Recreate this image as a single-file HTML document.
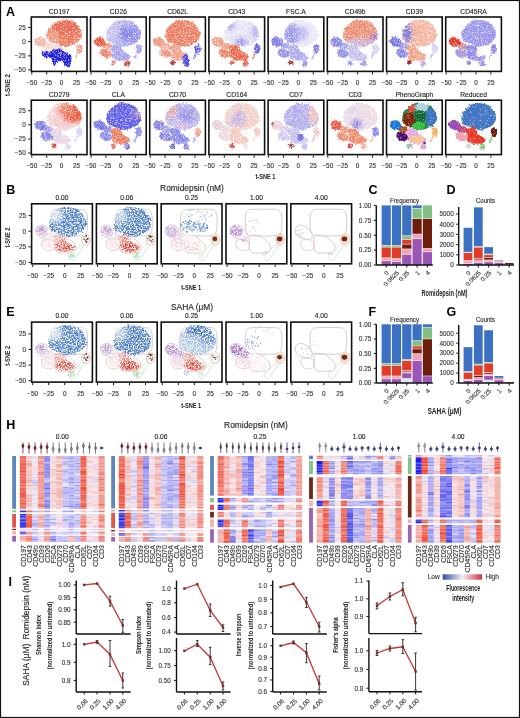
<!DOCTYPE html>
<html><head><meta charset="utf-8"><style>
html,body{margin:0;padding:0;background:#fff;}
svg{display:block;filter:blur(0.3px);}
text{font-family:"Liberation Sans",sans-serif;}
</style></head><body>
<svg width="520" height="718" viewBox="0 0 520 718">
<rect x="0" y="0" width="520" height="718" fill="#fff"/>
<defs>
<filter id="tx" x="-3%" y="-3%" width="106%" height="106%" color-interpolation-filters="sRGB">
<feTurbulence type="fractalNoise" baseFrequency="0.5" numOctaves="2" seed="2" result="t"/>
<feDisplacementMap in="SourceGraphic" in2="t" scale="3.5" xChannelSelector="R" yChannelSelector="G" result="d"/>
<feTurbulence type="fractalNoise" baseFrequency="1.6" numOctaves="1" seed="5" result="n"/>
<feColorMatrix in="n" type="matrix" values="0 0 0 0 1  0 0 0 0 1  0 0 0 0 1  3 0 0 0 -1.45" result="w"/>
<feComposite in="w" in2="d" operator="in" result="w2"/>
<feMerge><feMergeNode in="d"/><feMergeNode in="w2"/></feMerge>
</filter>
<filter id="tx2" x="-3%" y="-3%" width="106%" height="106%" color-interpolation-filters="sRGB">
<feTurbulence type="fractalNoise" baseFrequency="0.5" numOctaves="2" seed="2" result="t"/>
<feDisplacementMap in="SourceGraphic" in2="t" scale="3" xChannelSelector="R" yChannelSelector="G" result="d"/>
<feTurbulence type="fractalNoise" baseFrequency="1.6" numOctaves="1" seed="5" result="n"/>
<feColorMatrix in="n" type="matrix" values="0 0 0 0 1  0 0 0 0 1  0 0 0 0 1  3 0 0 0 -1.75" result="w"/>
<feComposite in="w" in2="d" operator="in" result="w2"/>
<feMerge><feMergeNode in="d"/><feMergeNode in="w2"/></feMerge>
</filter>
<filter id="tx3" x="-3%" y="-3%" width="106%" height="106%" color-interpolation-filters="sRGB">
<feTurbulence type="fractalNoise" baseFrequency="0.5" numOctaves="2" seed="3" result="t"/>
<feDisplacementMap in="SourceGraphic" in2="t" scale="3.5" xChannelSelector="R" yChannelSelector="G" result="d"/>
<feTurbulence type="fractalNoise" baseFrequency="0.75" numOctaves="2" seed="9" result="n"/>
<feColorMatrix in="n" type="matrix" values="0 0 0 0 1  0 0 0 0 1  0 0 0 0 1  4.5 0 0 0 -1.9" result="w"/>
<feComposite in="w" in2="d" operator="in" result="w2"/>
<feMerge><feMergeNode in="d"/><feMergeNode in="w2"/></feMerge>
</filter>
<filter id="sb" x="-50%" y="-50%" width="200%" height="200%"><feGaussianBlur stdDeviation="2.2"/></filter>
</defs>
<text x="6" y="15.8" font-size="12.5" text-anchor="start" fill="#000" font-weight="bold">A</text>
<text x="59.15" y="13.6" font-size="6.7" text-anchor="middle" fill="#222" stroke="#222" stroke-width="0.12">CD197</text>
<rect x="31.3" y="17" width="55.7" height="54.4" fill="none" stroke="#111" stroke-width="1.6"/>
<line x1="31.8" y1="72.2" x2="31.8" y2="74.5" stroke="#111" stroke-width="1"/>
<text x="31.8" y="84.8" font-size="6.4" text-anchor="middle" fill="#333" stroke="#333" stroke-width="0.12">−50</text>
<line x1="46.7" y1="72.2" x2="46.7" y2="74.5" stroke="#111" stroke-width="1"/>
<text x="46.7" y="84.8" font-size="6.4" text-anchor="middle" fill="#333" stroke="#333" stroke-width="0.12">−25</text>
<line x1="61.6" y1="72.2" x2="61.6" y2="74.5" stroke="#111" stroke-width="1"/>
<text x="61.6" y="84.8" font-size="6.4" text-anchor="middle" fill="#333" stroke="#333" stroke-width="0.12">0</text>
<line x1="76.5" y1="72.2" x2="76.5" y2="74.5" stroke="#111" stroke-width="1"/>
<text x="76.5" y="84.8" font-size="6.4" text-anchor="middle" fill="#333" stroke="#333" stroke-width="0.12">25</text>
<line x1="28.2" y1="27.5" x2="30.5" y2="27.5" stroke="#111" stroke-width="1"/>
<text x="25.7" y="29.8" font-size="6.4" text-anchor="end" fill="#333" stroke="#333" stroke-width="0.12">25</text>
<line x1="28.2" y1="41.6" x2="30.5" y2="41.6" stroke="#111" stroke-width="1"/>
<text x="25.7" y="43.9" font-size="6.4" text-anchor="end" fill="#333" stroke="#333" stroke-width="0.12">0</text>
<line x1="28.2" y1="55.8" x2="30.5" y2="55.8" stroke="#111" stroke-width="1"/>
<text x="25.7" y="58.1" font-size="6.4" text-anchor="end" fill="#333" stroke="#333" stroke-width="0.12">−25</text>
<line x1="28.2" y1="69.8" x2="30.5" y2="69.8" stroke="#111" stroke-width="1"/>
<text x="25.7" y="72.1" font-size="6.4" text-anchor="end" fill="#333" stroke="#333" stroke-width="0.12">−50</text>
<text x="118.35" y="13.6" font-size="6.7" text-anchor="middle" fill="#222" stroke="#222" stroke-width="0.12">CD26</text>
<rect x="90.5" y="17" width="55.7" height="54.4" fill="none" stroke="#111" stroke-width="1.6"/>
<line x1="91" y1="72.2" x2="91" y2="74.5" stroke="#111" stroke-width="1"/>
<text x="91" y="84.8" font-size="6.4" text-anchor="middle" fill="#333" stroke="#333" stroke-width="0.12">−50</text>
<line x1="105.9" y1="72.2" x2="105.9" y2="74.5" stroke="#111" stroke-width="1"/>
<text x="105.9" y="84.8" font-size="6.4" text-anchor="middle" fill="#333" stroke="#333" stroke-width="0.12">−25</text>
<line x1="120.8" y1="72.2" x2="120.8" y2="74.5" stroke="#111" stroke-width="1"/>
<text x="120.8" y="84.8" font-size="6.4" text-anchor="middle" fill="#333" stroke="#333" stroke-width="0.12">0</text>
<line x1="135.7" y1="72.2" x2="135.7" y2="74.5" stroke="#111" stroke-width="1"/>
<text x="135.7" y="84.8" font-size="6.4" text-anchor="middle" fill="#333" stroke="#333" stroke-width="0.12">25</text>
<text x="177.55" y="13.6" font-size="6.7" text-anchor="middle" fill="#222" stroke="#222" stroke-width="0.12">CD62L</text>
<rect x="149.7" y="17" width="55.7" height="54.4" fill="none" stroke="#111" stroke-width="1.6"/>
<line x1="150.2" y1="72.2" x2="150.2" y2="74.5" stroke="#111" stroke-width="1"/>
<text x="150.2" y="84.8" font-size="6.4" text-anchor="middle" fill="#333" stroke="#333" stroke-width="0.12">−50</text>
<line x1="165.1" y1="72.2" x2="165.1" y2="74.5" stroke="#111" stroke-width="1"/>
<text x="165.1" y="84.8" font-size="6.4" text-anchor="middle" fill="#333" stroke="#333" stroke-width="0.12">−25</text>
<line x1="180" y1="72.2" x2="180" y2="74.5" stroke="#111" stroke-width="1"/>
<text x="180" y="84.8" font-size="6.4" text-anchor="middle" fill="#333" stroke="#333" stroke-width="0.12">0</text>
<line x1="194.9" y1="72.2" x2="194.9" y2="74.5" stroke="#111" stroke-width="1"/>
<text x="194.9" y="84.8" font-size="6.4" text-anchor="middle" fill="#333" stroke="#333" stroke-width="0.12">25</text>
<text x="236.75" y="13.6" font-size="6.7" text-anchor="middle" fill="#222" stroke="#222" stroke-width="0.12">CD43</text>
<rect x="208.9" y="17" width="55.7" height="54.4" fill="none" stroke="#111" stroke-width="1.6"/>
<line x1="209.4" y1="72.2" x2="209.4" y2="74.5" stroke="#111" stroke-width="1"/>
<text x="209.4" y="84.8" font-size="6.4" text-anchor="middle" fill="#333" stroke="#333" stroke-width="0.12">−50</text>
<line x1="224.3" y1="72.2" x2="224.3" y2="74.5" stroke="#111" stroke-width="1"/>
<text x="224.3" y="84.8" font-size="6.4" text-anchor="middle" fill="#333" stroke="#333" stroke-width="0.12">−25</text>
<line x1="239.2" y1="72.2" x2="239.2" y2="74.5" stroke="#111" stroke-width="1"/>
<text x="239.2" y="84.8" font-size="6.4" text-anchor="middle" fill="#333" stroke="#333" stroke-width="0.12">0</text>
<line x1="254.1" y1="72.2" x2="254.1" y2="74.5" stroke="#111" stroke-width="1"/>
<text x="254.1" y="84.8" font-size="6.4" text-anchor="middle" fill="#333" stroke="#333" stroke-width="0.12">25</text>
<text x="295.95" y="13.6" font-size="6.7" text-anchor="middle" fill="#222" stroke="#222" stroke-width="0.12">FSC.A</text>
<rect x="268.1" y="17" width="55.7" height="54.4" fill="none" stroke="#111" stroke-width="1.6"/>
<line x1="268.6" y1="72.2" x2="268.6" y2="74.5" stroke="#111" stroke-width="1"/>
<text x="268.6" y="84.8" font-size="6.4" text-anchor="middle" fill="#333" stroke="#333" stroke-width="0.12">−50</text>
<line x1="283.5" y1="72.2" x2="283.5" y2="74.5" stroke="#111" stroke-width="1"/>
<text x="283.5" y="84.8" font-size="6.4" text-anchor="middle" fill="#333" stroke="#333" stroke-width="0.12">−25</text>
<line x1="298.4" y1="72.2" x2="298.4" y2="74.5" stroke="#111" stroke-width="1"/>
<text x="298.4" y="84.8" font-size="6.4" text-anchor="middle" fill="#333" stroke="#333" stroke-width="0.12">0</text>
<line x1="313.3" y1="72.2" x2="313.3" y2="74.5" stroke="#111" stroke-width="1"/>
<text x="313.3" y="84.8" font-size="6.4" text-anchor="middle" fill="#333" stroke="#333" stroke-width="0.12">25</text>
<text x="355.15" y="13.6" font-size="6.7" text-anchor="middle" fill="#222" stroke="#222" stroke-width="0.12">CD49b</text>
<rect x="327.3" y="17" width="55.7" height="54.4" fill="none" stroke="#111" stroke-width="1.6"/>
<line x1="327.8" y1="72.2" x2="327.8" y2="74.5" stroke="#111" stroke-width="1"/>
<text x="327.8" y="84.8" font-size="6.4" text-anchor="middle" fill="#333" stroke="#333" stroke-width="0.12">−50</text>
<line x1="342.7" y1="72.2" x2="342.7" y2="74.5" stroke="#111" stroke-width="1"/>
<text x="342.7" y="84.8" font-size="6.4" text-anchor="middle" fill="#333" stroke="#333" stroke-width="0.12">−25</text>
<line x1="357.6" y1="72.2" x2="357.6" y2="74.5" stroke="#111" stroke-width="1"/>
<text x="357.6" y="84.8" font-size="6.4" text-anchor="middle" fill="#333" stroke="#333" stroke-width="0.12">0</text>
<line x1="372.5" y1="72.2" x2="372.5" y2="74.5" stroke="#111" stroke-width="1"/>
<text x="372.5" y="84.8" font-size="6.4" text-anchor="middle" fill="#333" stroke="#333" stroke-width="0.12">25</text>
<text x="414.35" y="13.6" font-size="6.7" text-anchor="middle" fill="#222" stroke="#222" stroke-width="0.12">CD39</text>
<rect x="386.5" y="17" width="55.7" height="54.4" fill="none" stroke="#111" stroke-width="1.6"/>
<line x1="387" y1="72.2" x2="387" y2="74.5" stroke="#111" stroke-width="1"/>
<text x="387" y="84.8" font-size="6.4" text-anchor="middle" fill="#333" stroke="#333" stroke-width="0.12">−50</text>
<line x1="401.9" y1="72.2" x2="401.9" y2="74.5" stroke="#111" stroke-width="1"/>
<text x="401.9" y="84.8" font-size="6.4" text-anchor="middle" fill="#333" stroke="#333" stroke-width="0.12">−25</text>
<line x1="416.8" y1="72.2" x2="416.8" y2="74.5" stroke="#111" stroke-width="1"/>
<text x="416.8" y="84.8" font-size="6.4" text-anchor="middle" fill="#333" stroke="#333" stroke-width="0.12">0</text>
<line x1="431.7" y1="72.2" x2="431.7" y2="74.5" stroke="#111" stroke-width="1"/>
<text x="431.7" y="84.8" font-size="6.4" text-anchor="middle" fill="#333" stroke="#333" stroke-width="0.12">25</text>
<text x="473.55" y="13.6" font-size="6.7" text-anchor="middle" fill="#222" stroke="#222" stroke-width="0.12">CD45RA</text>
<rect x="445.7" y="17" width="55.7" height="54.4" fill="none" stroke="#111" stroke-width="1.6"/>
<line x1="446.2" y1="72.2" x2="446.2" y2="74.5" stroke="#111" stroke-width="1"/>
<text x="446.2" y="84.8" font-size="6.4" text-anchor="middle" fill="#333" stroke="#333" stroke-width="0.12">−50</text>
<line x1="461.1" y1="72.2" x2="461.1" y2="74.5" stroke="#111" stroke-width="1"/>
<text x="461.1" y="84.8" font-size="6.4" text-anchor="middle" fill="#333" stroke="#333" stroke-width="0.12">−25</text>
<line x1="476" y1="72.2" x2="476" y2="74.5" stroke="#111" stroke-width="1"/>
<text x="476" y="84.8" font-size="6.4" text-anchor="middle" fill="#333" stroke="#333" stroke-width="0.12">0</text>
<line x1="490.9" y1="72.2" x2="490.9" y2="74.5" stroke="#111" stroke-width="1"/>
<text x="490.9" y="84.8" font-size="6.4" text-anchor="middle" fill="#333" stroke="#333" stroke-width="0.12">25</text>
<text x="59.15" y="96.8" font-size="6.7" text-anchor="middle" fill="#222" stroke="#222" stroke-width="0.12">CD279</text>
<rect x="31.3" y="100.2" width="55.7" height="54.4" fill="none" stroke="#111" stroke-width="1.6"/>
<line x1="31.8" y1="155.4" x2="31.8" y2="157.7" stroke="#111" stroke-width="1"/>
<text x="31.8" y="168" font-size="6.4" text-anchor="middle" fill="#333" stroke="#333" stroke-width="0.12">−50</text>
<line x1="46.7" y1="155.4" x2="46.7" y2="157.7" stroke="#111" stroke-width="1"/>
<text x="46.7" y="168" font-size="6.4" text-anchor="middle" fill="#333" stroke="#333" stroke-width="0.12">−25</text>
<line x1="61.6" y1="155.4" x2="61.6" y2="157.7" stroke="#111" stroke-width="1"/>
<text x="61.6" y="168" font-size="6.4" text-anchor="middle" fill="#333" stroke="#333" stroke-width="0.12">0</text>
<line x1="76.5" y1="155.4" x2="76.5" y2="157.7" stroke="#111" stroke-width="1"/>
<text x="76.5" y="168" font-size="6.4" text-anchor="middle" fill="#333" stroke="#333" stroke-width="0.12">25</text>
<line x1="28.2" y1="110.7" x2="30.5" y2="110.7" stroke="#111" stroke-width="1"/>
<text x="25.7" y="113" font-size="6.4" text-anchor="end" fill="#333" stroke="#333" stroke-width="0.12">25</text>
<line x1="28.2" y1="124.8" x2="30.5" y2="124.8" stroke="#111" stroke-width="1"/>
<text x="25.7" y="127.1" font-size="6.4" text-anchor="end" fill="#333" stroke="#333" stroke-width="0.12">0</text>
<line x1="28.2" y1="139" x2="30.5" y2="139" stroke="#111" stroke-width="1"/>
<text x="25.7" y="141.3" font-size="6.4" text-anchor="end" fill="#333" stroke="#333" stroke-width="0.12">−25</text>
<line x1="28.2" y1="153" x2="30.5" y2="153" stroke="#111" stroke-width="1"/>
<text x="25.7" y="155.3" font-size="6.4" text-anchor="end" fill="#333" stroke="#333" stroke-width="0.12">−50</text>
<text x="118.35" y="96.8" font-size="6.7" text-anchor="middle" fill="#222" stroke="#222" stroke-width="0.12">CLA</text>
<rect x="90.5" y="100.2" width="55.7" height="54.4" fill="none" stroke="#111" stroke-width="1.6"/>
<line x1="91" y1="155.4" x2="91" y2="157.7" stroke="#111" stroke-width="1"/>
<text x="91" y="168" font-size="6.4" text-anchor="middle" fill="#333" stroke="#333" stroke-width="0.12">−50</text>
<line x1="105.9" y1="155.4" x2="105.9" y2="157.7" stroke="#111" stroke-width="1"/>
<text x="105.9" y="168" font-size="6.4" text-anchor="middle" fill="#333" stroke="#333" stroke-width="0.12">−25</text>
<line x1="120.8" y1="155.4" x2="120.8" y2="157.7" stroke="#111" stroke-width="1"/>
<text x="120.8" y="168" font-size="6.4" text-anchor="middle" fill="#333" stroke="#333" stroke-width="0.12">0</text>
<line x1="135.7" y1="155.4" x2="135.7" y2="157.7" stroke="#111" stroke-width="1"/>
<text x="135.7" y="168" font-size="6.4" text-anchor="middle" fill="#333" stroke="#333" stroke-width="0.12">25</text>
<text x="177.55" y="96.8" font-size="6.7" text-anchor="middle" fill="#222" stroke="#222" stroke-width="0.12">CD70</text>
<rect x="149.7" y="100.2" width="55.7" height="54.4" fill="none" stroke="#111" stroke-width="1.6"/>
<line x1="150.2" y1="155.4" x2="150.2" y2="157.7" stroke="#111" stroke-width="1"/>
<text x="150.2" y="168" font-size="6.4" text-anchor="middle" fill="#333" stroke="#333" stroke-width="0.12">−50</text>
<line x1="165.1" y1="155.4" x2="165.1" y2="157.7" stroke="#111" stroke-width="1"/>
<text x="165.1" y="168" font-size="6.4" text-anchor="middle" fill="#333" stroke="#333" stroke-width="0.12">−25</text>
<line x1="180" y1="155.4" x2="180" y2="157.7" stroke="#111" stroke-width="1"/>
<text x="180" y="168" font-size="6.4" text-anchor="middle" fill="#333" stroke="#333" stroke-width="0.12">0</text>
<line x1="194.9" y1="155.4" x2="194.9" y2="157.7" stroke="#111" stroke-width="1"/>
<text x="194.9" y="168" font-size="6.4" text-anchor="middle" fill="#333" stroke="#333" stroke-width="0.12">25</text>
<text x="236.75" y="96.8" font-size="6.7" text-anchor="middle" fill="#222" stroke="#222" stroke-width="0.12">CD164</text>
<rect x="208.9" y="100.2" width="55.7" height="54.4" fill="none" stroke="#111" stroke-width="1.6"/>
<line x1="209.4" y1="155.4" x2="209.4" y2="157.7" stroke="#111" stroke-width="1"/>
<text x="209.4" y="168" font-size="6.4" text-anchor="middle" fill="#333" stroke="#333" stroke-width="0.12">−50</text>
<line x1="224.3" y1="155.4" x2="224.3" y2="157.7" stroke="#111" stroke-width="1"/>
<text x="224.3" y="168" font-size="6.4" text-anchor="middle" fill="#333" stroke="#333" stroke-width="0.12">−25</text>
<line x1="239.2" y1="155.4" x2="239.2" y2="157.7" stroke="#111" stroke-width="1"/>
<text x="239.2" y="168" font-size="6.4" text-anchor="middle" fill="#333" stroke="#333" stroke-width="0.12">0</text>
<line x1="254.1" y1="155.4" x2="254.1" y2="157.7" stroke="#111" stroke-width="1"/>
<text x="254.1" y="168" font-size="6.4" text-anchor="middle" fill="#333" stroke="#333" stroke-width="0.12">25</text>
<text x="295.95" y="96.8" font-size="6.7" text-anchor="middle" fill="#222" stroke="#222" stroke-width="0.12">CD7</text>
<rect x="268.1" y="100.2" width="55.7" height="54.4" fill="none" stroke="#111" stroke-width="1.6"/>
<line x1="268.6" y1="155.4" x2="268.6" y2="157.7" stroke="#111" stroke-width="1"/>
<text x="268.6" y="168" font-size="6.4" text-anchor="middle" fill="#333" stroke="#333" stroke-width="0.12">−50</text>
<line x1="283.5" y1="155.4" x2="283.5" y2="157.7" stroke="#111" stroke-width="1"/>
<text x="283.5" y="168" font-size="6.4" text-anchor="middle" fill="#333" stroke="#333" stroke-width="0.12">−25</text>
<line x1="298.4" y1="155.4" x2="298.4" y2="157.7" stroke="#111" stroke-width="1"/>
<text x="298.4" y="168" font-size="6.4" text-anchor="middle" fill="#333" stroke="#333" stroke-width="0.12">0</text>
<line x1="313.3" y1="155.4" x2="313.3" y2="157.7" stroke="#111" stroke-width="1"/>
<text x="313.3" y="168" font-size="6.4" text-anchor="middle" fill="#333" stroke="#333" stroke-width="0.12">25</text>
<text x="355.15" y="96.8" font-size="6.7" text-anchor="middle" fill="#222" stroke="#222" stroke-width="0.12">CD3</text>
<rect x="327.3" y="100.2" width="55.7" height="54.4" fill="none" stroke="#111" stroke-width="1.6"/>
<line x1="327.8" y1="155.4" x2="327.8" y2="157.7" stroke="#111" stroke-width="1"/>
<text x="327.8" y="168" font-size="6.4" text-anchor="middle" fill="#333" stroke="#333" stroke-width="0.12">−50</text>
<line x1="342.7" y1="155.4" x2="342.7" y2="157.7" stroke="#111" stroke-width="1"/>
<text x="342.7" y="168" font-size="6.4" text-anchor="middle" fill="#333" stroke="#333" stroke-width="0.12">−25</text>
<line x1="357.6" y1="155.4" x2="357.6" y2="157.7" stroke="#111" stroke-width="1"/>
<text x="357.6" y="168" font-size="6.4" text-anchor="middle" fill="#333" stroke="#333" stroke-width="0.12">0</text>
<line x1="372.5" y1="155.4" x2="372.5" y2="157.7" stroke="#111" stroke-width="1"/>
<text x="372.5" y="168" font-size="6.4" text-anchor="middle" fill="#333" stroke="#333" stroke-width="0.12">25</text>
<text x="414.35" y="96.8" font-size="6.7" text-anchor="middle" fill="#222" stroke="#222" stroke-width="0.12">PhenoGraph</text>
<rect x="386.5" y="100.2" width="55.7" height="54.4" fill="none" stroke="#111" stroke-width="1.6"/>
<line x1="387" y1="155.4" x2="387" y2="157.7" stroke="#111" stroke-width="1"/>
<text x="387" y="168" font-size="6.4" text-anchor="middle" fill="#333" stroke="#333" stroke-width="0.12">−50</text>
<line x1="401.9" y1="155.4" x2="401.9" y2="157.7" stroke="#111" stroke-width="1"/>
<text x="401.9" y="168" font-size="6.4" text-anchor="middle" fill="#333" stroke="#333" stroke-width="0.12">−25</text>
<line x1="416.8" y1="155.4" x2="416.8" y2="157.7" stroke="#111" stroke-width="1"/>
<text x="416.8" y="168" font-size="6.4" text-anchor="middle" fill="#333" stroke="#333" stroke-width="0.12">0</text>
<line x1="431.7" y1="155.4" x2="431.7" y2="157.7" stroke="#111" stroke-width="1"/>
<text x="431.7" y="168" font-size="6.4" text-anchor="middle" fill="#333" stroke="#333" stroke-width="0.12">25</text>
<text x="473.55" y="96.8" font-size="6.7" text-anchor="middle" fill="#222" stroke="#222" stroke-width="0.12">Reduced</text>
<rect x="445.7" y="100.2" width="55.7" height="54.4" fill="none" stroke="#111" stroke-width="1.6"/>
<line x1="446.2" y1="155.4" x2="446.2" y2="157.7" stroke="#111" stroke-width="1"/>
<text x="446.2" y="168" font-size="6.4" text-anchor="middle" fill="#333" stroke="#333" stroke-width="0.12">−50</text>
<line x1="461.1" y1="155.4" x2="461.1" y2="157.7" stroke="#111" stroke-width="1"/>
<text x="461.1" y="168" font-size="6.4" text-anchor="middle" fill="#333" stroke="#333" stroke-width="0.12">−25</text>
<line x1="476" y1="155.4" x2="476" y2="157.7" stroke="#111" stroke-width="1"/>
<text x="476" y="168" font-size="6.4" text-anchor="middle" fill="#333" stroke="#333" stroke-width="0.12">0</text>
<line x1="490.9" y1="155.4" x2="490.9" y2="157.7" stroke="#111" stroke-width="1"/>
<text x="490.9" y="168" font-size="6.4" text-anchor="middle" fill="#333" stroke="#333" stroke-width="0.12">25</text>
<text x="10" y="85" font-size="7.4" text-anchor="middle" fill="#222" font-weight="bold" transform="rotate(-90 10 85)" textLength="22" lengthAdjust="spacingAndGlyphs">t-SNE 2</text>
<text x="265.5" y="178.8" font-size="7.4" text-anchor="middle" fill="#222" font-weight="bold" textLength="20" lengthAdjust="spacingAndGlyphs">t-SNE 1</text>
<clipPath id="cl179_1_30_16"><path d="M63.3,19.8C65.88,19.9 70.22,20.42 72.8,21.6C75.38,22.78 77.3,24.82 78.8,26.9C80.3,28.98 81.6,31.92 81.8,34.1C82,36.28 81.1,38.42 80,40C78.9,41.58 77.18,42.5 75.2,43.6C73.22,44.7 70.48,46.2 68.1,46.6C65.72,47 63.1,46.5 60.9,46C58.7,45.5 56.68,44.3 54.9,43.6C53.12,42.9 51.48,42.78 50.2,41.8C48.92,40.82 47.6,39.58 47.2,37.7C46.8,35.82 47.1,32.5 47.8,30.5C48.5,28.5 49.82,27.28 51.4,25.7C52.98,24.12 55.32,21.98 57.3,21C59.28,20.02 60.72,19.7 63.3,19.8Z"/></clipPath>
<g filter="url(#tx)"><path d="M63.3,19.8C65.88,19.9 70.22,20.42 72.8,21.6C75.38,22.78 77.3,24.82 78.8,26.9C80.3,28.98 81.6,31.92 81.8,34.1C82,36.28 81.1,38.42 80,40C78.9,41.58 77.18,42.5 75.2,43.6C73.22,44.7 70.48,46.2 68.1,46.6C65.72,47 63.1,46.5 60.9,46C58.7,45.5 56.68,44.3 54.9,43.6C53.12,42.9 51.48,42.78 50.2,41.8C48.92,40.82 47.6,39.58 47.2,37.7C46.8,35.82 47.1,32.5 47.8,30.5C48.5,28.5 49.82,27.28 51.4,25.7C52.98,24.12 55.32,21.98 57.3,21C59.28,20.02 60.72,19.7 63.3,19.8Z" fill="#f07e62"/><g clip-path="url(#cl179_1_30_16)"><g filter="url(#sb)"><ellipse cx="66.5" cy="26.2" rx="14" ry="8" fill="#ec5a3e" opacity="0.7"/><ellipse cx="52.5" cy="38.2" rx="6" ry="6" fill="#f4a890" opacity="0.7"/></g></g><path d="M44,43.7C44.67,42.95 46.25,42.7 47.5,42.7C48.75,42.7 50.58,43.03 51.5,43.7C52.42,44.37 53.08,45.78 53,46.7C52.92,47.62 52.08,48.78 51,49.2C49.92,49.62 47.75,49.53 46.5,49.2C45.25,48.87 43.92,48.12 43.5,47.2C43.08,46.28 43.33,44.45 44,43.7Z" fill="#f8d4cc"/><path d="M35.5,38.5C36.33,37.8 38.17,37.05 39.5,37C40.83,36.95 42.42,37.53 43.5,38.2C44.58,38.87 45.67,39.92 46,41C46.33,42.08 46.08,43.75 45.5,44.7C44.92,45.65 43.67,46.45 42.5,46.7C41.33,46.95 39.67,46.62 38.5,46.2C37.33,45.78 36.17,45.03 35.5,44.2C34.83,43.37 34.5,42.15 34.5,41.2C34.5,40.25 34.67,39.2 35.5,38.5Z" fill="#f5b4a4"/><path d="M41.5,49.7C42.17,48.87 44.08,49.12 45.5,49.2C46.92,49.28 48.83,49.62 50,50.2C51.17,50.78 52.17,51.7 52.5,52.7C52.83,53.7 52.67,55.37 52,56.2C51.33,57.03 49.83,57.62 48.5,57.7C47.17,57.78 45.17,57.28 44,56.7C42.83,56.12 41.92,55.37 41.5,54.2C41.08,53.03 40.83,50.53 41.5,49.7Z" fill="#f6dcd8"/><path d="M52,46C52.98,45.35 55.62,44.9 57.3,45.1C58.98,45.3 61.1,46.25 62.1,47.2C63.1,48.15 62.3,49.7 63.3,50.8C64.3,51.9 66.82,52.9 68.1,53.8C69.38,54.7 70.8,55.22 71,56.2C71.2,57.18 70.58,58.97 69.3,59.7C68.02,60.43 65.5,60.6 63.3,60.6C61.1,60.6 57.88,60.35 56.1,59.7C54.32,59.05 53.08,57.98 52.6,56.7C52.12,55.42 53.4,53.28 53.2,52C53,50.72 51.6,50 51.4,49C51.2,48 51.02,46.65 52,46Z" fill="#f6d6d0"/><path d="M79.4,44C80.15,44.15 81.45,44.83 82,45.7C82.55,46.57 82.82,48.02 82.7,49.2C82.58,50.38 81.92,52.1 81.3,52.8C80.68,53.5 79.73,53.67 79,53.4C78.27,53.13 77.32,52.23 76.9,51.2C76.48,50.17 76.4,48.27 76.5,47.2C76.6,46.13 77.02,45.33 77.5,44.8C77.98,44.27 78.65,43.85 79.4,44Z" fill="#f29c84"/><path d="M77,52.7C77.58,51.87 78.17,52.7 78,53.7C77.83,54.7 76.58,57.87 76,58.7C75.42,59.53 74.33,59.7 74.5,58.7C74.67,57.7 76.42,53.53 77,52.7Z" fill="#f4c0b0"/><path d="M67.8,60.4C68.67,60.23 69.82,60.98 70.3,61.7C70.78,62.42 71,63.92 70.7,64.7C70.4,65.48 69.32,66.23 68.5,66.4C67.68,66.57 66.37,66.32 65.8,65.7C65.23,65.08 64.77,63.58 65.1,62.7C65.43,61.82 66.93,60.57 67.8,60.4Z" fill="#1a1ae2"/><path d="M54.3,60.4C55.03,60.4 56.13,61.1 56.5,61.7C56.87,62.3 56.87,63.42 56.5,64C56.13,64.58 55.03,65.2 54.3,65.2C53.57,65.2 52.47,64.58 52.1,64C51.73,63.42 51.73,62.3 52.1,61.7C52.47,61.1 53.57,60.4 54.3,60.4Z" fill="#1a1ae2"/><path d="M52.5,49.7C53.67,49.03 56,48.2 57.5,48.2C59,48.2 60.17,49.03 61.5,49.7C62.83,50.37 64,51.37 65.5,52.2C67,53.03 69.5,53.7 70.5,54.7C71.5,55.7 71.5,56.95 71.5,58.2C71.5,59.45 71.08,60.95 70.5,62.2C69.92,63.45 69,65.2 68,65.7C67,66.2 65.33,65.87 64.5,65.2C63.67,64.53 64.17,62.28 63,61.7C61.83,61.12 58.75,61.2 57.5,61.7C56.25,62.2 56.33,64.37 55.5,64.7C54.67,65.03 53.08,64.7 52.5,63.7C51.92,62.7 52.5,59.7 52,58.7C51.5,57.7 50.75,57.95 49.5,57.7C48.25,57.45 45.75,57.7 44.5,57.2C43.25,56.7 42.33,55.62 42,54.7C41.67,53.78 41.75,52.28 42.5,51.7C43.25,51.12 45.17,51.12 46.5,51.2C47.83,51.28 49.5,52.45 50.5,52.2C51.5,51.95 51.33,50.37 52.5,49.7Z" fill="#1a1ae2"/></g>
<clipPath id="cl181_1_89_16"><path d="M122.5,19.8C125.08,19.9 129.42,20.42 132,21.6C134.58,22.78 136.5,24.82 138,26.9C139.5,28.98 140.8,31.92 141,34.1C141.2,36.28 140.3,38.42 139.2,40C138.1,41.58 136.38,42.5 134.4,43.6C132.42,44.7 129.68,46.2 127.3,46.6C124.92,47 122.3,46.5 120.1,46C117.9,45.5 115.88,44.3 114.1,43.6C112.32,42.9 110.68,42.78 109.4,41.8C108.12,40.82 106.8,39.58 106.4,37.7C106,35.82 106.3,32.5 107,30.5C107.7,28.5 109.02,27.28 110.6,25.7C112.18,24.12 114.52,21.98 116.5,21C118.48,20.02 119.92,19.7 122.5,19.8Z"/></clipPath>
<g filter="url(#tx)"><path d="M122.5,19.8C125.08,19.9 129.42,20.42 132,21.6C134.58,22.78 136.5,24.82 138,26.9C139.5,28.98 140.8,31.92 141,34.1C141.2,36.28 140.3,38.42 139.2,40C138.1,41.58 136.38,42.5 134.4,43.6C132.42,44.7 129.68,46.2 127.3,46.6C124.92,47 122.3,46.5 120.1,46C117.9,45.5 115.88,44.3 114.1,43.6C112.32,42.9 110.68,42.78 109.4,41.8C108.12,40.82 106.8,39.58 106.4,37.7C106,35.82 106.3,32.5 107,30.5C107.7,28.5 109.02,27.28 110.6,25.7C112.18,24.12 114.52,21.98 116.5,21C118.48,20.02 119.92,19.7 122.5,19.8Z" fill="#b2aef2"/><g clip-path="url(#cl181_1_89_16)"><g filter="url(#sb)"><ellipse cx="124.2" cy="33.7" rx="6.5" ry="7.5" fill="#6e6cec" opacity="0.7"/><ellipse cx="135.2" cy="33.7" rx="6.5" ry="9.5" fill="#7c7aec" opacity="0.6"/><ellipse cx="113.2" cy="32.2" rx="7.5" ry="10" fill="#d0caf6" opacity="0.6"/></g></g><path d="M103.2,43.7C103.87,42.95 105.45,42.7 106.7,42.7C107.95,42.7 109.78,43.03 110.7,43.7C111.62,44.37 112.28,45.78 112.2,46.7C112.12,47.62 111.28,48.78 110.2,49.2C109.12,49.62 106.95,49.53 105.7,49.2C104.45,48.87 103.12,48.12 102.7,47.2C102.28,46.28 102.53,44.45 103.2,43.7Z" fill="#f29c84"/><path d="M94.7,38.5C95.53,37.8 97.37,37.05 98.7,37C100.03,36.95 101.62,37.53 102.7,38.2C103.78,38.87 104.87,39.92 105.2,41C105.53,42.08 105.28,43.75 104.7,44.7C104.12,45.65 102.87,46.45 101.7,46.7C100.53,46.95 98.87,46.62 97.7,46.2C96.53,45.78 95.37,45.03 94.7,44.2C94.03,43.37 93.7,42.15 93.7,41.2C93.7,40.25 93.87,39.2 94.7,38.5Z" fill="#f0583a"/><path d="M100.7,49.7C101.37,48.87 103.28,49.12 104.7,49.2C106.12,49.28 108.03,49.62 109.2,50.2C110.37,50.78 111.37,51.7 111.7,52.7C112.03,53.7 111.87,55.37 111.2,56.2C110.53,57.03 109.03,57.62 107.7,57.7C106.37,57.78 104.37,57.28 103.2,56.7C102.03,56.12 101.12,55.37 100.7,54.2C100.28,53.03 100.03,50.53 100.7,49.7Z" fill="#f08068"/><path d="M111.2,46C112.18,45.35 114.82,44.9 116.5,45.1C118.18,45.3 120.3,46.25 121.3,47.2C122.3,48.15 121.5,49.7 122.5,50.8C123.5,51.9 126.02,52.9 127.3,53.8C128.58,54.7 130,55.22 130.2,56.2C130.4,57.18 129.78,58.97 128.5,59.7C127.22,60.43 124.7,60.6 122.5,60.6C120.3,60.6 117.08,60.35 115.3,59.7C113.52,59.05 112.28,57.98 111.8,56.7C111.32,55.42 112.6,53.28 112.4,52C112.2,50.72 110.8,50 110.6,49C110.4,48 110.22,46.65 111.2,46Z" fill="#a4a0f0"/><path d="M138.6,44C139.35,44.15 140.65,44.83 141.2,45.7C141.75,46.57 142.02,48.02 141.9,49.2C141.78,50.38 141.12,52.1 140.5,52.8C139.88,53.5 138.93,53.67 138.2,53.4C137.47,53.13 136.52,52.23 136.1,51.2C135.68,50.17 135.6,48.27 135.7,47.2C135.8,46.13 136.22,45.33 136.7,44.8C137.18,44.27 137.85,43.85 138.6,44Z" fill="#a8a4f0"/><path d="M136.2,52.7C136.78,51.87 137.37,52.7 137.2,53.7C137.03,54.7 135.78,57.87 135.2,58.7C134.62,59.53 133.53,59.7 133.7,58.7C133.87,57.7 135.62,53.53 136.2,52.7Z" fill="#b0acf0"/><path d="M127,60.4C127.87,60.23 129.02,60.98 129.5,61.7C129.98,62.42 130.2,63.92 129.9,64.7C129.6,65.48 128.52,66.23 127.7,66.4C126.88,66.57 125.57,66.32 125,65.7C124.43,65.08 123.97,63.58 124.3,62.7C124.63,61.82 126.13,60.57 127,60.4Z" fill="#c84434"/><path d="M113.5,60.4C114.23,60.4 115.33,61.1 115.7,61.7C116.07,62.3 116.07,63.42 115.7,64C115.33,64.58 114.23,65.2 113.5,65.2C112.77,65.2 111.67,64.58 111.3,64C110.93,63.42 110.93,62.3 111.3,61.7C111.67,61.1 112.77,60.4 113.5,60.4Z" fill="#e2765a"/></g>
<g filter="url(#tx)"><path d="M181.7,19.8C184.28,19.9 188.62,20.42 191.2,21.6C193.78,22.78 195.7,24.82 197.2,26.9C198.7,28.98 200,31.92 200.2,34.1C200.4,36.28 199.5,38.42 198.4,40C197.3,41.58 195.58,42.5 193.6,43.6C191.62,44.7 188.88,46.2 186.5,46.6C184.12,47 181.5,46.5 179.3,46C177.1,45.5 175.08,44.3 173.3,43.6C171.52,42.9 169.88,42.78 168.6,41.8C167.32,40.82 166,39.58 165.6,37.7C165.2,35.82 165.5,32.5 166.2,30.5C166.9,28.5 168.22,27.28 169.8,25.7C171.38,24.12 173.72,21.98 175.7,21C177.68,20.02 179.12,19.7 181.7,19.8Z" fill="#f07e62"/><path d="M162.4,43.7C163.07,42.95 164.65,42.7 165.9,42.7C167.15,42.7 168.98,43.03 169.9,43.7C170.82,44.37 171.48,45.78 171.4,46.7C171.32,47.62 170.48,48.78 169.4,49.2C168.32,49.62 166.15,49.53 164.9,49.2C163.65,48.87 162.32,48.12 161.9,47.2C161.48,46.28 161.73,44.45 162.4,43.7Z" fill="#f4b09c"/><path d="M153.9,38.5C154.73,37.8 156.57,37.05 157.9,37C159.23,36.95 160.82,37.53 161.9,38.2C162.98,38.87 164.07,39.92 164.4,41C164.73,42.08 164.48,43.75 163.9,44.7C163.32,45.65 162.07,46.45 160.9,46.7C159.73,46.95 158.07,46.62 156.9,46.2C155.73,45.78 154.57,45.03 153.9,44.2C153.23,43.37 152.9,42.15 152.9,41.2C152.9,40.25 153.07,39.2 153.9,38.5Z" fill="#f2957c"/><path d="M159.9,49.7C160.57,48.87 162.48,49.12 163.9,49.2C165.32,49.28 167.23,49.62 168.4,50.2C169.57,50.78 170.57,51.7 170.9,52.7C171.23,53.7 171.07,55.37 170.4,56.2C169.73,57.03 168.23,57.62 166.9,57.7C165.57,57.78 163.57,57.28 162.4,56.7C161.23,56.12 160.32,55.37 159.9,54.2C159.48,53.03 159.23,50.53 159.9,49.7Z" fill="#f09078"/><path d="M170.4,46C171.38,45.35 174.02,44.9 175.7,45.1C177.38,45.3 179.5,46.25 180.5,47.2C181.5,48.15 180.7,49.7 181.7,50.8C182.7,51.9 185.22,52.9 186.5,53.8C187.78,54.7 189.2,55.22 189.4,56.2C189.6,57.18 188.98,58.97 187.7,59.7C186.42,60.43 183.9,60.6 181.7,60.6C179.5,60.6 176.28,60.35 174.5,59.7C172.72,59.05 171.48,57.98 171,56.7C170.52,55.42 171.8,53.28 171.6,52C171.4,50.72 170,50 169.8,49C169.6,48 169.42,46.65 170.4,46Z" fill="#f2a088"/><path d="M197.8,44C198.55,44.15 199.85,44.83 200.4,45.7C200.95,46.57 201.22,48.02 201.1,49.2C200.98,50.38 200.32,52.1 199.7,52.8C199.08,53.5 198.13,53.67 197.4,53.4C196.67,53.13 195.72,52.23 195.3,51.2C194.88,50.17 194.8,48.27 194.9,47.2C195,46.13 195.42,45.33 195.9,44.8C196.38,44.27 197.05,43.85 197.8,44Z" fill="#5656e6"/><path d="M195.4,52.7C195.98,51.87 196.57,52.7 196.4,53.7C196.23,54.7 194.98,57.87 194.4,58.7C193.82,59.53 192.73,59.7 192.9,58.7C193.07,57.7 194.82,53.53 195.4,52.7Z" fill="#6868e6"/><path d="M186.2,60.4C187.07,60.23 188.22,60.98 188.7,61.7C189.18,62.42 189.4,63.92 189.1,64.7C188.8,65.48 187.72,66.23 186.9,66.4C186.08,66.57 184.77,66.32 184.2,65.7C183.63,65.08 183.17,63.58 183.5,62.7C183.83,61.82 185.33,60.57 186.2,60.4Z" fill="#4444e2"/><path d="M172.7,60.4C173.43,60.4 174.53,61.1 174.9,61.7C175.27,62.3 175.27,63.42 174.9,64C174.53,64.58 173.43,65.2 172.7,65.2C171.97,65.2 170.87,64.58 170.5,64C170.13,63.42 170.13,62.3 170.5,61.7C170.87,61.1 171.97,60.4 172.7,60.4Z" fill="#c03030"/><ellipse cx="185.9" cy="59.2" rx="3.2" ry="5" fill="#4a4ae4"/></g>
<clipPath id="cl184_1_208_16"><path d="M240.9,19.8C243.48,19.9 247.82,20.42 250.4,21.6C252.98,22.78 254.9,24.82 256.4,26.9C257.9,28.98 259.2,31.92 259.4,34.1C259.6,36.28 258.7,38.42 257.6,40C256.5,41.58 254.78,42.5 252.8,43.6C250.82,44.7 248.08,46.2 245.7,46.6C243.32,47 240.7,46.5 238.5,46C236.3,45.5 234.28,44.3 232.5,43.6C230.72,42.9 229.08,42.78 227.8,41.8C226.52,40.82 225.2,39.58 224.8,37.7C224.4,35.82 224.7,32.5 225.4,30.5C226.1,28.5 227.42,27.28 229,25.7C230.58,24.12 232.92,21.98 234.9,21C236.88,20.02 238.32,19.7 240.9,19.8Z"/></clipPath>
<g filter="url(#tx)"><path d="M240.9,19.8C243.48,19.9 247.82,20.42 250.4,21.6C252.98,22.78 254.9,24.82 256.4,26.9C257.9,28.98 259.2,31.92 259.4,34.1C259.6,36.28 258.7,38.42 257.6,40C256.5,41.58 254.78,42.5 252.8,43.6C250.82,44.7 248.08,46.2 245.7,46.6C243.32,47 240.7,46.5 238.5,46C236.3,45.5 234.28,44.3 232.5,43.6C230.72,42.9 229.08,42.78 227.8,41.8C226.52,40.82 225.2,39.58 224.8,37.7C224.4,35.82 224.7,32.5 225.4,30.5C226.1,28.5 227.42,27.28 229,25.7C230.58,24.12 232.92,21.98 234.9,21C236.88,20.02 238.32,19.7 240.9,19.8Z" fill="#e8e4f6"/><g clip-path="url(#cl184_1_208_16)"><g filter="url(#sb)"><ellipse cx="230.1" cy="26.2" rx="5" ry="4" fill="#9490ee" opacity="0.7"/><ellipse cx="241.1" cy="42.2" rx="6.5" ry="4.5" fill="#7c7aec" opacity="0.7"/><ellipse cx="255.1" cy="32.2" rx="4" ry="8" fill="#9c98ee" opacity="0.6"/></g></g><path d="M221.6,43.7C222.27,42.95 223.85,42.7 225.1,42.7C226.35,42.7 228.18,43.03 229.1,43.7C230.02,44.37 230.68,45.78 230.6,46.7C230.52,47.62 229.68,48.78 228.6,49.2C227.52,49.62 225.35,49.53 224.1,49.2C222.85,48.87 221.52,48.12 221.1,47.2C220.68,46.28 220.93,44.45 221.6,43.7Z" fill="#f2a488"/><path d="M213.1,38.5C213.93,37.8 215.77,37.05 217.1,37C218.43,36.95 220.02,37.53 221.1,38.2C222.18,38.87 223.27,39.92 223.6,41C223.93,42.08 223.68,43.75 223.1,44.7C222.52,45.65 221.27,46.45 220.1,46.7C218.93,46.95 217.27,46.62 216.1,46.2C214.93,45.78 213.77,45.03 213.1,44.2C212.43,43.37 212.1,42.15 212.1,41.2C212.1,40.25 212.27,39.2 213.1,38.5Z" fill="#f29a80"/><path d="M219.1,49.7C219.77,48.87 221.68,49.12 223.1,49.2C224.52,49.28 226.43,49.62 227.6,50.2C228.77,50.78 229.77,51.7 230.1,52.7C230.43,53.7 230.27,55.37 229.6,56.2C228.93,57.03 227.43,57.62 226.1,57.7C224.77,57.78 222.77,57.28 221.6,56.7C220.43,56.12 219.52,55.37 219.1,54.2C218.68,53.03 218.43,50.53 219.1,49.7Z" fill="#f07a5c"/><path d="M229.6,46C230.58,45.35 233.22,44.9 234.9,45.1C236.58,45.3 238.7,46.25 239.7,47.2C240.7,48.15 239.9,49.7 240.9,50.8C241.9,51.9 244.42,52.9 245.7,53.8C246.98,54.7 248.4,55.22 248.6,56.2C248.8,57.18 248.18,58.97 246.9,59.7C245.62,60.43 243.1,60.6 240.9,60.6C238.7,60.6 235.48,60.35 233.7,59.7C231.92,59.05 230.68,57.98 230.2,56.7C229.72,55.42 231,53.28 230.8,52C230.6,50.72 229.2,50 229,49C228.8,48 228.62,46.65 229.6,46Z" fill="#ee6444"/><path d="M257,44C257.75,44.15 259.05,44.83 259.6,45.7C260.15,46.57 260.42,48.02 260.3,49.2C260.18,50.38 259.52,52.1 258.9,52.8C258.28,53.5 257.33,53.67 256.6,53.4C255.87,53.13 254.92,52.23 254.5,51.2C254.08,50.17 254,48.27 254.1,47.2C254.2,46.13 254.62,45.33 255.1,44.8C255.58,44.27 256.25,43.85 257,44Z" fill="#6262e8"/><path d="M254.6,52.7C255.18,51.87 255.77,52.7 255.6,53.7C255.43,54.7 254.18,57.87 253.6,58.7C253.02,59.53 251.93,59.7 252.1,58.7C252.27,57.7 254.02,53.53 254.6,52.7Z" fill="#e88070"/><path d="M245.4,60.4C246.27,60.23 247.42,60.98 247.9,61.7C248.38,62.42 248.6,63.92 248.3,64.7C248,65.48 246.92,66.23 246.1,66.4C245.28,66.57 243.97,66.32 243.4,65.7C242.83,65.08 242.37,63.58 242.7,62.7C243.03,61.82 244.53,60.57 245.4,60.4Z" fill="#e06250"/><path d="M231.9,60.4C232.63,60.4 233.73,61.1 234.1,61.7C234.47,62.3 234.47,63.42 234.1,64C233.73,64.58 232.63,65.2 231.9,65.2C231.17,65.2 230.07,64.58 229.7,64C229.33,63.42 229.33,62.3 229.7,61.7C230.07,61.1 231.17,60.4 231.9,60.4Z" fill="#e06250"/></g>
<clipPath id="cl186_1_267_16"><path d="M300.1,19.8C302.68,19.9 307.02,20.42 309.6,21.6C312.18,22.78 314.1,24.82 315.6,26.9C317.1,28.98 318.4,31.92 318.6,34.1C318.8,36.28 317.9,38.42 316.8,40C315.7,41.58 313.98,42.5 312,43.6C310.02,44.7 307.28,46.2 304.9,46.6C302.52,47 299.9,46.5 297.7,46C295.5,45.5 293.48,44.3 291.7,43.6C289.92,42.9 288.28,42.78 287,41.8C285.72,40.82 284.4,39.58 284,37.7C283.6,35.82 283.9,32.5 284.6,30.5C285.3,28.5 286.62,27.28 288.2,25.7C289.78,24.12 292.12,21.98 294.1,21C296.08,20.02 297.52,19.7 300.1,19.8Z"/></clipPath>
<g filter="url(#tx)"><path d="M300.1,19.8C302.68,19.9 307.02,20.42 309.6,21.6C312.18,22.78 314.1,24.82 315.6,26.9C317.1,28.98 318.4,31.92 318.6,34.1C318.8,36.28 317.9,38.42 316.8,40C315.7,41.58 313.98,42.5 312,43.6C310.02,44.7 307.28,46.2 304.9,46.6C302.52,47 299.9,46.5 297.7,46C295.5,45.5 293.48,44.3 291.7,43.6C289.92,42.9 288.28,42.78 287,41.8C285.72,40.82 284.4,39.58 284,37.7C283.6,35.82 283.9,32.5 284.6,30.5C285.3,28.5 286.62,27.28 288.2,25.7C289.78,24.12 292.12,21.98 294.1,21C296.08,20.02 297.52,19.7 300.1,19.8Z" fill="#ece8f8"/><g clip-path="url(#cl186_1_267_16)"><g filter="url(#sb)"><ellipse cx="291.3" cy="34.2" rx="8" ry="11" fill="#8886ec" opacity="0.8"/><ellipse cx="301.8" cy="33.7" rx="6.5" ry="7.5" fill="#a4a0ee" opacity="0.6"/></g></g><path d="M280.8,43.7C281.47,42.95 283.05,42.7 284.3,42.7C285.55,42.7 287.38,43.03 288.3,43.7C289.22,44.37 289.88,45.78 289.8,46.7C289.72,47.62 288.88,48.78 287.8,49.2C286.72,49.62 284.55,49.53 283.3,49.2C282.05,48.87 280.72,48.12 280.3,47.2C279.88,46.28 280.13,44.45 280.8,43.7Z" fill="#aaa6ee"/><path d="M272.3,38.5C273.13,37.8 274.97,37.05 276.3,37C277.63,36.95 279.22,37.53 280.3,38.2C281.38,38.87 282.47,39.92 282.8,41C283.13,42.08 282.88,43.75 282.3,44.7C281.72,45.65 280.47,46.45 279.3,46.7C278.13,46.95 276.47,46.62 275.3,46.2C274.13,45.78 272.97,45.03 272.3,44.2C271.63,43.37 271.3,42.15 271.3,41.2C271.3,40.25 271.47,39.2 272.3,38.5Z" fill="#7c7ae8"/><path d="M278.3,49.7C278.97,48.87 280.88,49.12 282.3,49.2C283.72,49.28 285.63,49.62 286.8,50.2C287.97,50.78 288.97,51.7 289.3,52.7C289.63,53.7 289.47,55.37 288.8,56.2C288.13,57.03 286.63,57.62 285.3,57.7C283.97,57.78 281.97,57.28 280.8,56.7C279.63,56.12 278.72,55.37 278.3,54.2C277.88,53.03 277.63,50.53 278.3,49.7Z" fill="#9492ec"/><path d="M288.8,46C289.78,45.35 292.42,44.9 294.1,45.1C295.78,45.3 297.9,46.25 298.9,47.2C299.9,48.15 299.1,49.7 300.1,50.8C301.1,51.9 303.62,52.9 304.9,53.8C306.18,54.7 307.6,55.22 307.8,56.2C308,57.18 307.38,58.97 306.1,59.7C304.82,60.43 302.3,60.6 300.1,60.6C297.9,60.6 294.68,60.35 292.9,59.7C291.12,59.05 289.88,57.98 289.4,56.7C288.92,55.42 290.2,53.28 290,52C289.8,50.72 288.4,50 288.2,49C288,48 287.82,46.65 288.8,46Z" fill="#aeaaf0"/><path d="M316.2,44C316.95,44.15 318.25,44.83 318.8,45.7C319.35,46.57 319.62,48.02 319.5,49.2C319.38,50.38 318.72,52.1 318.1,52.8C317.48,53.5 316.53,53.67 315.8,53.4C315.07,53.13 314.12,52.23 313.7,51.2C313.28,50.17 313.2,48.27 313.3,47.2C313.4,46.13 313.82,45.33 314.3,44.8C314.78,44.27 315.45,43.85 316.2,44Z" fill="#8482ea"/><path d="M313.8,52.7C314.38,51.87 314.97,52.7 314.8,53.7C314.63,54.7 313.38,57.87 312.8,58.7C312.22,59.53 311.13,59.7 311.3,58.7C311.47,57.7 313.22,53.53 313.8,52.7Z" fill="#aaa6ee"/><path d="M304.6,60.4C305.47,60.23 306.62,60.98 307.1,61.7C307.58,62.42 307.8,63.92 307.5,64.7C307.2,65.48 306.12,66.23 305.3,66.4C304.48,66.57 303.17,66.32 302.6,65.7C302.03,65.08 301.57,63.58 301.9,62.7C302.23,61.82 303.73,60.57 304.6,60.4Z" fill="#9a98ee"/><path d="M291.1,60.4C291.83,60.4 292.93,61.1 293.3,61.7C293.67,62.3 293.67,63.42 293.3,64C292.93,64.58 291.83,65.2 291.1,65.2C290.37,65.2 289.27,64.58 288.9,64C288.53,63.42 288.53,62.3 288.9,61.7C289.27,61.1 290.37,60.4 291.1,60.4Z" fill="#b03028"/></g>
<clipPath id="cl188_1_326_16"><path d="M359.3,19.8C361.88,19.9 366.22,20.42 368.8,21.6C371.38,22.78 373.3,24.82 374.8,26.9C376.3,28.98 377.6,31.92 377.8,34.1C378,36.28 377.1,38.42 376,40C374.9,41.58 373.18,42.5 371.2,43.6C369.22,44.7 366.48,46.2 364.1,46.6C361.72,47 359.1,46.5 356.9,46C354.7,45.5 352.68,44.3 350.9,43.6C349.12,42.9 347.48,42.78 346.2,41.8C344.92,40.82 343.6,39.58 343.2,37.7C342.8,35.82 343.1,32.5 343.8,30.5C344.5,28.5 345.82,27.28 347.4,25.7C348.98,24.12 351.32,21.98 353.3,21C355.28,20.02 356.72,19.7 359.3,19.8Z"/></clipPath>
<g filter="url(#tx)"><path d="M359.3,19.8C361.88,19.9 366.22,20.42 368.8,21.6C371.38,22.78 373.3,24.82 374.8,26.9C376.3,28.98 377.6,31.92 377.8,34.1C378,36.28 377.1,38.42 376,40C374.9,41.58 373.18,42.5 371.2,43.6C369.22,44.7 366.48,46.2 364.1,46.6C361.72,47 359.1,46.5 356.9,46C354.7,45.5 352.68,44.3 350.9,43.6C349.12,42.9 347.48,42.78 346.2,41.8C344.92,40.82 343.6,39.58 343.2,37.7C342.8,35.82 343.1,32.5 343.8,30.5C344.5,28.5 345.82,27.28 347.4,25.7C348.98,24.12 351.32,21.98 353.3,21C355.28,20.02 356.72,19.7 359.3,19.8Z" fill="#f28c70"/><g clip-path="url(#cl188_1_326_16)"><g filter="url(#sb)"><ellipse cx="359.5" cy="44.2" rx="18" ry="6" fill="#c4bcf0" opacity="0.8"/><ellipse cx="375.5" cy="38.2" rx="4" ry="6" fill="#8080e8" opacity="0.8"/></g></g><path d="M340,43.7C340.67,42.95 342.25,42.7 343.5,42.7C344.75,42.7 346.58,43.03 347.5,43.7C348.42,44.37 349.08,45.78 349,46.7C348.92,47.62 348.08,48.78 347,49.2C345.92,49.62 343.75,49.53 342.5,49.2C341.25,48.87 339.92,48.12 339.5,47.2C339.08,46.28 339.33,44.45 340,43.7Z" fill="#a4a2ee"/><path d="M331.5,38.5C332.33,37.8 334.17,37.05 335.5,37C336.83,36.95 338.42,37.53 339.5,38.2C340.58,38.87 341.67,39.92 342,41C342.33,42.08 342.08,43.75 341.5,44.7C340.92,45.65 339.67,46.45 338.5,46.7C337.33,46.95 335.67,46.62 334.5,46.2C333.33,45.78 332.17,45.03 331.5,44.2C330.83,43.37 330.5,42.15 330.5,41.2C330.5,40.25 330.67,39.2 331.5,38.5Z" fill="#8686ec"/><path d="M337.5,49.7C338.17,48.87 340.08,49.12 341.5,49.2C342.92,49.28 344.83,49.62 346,50.2C347.17,50.78 348.17,51.7 348.5,52.7C348.83,53.7 348.67,55.37 348,56.2C347.33,57.03 345.83,57.62 344.5,57.7C343.17,57.78 341.17,57.28 340,56.7C338.83,56.12 337.92,55.37 337.5,54.2C337.08,53.03 336.83,50.53 337.5,49.7Z" fill="#9090ec"/><path d="M348,46C348.98,45.35 351.62,44.9 353.3,45.1C354.98,45.3 357.1,46.25 358.1,47.2C359.1,48.15 358.3,49.7 359.3,50.8C360.3,51.9 362.82,52.9 364.1,53.8C365.38,54.7 366.8,55.22 367,56.2C367.2,57.18 366.58,58.97 365.3,59.7C364.02,60.43 361.5,60.6 359.3,60.6C357.1,60.6 353.88,60.35 352.1,59.7C350.32,59.05 349.08,57.98 348.6,56.7C348.12,55.42 349.4,53.28 349.2,52C349,50.72 347.6,50 347.4,49C347.2,48 347.02,46.65 348,46Z" fill="#c4bef2"/><path d="M375.4,44C376.15,44.15 377.45,44.83 378,45.7C378.55,46.57 378.82,48.02 378.7,49.2C378.58,50.38 377.92,52.1 377.3,52.8C376.68,53.5 375.73,53.67 375,53.4C374.27,53.13 373.32,52.23 372.9,51.2C372.48,50.17 372.4,48.27 372.5,47.2C372.6,46.13 373.02,45.33 373.5,44.8C373.98,44.27 374.65,43.85 375.4,44Z" fill="#d8d0f4"/><path d="M373,52.7C373.58,51.87 374.17,52.7 374,53.7C373.83,54.7 372.58,57.87 372,58.7C371.42,59.53 370.33,59.7 370.5,58.7C370.67,57.7 372.42,53.53 373,52.7Z" fill="#c8c0f0"/><path d="M363.8,60.4C364.67,60.23 365.82,60.98 366.3,61.7C366.78,62.42 367,63.92 366.7,64.7C366.4,65.48 365.32,66.23 364.5,66.4C363.68,66.57 362.37,66.32 361.8,65.7C361.23,65.08 360.77,63.58 361.1,62.7C361.43,61.82 362.93,60.57 363.8,60.4Z" fill="#9c9aee"/><path d="M350.3,60.4C351.03,60.4 352.13,61.1 352.5,61.7C352.87,62.3 352.87,63.42 352.5,64C352.13,64.58 351.03,65.2 350.3,65.2C349.57,65.2 348.47,64.58 348.1,64C347.73,63.42 347.73,62.3 348.1,61.7C348.47,61.1 349.57,60.4 350.3,60.4Z" fill="#9494ec"/></g>
<clipPath id="cl190_1_385_16"><path d="M418.5,19.8C421.08,19.9 425.42,20.42 428,21.6C430.58,22.78 432.5,24.82 434,26.9C435.5,28.98 436.8,31.92 437,34.1C437.2,36.28 436.3,38.42 435.2,40C434.1,41.58 432.38,42.5 430.4,43.6C428.42,44.7 425.68,46.2 423.3,46.6C420.92,47 418.3,46.5 416.1,46C413.9,45.5 411.88,44.3 410.1,43.6C408.32,42.9 406.68,42.78 405.4,41.8C404.12,40.82 402.8,39.58 402.4,37.7C402,35.82 402.3,32.5 403,30.5C403.7,28.5 405.02,27.28 406.6,25.7C408.18,24.12 410.52,21.98 412.5,21C414.48,20.02 415.92,19.7 418.5,19.8Z"/></clipPath>
<g filter="url(#tx)"><path d="M418.5,19.8C421.08,19.9 425.42,20.42 428,21.6C430.58,22.78 432.5,24.82 434,26.9C435.5,28.98 436.8,31.92 437,34.1C437.2,36.28 436.3,38.42 435.2,40C434.1,41.58 432.38,42.5 430.4,43.6C428.42,44.7 425.68,46.2 423.3,46.6C420.92,47 418.3,46.5 416.1,46C413.9,45.5 411.88,44.3 410.1,43.6C408.32,42.9 406.68,42.78 405.4,41.8C404.12,40.82 402.8,39.58 402.4,37.7C402,35.82 402.3,32.5 403,30.5C403.7,28.5 405.02,27.28 406.6,25.7C408.18,24.12 410.52,21.98 412.5,21C414.48,20.02 415.92,19.7 418.5,19.8Z" fill="#f6b49e"/><g clip-path="url(#cl190_1_385_16)"><g filter="url(#sb)"><ellipse cx="406.7" cy="33.2" rx="5" ry="10" fill="#7070e8" opacity="0.9"/></g></g><path d="M399.2,43.7C399.87,42.95 401.45,42.7 402.7,42.7C403.95,42.7 405.78,43.03 406.7,43.7C407.62,44.37 408.28,45.78 408.2,46.7C408.12,47.62 407.28,48.78 406.2,49.2C405.12,49.62 402.95,49.53 401.7,49.2C400.45,48.87 399.12,48.12 398.7,47.2C398.28,46.28 398.53,44.45 399.2,43.7Z" fill="#9a98ec"/><path d="M390.7,38.5C391.53,37.8 393.37,37.05 394.7,37C396.03,36.95 397.62,37.53 398.7,38.2C399.78,38.87 400.87,39.92 401.2,41C401.53,42.08 401.28,43.75 400.7,44.7C400.12,45.65 398.87,46.45 397.7,46.7C396.53,46.95 394.87,46.62 393.7,46.2C392.53,45.78 391.37,45.03 390.7,44.2C390.03,43.37 389.7,42.15 389.7,41.2C389.7,40.25 389.87,39.2 390.7,38.5Z" fill="#7474ea"/><path d="M396.7,49.7C397.37,48.87 399.28,49.12 400.7,49.2C402.12,49.28 404.03,49.62 405.2,50.2C406.37,50.78 407.37,51.7 407.7,52.7C408.03,53.7 407.87,55.37 407.2,56.2C406.53,57.03 405.03,57.62 403.7,57.7C402.37,57.78 400.37,57.28 399.2,56.7C398.03,56.12 397.12,55.37 396.7,54.2C396.28,53.03 396.03,50.53 396.7,49.7Z" fill="#8484ea"/><path d="M407.2,46C408.18,45.35 410.82,44.9 412.5,45.1C414.18,45.3 416.3,46.25 417.3,47.2C418.3,48.15 417.5,49.7 418.5,50.8C419.5,51.9 422.02,52.9 423.3,53.8C424.58,54.7 426,55.22 426.2,56.2C426.4,57.18 425.78,58.97 424.5,59.7C423.22,60.43 420.7,60.6 418.5,60.6C416.3,60.6 413.08,60.35 411.3,59.7C409.52,59.05 408.28,57.98 407.8,56.7C407.32,55.42 408.6,53.28 408.4,52C408.2,50.72 406.8,50 406.6,49C406.4,48 406.22,46.65 407.2,46Z" fill="#f4a084"/><path d="M434.6,44C435.35,44.15 436.65,44.83 437.2,45.7C437.75,46.57 438.02,48.02 437.9,49.2C437.78,50.38 437.12,52.1 436.5,52.8C435.88,53.5 434.93,53.67 434.2,53.4C433.47,53.13 432.52,52.23 432.1,51.2C431.68,50.17 431.6,48.27 431.7,47.2C431.8,46.13 432.22,45.33 432.7,44.8C433.18,44.27 433.85,43.85 434.6,44Z" fill="#d4ccf2"/><path d="M432.2,52.7C432.78,51.87 433.37,52.7 433.2,53.7C433.03,54.7 431.78,57.87 431.2,58.7C430.62,59.53 429.53,59.7 429.7,58.7C429.87,57.7 431.62,53.53 432.2,52.7Z" fill="#c8c0f0"/><path d="M423,60.4C423.87,60.23 425.02,60.98 425.5,61.7C425.98,62.42 426.2,63.92 425.9,64.7C425.6,65.48 424.52,66.23 423.7,66.4C422.88,66.57 421.57,66.32 421,65.7C420.43,65.08 419.97,63.58 420.3,62.7C420.63,61.82 422.13,60.57 423,60.4Z" fill="#b4aef0"/><path d="M409.5,60.4C410.23,60.4 411.33,61.1 411.7,61.7C412.07,62.3 412.07,63.42 411.7,64C411.33,64.58 410.23,65.2 409.5,65.2C408.77,65.2 407.67,64.58 407.3,64C406.93,63.42 406.93,62.3 407.3,61.7C407.67,61.1 408.77,60.4 409.5,60.4Z" fill="#b02020"/></g>
<g filter="url(#tx)"><path d="M477.7,19.8C480.28,19.9 484.62,20.42 487.2,21.6C489.78,22.78 491.7,24.82 493.2,26.9C494.7,28.98 496,31.92 496.2,34.1C496.4,36.28 495.5,38.42 494.4,40C493.3,41.58 491.58,42.5 489.6,43.6C487.62,44.7 484.88,46.2 482.5,46.6C480.12,47 477.5,46.5 475.3,46C473.1,45.5 471.08,44.3 469.3,43.6C467.52,42.9 465.88,42.78 464.6,41.8C463.32,40.82 462,39.58 461.6,37.7C461.2,35.82 461.5,32.5 462.2,30.5C462.9,28.5 464.22,27.28 465.8,25.7C467.38,24.12 469.72,21.98 471.7,21C473.68,20.02 475.12,19.7 477.7,19.8Z" fill="#9a96ee"/><path d="M458.4,43.7C459.07,42.95 460.65,42.7 461.9,42.7C463.15,42.7 464.98,43.03 465.9,43.7C466.82,44.37 467.48,45.78 467.4,46.7C467.32,47.62 466.48,48.78 465.4,49.2C464.32,49.62 462.15,49.53 460.9,49.2C459.65,48.87 458.32,48.12 457.9,47.2C457.48,46.28 457.73,44.45 458.4,43.7Z" fill="#d890a0"/><path d="M449.9,38.5C450.73,37.8 452.57,37.05 453.9,37C455.23,36.95 456.82,37.53 457.9,38.2C458.98,38.87 460.07,39.92 460.4,41C460.73,42.08 460.48,43.75 459.9,44.7C459.32,45.65 458.07,46.45 456.9,46.7C455.73,46.95 454.07,46.62 452.9,46.2C451.73,45.78 450.57,45.03 449.9,44.2C449.23,43.37 448.9,42.15 448.9,41.2C448.9,40.25 449.07,39.2 449.9,38.5Z" fill="#e83a28"/><path d="M455.9,49.7C456.57,48.87 458.48,49.12 459.9,49.2C461.32,49.28 463.23,49.62 464.4,50.2C465.57,50.78 466.57,51.7 466.9,52.7C467.23,53.7 467.07,55.37 466.4,56.2C465.73,57.03 464.23,57.62 462.9,57.7C461.57,57.78 459.57,57.28 458.4,56.7C457.23,56.12 456.32,55.37 455.9,54.2C455.48,53.03 455.23,50.53 455.9,49.7Z" fill="#a498d8"/><path d="M466.4,46C467.38,45.35 470.02,44.9 471.7,45.1C473.38,45.3 475.5,46.25 476.5,47.2C477.5,48.15 476.7,49.7 477.7,50.8C478.7,51.9 481.22,52.9 482.5,53.8C483.78,54.7 485.2,55.22 485.4,56.2C485.6,57.18 484.98,58.97 483.7,59.7C482.42,60.43 479.9,60.6 477.7,60.6C475.5,60.6 472.28,60.35 470.5,59.7C468.72,59.05 467.48,57.98 467,56.7C466.52,55.42 467.8,53.28 467.6,52C467.4,50.72 466,50 465.8,49C465.6,48 465.42,46.65 466.4,46Z" fill="#8e8aec"/><path d="M493.8,44C494.55,44.15 495.85,44.83 496.4,45.7C496.95,46.57 497.22,48.02 497.1,49.2C496.98,50.38 496.32,52.1 495.7,52.8C495.08,53.5 494.13,53.67 493.4,53.4C492.67,53.13 491.72,52.23 491.3,51.2C490.88,50.17 490.8,48.27 490.9,47.2C491,46.13 491.42,45.33 491.9,44.8C492.38,44.27 493.05,43.85 493.8,44Z" fill="#8e8aec"/><path d="M491.4,52.7C491.98,51.87 492.57,52.7 492.4,53.7C492.23,54.7 490.98,57.87 490.4,58.7C489.82,59.53 488.73,59.7 488.9,58.7C489.07,57.7 490.82,53.53 491.4,52.7Z" fill="#a8a4ee"/><path d="M482.2,60.4C483.07,60.23 484.22,60.98 484.7,61.7C485.18,62.42 485.4,63.92 485.1,64.7C484.8,65.48 483.72,66.23 482.9,66.4C482.08,66.57 480.77,66.32 480.2,65.7C479.63,65.08 479.17,63.58 479.5,62.7C479.83,61.82 481.33,60.57 482.2,60.4Z" fill="#8e8aec"/><path d="M468.7,60.4C469.43,60.4 470.53,61.1 470.9,61.7C471.27,62.3 471.27,63.42 470.9,64C470.53,64.58 469.43,65.2 468.7,65.2C467.97,65.2 466.87,64.58 466.5,64C466.13,63.42 466.13,62.3 466.5,61.7C466.87,61.1 467.97,60.4 468.7,60.4Z" fill="#8e8aec"/><ellipse cx="479.9" cy="53.2" rx="4" ry="3" fill="#fbf8e8"/></g>
<clipPath id="cl193_1_30_99"><path d="M63.3,103C65.88,103.1 70.22,103.62 72.8,104.8C75.38,105.98 77.3,108.02 78.8,110.1C80.3,112.18 81.6,115.12 81.8,117.3C82,119.48 81.1,121.62 80,123.2C78.9,124.78 77.18,125.7 75.2,126.8C73.22,127.9 70.48,129.4 68.1,129.8C65.72,130.2 63.1,129.7 60.9,129.2C58.7,128.7 56.68,127.5 54.9,126.8C53.12,126.1 51.48,125.98 50.2,125C48.92,124.02 47.6,122.78 47.2,120.9C46.8,119.02 47.1,115.7 47.8,113.7C48.5,111.7 49.82,110.48 51.4,108.9C52.98,107.32 55.32,105.18 57.3,104.2C59.28,103.22 60.72,102.9 63.3,103Z"/></clipPath>
<g filter="url(#tx)"><path d="M63.3,103C65.88,103.1 70.22,103.62 72.8,104.8C75.38,105.98 77.3,108.02 78.8,110.1C80.3,112.18 81.6,115.12 81.8,117.3C82,119.48 81.1,121.62 80,123.2C78.9,124.78 77.18,125.7 75.2,126.8C73.22,127.9 70.48,129.4 68.1,129.8C65.72,130.2 63.1,129.7 60.9,129.2C58.7,128.7 56.68,127.5 54.9,126.8C53.12,126.1 51.48,125.98 50.2,125C48.92,124.02 47.6,122.78 47.2,120.9C46.8,119.02 47.1,115.7 47.8,113.7C48.5,111.7 49.82,110.48 51.4,108.9C52.98,107.32 55.32,105.18 57.3,104.2C59.28,103.22 60.72,102.9 63.3,103Z" fill="#f4d4d8"/><g clip-path="url(#cl193_1_30_99)"><g filter="url(#sb)"><ellipse cx="73.5" cy="111.4" rx="13" ry="11" fill="#ee5a3c" opacity="1"/><ellipse cx="64.5" cy="109.4" rx="8" ry="6" fill="#f08a70" opacity="0.8"/><ellipse cx="60.5" cy="121.4" rx="6" ry="5" fill="#f4b8b0" opacity="0.6"/></g></g><path d="M44,126.9C44.67,126.15 46.25,125.9 47.5,125.9C48.75,125.9 50.58,126.23 51.5,126.9C52.42,127.57 53.08,128.98 53,129.9C52.92,130.82 52.08,131.98 51,132.4C49.92,132.82 47.75,132.73 46.5,132.4C45.25,132.07 43.92,131.32 43.5,130.4C43.08,129.48 43.33,127.65 44,126.9Z" fill="#aaa4ee"/><path d="M35.5,121.7C36.33,121 38.17,120.25 39.5,120.2C40.83,120.15 42.42,120.73 43.5,121.4C44.58,122.07 45.67,123.12 46,124.2C46.33,125.28 46.08,126.95 45.5,127.9C44.92,128.85 43.67,129.65 42.5,129.9C41.33,130.15 39.67,129.82 38.5,129.4C37.33,128.98 36.17,128.23 35.5,127.4C34.83,126.57 34.5,125.35 34.5,124.4C34.5,123.45 34.67,122.4 35.5,121.7Z" fill="#7c7ae8"/><path d="M41.5,132.9C42.17,132.07 44.08,132.32 45.5,132.4C46.92,132.48 48.83,132.82 50,133.4C51.17,133.98 52.17,134.9 52.5,135.9C52.83,136.9 52.67,138.57 52,139.4C51.33,140.23 49.83,140.82 48.5,140.9C47.17,140.98 45.17,140.48 44,139.9C42.83,139.32 41.92,138.57 41.5,137.4C41.08,136.23 40.83,133.73 41.5,132.9Z" fill="#8c8aea"/><path d="M52,129.2C52.98,128.55 55.62,128.1 57.3,128.3C58.98,128.5 61.1,129.45 62.1,130.4C63.1,131.35 62.3,132.9 63.3,134C64.3,135.1 66.82,136.1 68.1,137C69.38,137.9 70.8,138.42 71,139.4C71.2,140.38 70.58,142.17 69.3,142.9C68.02,143.63 65.5,143.8 63.3,143.8C61.1,143.8 57.88,143.55 56.1,142.9C54.32,142.25 53.08,141.18 52.6,139.9C52.12,138.62 53.4,136.48 53.2,135.2C53,133.92 51.6,133.2 51.4,132.2C51.2,131.2 51.02,129.85 52,129.2Z" fill="#e8d4e4"/><path d="M79.4,127.2C80.15,127.35 81.45,128.03 82,128.9C82.55,129.77 82.82,131.22 82.7,132.4C82.58,133.58 81.92,135.3 81.3,136C80.68,136.7 79.73,136.87 79,136.6C78.27,136.33 77.32,135.43 76.9,134.4C76.48,133.37 76.4,131.47 76.5,130.4C76.6,129.33 77.02,128.53 77.5,128C77.98,127.47 78.65,127.05 79.4,127.2Z" fill="#ddd4f2"/><path d="M77,135.9C77.58,135.07 78.17,135.9 78,136.9C77.83,137.9 76.58,141.07 76,141.9C75.42,142.73 74.33,142.9 74.5,141.9C74.67,140.9 76.42,136.73 77,135.9Z" fill="#ddd4f2"/><path d="M67.8,143.6C68.67,143.43 69.82,144.18 70.3,144.9C70.78,145.62 71,147.12 70.7,147.9C70.4,148.68 69.32,149.43 68.5,149.6C67.68,149.77 66.37,149.52 65.8,148.9C65.23,148.28 64.77,146.78 65.1,145.9C65.43,145.02 66.93,143.77 67.8,143.6Z" fill="#e0d4f0"/><path d="M54.3,143.6C55.03,143.6 56.13,144.3 56.5,144.9C56.87,145.5 56.87,146.62 56.5,147.2C56.13,147.78 55.03,148.4 54.3,148.4C53.57,148.4 52.47,147.78 52.1,147.2C51.73,146.62 51.73,145.5 52.1,144.9C52.47,144.3 53.57,143.6 54.3,143.6Z" fill="#d04030"/></g>
<clipPath id="cl195_1_89_99"><path d="M122.5,103C125.08,103.1 129.42,103.62 132,104.8C134.58,105.98 136.5,108.02 138,110.1C139.5,112.18 140.8,115.12 141,117.3C141.2,119.48 140.3,121.62 139.2,123.2C138.1,124.78 136.38,125.7 134.4,126.8C132.42,127.9 129.68,129.4 127.3,129.8C124.92,130.2 122.3,129.7 120.1,129.2C117.9,128.7 115.88,127.5 114.1,126.8C112.32,126.1 110.68,125.98 109.4,125C108.12,124.02 106.8,122.78 106.4,120.9C106,119.02 106.3,115.7 107,113.7C107.7,111.7 109.02,110.48 110.6,108.9C112.18,107.32 114.52,105.18 116.5,104.2C118.48,103.22 119.92,102.9 122.5,103Z"/></clipPath>
<g filter="url(#tx)"><path d="M122.5,103C125.08,103.1 129.42,103.62 132,104.8C134.58,105.98 136.5,108.02 138,110.1C139.5,112.18 140.8,115.12 141,117.3C141.2,119.48 140.3,121.62 139.2,123.2C138.1,124.78 136.38,125.7 134.4,126.8C132.42,127.9 129.68,129.4 127.3,129.8C124.92,130.2 122.3,129.7 120.1,129.2C117.9,128.7 115.88,127.5 114.1,126.8C112.32,126.1 110.68,125.98 109.4,125C108.12,124.02 106.8,122.78 106.4,120.9C106,119.02 106.3,115.7 107,113.7C107.7,111.7 109.02,110.48 110.6,108.9C112.18,107.32 114.52,105.18 116.5,104.2C118.48,103.22 119.92,102.9 122.5,103Z" fill="#5e5cf0"/><g clip-path="url(#cl195_1_89_99)"><g filter="url(#sb)"><ellipse cx="137.7" cy="113.4" rx="3" ry="4" fill="#f4c0b0" opacity="0.8"/></g></g><path d="M103.2,126.9C103.87,126.15 105.45,125.9 106.7,125.9C107.95,125.9 109.78,126.23 110.7,126.9C111.62,127.57 112.28,128.98 112.2,129.9C112.12,130.82 111.28,131.98 110.2,132.4C109.12,132.82 106.95,132.73 105.7,132.4C104.45,132.07 103.12,131.32 102.7,130.4C102.28,129.48 102.53,127.65 103.2,126.9Z" fill="#8c8aef"/><path d="M94.7,121.7C95.53,121 97.37,120.25 98.7,120.2C100.03,120.15 101.62,120.73 102.7,121.4C103.78,122.07 104.87,123.12 105.2,124.2C105.53,125.28 105.28,126.95 104.7,127.9C104.12,128.85 102.87,129.65 101.7,129.9C100.53,130.15 98.87,129.82 97.7,129.4C96.53,128.98 95.37,128.23 94.7,127.4C94.03,126.57 93.7,125.35 93.7,124.4C93.7,123.45 93.87,122.4 94.7,121.7Z" fill="#7676f0"/><path d="M100.7,132.9C101.37,132.07 103.28,132.32 104.7,132.4C106.12,132.48 108.03,132.82 109.2,133.4C110.37,133.98 111.37,134.9 111.7,135.9C112.03,136.9 111.87,138.57 111.2,139.4C110.53,140.23 109.03,140.82 107.7,140.9C106.37,140.98 104.37,140.48 103.2,139.9C102.03,139.32 101.12,138.57 100.7,137.4C100.28,136.23 100.03,133.73 100.7,132.9Z" fill="#8a88ee"/><path d="M111.2,129.2C112.18,128.55 114.82,128.1 116.5,128.3C118.18,128.5 120.3,129.45 121.3,130.4C122.3,131.35 121.5,132.9 122.5,134C123.5,135.1 126.02,136.1 127.3,137C128.58,137.9 130,138.42 130.2,139.4C130.4,140.38 129.78,142.17 128.5,142.9C127.22,143.63 124.7,143.8 122.5,143.8C120.3,143.8 117.08,143.55 115.3,142.9C113.52,142.25 112.28,141.18 111.8,139.9C111.32,138.62 112.6,136.48 112.4,135.2C112.2,133.92 110.8,133.2 110.6,132.2C110.4,131.2 110.22,129.85 111.2,129.2Z" fill="#f07a5c"/><path d="M138.6,127.2C139.35,127.35 140.65,128.03 141.2,128.9C141.75,129.77 142.02,131.22 141.9,132.4C141.78,133.58 141.12,135.3 140.5,136C139.88,136.7 138.93,136.87 138.2,136.6C137.47,136.33 136.52,135.43 136.1,134.4C135.68,133.37 135.6,131.47 135.7,130.4C135.8,129.33 136.22,128.53 136.7,128C137.18,127.47 137.85,127.05 138.6,127.2Z" fill="#8a88ee"/><path d="M136.2,135.9C136.78,135.07 137.37,135.9 137.2,136.9C137.03,137.9 135.78,141.07 135.2,141.9C134.62,142.73 133.53,142.9 133.7,141.9C133.87,140.9 135.62,136.73 136.2,135.9Z" fill="#9896ee"/><path d="M127,143.6C127.87,143.43 129.02,144.18 129.5,144.9C129.98,145.62 130.2,147.12 129.9,147.9C129.6,148.68 128.52,149.43 127.7,149.6C126.88,149.77 125.57,149.52 125,148.9C124.43,148.28 123.97,146.78 124.3,145.9C124.63,145.02 126.13,143.77 127,143.6Z" fill="#7070ea"/><path d="M113.5,143.6C114.23,143.6 115.33,144.3 115.7,144.9C116.07,145.5 116.07,146.62 115.7,147.2C115.33,147.78 114.23,148.4 113.5,148.4C112.77,148.4 111.67,147.78 111.3,147.2C110.93,146.62 110.93,145.5 111.3,144.9C111.67,144.3 112.77,143.6 113.5,143.6Z" fill="#e06a50"/></g>
<clipPath id="cl197_1_148_99"><path d="M181.7,103C184.28,103.1 188.62,103.62 191.2,104.8C193.78,105.98 195.7,108.02 197.2,110.1C198.7,112.18 200,115.12 200.2,117.3C200.4,119.48 199.5,121.62 198.4,123.2C197.3,124.78 195.58,125.7 193.6,126.8C191.62,127.9 188.88,129.4 186.5,129.8C184.12,130.2 181.5,129.7 179.3,129.2C177.1,128.7 175.08,127.5 173.3,126.8C171.52,126.1 169.88,125.98 168.6,125C167.32,124.02 166,122.78 165.6,120.9C165.2,119.02 165.5,115.7 166.2,113.7C166.9,111.7 168.22,110.48 169.8,108.9C171.38,107.32 173.72,105.18 175.7,104.2C177.68,103.22 179.12,102.9 181.7,103Z"/></clipPath>
<g filter="url(#tx)"><path d="M181.7,103C184.28,103.1 188.62,103.62 191.2,104.8C193.78,105.98 195.7,108.02 197.2,110.1C198.7,112.18 200,115.12 200.2,117.3C200.4,119.48 199.5,121.62 198.4,123.2C197.3,124.78 195.58,125.7 193.6,126.8C191.62,127.9 188.88,129.4 186.5,129.8C184.12,130.2 181.5,129.7 179.3,129.2C177.1,128.7 175.08,127.5 173.3,126.8C171.52,126.1 169.88,125.98 168.6,125C167.32,124.02 166,122.78 165.6,120.9C165.2,119.02 165.5,115.7 166.2,113.7C166.9,111.7 168.22,110.48 169.8,108.9C171.38,107.32 173.72,105.18 175.7,104.2C177.68,103.22 179.12,102.9 181.7,103Z" fill="#bcb6f0"/><g clip-path="url(#cl197_1_148_99)"><g filter="url(#sb)"><ellipse cx="170.9" cy="111.4" rx="6" ry="6" fill="#f2a890" opacity="0.8"/><ellipse cx="186.9" cy="115.4" rx="9" ry="8" fill="#8a86ec" opacity="0.7"/><ellipse cx="181.9" cy="125.4" rx="7" ry="4" fill="#ecc8d4" opacity="0.6"/></g></g><path d="M162.4,126.9C163.07,126.15 164.65,125.9 165.9,125.9C167.15,125.9 168.98,126.23 169.9,126.9C170.82,127.57 171.48,128.98 171.4,129.9C171.32,130.82 170.48,131.98 169.4,132.4C168.32,132.82 166.15,132.73 164.9,132.4C163.65,132.07 162.32,131.32 161.9,130.4C161.48,129.48 161.73,127.65 162.4,126.9Z" fill="#a6a0ee"/><path d="M153.9,121.7C154.73,121 156.57,120.25 157.9,120.2C159.23,120.15 160.82,120.73 161.9,121.4C162.98,122.07 164.07,123.12 164.4,124.2C164.73,125.28 164.48,126.95 163.9,127.9C163.32,128.85 162.07,129.65 160.9,129.9C159.73,130.15 158.07,129.82 156.9,129.4C155.73,128.98 154.57,128.23 153.9,127.4C153.23,126.57 152.9,125.35 152.9,124.4C152.9,123.45 153.07,122.4 153.9,121.7Z" fill="#8482ea"/><path d="M159.9,132.9C160.57,132.07 162.48,132.32 163.9,132.4C165.32,132.48 167.23,132.82 168.4,133.4C169.57,133.98 170.57,134.9 170.9,135.9C171.23,136.9 171.07,138.57 170.4,139.4C169.73,140.23 168.23,140.82 166.9,140.9C165.57,140.98 163.57,140.48 162.4,139.9C161.23,139.32 160.32,138.57 159.9,137.4C159.48,136.23 159.23,133.73 159.9,132.9Z" fill="#8a88ea"/><path d="M170.4,129.2C171.38,128.55 174.02,128.1 175.7,128.3C177.38,128.5 179.5,129.45 180.5,130.4C181.5,131.35 180.7,132.9 181.7,134C182.7,135.1 185.22,136.1 186.5,137C187.78,137.9 189.2,138.42 189.4,139.4C189.6,140.38 188.98,142.17 187.7,142.9C186.42,143.63 183.9,143.8 181.7,143.8C179.5,143.8 176.28,143.55 174.5,142.9C172.72,142.25 171.48,141.18 171,139.9C170.52,138.62 171.8,136.48 171.6,135.2C171.4,133.92 170,133.2 169.8,132.2C169.6,131.2 169.42,129.85 170.4,129.2Z" fill="#8a88ea"/><path d="M197.8,127.2C198.55,127.35 199.85,128.03 200.4,128.9C200.95,129.77 201.22,131.22 201.1,132.4C200.98,133.58 200.32,135.3 199.7,136C199.08,136.7 198.13,136.87 197.4,136.6C196.67,136.33 195.72,135.43 195.3,134.4C194.88,133.37 194.8,131.47 194.9,130.4C195,129.33 195.42,128.53 195.9,128C196.38,127.47 197.05,127.05 197.8,127.2Z" fill="#f2a08a"/><path d="M195.4,135.9C195.98,135.07 196.57,135.9 196.4,136.9C196.23,137.9 194.98,141.07 194.4,141.9C193.82,142.73 192.73,142.9 192.9,141.9C193.07,140.9 194.82,136.73 195.4,135.9Z" fill="#a6a0ee"/><path d="M186.2,143.6C187.07,143.43 188.22,144.18 188.7,144.9C189.18,145.62 189.4,147.12 189.1,147.9C188.8,148.68 187.72,149.43 186.9,149.6C186.08,149.77 184.77,149.52 184.2,148.9C183.63,148.28 183.17,146.78 183.5,145.9C183.83,145.02 185.33,143.77 186.2,143.6Z" fill="#8a88ea"/><path d="M172.7,143.6C173.43,143.6 174.53,144.3 174.9,144.9C175.27,145.5 175.27,146.62 174.9,147.2C174.53,147.78 173.43,148.4 172.7,148.4C171.97,148.4 170.87,147.78 170.5,147.2C170.13,146.62 170.13,145.5 170.5,144.9C170.87,144.3 171.97,143.6 172.7,143.6Z" fill="#6a68d8"/></g>
<clipPath id="cl199_1_208_99"><path d="M240.9,103C243.48,103.1 247.82,103.62 250.4,104.8C252.98,105.98 254.9,108.02 256.4,110.1C257.9,112.18 259.2,115.12 259.4,117.3C259.6,119.48 258.7,121.62 257.6,123.2C256.5,124.78 254.78,125.7 252.8,126.8C250.82,127.9 248.08,129.4 245.7,129.8C243.32,130.2 240.7,129.7 238.5,129.2C236.3,128.7 234.28,127.5 232.5,126.8C230.72,126.1 229.08,125.98 227.8,125C226.52,124.02 225.2,122.78 224.8,120.9C224.4,119.02 224.7,115.7 225.4,113.7C226.1,111.7 227.42,110.48 229,108.9C230.58,107.32 232.92,105.18 234.9,104.2C236.88,103.22 238.32,102.9 240.9,103Z"/></clipPath>
<g filter="url(#tx)"><path d="M240.9,103C243.48,103.1 247.82,103.62 250.4,104.8C252.98,105.98 254.9,108.02 256.4,110.1C257.9,112.18 259.2,115.12 259.4,117.3C259.6,119.48 258.7,121.62 257.6,123.2C256.5,124.78 254.78,125.7 252.8,126.8C250.82,127.9 248.08,129.4 245.7,129.8C243.32,130.2 240.7,129.7 238.5,129.2C236.3,128.7 234.28,127.5 232.5,126.8C230.72,126.1 229.08,125.98 227.8,125C226.52,124.02 225.2,122.78 224.8,120.9C224.4,119.02 224.7,115.7 225.4,113.7C226.1,111.7 227.42,110.48 229,108.9C230.58,107.32 232.92,105.18 234.9,104.2C236.88,103.22 238.32,102.9 240.9,103Z" fill="#f4d0c6"/><g clip-path="url(#cl199_1_208_99)"><g filter="url(#sb)"><ellipse cx="239.1" cy="118.4" rx="7" ry="8" fill="#a8a4ee" opacity="0.6"/><ellipse cx="232.1" cy="123.4" rx="4" ry="4" fill="#b8b4f0" opacity="0.5"/></g></g><path d="M221.6,126.9C222.27,126.15 223.85,125.9 225.1,125.9C226.35,125.9 228.18,126.23 229.1,126.9C230.02,127.57 230.68,128.98 230.6,129.9C230.52,130.82 229.68,131.98 228.6,132.4C227.52,132.82 225.35,132.73 224.1,132.4C222.85,132.07 221.52,131.32 221.1,130.4C220.68,129.48 220.93,127.65 221.6,126.9Z" fill="#f0d8dc"/><path d="M213.1,121.7C213.93,121 215.77,120.25 217.1,120.2C218.43,120.15 220.02,120.73 221.1,121.4C222.18,122.07 223.27,123.12 223.6,124.2C223.93,125.28 223.68,126.95 223.1,127.9C222.52,128.85 221.27,129.65 220.1,129.9C218.93,130.15 217.27,129.82 216.1,129.4C214.93,128.98 213.77,128.23 213.1,127.4C212.43,126.57 212.1,125.35 212.1,124.4C212.1,123.45 212.27,122.4 213.1,121.7Z" fill="#e8d0dc"/><path d="M219.1,132.9C219.77,132.07 221.68,132.32 223.1,132.4C224.52,132.48 226.43,132.82 227.6,133.4C228.77,133.98 229.77,134.9 230.1,135.9C230.43,136.9 230.27,138.57 229.6,139.4C228.93,140.23 227.43,140.82 226.1,140.9C224.77,140.98 222.77,140.48 221.6,139.9C220.43,139.32 219.52,138.57 219.1,137.4C218.68,136.23 218.43,133.73 219.1,132.9Z" fill="#ecd8e0"/><path d="M229.6,129.2C230.58,128.55 233.22,128.1 234.9,128.3C236.58,128.5 238.7,129.45 239.7,130.4C240.7,131.35 239.9,132.9 240.9,134C241.9,135.1 244.42,136.1 245.7,137C246.98,137.9 248.4,138.42 248.6,139.4C248.8,140.38 248.18,142.17 246.9,142.9C245.62,143.63 243.1,143.8 240.9,143.8C238.7,143.8 235.48,143.55 233.7,142.9C231.92,142.25 230.68,141.18 230.2,139.9C229.72,138.62 231,136.48 230.8,135.2C230.6,133.92 229.2,133.2 229,132.2C228.8,131.2 228.62,129.85 229.6,129.2Z" fill="#f4c8bc"/><path d="M257,127.2C257.75,127.35 259.05,128.03 259.6,128.9C260.15,129.77 260.42,131.22 260.3,132.4C260.18,133.58 259.52,135.3 258.9,136C258.28,136.7 257.33,136.87 256.6,136.6C255.87,136.33 254.92,135.43 254.5,134.4C254.08,133.37 254,131.47 254.1,130.4C254.2,129.33 254.62,128.53 255.1,128C255.58,127.47 256.25,127.05 257,127.2Z" fill="#f4c8c0"/><path d="M254.6,135.9C255.18,135.07 255.77,135.9 255.6,136.9C255.43,137.9 254.18,141.07 253.6,141.9C253.02,142.73 251.93,142.9 252.1,141.9C252.27,140.9 254.02,136.73 254.6,135.9Z" fill="#f0e0e4"/><path d="M245.4,143.6C246.27,143.43 247.42,144.18 247.9,144.9C248.38,145.62 248.6,147.12 248.3,147.9C248,148.68 246.92,149.43 246.1,149.6C245.28,149.77 243.97,149.52 243.4,148.9C242.83,148.28 242.37,146.78 242.7,145.9C243.03,145.02 244.53,143.77 245.4,143.6Z" fill="#f0e0e4"/><path d="M231.9,143.6C232.63,143.6 233.73,144.3 234.1,144.9C234.47,145.5 234.47,146.62 234.1,147.2C233.73,147.78 232.63,148.4 231.9,148.4C231.17,148.4 230.07,147.78 229.7,147.2C229.33,146.62 229.33,145.5 229.7,144.9C230.07,144.3 231.17,143.6 231.9,143.6Z" fill="#d03838"/></g>
<clipPath id="cl201_1_267_99"><path d="M300.1,103C302.68,103.1 307.02,103.62 309.6,104.8C312.18,105.98 314.1,108.02 315.6,110.1C317.1,112.18 318.4,115.12 318.6,117.3C318.8,119.48 317.9,121.62 316.8,123.2C315.7,124.78 313.98,125.7 312,126.8C310.02,127.9 307.28,129.4 304.9,129.8C302.52,130.2 299.9,129.7 297.7,129.2C295.5,128.7 293.48,127.5 291.7,126.8C289.92,126.1 288.28,125.98 287,125C285.72,124.02 284.4,122.78 284,120.9C283.6,119.02 283.9,115.7 284.6,113.7C285.3,111.7 286.62,110.48 288.2,108.9C289.78,107.32 292.12,105.18 294.1,104.2C296.08,103.22 297.52,102.9 300.1,103Z"/></clipPath>
<g filter="url(#tx)"><path d="M300.1,103C302.68,103.1 307.02,103.62 309.6,104.8C312.18,105.98 314.1,108.02 315.6,110.1C317.1,112.18 318.4,115.12 318.6,117.3C318.8,119.48 317.9,121.62 316.8,123.2C315.7,124.78 313.98,125.7 312,126.8C310.02,127.9 307.28,129.4 304.9,129.8C302.52,130.2 299.9,129.7 297.7,129.2C295.5,128.7 293.48,127.5 291.7,126.8C289.92,126.1 288.28,125.98 287,125C285.72,124.02 284.4,122.78 284,120.9C283.6,119.02 283.9,115.7 284.6,113.7C285.3,111.7 286.62,110.48 288.2,108.9C289.78,107.32 292.12,105.18 294.1,104.2C296.08,103.22 297.52,102.9 300.1,103Z" fill="#b0acf0"/><g clip-path="url(#cl201_1_267_99)"><g filter="url(#sb)"><ellipse cx="314.3" cy="114.4" rx="6" ry="10" fill="#f4c4b4" opacity="0.9"/></g></g><path d="M280.8,126.9C281.47,126.15 283.05,125.9 284.3,125.9C285.55,125.9 287.38,126.23 288.3,126.9C289.22,127.57 289.88,128.98 289.8,129.9C289.72,130.82 288.88,131.98 287.8,132.4C286.72,132.82 284.55,132.73 283.3,132.4C282.05,132.07 280.72,131.32 280.3,130.4C279.88,129.48 280.13,127.65 280.8,126.9Z" fill="#d8d0f0"/><path d="M272.3,121.7C273.13,121 274.97,120.25 276.3,120.2C277.63,120.15 279.22,120.73 280.3,121.4C281.38,122.07 282.47,123.12 282.8,124.2C283.13,125.28 282.88,126.95 282.3,127.9C281.72,128.85 280.47,129.65 279.3,129.9C278.13,130.15 276.47,129.82 275.3,129.4C274.13,128.98 272.97,128.23 272.3,127.4C271.63,126.57 271.3,125.35 271.3,124.4C271.3,123.45 271.47,122.4 272.3,121.7Z" fill="#eed0d8"/><path d="M278.3,132.9C278.97,132.07 280.88,132.32 282.3,132.4C283.72,132.48 285.63,132.82 286.8,133.4C287.97,133.98 288.97,134.9 289.3,135.9C289.63,136.9 289.47,138.57 288.8,139.4C288.13,140.23 286.63,140.82 285.3,140.9C283.97,140.98 281.97,140.48 280.8,139.9C279.63,139.32 278.72,138.57 278.3,137.4C277.88,136.23 277.63,133.73 278.3,132.9Z" fill="#d0c8f0"/><path d="M288.8,129.2C289.78,128.55 292.42,128.1 294.1,128.3C295.78,128.5 297.9,129.45 298.9,130.4C299.9,131.35 299.1,132.9 300.1,134C301.1,135.1 303.62,136.1 304.9,137C306.18,137.9 307.6,138.42 307.8,139.4C308,140.38 307.38,142.17 306.1,142.9C304.82,143.63 302.3,143.8 300.1,143.8C297.9,143.8 294.68,143.55 292.9,142.9C291.12,142.25 289.88,141.18 289.4,139.9C288.92,138.62 290.2,136.48 290,135.2C289.8,133.92 288.4,133.2 288.2,132.2C288,131.2 287.82,129.85 288.8,129.2Z" fill="#c8c0f0"/><path d="M316.2,127.2C316.95,127.35 318.25,128.03 318.8,128.9C319.35,129.77 319.62,131.22 319.5,132.4C319.38,133.58 318.72,135.3 318.1,136C317.48,136.7 316.53,136.87 315.8,136.6C315.07,136.33 314.12,135.43 313.7,134.4C313.28,133.37 313.2,131.47 313.3,130.4C313.4,129.33 313.82,128.53 314.3,128C314.78,127.47 315.45,127.05 316.2,127.2Z" fill="#f0c8c4"/><path d="M313.8,135.9C314.38,135.07 314.97,135.9 314.8,136.9C314.63,137.9 313.38,141.07 312.8,141.9C312.22,142.73 311.13,142.9 311.3,141.9C311.47,140.9 313.22,136.73 313.8,135.9Z" fill="#d0c8f0"/><path d="M304.6,143.6C305.47,143.43 306.62,144.18 307.1,144.9C307.58,145.62 307.8,147.12 307.5,147.9C307.2,148.68 306.12,149.43 305.3,149.6C304.48,149.77 303.17,149.52 302.6,148.9C302.03,148.28 301.57,146.78 301.9,145.9C302.23,145.02 303.73,143.77 304.6,143.6Z" fill="#c8c0f0"/><path d="M291.1,143.6C291.83,143.6 292.93,144.3 293.3,144.9C293.67,145.5 293.67,146.62 293.3,147.2C292.93,147.78 291.83,148.4 291.1,148.4C290.37,148.4 289.27,147.78 288.9,147.2C288.53,146.62 288.53,145.5 288.9,144.9C289.27,144.3 290.37,143.6 291.1,143.6Z" fill="#a82a2a"/><circle cx="272.8" cy="123.4" r="1.4" fill="#a03030"/><ellipse cx="300.3" cy="137.4" rx="3" ry="3.5" fill="#6a68e6"/></g>
<clipPath id="cl203_1_326_99"><path d="M359.3,103C361.88,103.1 366.22,103.62 368.8,104.8C371.38,105.98 373.3,108.02 374.8,110.1C376.3,112.18 377.6,115.12 377.8,117.3C378,119.48 377.1,121.62 376,123.2C374.9,124.78 373.18,125.7 371.2,126.8C369.22,127.9 366.48,129.4 364.1,129.8C361.72,130.2 359.1,129.7 356.9,129.2C354.7,128.7 352.68,127.5 350.9,126.8C349.12,126.1 347.48,125.98 346.2,125C344.92,124.02 343.6,122.78 343.2,120.9C342.8,119.02 343.1,115.7 343.8,113.7C344.5,111.7 345.82,110.48 347.4,108.9C348.98,107.32 351.32,105.18 353.3,104.2C355.28,103.22 356.72,102.9 359.3,103Z"/></clipPath>
<g filter="url(#tx)"><path d="M359.3,103C361.88,103.1 366.22,103.62 368.8,104.8C371.38,105.98 373.3,108.02 374.8,110.1C376.3,112.18 377.6,115.12 377.8,117.3C378,119.48 377.1,121.62 376,123.2C374.9,124.78 373.18,125.7 371.2,126.8C369.22,127.9 366.48,129.4 364.1,129.8C361.72,130.2 359.1,129.7 356.9,129.2C354.7,128.7 352.68,127.5 350.9,126.8C349.12,126.1 347.48,125.98 346.2,125C344.92,124.02 343.6,122.78 343.2,120.9C342.8,119.02 343.1,115.7 343.8,113.7C344.5,111.7 345.82,110.48 347.4,108.9C348.98,107.32 351.32,105.18 353.3,104.2C355.28,103.22 356.72,102.9 359.3,103Z" fill="#eedce4"/><g clip-path="url(#cl203_1_326_99)"><g filter="url(#sb)"><ellipse cx="356.5" cy="124.4" rx="5" ry="5" fill="#7474e8" opacity="0.9"/><ellipse cx="351.5" cy="109.4" rx="6" ry="6" fill="#d8d0f2" opacity="0.6"/></g></g><path d="M340,126.9C340.67,126.15 342.25,125.9 343.5,125.9C344.75,125.9 346.58,126.23 347.5,126.9C348.42,127.57 349.08,128.98 349,129.9C348.92,130.82 348.08,131.98 347,132.4C345.92,132.82 343.75,132.73 342.5,132.4C341.25,132.07 339.92,131.32 339.5,130.4C339.08,129.48 339.33,127.65 340,126.9Z" fill="#f09a84"/><path d="M331.5,121.7C332.33,121 334.17,120.25 335.5,120.2C336.83,120.15 338.42,120.73 339.5,121.4C340.58,122.07 341.67,123.12 342,124.2C342.33,125.28 342.08,126.95 341.5,127.9C340.92,128.85 339.67,129.65 338.5,129.9C337.33,130.15 335.67,129.82 334.5,129.4C333.33,128.98 332.17,128.23 331.5,127.4C330.83,126.57 330.5,125.35 330.5,124.4C330.5,123.45 330.67,122.4 331.5,121.7Z" fill="#f05a40"/><path d="M337.5,132.9C338.17,132.07 340.08,132.32 341.5,132.4C342.92,132.48 344.83,132.82 346,133.4C347.17,133.98 348.17,134.9 348.5,135.9C348.83,136.9 348.67,138.57 348,139.4C347.33,140.23 345.83,140.82 344.5,140.9C343.17,140.98 341.17,140.48 340,139.9C338.83,139.32 337.92,138.57 337.5,137.4C337.08,136.23 336.83,133.73 337.5,132.9Z" fill="#f09078"/><path d="M348,129.2C348.98,128.55 351.62,128.1 353.3,128.3C354.98,128.5 357.1,129.45 358.1,130.4C359.1,131.35 358.3,132.9 359.3,134C360.3,135.1 362.82,136.1 364.1,137C365.38,137.9 366.8,138.42 367,139.4C367.2,140.38 366.58,142.17 365.3,142.9C364.02,143.63 361.5,143.8 359.3,143.8C357.1,143.8 353.88,143.55 352.1,142.9C350.32,142.25 349.08,141.18 348.6,139.9C348.12,138.62 349.4,136.48 349.2,135.2C349,133.92 347.6,133.2 347.4,132.2C347.2,131.2 347.02,129.85 348,129.2Z" fill="#f08a6a"/><path d="M375.4,127.2C376.15,127.35 377.45,128.03 378,128.9C378.55,129.77 378.82,131.22 378.7,132.4C378.58,133.58 377.92,135.3 377.3,136C376.68,136.7 375.73,136.87 375,136.6C374.27,136.33 373.32,135.43 372.9,134.4C372.48,133.37 372.4,131.47 372.5,130.4C372.6,129.33 373.02,128.53 373.5,128C373.98,127.47 374.65,127.05 375.4,127.2Z" fill="#8a88ea"/><path d="M373,135.9C373.58,135.07 374.17,135.9 374,136.9C373.83,137.9 372.58,141.07 372,141.9C371.42,142.73 370.33,142.9 370.5,141.9C370.67,140.9 372.42,136.73 373,135.9Z" fill="#f0c0b0"/><path d="M363.8,143.6C364.67,143.43 365.82,144.18 366.3,144.9C366.78,145.62 367,147.12 366.7,147.9C366.4,148.68 365.32,149.43 364.5,149.6C363.68,149.77 362.37,149.52 361.8,148.9C361.23,148.28 360.77,146.78 361.1,145.9C361.43,145.02 362.93,143.77 363.8,143.6Z" fill="#f0b0a0"/><path d="M350.3,143.6C351.03,143.6 352.13,144.3 352.5,144.9C352.87,145.5 352.87,146.62 352.5,147.2C352.13,147.78 351.03,148.4 350.3,148.4C349.57,148.4 348.47,147.78 348.1,147.2C347.73,146.62 347.73,145.5 348.1,144.9C348.47,144.3 349.57,143.6 350.3,143.6Z" fill="#d04040"/></g>
<clipPath id="cl205_1_385_99"><path d="M418.5,103C421.08,103.1 425.42,103.62 428,104.8C430.58,105.98 432.5,108.02 434,110.1C435.5,112.18 436.8,115.12 437,117.3C437.2,119.48 436.3,121.62 435.2,123.2C434.1,124.78 432.38,125.7 430.4,126.8C428.42,127.9 425.68,129.4 423.3,129.8C420.92,130.2 418.3,129.7 416.1,129.2C413.9,128.7 411.88,127.5 410.1,126.8C408.32,126.1 406.68,125.98 405.4,125C404.12,124.02 402.8,122.78 402.4,120.9C402,119.02 402.3,115.7 403,113.7C403.7,111.7 405.02,110.48 406.6,108.9C408.18,107.32 410.52,105.18 412.5,104.2C414.48,103.22 415.92,102.9 418.5,103Z"/></clipPath>
<g filter="url(#tx2)"><path d="M418.5,103C421.08,103.1 425.42,103.62 428,104.8C430.58,105.98 432.5,108.02 434,110.1C435.5,112.18 436.8,115.12 437,117.3C437.2,119.48 436.3,121.62 435.2,123.2C434.1,124.78 432.38,125.7 430.4,126.8C428.42,127.9 425.68,129.4 423.3,129.8C420.92,130.2 418.3,129.7 416.1,129.2C413.9,128.7 411.88,127.5 410.1,126.8C408.32,126.1 406.68,125.98 405.4,125C404.12,124.02 402.8,122.78 402.4,120.9C402,119.02 402.3,115.7 403,113.7C403.7,111.7 405.02,110.48 406.6,108.9C408.18,107.32 410.52,105.18 412.5,104.2C414.48,103.22 415.92,102.9 418.5,103Z" fill="#2a8a48"/><g clip-path="url(#cl205_1_385_99)"><g><ellipse cx="409.2" cy="119.4" rx="6.8" ry="7.5" fill="#7a2810" opacity="1"/><ellipse cx="411.7" cy="108.4" rx="3.6" ry="3.8" fill="#e6433a" opacity="1"/><ellipse cx="421.7" cy="107.4" rx="6.5" ry="4.8" fill="#b0d2e4" opacity="1"/><ellipse cx="431.2" cy="116.9" rx="6.5" ry="9.5" fill="#3a72c2" opacity="1"/><ellipse cx="420.2" cy="116.4" rx="6" ry="6.5" fill="#166a34" opacity="1"/><ellipse cx="418.7" cy="125.9" rx="6.5" ry="4.2" fill="#30c040" opacity="1"/></g></g><path d="M399.2,126.9C399.87,126.15 401.45,125.9 402.7,125.9C403.95,125.9 405.78,126.23 406.7,126.9C407.62,127.57 408.28,128.98 408.2,129.9C408.12,130.82 407.28,131.98 406.2,132.4C405.12,132.82 402.95,132.73 401.7,132.4C400.45,132.07 399.12,131.32 398.7,130.4C398.28,129.48 398.53,127.65 399.2,126.9Z" fill="#b4501a"/><path d="M390.7,121.7C391.53,121 393.37,120.25 394.7,120.2C396.03,120.15 397.62,120.73 398.7,121.4C399.78,122.07 400.87,123.12 401.2,124.2C401.53,125.28 401.28,126.95 400.7,127.9C400.12,128.85 398.87,129.65 397.7,129.9C396.53,130.15 394.87,129.82 393.7,129.4C392.53,128.98 391.37,128.23 390.7,127.4C390.03,126.57 389.7,125.35 389.7,124.4C389.7,123.45 389.87,122.4 390.7,121.7Z" fill="#1c7ad6"/><path d="M396.7,132.9C397.37,132.07 399.28,132.32 400.7,132.4C402.12,132.48 404.03,132.82 405.2,133.4C406.37,133.98 407.37,134.9 407.7,135.9C408.03,136.9 407.87,138.57 407.2,139.4C406.53,140.23 405.03,140.82 403.7,140.9C402.37,140.98 400.37,140.48 399.2,139.9C398.03,139.32 397.12,138.57 396.7,137.4C396.28,136.23 396.03,133.73 396.7,132.9Z" fill="#4c0c6c"/><path d="M407.2,129.2C408.18,128.55 410.82,128.1 412.5,128.3C414.18,128.5 416.3,129.45 417.3,130.4C418.3,131.35 417.5,132.9 418.5,134C419.5,135.1 422.02,136.1 423.3,137C424.58,137.9 426,138.42 426.2,139.4C426.4,140.38 425.78,142.17 424.5,142.9C423.22,143.63 420.7,143.8 418.5,143.8C416.3,143.8 413.08,143.55 411.3,142.9C409.52,142.25 408.28,141.18 407.8,139.9C407.32,138.62 408.6,136.48 408.4,135.2C408.2,133.92 406.8,133.2 406.6,132.2C406.4,131.2 406.22,129.85 407.2,129.2Z" fill="#e6a8e6"/><path d="M434.6,127.2C435.35,127.35 436.65,128.03 437.2,128.9C437.75,129.77 438.02,131.22 437.9,132.4C437.78,133.58 437.12,135.3 436.5,136C435.88,136.7 434.93,136.87 434.2,136.6C433.47,136.33 432.52,135.43 432.1,134.4C431.68,133.37 431.6,131.47 431.7,130.4C431.8,129.33 432.22,128.53 432.7,128C433.18,127.47 433.85,127.05 434.6,127.2Z" fill="#f4b468"/><path d="M432.2,135.9C432.78,135.07 433.37,135.9 433.2,136.9C433.03,137.9 431.78,141.07 431.2,141.9C430.62,142.73 429.53,142.9 429.7,141.9C429.87,140.9 431.62,136.73 432.2,135.9Z" fill="#f4c090"/><path d="M423,143.6C423.87,143.43 425.02,144.18 425.5,144.9C425.98,145.62 426.2,147.12 425.9,147.9C425.6,148.68 424.52,149.43 423.7,149.6C422.88,149.77 421.57,149.52 421,148.9C420.43,148.28 419.97,146.78 420.3,145.9C420.63,145.02 422.13,143.77 423,143.6Z" fill="#e0a4c8"/><path d="M409.5,143.6C410.23,143.6 411.33,144.3 411.7,144.9C412.07,145.5 412.07,146.62 411.7,147.2C411.33,147.78 410.23,148.4 409.5,148.4C408.77,148.4 407.67,147.78 407.3,147.2C406.93,146.62 406.93,145.5 407.3,144.9C407.67,144.3 408.77,143.6 409.5,143.6Z" fill="#90bc90"/><ellipse cx="416.2" cy="139.4" rx="8.2" ry="3.8" fill="#f8c292"/><circle cx="424.5" cy="143" r="1.3" fill="#5a2a6a"/></g>
<clipPath id="cl207_1_444_99"><path d="M477.7,103C480.28,103.1 484.62,103.62 487.2,104.8C489.78,105.98 491.7,108.02 493.2,110.1C494.7,112.18 496,115.12 496.2,117.3C496.4,119.48 495.5,121.62 494.4,123.2C493.3,124.78 491.58,125.7 489.6,126.8C487.62,127.9 484.88,129.4 482.5,129.8C480.12,130.2 477.5,129.7 475.3,129.2C473.1,128.7 471.08,127.5 469.3,126.8C467.52,126.1 465.88,125.98 464.6,125C463.32,124.02 462,122.78 461.6,120.9C461.2,119.02 461.5,115.7 462.2,113.7C462.9,111.7 464.22,110.48 465.8,108.9C467.38,107.32 469.72,105.18 471.7,104.2C473.68,103.22 475.12,102.9 477.7,103Z"/></clipPath>
<g filter="url(#tx2)"><path d="M477.7,103C480.28,103.1 484.62,103.62 487.2,104.8C489.78,105.98 491.7,108.02 493.2,110.1C494.7,112.18 496,115.12 496.2,117.3C496.4,119.48 495.5,121.62 494.4,123.2C493.3,124.78 491.58,125.7 489.6,126.8C487.62,127.9 484.88,129.4 482.5,129.8C480.12,130.2 477.5,129.7 475.3,129.2C473.1,128.7 471.08,127.5 469.3,126.8C467.52,126.1 465.88,125.98 464.6,125C463.32,124.02 462,122.78 461.6,120.9C461.2,119.02 461.5,115.7 462.2,113.7C462.9,111.7 464.22,110.48 465.8,108.9C467.38,107.32 469.72,105.18 471.7,104.2C473.68,103.22 475.12,102.9 477.7,103Z" fill="#4276c4"/><g clip-path="url(#cl207_1_444_99)"><g><ellipse cx="470.9" cy="129.4" rx="5" ry="3" fill="#e8382a" opacity="1"/></g></g><path d="M458.4,126.9C459.07,126.15 460.65,125.9 461.9,125.9C463.15,125.9 464.98,126.23 465.9,126.9C466.82,127.57 467.48,128.98 467.4,129.9C467.32,130.82 466.48,131.98 465.4,132.4C464.32,132.82 462.15,132.73 460.9,132.4C459.65,132.07 458.32,131.32 457.9,130.4C457.48,129.48 457.73,127.65 458.4,126.9Z" fill="#c05080"/><path d="M449.9,121.7C450.73,121 452.57,120.25 453.9,120.2C455.23,120.15 456.82,120.73 457.9,121.4C458.98,122.07 460.07,123.12 460.4,124.2C460.73,125.28 460.48,126.95 459.9,127.9C459.32,128.85 458.07,129.65 456.9,129.9C455.73,130.15 454.07,129.82 452.9,129.4C451.73,128.98 450.57,128.23 449.9,127.4C449.23,126.57 448.9,125.35 448.9,124.4C448.9,123.45 449.07,122.4 449.9,121.7Z" fill="#9a48b8"/><path d="M455.9,132.9C456.57,132.07 458.48,132.32 459.9,132.4C461.32,132.48 463.23,132.82 464.4,133.4C465.57,133.98 466.57,134.9 466.9,135.9C467.23,136.9 467.07,138.57 466.4,139.4C465.73,140.23 464.23,140.82 462.9,140.9C461.57,140.98 459.57,140.48 458.4,139.9C457.23,139.32 456.32,138.57 455.9,137.4C455.48,136.23 455.23,133.73 455.9,132.9Z" fill="#f0a2b4"/><path d="M466.4,129.2C467.38,128.55 470.02,128.1 471.7,128.3C473.38,128.5 475.5,129.45 476.5,130.4C477.5,131.35 476.7,132.9 477.7,134C478.7,135.1 481.22,136.1 482.5,137C483.78,137.9 485.2,138.42 485.4,139.4C485.6,140.38 484.98,142.17 483.7,142.9C482.42,143.63 479.9,143.8 477.7,143.8C475.5,143.8 472.28,143.55 470.5,142.9C468.72,142.25 467.48,141.18 467,139.9C466.52,138.62 467.8,136.48 467.6,135.2C467.4,133.92 466,133.2 465.8,132.2C465.6,131.2 465.42,129.85 466.4,129.2Z" fill="#e8382a"/><path d="M493.8,127.2C494.55,127.35 495.85,128.03 496.4,128.9C496.95,129.77 497.22,131.22 497.1,132.4C496.98,133.58 496.32,135.3 495.7,136C495.08,136.7 494.13,136.87 493.4,136.6C492.67,136.33 491.72,135.43 491.3,134.4C490.88,133.37 490.8,131.47 490.9,130.4C491,129.33 491.42,128.53 491.9,128C492.38,127.47 493.05,127.05 493.8,127.2Z" fill="#6a1a0a"/><path d="M491.4,135.9C491.98,135.07 492.57,135.9 492.4,136.9C492.23,137.9 490.98,141.07 490.4,141.9C489.82,142.73 488.73,142.9 488.9,141.9C489.07,140.9 490.82,136.73 491.4,135.9Z" fill="#8ec88e"/><path d="M482.2,143.6C483.07,143.43 484.22,144.18 484.7,144.9C485.18,145.62 485.4,147.12 485.1,147.9C484.8,148.68 483.72,149.43 482.9,149.6C482.08,149.77 480.77,149.52 480.2,148.9C479.63,148.28 479.17,146.78 479.5,145.9C479.83,145.02 481.33,143.77 482.2,143.6Z" fill="#8ec88e"/><path d="M468.7,143.6C469.43,143.6 470.53,144.3 470.9,144.9C471.27,145.5 471.27,146.62 470.9,147.2C470.53,147.78 469.43,148.4 468.7,148.4C467.97,148.4 466.87,147.78 466.5,147.2C466.13,146.62 466.13,145.5 466.5,144.9C466.87,144.3 467.97,143.6 468.7,143.6Z" fill="#c4d2e4"/></g>
<text x="6.2" y="193.8" font-size="12.5" text-anchor="start" fill="#000" font-weight="bold">B</text>
<text x="6.2" y="316.2" font-size="12.5" text-anchor="start" fill="#000" font-weight="bold">E</text>
<text x="192" y="191" font-size="8.4" text-anchor="middle" fill="#222" stroke="#222" stroke-width="0.12">Romidepsin (nM)</text>
<text x="192" y="309.5" font-size="8.4" text-anchor="middle" fill="#222" stroke="#222" stroke-width="0.12">SAHA (μM)</text>
<text x="62" y="200" font-size="6.7" text-anchor="middle" fill="#222" stroke="#222" stroke-width="0.12">0.00</text>
<rect x="31.6" y="203.8" width="60.8" height="60" fill="none" stroke="#111" stroke-width="1.6"/>
<line x1="32.7" y1="264.6" x2="32.7" y2="266.9" stroke="#111" stroke-width="1"/>
<text x="32.7" y="277.8" font-size="6.4" text-anchor="middle" fill="#333" stroke="#333" stroke-width="0.12">−50</text>
<line x1="48.7" y1="264.6" x2="48.7" y2="266.9" stroke="#111" stroke-width="1"/>
<text x="48.7" y="277.8" font-size="6.4" text-anchor="middle" fill="#333" stroke="#333" stroke-width="0.12">−25</text>
<line x1="64.7" y1="264.6" x2="64.7" y2="266.9" stroke="#111" stroke-width="1"/>
<text x="64.7" y="277.8" font-size="6.4" text-anchor="middle" fill="#333" stroke="#333" stroke-width="0.12">0</text>
<line x1="80.7" y1="264.6" x2="80.7" y2="266.9" stroke="#111" stroke-width="1"/>
<text x="80.7" y="277.8" font-size="6.4" text-anchor="middle" fill="#333" stroke="#333" stroke-width="0.12">25</text>
<line x1="28.5" y1="215.6" x2="30.8" y2="215.6" stroke="#111" stroke-width="1"/>
<text x="26" y="217.9" font-size="6.4" text-anchor="end" fill="#333" stroke="#333" stroke-width="0.12">25</text>
<line x1="28.5" y1="231.2" x2="30.8" y2="231.2" stroke="#111" stroke-width="1"/>
<text x="26" y="233.5" font-size="6.4" text-anchor="end" fill="#333" stroke="#333" stroke-width="0.12">0</text>
<line x1="28.5" y1="246.8" x2="30.8" y2="246.8" stroke="#111" stroke-width="1"/>
<text x="26" y="249.1" font-size="6.4" text-anchor="end" fill="#333" stroke="#333" stroke-width="0.12">−25</text>
<line x1="28.5" y1="262.4" x2="30.8" y2="262.4" stroke="#111" stroke-width="1"/>
<text x="26" y="264.7" font-size="6.4" text-anchor="end" fill="#333" stroke="#333" stroke-width="0.12">−50</text>
<text x="126.8" y="200" font-size="6.7" text-anchor="middle" fill="#222" stroke="#222" stroke-width="0.12">0.06</text>
<rect x="96.4" y="203.8" width="60.8" height="60" fill="none" stroke="#111" stroke-width="1.6"/>
<line x1="97.5" y1="264.6" x2="97.5" y2="266.9" stroke="#111" stroke-width="1"/>
<text x="97.5" y="277.8" font-size="6.4" text-anchor="middle" fill="#333" stroke="#333" stroke-width="0.12">−50</text>
<line x1="113.5" y1="264.6" x2="113.5" y2="266.9" stroke="#111" stroke-width="1"/>
<text x="113.5" y="277.8" font-size="6.4" text-anchor="middle" fill="#333" stroke="#333" stroke-width="0.12">−25</text>
<line x1="129.5" y1="264.6" x2="129.5" y2="266.9" stroke="#111" stroke-width="1"/>
<text x="129.5" y="277.8" font-size="6.4" text-anchor="middle" fill="#333" stroke="#333" stroke-width="0.12">0</text>
<line x1="145.5" y1="264.6" x2="145.5" y2="266.9" stroke="#111" stroke-width="1"/>
<text x="145.5" y="277.8" font-size="6.4" text-anchor="middle" fill="#333" stroke="#333" stroke-width="0.12">25</text>
<text x="191.6" y="200" font-size="6.7" text-anchor="middle" fill="#222" stroke="#222" stroke-width="0.12">0.25</text>
<rect x="161.2" y="203.8" width="60.8" height="60" fill="none" stroke="#111" stroke-width="1.6"/>
<line x1="162.3" y1="264.6" x2="162.3" y2="266.9" stroke="#111" stroke-width="1"/>
<text x="162.3" y="277.8" font-size="6.4" text-anchor="middle" fill="#333" stroke="#333" stroke-width="0.12">−50</text>
<line x1="178.3" y1="264.6" x2="178.3" y2="266.9" stroke="#111" stroke-width="1"/>
<text x="178.3" y="277.8" font-size="6.4" text-anchor="middle" fill="#333" stroke="#333" stroke-width="0.12">−25</text>
<line x1="194.3" y1="264.6" x2="194.3" y2="266.9" stroke="#111" stroke-width="1"/>
<text x="194.3" y="277.8" font-size="6.4" text-anchor="middle" fill="#333" stroke="#333" stroke-width="0.12">0</text>
<line x1="210.3" y1="264.6" x2="210.3" y2="266.9" stroke="#111" stroke-width="1"/>
<text x="210.3" y="277.8" font-size="6.4" text-anchor="middle" fill="#333" stroke="#333" stroke-width="0.12">25</text>
<text x="256.4" y="200" font-size="6.7" text-anchor="middle" fill="#222" stroke="#222" stroke-width="0.12">1.00</text>
<rect x="226" y="203.8" width="60.8" height="60" fill="none" stroke="#111" stroke-width="1.6"/>
<line x1="227.1" y1="264.6" x2="227.1" y2="266.9" stroke="#111" stroke-width="1"/>
<text x="227.1" y="277.8" font-size="6.4" text-anchor="middle" fill="#333" stroke="#333" stroke-width="0.12">−50</text>
<line x1="243.1" y1="264.6" x2="243.1" y2="266.9" stroke="#111" stroke-width="1"/>
<text x="243.1" y="277.8" font-size="6.4" text-anchor="middle" fill="#333" stroke="#333" stroke-width="0.12">−25</text>
<line x1="259.1" y1="264.6" x2="259.1" y2="266.9" stroke="#111" stroke-width="1"/>
<text x="259.1" y="277.8" font-size="6.4" text-anchor="middle" fill="#333" stroke="#333" stroke-width="0.12">0</text>
<line x1="275.1" y1="264.6" x2="275.1" y2="266.9" stroke="#111" stroke-width="1"/>
<text x="275.1" y="277.8" font-size="6.4" text-anchor="middle" fill="#333" stroke="#333" stroke-width="0.12">25</text>
<text x="321.2" y="200" font-size="6.7" text-anchor="middle" fill="#222" stroke="#222" stroke-width="0.12">4.00</text>
<rect x="290.8" y="203.8" width="60.8" height="60" fill="none" stroke="#111" stroke-width="1.6"/>
<line x1="291.9" y1="264.6" x2="291.9" y2="266.9" stroke="#111" stroke-width="1"/>
<text x="291.9" y="277.8" font-size="6.4" text-anchor="middle" fill="#333" stroke="#333" stroke-width="0.12">−50</text>
<line x1="307.9" y1="264.6" x2="307.9" y2="266.9" stroke="#111" stroke-width="1"/>
<text x="307.9" y="277.8" font-size="6.4" text-anchor="middle" fill="#333" stroke="#333" stroke-width="0.12">−25</text>
<line x1="323.9" y1="264.6" x2="323.9" y2="266.9" stroke="#111" stroke-width="1"/>
<text x="323.9" y="277.8" font-size="6.4" text-anchor="middle" fill="#333" stroke="#333" stroke-width="0.12">0</text>
<line x1="339.9" y1="264.6" x2="339.9" y2="266.9" stroke="#111" stroke-width="1"/>
<text x="339.9" y="277.8" font-size="6.4" text-anchor="middle" fill="#333" stroke="#333" stroke-width="0.12">25</text>
<text x="10" y="237.5" font-size="7.4" text-anchor="middle" fill="#222" font-weight="bold" transform="rotate(-90 10 237.5)" textLength="20" lengthAdjust="spacingAndGlyphs">t-SNE 2</text>
<text x="191.2" y="289.9" font-size="7.4" text-anchor="middle" fill="#222" font-weight="bold" textLength="20" lengthAdjust="spacingAndGlyphs">t-SNE 1</text>
<text x="62" y="318.3" font-size="6.7" text-anchor="middle" fill="#222" stroke="#222" stroke-width="0.12">0.00</text>
<rect x="31.6" y="322.1" width="60.8" height="60" fill="none" stroke="#111" stroke-width="1.6"/>
<line x1="32.7" y1="382.9" x2="32.7" y2="385.2" stroke="#111" stroke-width="1"/>
<text x="32.7" y="396.1" font-size="6.4" text-anchor="middle" fill="#333" stroke="#333" stroke-width="0.12">−50</text>
<line x1="48.7" y1="382.9" x2="48.7" y2="385.2" stroke="#111" stroke-width="1"/>
<text x="48.7" y="396.1" font-size="6.4" text-anchor="middle" fill="#333" stroke="#333" stroke-width="0.12">−25</text>
<line x1="64.7" y1="382.9" x2="64.7" y2="385.2" stroke="#111" stroke-width="1"/>
<text x="64.7" y="396.1" font-size="6.4" text-anchor="middle" fill="#333" stroke="#333" stroke-width="0.12">0</text>
<line x1="80.7" y1="382.9" x2="80.7" y2="385.2" stroke="#111" stroke-width="1"/>
<text x="80.7" y="396.1" font-size="6.4" text-anchor="middle" fill="#333" stroke="#333" stroke-width="0.12">25</text>
<line x1="28.5" y1="333.9" x2="30.8" y2="333.9" stroke="#111" stroke-width="1"/>
<text x="26" y="336.2" font-size="6.4" text-anchor="end" fill="#333" stroke="#333" stroke-width="0.12">25</text>
<line x1="28.5" y1="349.5" x2="30.8" y2="349.5" stroke="#111" stroke-width="1"/>
<text x="26" y="351.8" font-size="6.4" text-anchor="end" fill="#333" stroke="#333" stroke-width="0.12">0</text>
<line x1="28.5" y1="365.1" x2="30.8" y2="365.1" stroke="#111" stroke-width="1"/>
<text x="26" y="367.4" font-size="6.4" text-anchor="end" fill="#333" stroke="#333" stroke-width="0.12">−25</text>
<line x1="28.5" y1="380.7" x2="30.8" y2="380.7" stroke="#111" stroke-width="1"/>
<text x="26" y="383" font-size="6.4" text-anchor="end" fill="#333" stroke="#333" stroke-width="0.12">−50</text>
<text x="126.8" y="318.3" font-size="6.7" text-anchor="middle" fill="#222" stroke="#222" stroke-width="0.12">0.06</text>
<rect x="96.4" y="322.1" width="60.8" height="60" fill="none" stroke="#111" stroke-width="1.6"/>
<line x1="97.5" y1="382.9" x2="97.5" y2="385.2" stroke="#111" stroke-width="1"/>
<text x="97.5" y="396.1" font-size="6.4" text-anchor="middle" fill="#333" stroke="#333" stroke-width="0.12">−50</text>
<line x1="113.5" y1="382.9" x2="113.5" y2="385.2" stroke="#111" stroke-width="1"/>
<text x="113.5" y="396.1" font-size="6.4" text-anchor="middle" fill="#333" stroke="#333" stroke-width="0.12">−25</text>
<line x1="129.5" y1="382.9" x2="129.5" y2="385.2" stroke="#111" stroke-width="1"/>
<text x="129.5" y="396.1" font-size="6.4" text-anchor="middle" fill="#333" stroke="#333" stroke-width="0.12">0</text>
<line x1="145.5" y1="382.9" x2="145.5" y2="385.2" stroke="#111" stroke-width="1"/>
<text x="145.5" y="396.1" font-size="6.4" text-anchor="middle" fill="#333" stroke="#333" stroke-width="0.12">25</text>
<text x="191.6" y="318.3" font-size="6.7" text-anchor="middle" fill="#222" stroke="#222" stroke-width="0.12">0.25</text>
<rect x="161.2" y="322.1" width="60.8" height="60" fill="none" stroke="#111" stroke-width="1.6"/>
<line x1="162.3" y1="382.9" x2="162.3" y2="385.2" stroke="#111" stroke-width="1"/>
<text x="162.3" y="396.1" font-size="6.4" text-anchor="middle" fill="#333" stroke="#333" stroke-width="0.12">−50</text>
<line x1="178.3" y1="382.9" x2="178.3" y2="385.2" stroke="#111" stroke-width="1"/>
<text x="178.3" y="396.1" font-size="6.4" text-anchor="middle" fill="#333" stroke="#333" stroke-width="0.12">−25</text>
<line x1="194.3" y1="382.9" x2="194.3" y2="385.2" stroke="#111" stroke-width="1"/>
<text x="194.3" y="396.1" font-size="6.4" text-anchor="middle" fill="#333" stroke="#333" stroke-width="0.12">0</text>
<line x1="210.3" y1="382.9" x2="210.3" y2="385.2" stroke="#111" stroke-width="1"/>
<text x="210.3" y="396.1" font-size="6.4" text-anchor="middle" fill="#333" stroke="#333" stroke-width="0.12">25</text>
<text x="256.4" y="318.3" font-size="6.7" text-anchor="middle" fill="#222" stroke="#222" stroke-width="0.12">1.00</text>
<rect x="226" y="322.1" width="60.8" height="60" fill="none" stroke="#111" stroke-width="1.6"/>
<line x1="227.1" y1="382.9" x2="227.1" y2="385.2" stroke="#111" stroke-width="1"/>
<text x="227.1" y="396.1" font-size="6.4" text-anchor="middle" fill="#333" stroke="#333" stroke-width="0.12">−50</text>
<line x1="243.1" y1="382.9" x2="243.1" y2="385.2" stroke="#111" stroke-width="1"/>
<text x="243.1" y="396.1" font-size="6.4" text-anchor="middle" fill="#333" stroke="#333" stroke-width="0.12">−25</text>
<line x1="259.1" y1="382.9" x2="259.1" y2="385.2" stroke="#111" stroke-width="1"/>
<text x="259.1" y="396.1" font-size="6.4" text-anchor="middle" fill="#333" stroke="#333" stroke-width="0.12">0</text>
<line x1="275.1" y1="382.9" x2="275.1" y2="385.2" stroke="#111" stroke-width="1"/>
<text x="275.1" y="396.1" font-size="6.4" text-anchor="middle" fill="#333" stroke="#333" stroke-width="0.12">25</text>
<text x="321.2" y="318.3" font-size="6.7" text-anchor="middle" fill="#222" stroke="#222" stroke-width="0.12">4.00</text>
<rect x="290.8" y="322.1" width="60.8" height="60" fill="none" stroke="#111" stroke-width="1.6"/>
<line x1="291.9" y1="382.9" x2="291.9" y2="385.2" stroke="#111" stroke-width="1"/>
<text x="291.9" y="396.1" font-size="6.4" text-anchor="middle" fill="#333" stroke="#333" stroke-width="0.12">−50</text>
<line x1="307.9" y1="382.9" x2="307.9" y2="385.2" stroke="#111" stroke-width="1"/>
<text x="307.9" y="396.1" font-size="6.4" text-anchor="middle" fill="#333" stroke="#333" stroke-width="0.12">−25</text>
<line x1="323.9" y1="382.9" x2="323.9" y2="385.2" stroke="#111" stroke-width="1"/>
<text x="323.9" y="396.1" font-size="6.4" text-anchor="middle" fill="#333" stroke="#333" stroke-width="0.12">0</text>
<line x1="339.9" y1="382.9" x2="339.9" y2="385.2" stroke="#111" stroke-width="1"/>
<text x="339.9" y="396.1" font-size="6.4" text-anchor="middle" fill="#333" stroke="#333" stroke-width="0.12">25</text>
<text x="10" y="355.8" font-size="7.4" text-anchor="middle" fill="#222" font-weight="bold" transform="rotate(-90 10 355.8)" textLength="20" lengthAdjust="spacingAndGlyphs">t-SNE 2</text>
<text x="191.2" y="408.2" font-size="7.4" text-anchor="middle" fill="#222" font-weight="bold" textLength="20" lengthAdjust="spacingAndGlyphs">t-SNE 1</text>
<path d="M80.85,209.41C85.49,209.74 84.32,210.25 85.39,211.36C86.46,212.46 86.96,213.09 87.27,216.05C87.58,219 87.58,226.14 87.27,229.1C86.96,232.06 86.46,232.68 85.39,233.79C84.32,234.9 85.49,235.41 80.85,235.73C76.21,236.06 62.17,236.06 57.52,235.73C52.88,235.41 54.05,234.9 52.98,233.79C51.91,232.68 51.42,232.06 51.1,229.1C50.79,226.14 50.79,219 51.1,216.05C51.42,213.09 51.91,212.46 52.98,211.36C54.05,210.25 52.88,209.74 57.52,209.41C62.17,209.09 76.21,209.09 80.85,209.41Z" fill="none" stroke="#cdc6cc" stroke-width="0.9" opacity="1.0"/><path d="M36.23,228.44C36.77,226.78 38.91,225.49 40.51,225.12C42.12,224.75 44.26,225.39 45.86,226.22C47.47,227.05 48.98,228.71 50.14,230.09C51.3,231.48 52.46,233.14 52.82,234.52C53.17,235.9 53.08,237.56 52.28,238.39C51.48,239.22 49.7,239.59 48,239.49C46.31,239.4 43.9,238.57 42.12,237.84C40.33,237.1 38.28,236.64 37.3,235.07C36.32,233.5 35.7,230.09 36.23,228.44Z" fill="none" stroke="#d8c4d6" stroke-width="0.9" opacity="1.0"/><path d="M42.12,240.6C43.1,239.72 45.68,239.72 47.47,239.72C49.25,239.72 51.57,239.81 52.82,240.6C54.06,241.39 54.78,243.09 54.96,244.47C55.13,245.85 54.96,247.88 53.89,248.9C52.82,249.91 50.23,250.55 48.54,250.55C46.84,250.55 44.88,249.82 43.72,248.9C42.56,247.97 41.85,246.41 41.58,245.02C41.31,243.64 41.14,241.49 42.12,240.6Z" fill="none" stroke="#e4c4ca" stroke-width="0.9" opacity="1.0"/><path d="M55.49,235.73C56.92,234.89 61.29,235.07 63.52,235.51C65.75,235.96 66.99,236.99 68.87,238.39C70.74,239.79 73.59,242.26 74.75,243.92C75.91,245.58 76.09,246.91 75.82,248.34C75.55,249.78 75.02,251.77 73.15,252.55C71.27,253.32 67.26,253.04 64.59,252.99C61.91,252.93 58.7,253.17 57.1,252.21C55.49,251.26 55.31,249.17 54.96,247.24C54.6,245.3 54.87,242.52 54.96,240.6C55.05,238.68 54.06,236.58 55.49,235.73Z" fill="none" stroke="#e0c0bc" stroke-width="0.9" opacity="1.0"/><path d="M85.45,233.96C86.47,233.96 87.89,234.7 88.66,235.62C89.43,236.55 90.05,238.11 90.05,239.49C90.05,240.88 89.43,242.96 88.66,243.92C87.89,244.88 86.47,245.34 85.45,245.25C84.43,245.15 83.22,244.32 82.56,243.37C81.9,242.41 81.49,240.79 81.49,239.49C81.49,238.2 81.9,236.55 82.56,235.62C83.22,234.7 84.43,233.96 85.45,233.96Z" fill="none" stroke="#d8b8a8" stroke-width="0.9" opacity="1.0"/><path d="M81.71,243.92C82.42,243.83 84.38,243.92 83.85,245.58C83.31,247.24 80.1,251.48 78.5,253.87C76.89,256.27 75.55,259.03 74.22,259.96C72.88,260.88 71.18,260.23 70.47,259.4C69.76,258.57 69.31,256.27 69.94,254.98C70.56,253.69 72.61,253.14 74.22,251.66C75.82,250.19 78.32,247.42 79.57,246.13C80.81,244.84 80.99,244.01 81.71,243.92Z" fill="none" stroke="#cce4cc" stroke-width="0.9" opacity="1.0"/>
<clipPath id="cl334_1_30_203"><path d="M66.51,206.98C69.28,207.09 73.91,207.66 76.68,208.97C79.44,210.28 81.49,212.53 83.1,214.83C84.7,217.14 86.09,220.38 86.31,222.79C86.52,225.21 85.56,227.57 84.38,229.32C83.2,231.07 81.37,232.08 79.25,233.3C77.12,234.52 74.2,236.18 71.65,236.62C69.1,237.06 66.3,236.51 63.94,235.96C61.59,235.4 59.43,234.08 57.52,233.3C55.62,232.53 53.87,232.4 52.5,231.31C51.12,230.22 49.71,228.86 49.29,226.78C48.86,224.69 49.18,221.02 49.93,218.81C50.68,216.6 52.08,215.26 53.78,213.5C55.47,211.75 57.97,209.39 60.09,208.31C62.21,207.22 63.75,206.87 66.51,206.98Z"/></clipPath>
<clipPath id="cl335_4_30_203"><path d="M36.77,227.66C37.66,226.89 39.62,226.06 41.05,226C42.47,225.95 44.17,226.59 45.33,227.33C46.49,228.07 47.64,229.23 48,230.43C48.36,231.62 48.09,233.47 47.47,234.52C46.84,235.57 45.5,236.45 44.26,236.73C43.01,237.01 41.22,236.64 39.98,236.18C38.73,235.72 37.48,234.89 36.77,233.96C36.05,233.04 35.7,231.7 35.7,230.65C35.7,229.6 35.87,228.44 36.77,227.66Z"/></clipPath>
<clipPath id="cl336_7_30_203"><path d="M54.42,235.96C55.47,235.24 58.29,234.74 60.09,234.96C61.89,235.18 64.16,236.23 65.23,237.28C66.3,238.33 65.44,240.05 66.51,241.26C67.58,242.48 70.27,243.59 71.65,244.58C73.02,245.58 74.54,246.15 74.75,247.24C74.97,248.32 74.31,250.3 72.93,251.11C71.56,251.92 68.87,252.1 66.51,252.1C64.16,252.1 60.72,251.83 58.81,251.11C56.9,250.39 55.58,249.21 55.06,247.79C54.55,246.37 55.92,244.01 55.71,242.59C55.49,241.17 53.99,240.38 53.78,239.27C53.57,238.17 53.37,236.67 54.42,235.96Z"/></clipPath>
<g filter="url(#tx3)"><path d="M66.51,206.98C69.28,207.09 73.91,207.66 76.68,208.97C79.44,210.28 81.49,212.53 83.1,214.83C84.7,217.14 86.09,220.38 86.31,222.79C86.52,225.21 85.56,227.57 84.38,229.32C83.2,231.07 81.37,232.08 79.25,233.3C77.12,234.52 74.2,236.18 71.65,236.62C69.1,237.06 66.3,236.51 63.94,235.96C61.59,235.4 59.43,234.08 57.52,233.3C55.62,232.53 53.87,232.4 52.5,231.31C51.12,230.22 49.71,228.86 49.29,226.78C48.86,224.69 49.18,221.02 49.93,218.81C50.68,216.6 52.08,215.26 53.78,213.5C55.47,211.75 57.97,209.39 60.09,208.31C62.21,207.22 63.75,206.87 66.51,206.98Z" fill="#4a7ec8"/><g clip-path="url(#cl334_1_30_203)"><g filter="url(#sb)"><ellipse cx="54.96" cy="215.16" rx="7.49" ry="7.74" fill="#dfe8f6" opacity="0.85"/></g></g><path d="M45.86,233.41C46.57,232.58 48.27,232.31 49.61,232.31C50.94,232.31 52.91,232.67 53.89,233.41C54.87,234.15 55.58,235.72 55.49,236.73C55.4,237.74 54.51,239.03 53.35,239.49C52.19,239.96 49.87,239.86 48.54,239.49C47.2,239.13 45.77,238.3 45.33,237.28C44.88,236.27 45.15,234.24 45.86,233.41Z" fill="#f4dce6"/><path d="M36.77,227.66C37.66,226.89 39.62,226.06 41.05,226C42.47,225.95 44.17,226.59 45.33,227.33C46.49,228.07 47.64,229.23 48,230.43C48.36,231.62 48.09,233.47 47.47,234.52C46.84,235.57 45.5,236.45 44.26,236.73C43.01,237.01 41.22,236.64 39.98,236.18C38.73,235.72 37.48,234.89 36.77,233.96C36.05,233.04 35.7,231.7 35.7,230.65C35.7,229.6 35.87,228.44 36.77,227.66Z" fill="#dcc8e6"/><g clip-path="url(#cl335_4_30_203)"><g filter="url(#sb)"><ellipse cx="41.58" cy="229.54" rx="3.75" ry="3.32" fill="#9a5cc0" opacity="0.9"/></g></g><path d="M43.19,240.05C43.9,239.13 45.95,239.4 47.47,239.49C48.98,239.59 51.03,239.96 52.28,240.6C53.53,241.25 54.6,242.26 54.96,243.37C55.31,244.47 55.13,246.32 54.42,247.24C53.71,248.16 52.1,248.8 50.68,248.9C49.25,248.99 47.11,248.44 45.86,247.79C44.61,247.14 43.63,246.32 43.19,245.02C42.74,243.73 42.47,240.97 43.19,240.05Z" fill="#f8e0e4"/><path d="M54.42,235.96C55.47,235.24 58.29,234.74 60.09,234.96C61.89,235.18 64.16,236.23 65.23,237.28C66.3,238.33 65.44,240.05 66.51,241.26C67.58,242.48 70.27,243.59 71.65,244.58C73.02,245.58 74.54,246.15 74.75,247.24C74.97,248.32 74.31,250.3 72.93,251.11C71.56,251.92 68.87,252.1 66.51,252.1C64.16,252.1 60.72,251.83 58.81,251.11C56.9,250.39 55.58,249.21 55.06,247.79C54.55,246.37 55.92,244.01 55.71,242.59C55.49,241.17 53.99,240.38 53.78,239.27C53.57,238.17 53.37,236.67 54.42,235.96Z" fill="#f0aaa4"/><g clip-path="url(#cl336_7_30_203)"><g filter="url(#sb)"><ellipse cx="64.59" cy="247.24" rx="10.7" ry="4.98" fill="#e2453a" opacity="0.95"/><ellipse cx="59.24" cy="237.28" rx="5.35" ry="3.32" fill="#f0a098" opacity="0.6"/></g></g><path d="M71.33,251.88C72.25,251.7 73.48,252.53 74,253.32C74.52,254.11 74.75,255.77 74.43,256.64C74.11,257.5 72.95,258.33 72.08,258.52C71.2,258.7 69.79,258.43 69.19,257.74C68.58,257.06 68.08,255.4 68.44,254.43C68.79,253.45 70.4,252.07 71.33,251.88Z" fill="#a8d8a8"/></g>
<path d="M85.34,233.74C86.15,233.91 87.54,234.67 88.13,235.62C88.71,236.58 89,238.19 88.88,239.49C88.75,240.8 88.04,242.7 87.38,243.48C86.72,244.25 85.7,244.44 84.92,244.14C84.13,243.85 83.11,242.85 82.67,241.71C82.22,240.56 82.13,238.46 82.24,237.28C82.35,236.1 82.79,235.22 83.31,234.63C83.83,234.04 84.54,233.58 85.34,233.74Z" fill="#fdf6f2"/><ellipse cx="85.24" cy="238.94" rx="0.7" ry="0.6" fill="#f0e4e0"/>
<circle cx="83.99" cy="239.29" r="0.6" fill="#4a2010"/><circle cx="84.73" cy="239.77" r="0.6" fill="#4a2010"/><circle cx="86.15" cy="235.48" r="0.6" fill="#4a2010"/><circle cx="84.11" cy="236.83" r="0.6" fill="#4a2010"/><circle cx="88.21" cy="238.71" r="0.6" fill="#4a2010"/><circle cx="87.32" cy="238.75" r="0.6" fill="#4a2010"/><circle cx="86.22" cy="236.16" r="0.6" fill="#4a2010"/><circle cx="86.2" cy="241.87" r="0.6" fill="#4a2010"/><circle cx="85.58" cy="240.86" r="0.6" fill="#4a2010"/><circle cx="86.4" cy="235.47" r="0.6" fill="#4a2010"/><circle cx="86.89" cy="239.67" r="0.6" fill="#4a2010"/><circle cx="87.48" cy="238.72" r="0.6" fill="#4a2010"/><circle cx="86.67" cy="241.96" r="0.6" fill="#4a2010"/><circle cx="86.64" cy="242.3" r="0.6" fill="#4a2010"/>
<path d="M80.85,327.71C85.49,328.04 84.32,328.55 85.39,329.66C86.46,330.76 86.96,331.39 87.27,334.35C87.58,337.3 87.58,344.44 87.27,347.4C86.96,350.36 86.46,350.98 85.39,352.09C84.32,353.2 85.49,353.71 80.85,354.03C76.21,354.36 62.17,354.36 57.52,354.03C52.88,353.71 54.05,353.2 52.98,352.09C51.91,350.98 51.42,350.36 51.1,347.4C50.79,344.44 50.79,337.3 51.1,334.35C51.42,331.39 51.91,330.76 52.98,329.66C54.05,328.55 52.88,328.04 57.52,327.71C62.17,327.39 76.21,327.39 80.85,327.71Z" fill="none" stroke="#cdc6cc" stroke-width="0.9" opacity="1.0"/><path d="M36.23,346.74C36.77,345.08 38.91,343.79 40.51,343.42C42.12,343.05 44.26,343.69 45.86,344.52C47.47,345.35 48.98,347.01 50.14,348.39C51.3,349.78 52.46,351.44 52.82,352.82C53.17,354.2 53.08,355.86 52.28,356.69C51.48,357.52 49.7,357.89 48,357.8C46.31,357.7 43.9,356.87 42.12,356.14C40.33,355.4 38.28,354.94 37.3,353.37C36.32,351.8 35.7,348.39 36.23,346.74Z" fill="none" stroke="#d8c4d6" stroke-width="0.9" opacity="1.0"/><path d="M42.12,358.9C43.1,358.02 45.68,358.02 47.47,358.02C49.25,358.02 51.57,358.11 52.82,358.9C54.06,359.69 54.78,361.39 54.96,362.77C55.13,364.15 54.96,366.18 53.89,367.2C52.82,368.21 50.23,368.86 48.54,368.86C46.84,368.86 44.88,368.12 43.72,367.2C42.56,366.27 41.85,364.71 41.58,363.32C41.31,361.94 41.14,359.79 42.12,358.9Z" fill="none" stroke="#e4c4ca" stroke-width="0.9" opacity="1.0"/><path d="M55.49,354.03C56.92,353.19 61.29,353.37 63.52,353.81C65.75,354.26 66.99,355.29 68.87,356.69C70.74,358.09 73.59,360.56 74.75,362.22C75.91,363.88 76.09,365.21 75.82,366.64C75.55,368.08 75.02,370.07 73.15,370.85C71.27,371.62 67.26,371.34 64.59,371.29C61.91,371.23 58.7,371.47 57.1,370.51C55.49,369.56 55.31,367.47 54.96,365.54C54.6,363.6 54.87,360.82 54.96,358.9C55.05,356.98 54.06,354.88 55.49,354.03Z" fill="none" stroke="#e0c0bc" stroke-width="0.9" opacity="1.0"/><path d="M85.45,352.26C86.47,352.26 87.89,353 88.66,353.92C89.43,354.85 90.05,356.41 90.05,357.8C90.05,359.18 89.43,361.26 88.66,362.22C87.89,363.18 86.47,363.64 85.45,363.55C84.43,363.45 83.22,362.62 82.56,361.67C81.9,360.71 81.49,359.09 81.49,357.8C81.49,356.5 81.9,354.85 82.56,353.92C83.22,353 84.43,352.26 85.45,352.26Z" fill="none" stroke="#d8b8a8" stroke-width="0.9" opacity="1.0"/><path d="M81.71,362.22C82.42,362.13 84.38,362.22 83.85,363.88C83.31,365.54 80.1,369.78 78.5,372.17C76.89,374.57 75.55,377.33 74.22,378.26C72.88,379.18 71.18,378.53 70.47,377.7C69.76,376.87 69.31,374.57 69.94,373.28C70.56,371.99 72.61,371.44 74.22,369.96C75.82,368.49 78.32,365.72 79.57,364.43C80.81,363.14 80.99,362.31 81.71,362.22Z" fill="none" stroke="#cce4cc" stroke-width="0.9" opacity="1.0"/>
<clipPath id="cl341_1_30_321"><path d="M66.51,325.28C69.28,325.39 73.91,325.96 76.68,327.27C79.44,328.58 81.49,330.83 83.1,333.13C84.7,335.44 86.09,338.68 86.31,341.09C86.52,343.51 85.56,345.87 84.38,347.62C83.2,349.37 81.37,350.38 79.25,351.6C77.12,352.82 74.2,354.48 71.65,354.92C69.1,355.36 66.3,354.81 63.94,354.26C61.59,353.7 59.43,352.38 57.52,351.6C55.62,350.83 53.87,350.7 52.5,349.61C51.12,348.52 49.71,347.16 49.29,345.08C48.86,342.99 49.18,339.32 49.93,337.11C50.68,334.9 52.08,333.56 53.78,331.8C55.47,330.05 57.97,327.69 60.09,326.61C62.21,325.52 63.75,325.17 66.51,325.28Z"/></clipPath>
<clipPath id="cl342_4_30_321"><path d="M36.77,345.96C37.66,345.19 39.62,344.36 41.05,344.3C42.47,344.25 44.17,344.89 45.33,345.63C46.49,346.37 47.64,347.53 48,348.73C48.36,349.92 48.09,351.77 47.47,352.82C46.84,353.87 45.5,354.75 44.26,355.03C43.01,355.31 41.22,354.94 39.98,354.48C38.73,354.02 37.48,353.19 36.77,352.26C36.05,351.34 35.7,350 35.7,348.95C35.7,347.9 35.87,346.74 36.77,345.96Z"/></clipPath>
<clipPath id="cl343_7_30_321"><path d="M54.42,354.26C55.47,353.54 58.29,353.04 60.09,353.26C61.89,353.48 64.16,354.53 65.23,355.58C66.3,356.63 65.44,358.35 66.51,359.56C67.58,360.78 70.27,361.89 71.65,362.88C73.02,363.88 74.54,364.45 74.75,365.54C74.97,366.62 74.31,368.6 72.93,369.41C71.56,370.22 68.87,370.4 66.51,370.4C64.16,370.4 60.72,370.13 58.81,369.41C56.9,368.69 55.58,367.51 55.06,366.09C54.55,364.67 55.92,362.31 55.71,360.89C55.49,359.47 53.99,358.68 53.78,357.57C53.57,356.47 53.37,354.97 54.42,354.26Z"/></clipPath>
<g filter="url(#tx3)"><path d="M66.51,325.28C69.28,325.39 73.91,325.96 76.68,327.27C79.44,328.58 81.49,330.83 83.1,333.13C84.7,335.44 86.09,338.68 86.31,341.09C86.52,343.51 85.56,345.87 84.38,347.62C83.2,349.37 81.37,350.38 79.25,351.6C77.12,352.82 74.2,354.48 71.65,354.92C69.1,355.36 66.3,354.81 63.94,354.26C61.59,353.7 59.43,352.38 57.52,351.6C55.62,350.83 53.87,350.7 52.5,349.61C51.12,348.52 49.71,347.16 49.29,345.08C48.86,342.99 49.18,339.32 49.93,337.11C50.68,334.9 52.08,333.56 53.78,331.8C55.47,330.05 57.97,327.69 60.09,326.61C62.21,325.52 63.75,325.17 66.51,325.28Z" fill="#4a7ec8"/><g clip-path="url(#cl341_1_30_321)"><g filter="url(#sb)"><ellipse cx="54.96" cy="333.46" rx="7.49" ry="7.74" fill="#dfe8f6" opacity="0.85"/></g></g><path d="M45.86,351.71C46.57,350.88 48.27,350.61 49.61,350.61C50.94,350.61 52.91,350.97 53.89,351.71C54.87,352.45 55.58,354.02 55.49,355.03C55.4,356.04 54.51,357.33 53.35,357.8C52.19,358.26 49.87,358.16 48.54,357.8C47.2,357.43 45.77,356.6 45.33,355.58C44.88,354.57 45.15,352.54 45.86,351.71Z" fill="#f4dce6"/><path d="M36.77,345.96C37.66,345.19 39.62,344.36 41.05,344.3C42.47,344.25 44.17,344.89 45.33,345.63C46.49,346.37 47.64,347.53 48,348.73C48.36,349.92 48.09,351.77 47.47,352.82C46.84,353.87 45.5,354.75 44.26,355.03C43.01,355.31 41.22,354.94 39.98,354.48C38.73,354.02 37.48,353.19 36.77,352.26C36.05,351.34 35.7,350 35.7,348.95C35.7,347.9 35.87,346.74 36.77,345.96Z" fill="#dcc8e6"/><g clip-path="url(#cl342_4_30_321)"><g filter="url(#sb)"><ellipse cx="41.58" cy="347.84" rx="3.75" ry="3.32" fill="#9a5cc0" opacity="0.9"/></g></g><path d="M43.19,358.35C43.9,357.43 45.95,357.7 47.47,357.8C48.98,357.89 51.03,358.26 52.28,358.9C53.53,359.55 54.6,360.56 54.96,361.67C55.31,362.77 55.13,364.62 54.42,365.54C53.71,366.46 52.1,367.1 50.68,367.2C49.25,367.29 47.11,366.74 45.86,366.09C44.61,365.44 43.63,364.62 43.19,363.32C42.74,362.03 42.47,359.27 43.19,358.35Z" fill="#f8e0e4"/><path d="M54.42,354.26C55.47,353.54 58.29,353.04 60.09,353.26C61.89,353.48 64.16,354.53 65.23,355.58C66.3,356.63 65.44,358.35 66.51,359.56C67.58,360.78 70.27,361.89 71.65,362.88C73.02,363.88 74.54,364.45 74.75,365.54C74.97,366.62 74.31,368.6 72.93,369.41C71.56,370.22 68.87,370.4 66.51,370.4C64.16,370.4 60.72,370.13 58.81,369.41C56.9,368.69 55.58,367.51 55.06,366.09C54.55,364.67 55.92,362.31 55.71,360.89C55.49,359.47 53.99,358.68 53.78,357.57C53.57,356.47 53.37,354.97 54.42,354.26Z" fill="#f0aaa4"/><g clip-path="url(#cl343_7_30_321)"><g filter="url(#sb)"><ellipse cx="64.59" cy="365.54" rx="10.7" ry="4.98" fill="#e2453a" opacity="0.95"/><ellipse cx="59.24" cy="355.58" rx="5.35" ry="3.32" fill="#f0a098" opacity="0.6"/></g></g><path d="M71.33,370.18C72.25,370 73.48,370.83 74,371.62C74.52,372.41 74.75,374.07 74.43,374.94C74.11,375.8 72.95,376.63 72.08,376.82C71.2,377 69.79,376.73 69.19,376.04C68.58,375.36 68.08,373.7 68.44,372.73C68.79,371.75 70.4,370.37 71.33,370.18Z" fill="#a8d8a8"/></g>
<path d="M85.34,352.04C86.15,352.21 87.54,352.97 88.13,353.92C88.71,354.88 89,356.49 88.88,357.8C88.75,359.1 88.04,361 87.38,361.78C86.72,362.55 85.7,362.74 84.92,362.44C84.13,362.15 83.11,361.15 82.67,360.01C82.22,358.86 82.13,356.76 82.24,355.58C82.35,354.4 82.79,353.52 83.31,352.93C83.83,352.34 84.54,351.88 85.34,352.04Z" fill="#fdf6f2"/><ellipse cx="85.24" cy="357.24" rx="0.7" ry="0.6" fill="#f0e4e0"/>
<circle cx="83.99" cy="357.59" r="0.6" fill="#4a2010"/><circle cx="84.73" cy="358.07" r="0.6" fill="#4a2010"/><circle cx="86.15" cy="353.78" r="0.6" fill="#4a2010"/><circle cx="84.11" cy="355.13" r="0.6" fill="#4a2010"/><circle cx="88.21" cy="357.01" r="0.6" fill="#4a2010"/><circle cx="87.32" cy="357.05" r="0.6" fill="#4a2010"/><circle cx="86.22" cy="354.46" r="0.6" fill="#4a2010"/><circle cx="86.2" cy="360.17" r="0.6" fill="#4a2010"/><circle cx="85.58" cy="359.16" r="0.6" fill="#4a2010"/><circle cx="86.4" cy="353.77" r="0.6" fill="#4a2010"/><circle cx="86.89" cy="357.97" r="0.6" fill="#4a2010"/><circle cx="87.48" cy="357.02" r="0.6" fill="#4a2010"/><circle cx="86.67" cy="360.26" r="0.6" fill="#4a2010"/><circle cx="86.64" cy="360.6" r="0.6" fill="#4a2010"/>
<path d="M145.65,209.41C150.29,209.74 149.12,210.25 150.19,211.36C151.26,212.46 151.76,213.09 152.07,216.05C152.38,219 152.38,226.14 152.07,229.1C151.76,232.06 151.26,232.68 150.19,233.79C149.12,234.9 150.29,235.41 145.65,235.73C141.01,236.06 126.97,236.06 122.32,235.73C117.68,235.41 118.85,234.9 117.78,233.79C116.71,232.68 116.22,232.06 115.9,229.1C115.59,226.14 115.59,219 115.9,216.05C116.22,213.09 116.71,212.46 117.78,211.36C118.85,210.25 117.68,209.74 122.32,209.41C126.97,209.09 141.01,209.09 145.65,209.41Z" fill="none" stroke="#cdc6cc" stroke-width="0.9" opacity="1.0"/><path d="M101.03,228.44C101.57,226.78 103.71,225.49 105.31,225.12C106.92,224.75 109.06,225.39 110.66,226.22C112.27,227.05 113.78,228.71 114.94,230.09C116.1,231.48 117.26,233.14 117.62,234.52C117.97,235.9 117.88,237.56 117.08,238.39C116.28,239.22 114.5,239.59 112.8,239.49C111.11,239.4 108.7,238.57 106.92,237.84C105.13,237.1 103.08,236.64 102.1,235.07C101.12,233.5 100.5,230.09 101.03,228.44Z" fill="none" stroke="#d8c4d6" stroke-width="0.9" opacity="1.0"/><path d="M106.92,240.6C107.9,239.72 110.48,239.72 112.27,239.72C114.05,239.72 116.37,239.81 117.62,240.6C118.86,241.39 119.58,243.09 119.76,244.47C119.93,245.85 119.76,247.88 118.69,248.9C117.62,249.91 115.03,250.55 113.34,250.55C111.64,250.55 109.68,249.82 108.52,248.9C107.36,247.97 106.65,246.41 106.38,245.02C106.11,243.64 105.94,241.49 106.92,240.6Z" fill="none" stroke="#e4c4ca" stroke-width="0.9" opacity="1.0"/><path d="M120.29,235.73C121.72,234.89 126.09,235.07 128.32,235.51C130.55,235.96 131.79,236.99 133.67,238.39C135.54,239.79 138.39,242.26 139.55,243.92C140.71,245.58 140.89,246.91 140.62,248.34C140.35,249.78 139.82,251.77 137.95,252.55C136.07,253.32 132.06,253.04 129.39,252.99C126.71,252.93 123.5,253.17 121.9,252.21C120.29,251.26 120.11,249.17 119.76,247.24C119.4,245.3 119.67,242.52 119.76,240.6C119.85,238.68 118.86,236.58 120.29,235.73Z" fill="none" stroke="#e0c0bc" stroke-width="0.9" opacity="1.0"/><path d="M150.25,233.96C151.27,233.96 152.69,234.7 153.46,235.62C154.23,236.55 154.85,238.11 154.85,239.49C154.85,240.88 154.23,242.96 153.46,243.92C152.69,244.88 151.27,245.34 150.25,245.25C149.23,245.15 148.02,244.32 147.36,243.37C146.7,242.41 146.29,240.79 146.29,239.49C146.29,238.2 146.7,236.55 147.36,235.62C148.02,234.7 149.23,233.96 150.25,233.96Z" fill="none" stroke="#d8b8a8" stroke-width="0.9" opacity="1.0"/><path d="M146.51,243.92C147.22,243.83 149.18,243.92 148.65,245.58C148.11,247.24 144.9,251.48 143.3,253.87C141.69,256.27 140.35,259.03 139.02,259.96C137.68,260.88 135.98,260.23 135.27,259.4C134.56,258.57 134.11,256.27 134.74,254.98C135.36,253.69 137.41,253.14 139.02,251.66C140.62,250.19 143.12,247.42 144.37,246.13C145.61,244.84 145.79,244.01 146.51,243.92Z" fill="none" stroke="#cce4cc" stroke-width="0.9" opacity="1.0"/>
<clipPath id="cl348_1_95_203"><path d="M131.31,206.98C134.08,207.09 138.71,207.66 141.48,208.97C144.24,210.28 146.29,212.53 147.9,214.83C149.5,217.14 150.89,220.38 151.11,222.79C151.32,225.21 150.36,227.57 149.18,229.32C148,231.07 146.17,232.08 144.05,233.3C141.92,234.52 139,236.18 136.45,236.62C133.9,237.06 131.1,236.51 128.74,235.96C126.39,235.4 124.23,234.08 122.32,233.3C120.42,232.53 118.67,232.4 117.3,231.31C115.92,230.22 114.51,228.86 114.09,226.78C113.66,224.69 113.98,221.02 114.73,218.81C115.48,216.6 116.88,215.26 118.58,213.5C120.27,211.75 122.77,209.39 124.89,208.31C127.01,207.22 128.55,206.87 131.31,206.98Z"/></clipPath>
<clipPath id="cl349_4_95_203"><path d="M101.57,227.66C102.46,226.89 104.42,226.06 105.85,226C107.27,225.95 108.97,226.59 110.13,227.33C111.29,228.07 112.44,229.23 112.8,230.43C113.16,231.62 112.89,233.47 112.27,234.52C111.64,235.57 110.3,236.45 109.06,236.73C107.81,237.01 106.02,236.64 104.78,236.18C103.53,235.72 102.28,234.89 101.57,233.96C100.85,233.04 100.5,231.7 100.5,230.65C100.5,229.6 100.67,228.44 101.57,227.66Z"/></clipPath>
<clipPath id="cl350_7_95_203"><path d="M119.22,235.96C120.27,235.24 123.09,234.74 124.89,234.96C126.69,235.18 128.96,236.23 130.03,237.28C131.1,238.33 130.24,240.05 131.31,241.26C132.38,242.48 135.07,243.59 136.45,244.58C137.82,245.58 139.34,246.15 139.55,247.24C139.76,248.32 139.11,250.3 137.73,251.11C136.36,251.92 133.67,252.1 131.31,252.1C128.96,252.1 125.52,251.83 123.61,251.11C121.7,250.39 120.38,249.21 119.86,247.79C119.35,246.37 120.72,244.01 120.5,242.59C120.29,241.17 118.79,240.38 118.58,239.27C118.37,238.17 118.17,236.67 119.22,235.96Z"/></clipPath>
<g filter="url(#tx3)"><path d="M131.31,206.98C134.08,207.09 138.71,207.66 141.48,208.97C144.24,210.28 146.29,212.53 147.9,214.83C149.5,217.14 150.89,220.38 151.11,222.79C151.32,225.21 150.36,227.57 149.18,229.32C148,231.07 146.17,232.08 144.05,233.3C141.92,234.52 139,236.18 136.45,236.62C133.9,237.06 131.1,236.51 128.74,235.96C126.39,235.4 124.23,234.08 122.32,233.3C120.42,232.53 118.67,232.4 117.3,231.31C115.92,230.22 114.51,228.86 114.09,226.78C113.66,224.69 113.98,221.02 114.73,218.81C115.48,216.6 116.88,215.26 118.58,213.5C120.27,211.75 122.77,209.39 124.89,208.31C127.01,207.22 128.55,206.87 131.31,206.98Z" fill="#467ac6"/><g clip-path="url(#cl348_1_95_203)"><g filter="url(#sb)"><ellipse cx="119.76" cy="215.16" rx="7.49" ry="7.74" fill="#dfe8f6" opacity="0.7"/></g></g><path d="M110.66,233.41C111.37,232.58 113.07,232.31 114.41,232.31C115.74,232.31 117.71,232.67 118.69,233.41C119.67,234.15 120.38,235.72 120.29,236.73C120.2,237.74 119.31,239.03 118.15,239.49C116.99,239.96 114.67,239.86 113.34,239.49C112,239.13 110.57,238.3 110.13,237.28C109.68,236.27 109.95,234.24 110.66,233.41Z" fill="#f2d8e4"/><path d="M101.57,227.66C102.46,226.89 104.42,226.06 105.85,226C107.27,225.95 108.97,226.59 110.13,227.33C111.29,228.07 112.44,229.23 112.8,230.43C113.16,231.62 112.89,233.47 112.27,234.52C111.64,235.57 110.3,236.45 109.06,236.73C107.81,237.01 106.02,236.64 104.78,236.18C103.53,235.72 102.28,234.89 101.57,233.96C100.85,233.04 100.5,231.7 100.5,230.65C100.5,229.6 100.67,228.44 101.57,227.66Z" fill="#dcc8e6"/><g clip-path="url(#cl349_4_95_203)"><g filter="url(#sb)"><ellipse cx="106.38" cy="229.54" rx="3.75" ry="3.32" fill="#9a5cc0" opacity="0.9"/></g></g><path d="M107.99,240.05C108.7,239.13 110.75,239.4 112.27,239.49C113.78,239.59 115.83,239.96 117.08,240.6C118.33,241.25 119.4,242.26 119.76,243.37C120.11,244.47 119.93,246.32 119.22,247.24C118.51,248.16 116.9,248.8 115.48,248.9C114.05,248.99 111.91,248.44 110.66,247.79C109.41,247.14 108.43,246.32 107.99,245.02C107.54,243.73 107.27,240.97 107.99,240.05Z" fill="#f8e0e4"/><path d="M119.22,235.96C120.27,235.24 123.09,234.74 124.89,234.96C126.69,235.18 128.96,236.23 130.03,237.28C131.1,238.33 130.24,240.05 131.31,241.26C132.38,242.48 135.07,243.59 136.45,244.58C137.82,245.58 139.34,246.15 139.55,247.24C139.76,248.32 139.11,250.3 137.73,251.11C136.36,251.92 133.67,252.1 131.31,252.1C128.96,252.1 125.52,251.83 123.61,251.11C121.7,250.39 120.38,249.21 119.86,247.79C119.35,246.37 120.72,244.01 120.5,242.59C120.29,241.17 118.79,240.38 118.58,239.27C118.37,238.17 118.17,236.67 119.22,235.96Z" fill="#f0a49c"/><g clip-path="url(#cl350_7_95_203)"><g filter="url(#sb)"><ellipse cx="129.39" cy="247.24" rx="10.7" ry="4.98" fill="#e03a2e" opacity="1"/><ellipse cx="124.04" cy="237.28" rx="5.35" ry="3.32" fill="#ea7a70" opacity="0.7"/></g></g><path d="M136.13,251.88C137.05,251.7 138.28,252.53 138.8,253.32C139.32,254.11 139.55,255.77 139.23,256.64C138.91,257.5 137.75,258.33 136.88,258.52C136,258.7 134.59,258.43 133.99,257.74C133.38,257.06 132.88,255.4 133.24,254.43C133.59,253.45 135.2,252.07 136.13,251.88Z" fill="#a8d8a8"/></g>
<path d="M150.14,233.74C150.95,233.91 152.34,234.67 152.93,235.62C153.51,236.58 153.8,238.19 153.68,239.49C153.55,240.8 152.84,242.7 152.18,243.48C151.52,244.25 150.5,244.44 149.72,244.14C148.93,243.85 147.91,242.85 147.47,241.71C147.02,240.56 146.93,238.46 147.04,237.28C147.15,236.1 147.59,235.22 148.11,234.63C148.63,234.04 149.34,233.58 150.14,233.74Z" fill="#fdf6f2"/><ellipse cx="150.04" cy="238.94" rx="0.7" ry="0.6" fill="#e0c8c0"/>
<circle cx="148.78" cy="235.78" r="0.6" fill="#4a2010"/><circle cx="149.67" cy="236.19" r="0.6" fill="#4a2010"/><circle cx="147.84" cy="238.16" r="0.6" fill="#4a2010"/><circle cx="151.73" cy="236.73" r="0.6" fill="#4a2010"/><circle cx="150.46" cy="237.16" r="0.6" fill="#4a2010"/><circle cx="152.08" cy="241.38" r="0.6" fill="#4a2010"/><circle cx="151.92" cy="236.5" r="0.6" fill="#4a2010"/><circle cx="149.19" cy="239.95" r="0.6" fill="#4a2010"/><circle cx="151.54" cy="241.77" r="0.6" fill="#4a2010"/><circle cx="150.84" cy="240.31" r="0.6" fill="#4a2010"/><circle cx="150.28" cy="236.38" r="0.6" fill="#4a2010"/><circle cx="150.1" cy="235.67" r="0.6" fill="#4a2010"/><circle cx="150.52" cy="237.35" r="0.6" fill="#4a2010"/><circle cx="152.53" cy="239.52" r="0.6" fill="#4a2010"/>
<path d="M145.65,327.71C150.29,328.04 149.12,328.55 150.19,329.66C151.26,330.76 151.76,331.39 152.07,334.35C152.38,337.3 152.38,344.44 152.07,347.4C151.76,350.36 151.26,350.98 150.19,352.09C149.12,353.2 150.29,353.71 145.65,354.03C141.01,354.36 126.97,354.36 122.32,354.03C117.68,353.71 118.85,353.2 117.78,352.09C116.71,350.98 116.22,350.36 115.9,347.4C115.59,344.44 115.59,337.3 115.9,334.35C116.22,331.39 116.71,330.76 117.78,329.66C118.85,328.55 117.68,328.04 122.32,327.71C126.97,327.39 141.01,327.39 145.65,327.71Z" fill="none" stroke="#cdc6cc" stroke-width="0.9" opacity="1.0"/><path d="M101.03,346.74C101.57,345.08 103.71,343.79 105.31,343.42C106.92,343.05 109.06,343.69 110.66,344.52C112.27,345.35 113.78,347.01 114.94,348.39C116.1,349.78 117.26,351.44 117.62,352.82C117.97,354.2 117.88,355.86 117.08,356.69C116.28,357.52 114.5,357.89 112.8,357.8C111.11,357.7 108.7,356.87 106.92,356.14C105.13,355.4 103.08,354.94 102.1,353.37C101.12,351.8 100.5,348.39 101.03,346.74Z" fill="none" stroke="#d8c4d6" stroke-width="0.9" opacity="1.0"/><path d="M106.92,358.9C107.9,358.02 110.48,358.02 112.27,358.02C114.05,358.02 116.37,358.11 117.62,358.9C118.86,359.69 119.58,361.39 119.76,362.77C119.93,364.15 119.76,366.18 118.69,367.2C117.62,368.21 115.03,368.86 113.34,368.86C111.64,368.86 109.68,368.12 108.52,367.2C107.36,366.27 106.65,364.71 106.38,363.32C106.11,361.94 105.94,359.79 106.92,358.9Z" fill="none" stroke="#e4c4ca" stroke-width="0.9" opacity="1.0"/><path d="M120.29,354.03C121.72,353.19 126.09,353.37 128.32,353.81C130.55,354.26 131.79,355.29 133.67,356.69C135.54,358.09 138.39,360.56 139.55,362.22C140.71,363.88 140.89,365.21 140.62,366.64C140.35,368.08 139.82,370.07 137.95,370.85C136.07,371.62 132.06,371.34 129.39,371.29C126.71,371.23 123.5,371.47 121.9,370.51C120.29,369.56 120.11,367.47 119.76,365.54C119.4,363.6 119.67,360.82 119.76,358.9C119.85,356.98 118.86,354.88 120.29,354.03Z" fill="none" stroke="#e0c0bc" stroke-width="0.9" opacity="1.0"/><path d="M150.25,352.26C151.27,352.26 152.69,353 153.46,353.92C154.23,354.85 154.85,356.41 154.85,357.8C154.85,359.18 154.23,361.26 153.46,362.22C152.69,363.18 151.27,363.64 150.25,363.55C149.23,363.45 148.02,362.62 147.36,361.67C146.7,360.71 146.29,359.09 146.29,357.8C146.29,356.5 146.7,354.85 147.36,353.92C148.02,353 149.23,352.26 150.25,352.26Z" fill="none" stroke="#d8b8a8" stroke-width="0.9" opacity="1.0"/><path d="M146.51,362.22C147.22,362.13 149.18,362.22 148.65,363.88C148.11,365.54 144.9,369.78 143.3,372.17C141.69,374.57 140.35,377.33 139.02,378.26C137.68,379.18 135.98,378.53 135.27,377.7C134.56,376.87 134.11,374.57 134.74,373.28C135.36,371.99 137.41,371.44 139.02,369.96C140.62,368.49 143.12,365.72 144.37,364.43C145.61,363.14 145.79,362.31 146.51,362.22Z" fill="none" stroke="#cce4cc" stroke-width="0.9" opacity="1.0"/>
<clipPath id="cl355_1_95_321"><path d="M131.31,325.28C134.08,325.39 138.71,325.96 141.48,327.27C144.24,328.58 146.29,330.83 147.9,333.13C149.5,335.44 150.89,338.68 151.11,341.09C151.32,343.51 150.36,345.87 149.18,347.62C148,349.37 146.17,350.38 144.05,351.6C141.92,352.82 139,354.48 136.45,354.92C133.9,355.36 131.1,354.81 128.74,354.26C126.39,353.7 124.23,352.38 122.32,351.6C120.42,350.83 118.67,350.7 117.3,349.61C115.92,348.52 114.51,347.16 114.09,345.08C113.66,342.99 113.98,339.32 114.73,337.11C115.48,334.9 116.88,333.56 118.58,331.8C120.27,330.05 122.77,327.69 124.89,326.61C127.01,325.52 128.55,325.17 131.31,325.28Z"/></clipPath>
<clipPath id="cl356_4_95_321"><path d="M101.57,345.96C102.46,345.19 104.42,344.36 105.85,344.3C107.27,344.25 108.97,344.89 110.13,345.63C111.29,346.37 112.44,347.53 112.8,348.73C113.16,349.92 112.89,351.77 112.27,352.82C111.64,353.87 110.3,354.75 109.06,355.03C107.81,355.31 106.02,354.94 104.78,354.48C103.53,354.02 102.28,353.19 101.57,352.26C100.85,351.34 100.5,350 100.5,348.95C100.5,347.9 100.67,346.74 101.57,345.96Z"/></clipPath>
<clipPath id="cl357_7_95_321"><path d="M119.22,354.26C120.27,353.54 123.09,353.04 124.89,353.26C126.69,353.48 128.96,354.53 130.03,355.58C131.1,356.63 130.24,358.35 131.31,359.56C132.38,360.78 135.07,361.89 136.45,362.88C137.82,363.88 139.34,364.45 139.55,365.54C139.76,366.62 139.11,368.6 137.73,369.41C136.36,370.22 133.67,370.4 131.31,370.4C128.96,370.4 125.52,370.13 123.61,369.41C121.7,368.69 120.38,367.51 119.86,366.09C119.35,364.67 120.72,362.31 120.5,360.89C120.29,359.47 118.79,358.68 118.58,357.57C118.37,356.47 118.17,354.97 119.22,354.26Z"/></clipPath>
<g filter="url(#tx3)"><path d="M131.31,325.28C134.08,325.39 138.71,325.96 141.48,327.27C144.24,328.58 146.29,330.83 147.9,333.13C149.5,335.44 150.89,338.68 151.11,341.09C151.32,343.51 150.36,345.87 149.18,347.62C148,349.37 146.17,350.38 144.05,351.6C141.92,352.82 139,354.48 136.45,354.92C133.9,355.36 131.1,354.81 128.74,354.26C126.39,353.7 124.23,352.38 122.32,351.6C120.42,350.83 118.67,350.7 117.3,349.61C115.92,348.52 114.51,347.16 114.09,345.08C113.66,342.99 113.98,339.32 114.73,337.11C115.48,334.9 116.88,333.56 118.58,331.8C120.27,330.05 122.77,327.69 124.89,326.61C127.01,325.52 128.55,325.17 131.31,325.28Z" fill="#467ac6"/><g clip-path="url(#cl355_1_95_321)"><g filter="url(#sb)"><ellipse cx="119.76" cy="333.46" rx="7.49" ry="7.74" fill="#dfe8f6" opacity="0.7"/></g></g><path d="M110.66,351.71C111.37,350.88 113.07,350.61 114.41,350.61C115.74,350.61 117.71,350.97 118.69,351.71C119.67,352.45 120.38,354.02 120.29,355.03C120.2,356.04 119.31,357.33 118.15,357.8C116.99,358.26 114.67,358.16 113.34,357.8C112,357.43 110.57,356.6 110.13,355.58C109.68,354.57 109.95,352.54 110.66,351.71Z" fill="#f2d8e4"/><path d="M101.57,345.96C102.46,345.19 104.42,344.36 105.85,344.3C107.27,344.25 108.97,344.89 110.13,345.63C111.29,346.37 112.44,347.53 112.8,348.73C113.16,349.92 112.89,351.77 112.27,352.82C111.64,353.87 110.3,354.75 109.06,355.03C107.81,355.31 106.02,354.94 104.78,354.48C103.53,354.02 102.28,353.19 101.57,352.26C100.85,351.34 100.5,350 100.5,348.95C100.5,347.9 100.67,346.74 101.57,345.96Z" fill="#dcc8e6"/><g clip-path="url(#cl356_4_95_321)"><g filter="url(#sb)"><ellipse cx="106.38" cy="347.84" rx="3.75" ry="3.32" fill="#9a5cc0" opacity="0.9"/></g></g><path d="M107.99,358.35C108.7,357.43 110.75,357.7 112.27,357.8C113.78,357.89 115.83,358.26 117.08,358.9C118.33,359.55 119.4,360.56 119.76,361.67C120.11,362.77 119.93,364.62 119.22,365.54C118.51,366.46 116.9,367.1 115.48,367.2C114.05,367.29 111.91,366.74 110.66,366.09C109.41,365.44 108.43,364.62 107.99,363.32C107.54,362.03 107.27,359.27 107.99,358.35Z" fill="#f8e0e4"/><path d="M119.22,354.26C120.27,353.54 123.09,353.04 124.89,353.26C126.69,353.48 128.96,354.53 130.03,355.58C131.1,356.63 130.24,358.35 131.31,359.56C132.38,360.78 135.07,361.89 136.45,362.88C137.82,363.88 139.34,364.45 139.55,365.54C139.76,366.62 139.11,368.6 137.73,369.41C136.36,370.22 133.67,370.4 131.31,370.4C128.96,370.4 125.52,370.13 123.61,369.41C121.7,368.69 120.38,367.51 119.86,366.09C119.35,364.67 120.72,362.31 120.5,360.89C120.29,359.47 118.79,358.68 118.58,357.57C118.37,356.47 118.17,354.97 119.22,354.26Z" fill="#f0a49c"/><g clip-path="url(#cl357_7_95_321)"><g filter="url(#sb)"><ellipse cx="129.39" cy="365.54" rx="10.7" ry="4.98" fill="#e03a2e" opacity="1"/><ellipse cx="124.04" cy="355.58" rx="5.35" ry="3.32" fill="#ea7a70" opacity="0.7"/></g></g><path d="M136.13,370.18C137.05,370 138.28,370.83 138.8,371.62C139.32,372.41 139.55,374.07 139.23,374.94C138.91,375.8 137.75,376.63 136.88,376.82C136,377 134.59,376.73 133.99,376.04C133.38,375.36 132.88,373.7 133.24,372.73C133.59,371.75 135.2,370.37 136.13,370.18Z" fill="#a8d8a8"/></g>
<path d="M150.14,352.04C150.95,352.21 152.34,352.97 152.93,353.92C153.51,354.88 153.8,356.49 153.68,357.8C153.55,359.1 152.84,361 152.18,361.78C151.52,362.55 150.5,362.74 149.72,362.44C148.93,362.15 147.91,361.15 147.47,360.01C147.02,358.86 146.93,356.76 147.04,355.58C147.15,354.4 147.59,353.52 148.11,352.93C148.63,352.34 149.34,351.88 150.14,352.04Z" fill="#fdf6f2"/><ellipse cx="150.04" cy="357.24" rx="0.7" ry="0.6" fill="#e0c8c0"/>
<circle cx="148.78" cy="354.08" r="0.6" fill="#4a2010"/><circle cx="149.67" cy="354.49" r="0.6" fill="#4a2010"/><circle cx="147.84" cy="356.46" r="0.6" fill="#4a2010"/><circle cx="151.73" cy="355.03" r="0.6" fill="#4a2010"/><circle cx="150.46" cy="355.46" r="0.6" fill="#4a2010"/><circle cx="152.08" cy="359.68" r="0.6" fill="#4a2010"/><circle cx="151.92" cy="354.8" r="0.6" fill="#4a2010"/><circle cx="149.19" cy="358.25" r="0.6" fill="#4a2010"/><circle cx="151.54" cy="360.07" r="0.6" fill="#4a2010"/><circle cx="150.84" cy="358.61" r="0.6" fill="#4a2010"/><circle cx="150.28" cy="354.68" r="0.6" fill="#4a2010"/><circle cx="150.1" cy="353.97" r="0.6" fill="#4a2010"/><circle cx="150.52" cy="355.65" r="0.6" fill="#4a2010"/><circle cx="152.53" cy="357.82" r="0.6" fill="#4a2010"/>
<path d="M210.45,209.41C215.09,209.74 213.92,210.25 214.99,211.36C216.06,212.46 216.56,213.09 216.87,216.05C217.18,219 217.18,226.14 216.87,229.1C216.56,232.06 216.06,232.68 214.99,233.79C213.92,234.9 215.09,235.41 210.45,235.73C205.81,236.06 191.77,236.06 187.12,235.73C182.48,235.41 183.65,234.9 182.58,233.79C181.51,232.68 181.02,232.06 180.7,229.1C180.39,226.14 180.39,219 180.7,216.05C181.02,213.09 181.51,212.46 182.58,211.36C183.65,210.25 182.48,209.74 187.12,209.41C191.77,209.09 205.81,209.09 210.45,209.41Z" fill="none" stroke="#cdc6cc" stroke-width="0.9" opacity="1.0"/><path d="M165.83,228.44C166.37,226.78 168.51,225.49 170.11,225.12C171.72,224.75 173.86,225.39 175.46,226.22C177.07,227.05 178.58,228.71 179.74,230.09C180.9,231.48 182.06,233.14 182.42,234.52C182.77,235.9 182.68,237.56 181.88,238.39C181.08,239.22 179.3,239.59 177.6,239.49C175.91,239.4 173.5,238.57 171.72,237.84C169.93,237.1 167.88,236.64 166.9,235.07C165.92,233.5 165.3,230.09 165.83,228.44Z" fill="none" stroke="#d8c4d6" stroke-width="0.9" opacity="1.0"/><path d="M171.72,240.6C172.7,239.72 175.28,239.72 177.07,239.72C178.85,239.72 181.17,239.81 182.42,240.6C183.66,241.39 184.38,243.09 184.56,244.47C184.73,245.85 184.56,247.88 183.49,248.9C182.42,249.91 179.83,250.55 178.14,250.55C176.44,250.55 174.48,249.82 173.32,248.9C172.16,247.97 171.45,246.41 171.18,245.02C170.91,243.64 170.74,241.49 171.72,240.6Z" fill="none" stroke="#e4c4ca" stroke-width="0.9" opacity="1.0"/><path d="M185.09,235.73C186.52,234.89 190.89,235.07 193.12,235.51C195.35,235.96 196.59,236.99 198.47,238.39C200.34,239.79 203.19,242.26 204.35,243.92C205.51,245.58 205.69,246.91 205.42,248.34C205.15,249.78 204.62,251.77 202.75,252.55C200.87,253.32 196.86,253.04 194.19,252.99C191.51,252.93 188.3,253.17 186.7,252.21C185.09,251.26 184.91,249.17 184.56,247.24C184.2,245.3 184.47,242.52 184.56,240.6C184.65,238.68 183.66,236.58 185.09,235.73Z" fill="none" stroke="#e0c0bc" stroke-width="0.9" opacity="1.0"/><path d="M215.05,233.96C216.07,233.96 217.49,234.7 218.26,235.62C219.03,236.55 219.65,238.11 219.65,239.49C219.65,240.88 219.03,242.96 218.26,243.92C217.49,244.88 216.07,245.34 215.05,245.25C214.03,245.15 212.82,244.32 212.16,243.37C211.5,242.41 211.09,240.79 211.09,239.49C211.09,238.2 211.5,236.55 212.16,235.62C212.82,234.7 214.03,233.96 215.05,233.96Z" fill="none" stroke="#d8b8a8" stroke-width="0.9" opacity="1.0"/><path d="M211.31,243.92C212.02,243.83 213.98,243.92 213.45,245.58C212.91,247.24 209.7,251.48 208.1,253.87C206.49,256.27 205.15,259.03 203.82,259.96C202.48,260.88 200.78,260.23 200.07,259.4C199.36,258.57 198.91,256.27 199.54,254.98C200.16,253.69 202.21,253.14 203.82,251.66C205.42,250.19 207.92,247.42 209.17,246.13C210.41,244.84 210.59,244.01 211.31,243.92Z" fill="none" stroke="#cce4cc" stroke-width="0.9" opacity="1.0"/>
<g filter="url(#tx3)"><path d="M175.46,233.41C176.17,232.58 177.87,232.31 179.21,232.31C180.54,232.31 182.51,232.67 183.49,233.41C184.47,234.15 185.18,235.72 185.09,236.73C185,237.74 184.11,239.03 182.95,239.49C181.79,239.96 179.47,239.86 178.14,239.49C176.8,239.13 175.37,238.3 174.93,237.28C174.48,236.27 174.75,234.24 175.46,233.41Z" fill="#ecd2e8"/><path d="M166.37,227.66C167.26,226.89 169.22,226.06 170.65,226C172.07,225.95 173.77,226.59 174.93,227.33C176.09,228.07 177.24,229.23 177.6,230.43C177.96,231.62 177.69,233.47 177.07,234.52C176.44,235.57 175.1,236.45 173.86,236.73C172.61,237.01 170.82,236.64 169.58,236.18C168.33,235.72 167.08,234.89 166.37,233.96C165.65,233.04 165.3,231.7 165.3,230.65C165.3,229.6 165.47,228.44 166.37,227.66Z" fill="#caa8dc"/><path d="M172.79,240.05C173.5,239.13 175.55,239.4 177.07,239.49C178.58,239.59 180.63,239.96 181.88,240.6C183.13,241.25 184.2,242.26 184.56,243.37C184.91,244.47 184.73,246.32 184.02,247.24C183.31,248.16 181.7,248.8 180.28,248.9C178.85,248.99 176.71,248.44 175.46,247.79C174.21,247.14 173.23,246.32 172.79,245.02C172.34,243.73 172.07,240.97 172.79,240.05Z" fill="#f8e4e8"/><path d="M184.02,235.96C185.07,235.24 187.89,234.74 189.69,234.96C191.49,235.18 193.76,236.23 194.83,237.28C195.9,238.33 195.04,240.05 196.11,241.26C197.18,242.48 199.87,243.59 201.25,244.58C202.62,245.58 204.14,246.15 204.35,247.24C204.56,248.32 203.91,250.3 202.53,251.11C201.16,251.92 198.47,252.1 196.11,252.1C193.76,252.1 190.32,251.83 188.41,251.11C186.5,250.39 185.18,249.21 184.66,247.79C184.15,246.37 185.52,244.01 185.31,242.59C185.09,241.17 183.59,240.38 183.38,239.27C183.17,238.17 182.97,236.67 184.02,235.96Z" fill="#fbeeee"/><path d="M200.93,251.88C201.85,251.7 203.08,252.53 203.6,253.32C204.12,254.11 204.35,255.77 204.03,256.64C203.71,257.5 202.55,258.33 201.68,258.52C200.8,258.7 199.39,258.43 198.79,257.74C198.18,257.06 197.68,255.4 198.04,254.43C198.39,253.45 200,252.07 200.93,251.88Z" fill="#e4f2e4"/></g>
<path d="M214.94,233.74C215.75,233.91 217.14,234.67 217.73,235.62C218.31,236.58 218.6,238.19 218.48,239.49C218.35,240.8 217.64,242.7 216.98,243.48C216.32,244.25 215.3,244.44 214.52,244.14C213.73,243.85 212.71,242.85 212.27,241.71C211.82,240.56 211.73,238.46 211.84,237.28C211.95,236.1 212.39,235.22 212.91,234.63C213.43,234.04 214.14,233.58 214.94,233.74Z" fill="#f4e0d2"/><ellipse cx="214.84" cy="238.94" rx="2.38" ry="2.4" fill="#6e3420"/>
<circle cx="183.1" cy="228.53" r="0.6" fill="#5a84c8"/><circle cx="191.15" cy="225.97" r="0.6" fill="#5a84c8"/><circle cx="183.97" cy="229.78" r="0.6" fill="#5a84c8"/><circle cx="194.11" cy="226.37" r="0.6" fill="#5a84c8"/><circle cx="188.92" cy="223.01" r="0.6" fill="#5a84c8"/><circle cx="190.3" cy="220.98" r="0.6" fill="#5a84c8"/><circle cx="193.87" cy="222.97" r="0.6" fill="#5a84c8"/><circle cx="195.26" cy="227.63" r="0.6" fill="#5a84c8"/><circle cx="180.86" cy="224.14" r="0.6" fill="#5a84c8"/><circle cx="188.79" cy="221.55" r="0.6" fill="#5a84c8"/><circle cx="196.57" cy="224.62" r="0.6" fill="#5a84c8"/><circle cx="182.93" cy="230.09" r="0.6" fill="#5a84c8"/><circle cx="188.03" cy="226.86" r="0.6" fill="#5a84c8"/><circle cx="186.15" cy="226.04" r="0.6" fill="#5a84c8"/><circle cx="195.1" cy="223" r="0.6" fill="#5a84c8"/><circle cx="193.63" cy="222.68" r="0.6" fill="#5a84c8"/><circle cx="193.2" cy="229.42" r="0.6" fill="#5a84c8"/><circle cx="190.22" cy="229.02" r="0.6" fill="#5a84c8"/><circle cx="182.37" cy="225.93" r="0.6" fill="#5a84c8"/><circle cx="194.43" cy="222.59" r="0.6" fill="#5a84c8"/><circle cx="187.29" cy="224.58" r="0.6" fill="#5a84c8"/><circle cx="188" cy="224.83" r="0.6" fill="#5a84c8"/><circle cx="188.77" cy="226.12" r="0.6" fill="#5a84c8"/><circle cx="189.7" cy="229.24" r="0.6" fill="#5a84c8"/><circle cx="184.08" cy="227.55" r="0.6" fill="#5a84c8"/><circle cx="189.8" cy="227.71" r="0.6" fill="#5a84c8"/><circle cx="183.37" cy="222.21" r="0.6" fill="#5a84c8"/><circle cx="186.24" cy="231.42" r="0.6" fill="#5a84c8"/><circle cx="186.21" cy="227.41" r="0.6" fill="#5a84c8"/><circle cx="185.53" cy="221.4" r="0.6" fill="#5a84c8"/><circle cx="193.58" cy="224.7" r="0.6" fill="#5a84c8"/><circle cx="191.97" cy="228.36" r="0.6" fill="#5a84c8"/><circle cx="187.24" cy="232.17" r="0.6" fill="#5a84c8"/><circle cx="196.74" cy="227.32" r="0.6" fill="#5a84c8"/><circle cx="195.4" cy="226.11" r="0.6" fill="#5a84c8"/><circle cx="186.71" cy="223.15" r="0.6" fill="#5a84c8"/><circle cx="193.53" cy="226.02" r="0.6" fill="#5a84c8"/><circle cx="184.69" cy="223.67" r="0.6" fill="#5a84c8"/><circle cx="187.46" cy="222.22" r="0.6" fill="#5a84c8"/><circle cx="181.47" cy="224.25" r="0.6" fill="#5a84c8"/><circle cx="193.04" cy="225.97" r="0.6" fill="#5a84c8"/><circle cx="189.27" cy="229" r="0.6" fill="#5a84c8"/><circle cx="194.63" cy="229.81" r="0.6" fill="#5a84c8"/><circle cx="195.37" cy="227.46" r="0.6" fill="#5a84c8"/><circle cx="187.57" cy="227.21" r="0.6" fill="#5a84c8"/><circle cx="194.82" cy="223.89" r="0.6" fill="#5a84c8"/><circle cx="189.42" cy="223.5" r="0.6" fill="#5a84c8"/><circle cx="192.01" cy="231.75" r="0.6" fill="#5a84c8"/><circle cx="180.68" cy="227.36" r="0.6" fill="#5a84c8"/><circle cx="191.3" cy="230.5" r="0.6" fill="#5a84c8"/><circle cx="190.28" cy="223.27" r="0.6" fill="#5a84c8"/><circle cx="187.22" cy="231.8" r="0.6" fill="#5a84c8"/><circle cx="180.71" cy="225.58" r="0.6" fill="#5a84c8"/><circle cx="191.5" cy="221.68" r="0.6" fill="#5a84c8"/><circle cx="189.5" cy="224.09" r="0.6" fill="#5a84c8"/><circle cx="188.73" cy="222.81" r="0.6" fill="#5a84c8"/><circle cx="183.12" cy="222.38" r="0.6" fill="#5a84c8"/><circle cx="186.74" cy="228.78" r="0.6" fill="#5a84c8"/><circle cx="189.69" cy="220.7" r="0.6" fill="#5a84c8"/><circle cx="192.45" cy="230.77" r="0.6" fill="#5a84c8"/>
<circle cx="197.62" cy="223.97" r="0.6" fill="#5a84c8"/><circle cx="203.62" cy="225.96" r="0.6" fill="#5a84c8"/><circle cx="206.68" cy="224.96" r="0.6" fill="#5a84c8"/><circle cx="207.58" cy="225.73" r="0.6" fill="#5a84c8"/><circle cx="202.97" cy="231.15" r="0.6" fill="#5a84c8"/><circle cx="204.05" cy="231.08" r="0.6" fill="#5a84c8"/><circle cx="204.35" cy="223.33" r="0.6" fill="#5a84c8"/><circle cx="206.57" cy="228.12" r="0.6" fill="#5a84c8"/><circle cx="199.25" cy="224.59" r="0.6" fill="#5a84c8"/><circle cx="206.17" cy="228.06" r="0.6" fill="#5a84c8"/><circle cx="207.6" cy="227.92" r="0.6" fill="#5a84c8"/><circle cx="204.22" cy="228.32" r="0.6" fill="#5a84c8"/><circle cx="199.27" cy="229.82" r="0.6" fill="#5a84c8"/><circle cx="207.51" cy="228.66" r="0.6" fill="#5a84c8"/><circle cx="197.08" cy="230.21" r="0.6" fill="#5a84c8"/><circle cx="203.83" cy="224.54" r="0.6" fill="#5a84c8"/><circle cx="195.89" cy="227.61" r="0.6" fill="#5a84c8"/><circle cx="201.76" cy="227.48" r="0.6" fill="#5a84c8"/><circle cx="200.51" cy="228.75" r="0.6" fill="#5a84c8"/><circle cx="207.02" cy="225.62" r="0.6" fill="#5a84c8"/><circle cx="200.06" cy="228.06" r="0.6" fill="#5a84c8"/><circle cx="199.07" cy="228.18" r="0.6" fill="#5a84c8"/><circle cx="202.23" cy="226.74" r="0.6" fill="#5a84c8"/><circle cx="203.9" cy="227.58" r="0.6" fill="#5a84c8"/><circle cx="199.82" cy="226.73" r="0.6" fill="#5a84c8"/><circle cx="200.43" cy="231.13" r="0.6" fill="#5a84c8"/><circle cx="207.48" cy="227.44" r="0.6" fill="#5a84c8"/><circle cx="200.4" cy="223.76" r="0.6" fill="#5a84c8"/><circle cx="202.27" cy="225.99" r="0.6" fill="#5a84c8"/><circle cx="199.47" cy="226.07" r="0.6" fill="#5a84c8"/><circle cx="202.13" cy="229.95" r="0.6" fill="#5a84c8"/><circle cx="203.56" cy="224.69" r="0.6" fill="#5a84c8"/><circle cx="204.16" cy="223.37" r="0.6" fill="#5a84c8"/><circle cx="200.53" cy="230.23" r="0.6" fill="#5a84c8"/><circle cx="207.08" cy="226.98" r="0.6" fill="#5a84c8"/><circle cx="206.13" cy="227.32" r="0.6" fill="#5a84c8"/><circle cx="201.98" cy="228.08" r="0.6" fill="#5a84c8"/><circle cx="201.33" cy="229.34" r="0.6" fill="#5a84c8"/><circle cx="203.52" cy="226.04" r="0.6" fill="#5a84c8"/><circle cx="205.32" cy="230.16" r="0.6" fill="#5a84c8"/>
<circle cx="200.15" cy="216.03" r="0.5" fill="#8aa6d8"/><circle cx="198.3" cy="210.83" r="0.5" fill="#8aa6d8"/><circle cx="188.17" cy="216.39" r="0.5" fill="#8aa6d8"/><circle cx="189.04" cy="216.58" r="0.5" fill="#8aa6d8"/><circle cx="203.69" cy="215.98" r="0.5" fill="#8aa6d8"/><circle cx="197.77" cy="221.52" r="0.5" fill="#8aa6d8"/><circle cx="193.17" cy="209.55" r="0.5" fill="#8aa6d8"/><circle cx="205.88" cy="218.95" r="0.5" fill="#8aa6d8"/><circle cx="202.13" cy="219.52" r="0.5" fill="#8aa6d8"/><circle cx="211.5" cy="214.95" r="0.5" fill="#8aa6d8"/><circle cx="205.18" cy="215.05" r="0.5" fill="#8aa6d8"/><circle cx="199.55" cy="220.22" r="0.5" fill="#8aa6d8"/><circle cx="191.84" cy="210.04" r="0.5" fill="#8aa6d8"/><circle cx="196.62" cy="221.23" r="0.5" fill="#8aa6d8"/><circle cx="200.11" cy="216.45" r="0.5" fill="#8aa6d8"/><circle cx="201.66" cy="211.75" r="0.5" fill="#8aa6d8"/><circle cx="187.77" cy="214.25" r="0.5" fill="#8aa6d8"/><circle cx="206.86" cy="211.99" r="0.5" fill="#8aa6d8"/><circle cx="199.58" cy="223.05" r="0.5" fill="#8aa6d8"/><circle cx="192.33" cy="215.07" r="0.5" fill="#8aa6d8"/><circle cx="191.06" cy="213.92" r="0.5" fill="#8aa6d8"/><circle cx="205.71" cy="218.24" r="0.5" fill="#8aa6d8"/><circle cx="190.16" cy="210.42" r="0.5" fill="#8aa6d8"/><circle cx="205.9" cy="221.04" r="0.5" fill="#8aa6d8"/><circle cx="207.24" cy="212.74" r="0.5" fill="#8aa6d8"/><circle cx="198.76" cy="224.79" r="0.5" fill="#8aa6d8"/><circle cx="200.17" cy="225.26" r="0.5" fill="#8aa6d8"/><circle cx="184.09" cy="215.89" r="0.5" fill="#8aa6d8"/><circle cx="198.55" cy="226.01" r="0.5" fill="#8aa6d8"/><circle cx="204.86" cy="214.65" r="0.5" fill="#8aa6d8"/><circle cx="211.61" cy="215.2" r="0.5" fill="#8aa6d8"/><circle cx="196.38" cy="212.01" r="0.5" fill="#8aa6d8"/><circle cx="188.89" cy="210.36" r="0.5" fill="#8aa6d8"/><circle cx="198.26" cy="211.53" r="0.5" fill="#8aa6d8"/><circle cx="198.7" cy="222.91" r="0.5" fill="#8aa6d8"/><circle cx="190" cy="215.99" r="0.5" fill="#8aa6d8"/><circle cx="209.41" cy="216.4" r="0.5" fill="#8aa6d8"/><circle cx="192.69" cy="224.32" r="0.5" fill="#8aa6d8"/><circle cx="203.02" cy="215.83" r="0.5" fill="#8aa6d8"/><circle cx="203.18" cy="223.21" r="0.5" fill="#8aa6d8"/><circle cx="201.58" cy="212.75" r="0.5" fill="#8aa6d8"/><circle cx="191.26" cy="215.78" r="0.5" fill="#8aa6d8"/><circle cx="205.54" cy="218.39" r="0.5" fill="#8aa6d8"/><circle cx="198.89" cy="223.15" r="0.5" fill="#8aa6d8"/><circle cx="185.67" cy="219.7" r="0.5" fill="#8aa6d8"/>
<circle cx="196.75" cy="248.78" r="0.5" fill="#f0a0a0"/><circle cx="187.88" cy="246.92" r="0.5" fill="#f0a0a0"/><circle cx="186.13" cy="247.88" r="0.5" fill="#f0a0a0"/><circle cx="187.15" cy="247.31" r="0.5" fill="#f0a0a0"/><circle cx="196.96" cy="247.97" r="0.5" fill="#f0a0a0"/><circle cx="192.11" cy="249.07" r="0.5" fill="#f0a0a0"/><circle cx="193.41" cy="250.09" r="0.5" fill="#f0a0a0"/><circle cx="197.21" cy="244.41" r="0.5" fill="#f0a0a0"/><circle cx="189.77" cy="250.04" r="0.5" fill="#f0a0a0"/><circle cx="186.01" cy="247.91" r="0.5" fill="#f0a0a0"/><circle cx="198.99" cy="241.24" r="0.5" fill="#f0a0a0"/><circle cx="190.15" cy="242.87" r="0.5" fill="#f0a0a0"/><circle cx="193.84" cy="243.55" r="0.5" fill="#f0a0a0"/><circle cx="189.97" cy="249.39" r="0.5" fill="#f0a0a0"/><circle cx="195.94" cy="248.33" r="0.5" fill="#f0a0a0"/><circle cx="199.27" cy="242.44" r="0.5" fill="#f0a0a0"/><circle cx="197.27" cy="249.72" r="0.5" fill="#f0a0a0"/><circle cx="186.16" cy="244.96" r="0.5" fill="#f0a0a0"/><circle cx="187.2" cy="241.08" r="0.5" fill="#f0a0a0"/><circle cx="192.77" cy="246.91" r="0.5" fill="#f0a0a0"/><circle cx="193.21" cy="250.53" r="0.5" fill="#f0a0a0"/><circle cx="197.65" cy="245.38" r="0.5" fill="#f0a0a0"/><circle cx="188.71" cy="246.47" r="0.5" fill="#f0a0a0"/><circle cx="189.02" cy="246.62" r="0.5" fill="#f0a0a0"/><circle cx="195.66" cy="243.82" r="0.5" fill="#f0a0a0"/>
<circle cx="176.82" cy="246.59" r="0.5" fill="#f0a8c0"/><circle cx="181.81" cy="240.28" r="0.5" fill="#f0a8c0"/><circle cx="182.11" cy="244.02" r="0.5" fill="#f0a8c0"/><circle cx="175.52" cy="241.1" r="0.5" fill="#f0a8c0"/><circle cx="177.32" cy="243.6" r="0.5" fill="#f0a8c0"/><circle cx="174.12" cy="244.46" r="0.5" fill="#f0a8c0"/><circle cx="181.69" cy="242.92" r="0.5" fill="#f0a8c0"/><circle cx="181.29" cy="243.92" r="0.5" fill="#f0a8c0"/><circle cx="181.61" cy="239.99" r="0.5" fill="#f0a8c0"/><circle cx="176.62" cy="242.54" r="0.5" fill="#f0a8c0"/><circle cx="179.59" cy="239.26" r="0.5" fill="#f0a8c0"/><circle cx="179.02" cy="242.06" r="0.5" fill="#f0a8c0"/><circle cx="174.81" cy="239.81" r="0.5" fill="#f0a8c0"/><circle cx="177.72" cy="239.01" r="0.5" fill="#f0a8c0"/><circle cx="178.81" cy="242.95" r="0.5" fill="#f0a8c0"/>
<path d="M210.45,327.71C215.09,328.04 213.92,328.55 214.99,329.66C216.06,330.76 216.56,331.39 216.87,334.35C217.18,337.3 217.18,344.44 216.87,347.4C216.56,350.36 216.06,350.98 214.99,352.09C213.92,353.2 215.09,353.71 210.45,354.03C205.81,354.36 191.77,354.36 187.12,354.03C182.48,353.71 183.65,353.2 182.58,352.09C181.51,350.98 181.02,350.36 180.7,347.4C180.39,344.44 180.39,337.3 180.7,334.35C181.02,331.39 181.51,330.76 182.58,329.66C183.65,328.55 182.48,328.04 187.12,327.71C191.77,327.39 205.81,327.39 210.45,327.71Z" fill="none" stroke="#cdc6cc" stroke-width="0.9" opacity="1.0"/><path d="M165.83,346.74C166.37,345.08 168.51,343.79 170.11,343.42C171.72,343.05 173.86,343.69 175.46,344.52C177.07,345.35 178.58,347.01 179.74,348.39C180.9,349.78 182.06,351.44 182.42,352.82C182.77,354.2 182.68,355.86 181.88,356.69C181.08,357.52 179.3,357.89 177.6,357.8C175.91,357.7 173.5,356.87 171.72,356.14C169.93,355.4 167.88,354.94 166.9,353.37C165.92,351.8 165.3,348.39 165.83,346.74Z" fill="none" stroke="#d8c4d6" stroke-width="0.9" opacity="1.0"/><path d="M171.72,358.9C172.7,358.02 175.28,358.02 177.07,358.02C178.85,358.02 181.17,358.11 182.42,358.9C183.66,359.69 184.38,361.39 184.56,362.77C184.73,364.15 184.56,366.18 183.49,367.2C182.42,368.21 179.83,368.86 178.14,368.86C176.44,368.86 174.48,368.12 173.32,367.2C172.16,366.27 171.45,364.71 171.18,363.32C170.91,361.94 170.74,359.79 171.72,358.9Z" fill="none" stroke="#e4c4ca" stroke-width="0.9" opacity="1.0"/><path d="M185.09,354.03C186.52,353.19 190.89,353.37 193.12,353.81C195.35,354.26 196.59,355.29 198.47,356.69C200.34,358.09 203.19,360.56 204.35,362.22C205.51,363.88 205.69,365.21 205.42,366.64C205.15,368.08 204.62,370.07 202.75,370.85C200.87,371.62 196.86,371.34 194.19,371.29C191.51,371.23 188.3,371.47 186.7,370.51C185.09,369.56 184.91,367.47 184.56,365.54C184.2,363.6 184.47,360.82 184.56,358.9C184.65,356.98 183.66,354.88 185.09,354.03Z" fill="none" stroke="#e0c0bc" stroke-width="0.9" opacity="1.0"/><path d="M215.05,352.26C216.07,352.26 217.49,353 218.26,353.92C219.03,354.85 219.65,356.41 219.65,357.8C219.65,359.18 219.03,361.26 218.26,362.22C217.49,363.18 216.07,363.64 215.05,363.55C214.03,363.45 212.82,362.62 212.16,361.67C211.5,360.71 211.09,359.09 211.09,357.8C211.09,356.5 211.5,354.85 212.16,353.92C212.82,353 214.03,352.26 215.05,352.26Z" fill="none" stroke="#d8b8a8" stroke-width="0.9" opacity="1.0"/><path d="M211.31,362.22C212.02,362.13 213.98,362.22 213.45,363.88C212.91,365.54 209.7,369.78 208.1,372.17C206.49,374.57 205.15,377.33 203.82,378.26C202.48,379.18 200.78,378.53 200.07,377.7C199.36,376.87 198.91,374.57 199.54,373.28C200.16,371.99 202.21,371.44 203.82,369.96C205.42,368.49 207.92,365.72 209.17,364.43C210.41,363.14 210.59,362.31 211.31,362.22Z" fill="none" stroke="#cce4cc" stroke-width="0.9" opacity="1.0"/>
<clipPath id="cl370_1_160_321"><path d="M196.11,325.28C198.88,325.39 203.51,325.96 206.28,327.27C209.04,328.58 211.09,330.83 212.7,333.13C214.3,335.44 215.69,338.68 215.91,341.09C216.12,343.51 215.16,345.87 213.98,347.62C212.8,349.37 210.97,350.38 208.85,351.6C206.72,352.82 203.8,354.48 201.25,354.92C198.7,355.36 195.9,354.81 193.54,354.26C191.19,353.7 189.03,352.38 187.12,351.6C185.22,350.83 183.47,350.7 182.1,349.61C180.72,348.52 179.31,347.16 178.89,345.08C178.46,342.99 178.78,339.32 179.53,337.11C180.28,334.9 181.68,333.56 183.38,331.8C185.07,330.05 187.57,327.69 189.69,326.61C191.81,325.52 193.35,325.17 196.11,325.28Z"/></clipPath>
<clipPath id="cl371_6_160_321"><path d="M184.02,354.26C185.07,353.54 187.89,353.04 189.69,353.26C191.49,353.48 193.76,354.53 194.83,355.58C195.9,356.63 195.04,358.35 196.11,359.56C197.18,360.78 199.87,361.89 201.25,362.88C202.62,363.88 204.14,364.45 204.35,365.54C204.56,366.62 203.91,368.6 202.53,369.41C201.16,370.22 198.47,370.4 196.11,370.4C193.76,370.4 190.32,370.13 188.41,369.41C186.5,368.69 185.18,367.51 184.66,366.09C184.15,364.67 185.52,362.31 185.31,360.89C185.09,359.47 183.59,358.68 183.38,357.57C183.17,356.47 182.97,354.97 184.02,354.26Z"/></clipPath>
<g filter="url(#tx3)"><path d="M196.11,325.28C198.88,325.39 203.51,325.96 206.28,327.27C209.04,328.58 211.09,330.83 212.7,333.13C214.3,335.44 215.69,338.68 215.91,341.09C216.12,343.51 215.16,345.87 213.98,347.62C212.8,349.37 210.97,350.38 208.85,351.6C206.72,352.82 203.8,354.48 201.25,354.92C198.7,355.36 195.9,354.81 193.54,354.26C191.19,353.7 189.03,352.38 187.12,351.6C185.22,350.83 183.47,350.7 182.1,349.61C180.72,348.52 179.31,347.16 178.89,345.08C178.46,342.99 178.78,339.32 179.53,337.11C180.28,334.9 181.68,333.56 183.38,331.8C185.07,330.05 187.57,327.69 189.69,326.61C191.81,325.52 193.35,325.17 196.11,325.28Z" fill="#a8c0e6"/><g clip-path="url(#cl370_1_160_321)"><g filter="url(#sb)"><ellipse cx="199.54" cy="330.14" rx="13.91" ry="6.08" fill="#3a6ec2" opacity="1"/><ellipse cx="208.1" cy="338.99" rx="7.49" ry="5.53" fill="#4c7cc6" opacity="0.9"/></g></g><path d="M175.46,351.71C176.17,350.88 177.87,350.61 179.21,350.61C180.54,350.61 182.51,350.97 183.49,351.71C184.47,352.45 185.18,354.02 185.09,355.03C185,356.04 184.11,357.33 182.95,357.8C181.79,358.26 179.47,358.16 178.14,357.8C176.8,357.43 175.37,356.6 174.93,355.58C174.48,354.57 174.75,352.54 175.46,351.71Z" fill="#c8a0d6"/><path d="M166.37,345.96C167.26,345.19 169.22,344.36 170.65,344.3C172.07,344.25 173.77,344.89 174.93,345.63C176.09,346.37 177.24,347.53 177.6,348.73C177.96,349.92 177.69,351.77 177.07,352.82C176.44,353.87 175.1,354.75 173.86,355.03C172.61,355.31 170.82,354.94 169.58,354.48C168.33,354.02 167.08,353.19 166.37,352.26C165.65,351.34 165.3,350 165.3,348.95C165.3,347.9 165.47,346.74 166.37,345.96Z" fill="#b890d4"/><path d="M172.79,358.35C173.5,357.43 175.55,357.7 177.07,357.8C178.58,357.89 180.63,358.26 181.88,358.9C183.13,359.55 184.2,360.56 184.56,361.67C184.91,362.77 184.73,364.62 184.02,365.54C183.31,366.46 181.7,367.1 180.28,367.2C178.85,367.29 176.71,366.74 175.46,366.09C174.21,365.44 173.23,364.62 172.79,363.32C172.34,362.03 172.07,359.27 172.79,358.35Z" fill="#f2d6dc"/><path d="M184.02,354.26C185.07,353.54 187.89,353.04 189.69,353.26C191.49,353.48 193.76,354.53 194.83,355.58C195.9,356.63 195.04,358.35 196.11,359.56C197.18,360.78 199.87,361.89 201.25,362.88C202.62,363.88 204.14,364.45 204.35,365.54C204.56,366.62 203.91,368.6 202.53,369.41C201.16,370.22 198.47,370.4 196.11,370.4C193.76,370.4 190.32,370.13 188.41,369.41C186.5,368.69 185.18,367.51 184.66,366.09C184.15,364.67 185.52,362.31 185.31,360.89C185.09,359.47 183.59,358.68 183.38,357.57C183.17,356.47 182.97,354.97 184.02,354.26Z" fill="#f0a49c"/><g clip-path="url(#cl371_6_160_321)"><g filter="url(#sb)"><ellipse cx="193.12" cy="365.54" rx="9.63" ry="4.42" fill="#e03a2e" opacity="1"/></g></g><path d="M200.93,370.18C201.85,370 203.08,370.83 203.6,371.62C204.12,372.41 204.35,374.07 204.03,374.94C203.71,375.8 202.55,376.63 201.68,376.82C200.8,377 199.39,376.73 198.79,376.04C198.18,375.36 197.68,373.7 198.04,372.73C198.39,371.75 200,370.37 200.93,370.18Z" fill="#d4ecd4"/><path d="M186.48,370.18C187.27,370.18 188.44,370.96 188.84,371.62C189.23,372.28 189.23,373.52 188.84,374.16C188.44,374.81 187.27,375.49 186.48,375.49C185.7,375.49 184.52,374.81 184.13,374.16C183.74,373.52 183.74,372.28 184.13,371.62C184.52,370.96 185.7,370.18 186.48,370.18Z" fill="#b8cce8"/></g>
<path d="M214.94,352.04C215.75,352.21 217.14,352.97 217.73,353.92C218.31,354.88 218.6,356.49 218.48,357.8C218.35,359.1 217.64,361 216.98,361.78C216.32,362.55 215.3,362.74 214.52,362.44C213.73,362.15 212.71,361.15 212.27,360.01C211.82,358.86 211.73,356.76 211.84,355.58C211.95,354.4 212.39,353.52 212.91,352.93C213.43,352.34 214.14,351.88 214.94,352.04Z" fill="#fdf8f4"/><ellipse cx="214.84" cy="357.24" rx="0.7" ry="0.6" fill="#e8d8d0"/>
<circle cx="214.8" cy="357.7" r="0.6" fill="#5a2a18"/><circle cx="217.32" cy="356.98" r="0.6" fill="#5a2a18"/><circle cx="215.09" cy="357.92" r="0.6" fill="#5a2a18"/><circle cx="213.36" cy="357.33" r="0.6" fill="#5a2a18"/><circle cx="215.75" cy="359.51" r="0.6" fill="#5a2a18"/><circle cx="212.88" cy="355.72" r="0.6" fill="#5a2a18"/>
<path d="M275.25,209.41C279.89,209.74 278.72,210.25 279.79,211.36C280.86,212.46 281.36,213.09 281.67,216.05C281.98,219 281.98,226.14 281.67,229.1C281.36,232.06 280.86,232.68 279.79,233.79C278.72,234.9 279.89,235.41 275.25,235.73C270.61,236.06 256.57,236.06 251.92,235.73C247.28,235.41 248.45,234.9 247.38,233.79C246.31,232.68 245.82,232.06 245.5,229.1C245.19,226.14 245.19,219 245.5,216.05C245.82,213.09 246.31,212.46 247.38,211.36C248.45,210.25 247.28,209.74 251.92,209.41C256.57,209.09 270.61,209.09 275.25,209.41Z" fill="none" stroke="#cdc6cc" stroke-width="0.9" opacity="1.0"/><path d="M230.63,228.44C231.17,226.78 233.31,225.49 234.91,225.12C236.52,224.75 238.66,225.39 240.26,226.22C241.87,227.05 243.38,228.71 244.54,230.09C245.7,231.48 246.86,233.14 247.22,234.52C247.57,235.9 247.48,237.56 246.68,238.39C245.88,239.22 244.1,239.59 242.4,239.49C240.71,239.4 238.3,238.57 236.52,237.84C234.73,237.1 232.68,236.64 231.7,235.07C230.72,233.5 230.1,230.09 230.63,228.44Z" fill="none" stroke="#d8c4d6" stroke-width="0.9" opacity="1.0"/><path d="M236.52,240.6C237.5,239.72 240.08,239.72 241.87,239.72C243.65,239.72 245.97,239.81 247.22,240.6C248.46,241.39 249.18,243.09 249.36,244.47C249.53,245.85 249.36,247.88 248.29,248.9C247.22,249.91 244.63,250.55 242.94,250.55C241.24,250.55 239.28,249.82 238.12,248.9C236.96,247.97 236.25,246.41 235.98,245.02C235.71,243.64 235.54,241.49 236.52,240.6Z" fill="none" stroke="#e4c4ca" stroke-width="0.9" opacity="1.0"/><path d="M249.89,235.73C251.32,234.89 255.69,235.07 257.92,235.51C260.15,235.96 261.39,236.99 263.27,238.39C265.14,239.79 267.99,242.26 269.15,243.92C270.31,245.58 270.49,246.91 270.22,248.34C269.95,249.78 269.42,251.77 267.55,252.55C265.67,253.32 261.66,253.04 258.99,252.99C256.31,252.93 253.1,253.17 251.5,252.21C249.89,251.26 249.71,249.17 249.36,247.24C249,245.3 249.27,242.52 249.36,240.6C249.45,238.68 248.46,236.58 249.89,235.73Z" fill="none" stroke="#e0c0bc" stroke-width="0.9" opacity="1.0"/><path d="M279.85,233.96C280.87,233.96 282.29,234.7 283.06,235.62C283.83,236.55 284.45,238.11 284.45,239.49C284.45,240.88 283.83,242.96 283.06,243.92C282.29,244.88 280.87,245.34 279.85,245.25C278.83,245.15 277.62,244.32 276.96,243.37C276.3,242.41 275.89,240.79 275.89,239.49C275.89,238.2 276.3,236.55 276.96,235.62C277.62,234.7 278.83,233.96 279.85,233.96Z" fill="none" stroke="#d8b8a8" stroke-width="0.9" opacity="1.0"/><path d="M276.11,243.92C276.82,243.83 278.78,243.92 278.25,245.58C277.71,247.24 274.5,251.48 272.9,253.87C271.29,256.27 269.95,259.03 268.62,259.96C267.28,260.88 265.58,260.23 264.87,259.4C264.16,258.57 263.71,256.27 264.34,254.98C264.96,253.69 267.01,253.14 268.62,251.66C270.22,250.19 272.72,247.42 273.97,246.13C275.21,244.84 275.39,244.01 276.11,243.92Z" fill="none" stroke="#cce4cc" stroke-width="0.9" opacity="1.0"/>
<g filter="url(#tx3)"><path d="M231.17,227.66C232.06,226.89 234.02,226.06 235.45,226C236.87,225.95 238.57,226.59 239.73,227.33C240.89,228.07 242.04,229.23 242.4,230.43C242.76,231.62 242.49,233.47 241.87,234.52C241.24,235.57 239.9,236.45 238.66,236.73C237.41,237.01 235.62,236.64 234.38,236.18C233.13,235.72 231.88,234.89 231.17,233.96C230.45,233.04 230.1,231.7 230.1,230.65C230.1,229.6 230.27,228.44 231.17,227.66Z" fill="#b48cd2"/></g>
<path d="M279.74,233.74C280.55,233.91 281.94,234.67 282.53,235.62C283.11,236.58 283.4,238.19 283.27,239.49C283.15,240.8 282.44,242.7 281.78,243.48C281.12,244.25 280.1,244.44 279.32,244.14C278.53,243.85 277.51,242.85 277.07,241.71C276.62,240.56 276.53,238.46 276.64,237.28C276.75,236.1 277.19,235.22 277.71,234.63C278.23,234.04 278.94,233.58 279.74,233.74Z" fill="#f6d8c4"/><ellipse cx="279.64" cy="238.94" rx="2.8" ry="2.4" fill="#6a2c14"/>
<circle cx="254.14" cy="228.33" r="0.5" fill="#a8b8dc"/><circle cx="255.65" cy="230.72" r="0.5" fill="#a8b8dc"/><circle cx="246.52" cy="224.66" r="0.5" fill="#a8b8dc"/><circle cx="258.26" cy="227.09" r="0.5" fill="#a8b8dc"/><circle cx="252.17" cy="221.75" r="0.5" fill="#a8b8dc"/><circle cx="253.13" cy="226.1" r="0.5" fill="#a8b8dc"/><circle cx="249.73" cy="230.64" r="0.5" fill="#a8b8dc"/><circle cx="255.98" cy="220.6" r="0.5" fill="#a8b8dc"/><circle cx="256.38" cy="220.32" r="0.5" fill="#a8b8dc"/><circle cx="254.07" cy="220.16" r="0.5" fill="#a8b8dc"/><circle cx="248.84" cy="221.34" r="0.5" fill="#a8b8dc"/><circle cx="253.07" cy="227.48" r="0.5" fill="#a8b8dc"/><circle cx="257.62" cy="222.45" r="0.5" fill="#a8b8dc"/><circle cx="250.78" cy="220.68" r="0.5" fill="#a8b8dc"/>
<circle cx="245.89" cy="241.24" r="0.6" fill="#b48cd2"/><circle cx="243.91" cy="236.28" r="0.6" fill="#b48cd2"/><circle cx="243.82" cy="240.69" r="0.6" fill="#b48cd2"/><circle cx="243.19" cy="240.78" r="0.6" fill="#b48cd2"/><circle cx="242.55" cy="241.06" r="0.6" fill="#b48cd2"/><circle cx="245.48" cy="237.63" r="0.6" fill="#b48cd2"/><circle cx="244.25" cy="240" r="0.6" fill="#b48cd2"/><circle cx="242.03" cy="238.86" r="0.6" fill="#b48cd2"/>
<circle cx="265.35" cy="251.56" r="0.6" fill="#98c898"/><circle cx="267.44" cy="251.04" r="0.6" fill="#98c898"/><circle cx="266.71" cy="252.98" r="0.6" fill="#98c898"/><circle cx="263.64" cy="253.92" r="0.6" fill="#98c898"/>
<path d="M275.25,327.71C279.89,328.04 278.72,328.55 279.79,329.66C280.86,330.76 281.36,331.39 281.67,334.35C281.98,337.3 281.98,344.44 281.67,347.4C281.36,350.36 280.86,350.98 279.79,352.09C278.72,353.2 279.89,353.71 275.25,354.03C270.61,354.36 256.57,354.36 251.92,354.03C247.28,353.71 248.45,353.2 247.38,352.09C246.31,350.98 245.82,350.36 245.5,347.4C245.19,344.44 245.19,337.3 245.5,334.35C245.82,331.39 246.31,330.76 247.38,329.66C248.45,328.55 247.28,328.04 251.92,327.71C256.57,327.39 270.61,327.39 275.25,327.71Z" fill="none" stroke="#cdc6cc" stroke-width="0.9" opacity="1.0"/><path d="M230.63,346.74C231.17,345.08 233.31,343.79 234.91,343.42C236.52,343.05 238.66,343.69 240.26,344.52C241.87,345.35 243.38,347.01 244.54,348.39C245.7,349.78 246.86,351.44 247.22,352.82C247.57,354.2 247.48,355.86 246.68,356.69C245.88,357.52 244.1,357.89 242.4,357.8C240.71,357.7 238.3,356.87 236.52,356.14C234.73,355.4 232.68,354.94 231.7,353.37C230.72,351.8 230.1,348.39 230.63,346.74Z" fill="none" stroke="#d8c4d6" stroke-width="0.9" opacity="1.0"/><path d="M236.52,358.9C237.5,358.02 240.08,358.02 241.87,358.02C243.65,358.02 245.97,358.11 247.22,358.9C248.46,359.69 249.18,361.39 249.36,362.77C249.53,364.15 249.36,366.18 248.29,367.2C247.22,368.21 244.63,368.86 242.94,368.86C241.24,368.86 239.28,368.12 238.12,367.2C236.96,366.27 236.25,364.71 235.98,363.32C235.71,361.94 235.54,359.79 236.52,358.9Z" fill="none" stroke="#e4c4ca" stroke-width="0.9" opacity="1.0"/><path d="M249.89,354.03C251.32,353.19 255.69,353.37 257.92,353.81C260.15,354.26 261.39,355.29 263.27,356.69C265.14,358.09 267.99,360.56 269.15,362.22C270.31,363.88 270.49,365.21 270.22,366.64C269.95,368.08 269.42,370.07 267.55,370.85C265.67,371.62 261.66,371.34 258.99,371.29C256.31,371.23 253.1,371.47 251.5,370.51C249.89,369.56 249.71,367.47 249.36,365.54C249,363.6 249.27,360.82 249.36,358.9C249.45,356.98 248.46,354.88 249.89,354.03Z" fill="none" stroke="#e0c0bc" stroke-width="0.9" opacity="1.0"/><path d="M279.85,352.26C280.87,352.26 282.29,353 283.06,353.92C283.83,354.85 284.45,356.41 284.45,357.8C284.45,359.18 283.83,361.26 283.06,362.22C282.29,363.18 280.87,363.64 279.85,363.55C278.83,363.45 277.62,362.62 276.96,361.67C276.3,360.71 275.89,359.09 275.89,357.8C275.89,356.5 276.3,354.85 276.96,353.92C277.62,353 278.83,352.26 279.85,352.26Z" fill="none" stroke="#d8b8a8" stroke-width="0.9" opacity="1.0"/><path d="M276.11,362.22C276.82,362.13 278.78,362.22 278.25,363.88C277.71,365.54 274.5,369.78 272.9,372.17C271.29,374.57 269.95,377.33 268.62,378.26C267.28,379.18 265.58,378.53 264.87,377.7C264.16,376.87 263.71,374.57 264.34,373.28C264.96,371.99 267.01,371.44 268.62,369.96C270.22,368.49 272.72,365.72 273.97,364.43C275.21,363.14 275.39,362.31 276.11,362.22Z" fill="none" stroke="#cce4cc" stroke-width="0.9" opacity="1.0"/>
<g filter="url(#tx3)"><path d="M240.26,351.71C240.97,350.88 242.67,350.61 244.01,350.61C245.34,350.61 247.31,350.97 248.29,351.71C249.27,352.45 249.98,354.02 249.89,355.03C249.8,356.04 248.91,357.33 247.75,357.8C246.59,358.26 244.27,358.16 242.94,357.8C241.6,357.43 240.17,356.6 239.73,355.58C239.28,354.57 239.55,352.54 240.26,351.71Z" fill="#b486cc"/><path d="M231.17,345.96C232.06,345.19 234.02,344.36 235.45,344.3C236.87,344.25 238.57,344.89 239.73,345.63C240.89,346.37 242.04,347.53 242.4,348.73C242.76,349.92 242.49,351.77 241.87,352.82C241.24,353.87 239.9,354.75 238.66,355.03C237.41,355.31 235.62,354.94 234.38,354.48C233.13,354.02 231.88,353.19 231.17,352.26C230.45,351.34 230.1,350 230.1,348.95C230.1,347.9 230.27,346.74 231.17,345.96Z" fill="#a272c8"/><path d="M237.59,358.35C238.3,357.43 240.35,357.7 241.87,357.8C243.38,357.89 245.43,358.26 246.68,358.9C247.93,359.55 249,360.56 249.36,361.67C249.71,362.77 249.53,364.62 248.82,365.54C248.11,366.46 246.5,367.1 245.08,367.2C243.65,367.29 241.51,366.74 240.26,366.09C239.01,365.44 238.03,364.62 237.59,363.32C237.14,362.03 236.87,359.27 237.59,358.35Z" fill="#f4d8dc"/><path d="M248.82,354.26C249.87,353.54 252.69,353.04 254.49,353.26C256.29,353.48 258.56,354.53 259.63,355.58C260.7,356.63 259.84,358.35 260.91,359.56C261.98,360.78 264.67,361.89 266.05,362.88C267.42,363.88 268.94,364.45 269.15,365.54C269.37,366.62 268.71,368.6 267.33,369.41C265.96,370.22 263.27,370.4 260.91,370.4C258.56,370.4 255.12,370.13 253.21,369.41C251.3,368.69 249.98,367.51 249.46,366.09C248.95,364.67 250.32,362.31 250.1,360.89C249.89,359.47 248.39,358.68 248.18,357.57C247.97,356.47 247.77,354.97 248.82,354.26Z" fill="#fbf0f0"/></g>
<path d="M279.74,352.04C280.55,352.21 281.94,352.97 282.53,353.92C283.11,354.88 283.4,356.49 283.27,357.8C283.15,359.1 282.44,361 281.78,361.78C281.12,362.55 280.1,362.74 279.32,362.44C278.53,362.15 277.51,361.15 277.07,360.01C276.62,358.86 276.53,356.76 276.64,355.58C276.75,354.4 277.19,353.52 277.71,352.93C278.23,352.34 278.94,351.88 279.74,352.04Z" fill="#f6e2d0"/><ellipse cx="279.64" cy="357.24" rx="2.52" ry="2.16" fill="#6a2c14"/>
<circle cx="254.22" cy="345.86" r="0.55" fill="#6f93d2"/><circle cx="257.91" cy="337.88" r="0.55" fill="#6f93d2"/><circle cx="250.35" cy="348.22" r="0.55" fill="#6f93d2"/><circle cx="258.38" cy="344.99" r="0.55" fill="#6f93d2"/><circle cx="255.83" cy="345.91" r="0.55" fill="#6f93d2"/><circle cx="247.87" cy="342.49" r="0.55" fill="#6f93d2"/><circle cx="246.51" cy="346.31" r="0.55" fill="#6f93d2"/><circle cx="251.57" cy="341.94" r="0.55" fill="#6f93d2"/><circle cx="254.88" cy="337.08" r="0.55" fill="#6f93d2"/><circle cx="247.24" cy="342.23" r="0.55" fill="#6f93d2"/><circle cx="247.68" cy="340.51" r="0.55" fill="#6f93d2"/><circle cx="257.05" cy="338.21" r="0.55" fill="#6f93d2"/><circle cx="258.5" cy="336.47" r="0.55" fill="#6f93d2"/><circle cx="248.37" cy="348.31" r="0.55" fill="#6f93d2"/><circle cx="252.79" cy="342.16" r="0.55" fill="#6f93d2"/><circle cx="256.55" cy="343.06" r="0.55" fill="#6f93d2"/><circle cx="252.48" cy="336.15" r="0.55" fill="#6f93d2"/><circle cx="251.94" cy="341.3" r="0.55" fill="#6f93d2"/><circle cx="258.37" cy="346.11" r="0.55" fill="#6f93d2"/><circle cx="247.27" cy="339.31" r="0.55" fill="#6f93d2"/><circle cx="252.07" cy="343.59" r="0.55" fill="#6f93d2"/><circle cx="260.68" cy="343.42" r="0.55" fill="#6f93d2"/><circle cx="253.36" cy="343.71" r="0.55" fill="#6f93d2"/><circle cx="249.35" cy="342.29" r="0.55" fill="#6f93d2"/><circle cx="252.55" cy="347.63" r="0.55" fill="#6f93d2"/><circle cx="247.05" cy="344.19" r="0.55" fill="#6f93d2"/><circle cx="248.51" cy="346.45" r="0.55" fill="#6f93d2"/><circle cx="251.7" cy="345.54" r="0.55" fill="#6f93d2"/><circle cx="246.08" cy="342.79" r="0.55" fill="#6f93d2"/><circle cx="249.1" cy="340.04" r="0.55" fill="#6f93d2"/>
<circle cx="268.26" cy="327.82" r="0.5" fill="#a8b8dc"/><circle cx="271.94" cy="334.76" r="0.5" fill="#a8b8dc"/><circle cx="255.51" cy="330.21" r="0.5" fill="#a8b8dc"/><circle cx="267.54" cy="329.44" r="0.5" fill="#a8b8dc"/><circle cx="256.12" cy="328.76" r="0.5" fill="#a8b8dc"/><circle cx="269.84" cy="328.69" r="0.5" fill="#a8b8dc"/><circle cx="273.11" cy="332.51" r="0.5" fill="#a8b8dc"/><circle cx="255.3" cy="331.77" r="0.5" fill="#a8b8dc"/><circle cx="260.14" cy="326.77" r="0.5" fill="#a8b8dc"/><circle cx="263.86" cy="330.5" r="0.5" fill="#a8b8dc"/><circle cx="263.98" cy="338.07" r="0.5" fill="#a8b8dc"/><circle cx="265.93" cy="331.1" r="0.5" fill="#a8b8dc"/>
<path d="M340.05,209.41C344.69,209.74 343.52,210.25 344.59,211.36C345.66,212.46 346.16,213.09 346.47,216.05C346.78,219 346.78,226.14 346.47,229.1C346.16,232.06 345.66,232.68 344.59,233.79C343.52,234.9 344.69,235.41 340.05,235.73C335.41,236.06 321.37,236.06 316.72,235.73C312.08,235.41 313.25,234.9 312.18,233.79C311.11,232.68 310.62,232.06 310.3,229.1C309.99,226.14 309.99,219 310.3,216.05C310.62,213.09 311.11,212.46 312.18,211.36C313.25,210.25 312.08,209.74 316.72,209.41C321.37,209.09 335.41,209.09 340.05,209.41Z" fill="none" stroke="#cdc6cc" stroke-width="0.9" opacity="1.0"/><path d="M295.43,228.44C295.97,226.78 298.11,225.49 299.71,225.12C301.32,224.75 303.46,225.39 305.06,226.22C306.67,227.05 308.18,228.71 309.34,230.09C310.5,231.48 311.66,233.14 312.02,234.52C312.37,235.9 312.28,237.56 311.48,238.39C310.68,239.22 308.9,239.59 307.2,239.49C305.51,239.4 303.1,238.57 301.32,237.84C299.53,237.1 297.48,236.64 296.5,235.07C295.52,233.5 294.9,230.09 295.43,228.44Z" fill="none" stroke="#d8c4d6" stroke-width="0.9" opacity="1.0"/><path d="M301.32,240.6C302.3,239.72 304.88,239.72 306.67,239.72C308.45,239.72 310.77,239.81 312.02,240.6C313.26,241.39 313.98,243.09 314.16,244.47C314.33,245.85 314.16,247.88 313.09,248.9C312.02,249.91 309.43,250.55 307.74,250.55C306.04,250.55 304.08,249.82 302.92,248.9C301.76,247.97 301.05,246.41 300.78,245.02C300.51,243.64 300.34,241.49 301.32,240.6Z" fill="none" stroke="#e4c4ca" stroke-width="0.9" opacity="1.0"/><path d="M314.69,235.73C316.12,234.89 320.49,235.07 322.72,235.51C324.95,235.96 326.19,236.99 328.07,238.39C329.94,239.79 332.79,242.26 333.95,243.92C335.11,245.58 335.29,246.91 335.02,248.34C334.75,249.78 334.22,251.77 332.35,252.55C330.47,253.32 326.46,253.04 323.79,252.99C321.11,252.93 317.9,253.17 316.3,252.21C314.69,251.26 314.51,249.17 314.16,247.24C313.8,245.3 314.07,242.52 314.16,240.6C314.25,238.68 313.26,236.58 314.69,235.73Z" fill="none" stroke="#e0c0bc" stroke-width="0.9" opacity="1.0"/><path d="M344.65,233.96C345.67,233.96 347.09,234.7 347.86,235.62C348.63,236.55 349.25,238.11 349.25,239.49C349.25,240.88 348.63,242.96 347.86,243.92C347.09,244.88 345.67,245.34 344.65,245.25C343.63,245.15 342.42,244.32 341.76,243.37C341.1,242.41 340.69,240.79 340.69,239.49C340.69,238.2 341.1,236.55 341.76,235.62C342.42,234.7 343.63,233.96 344.65,233.96Z" fill="none" stroke="#d8b8a8" stroke-width="0.9" opacity="1.0"/><path d="M340.91,243.92C341.62,243.83 343.58,243.92 343.05,245.58C342.51,247.24 339.3,251.48 337.7,253.87C336.09,256.27 334.75,259.03 333.42,259.96C332.08,260.88 330.38,260.23 329.67,259.4C328.96,258.57 328.51,256.27 329.14,254.98C329.76,253.69 331.81,253.14 333.42,251.66C335.02,250.19 337.52,247.42 338.77,246.13C340.01,244.84 340.19,244.01 340.91,243.92Z" fill="none" stroke="#cce4cc" stroke-width="0.9" opacity="1.0"/>
<g filter="url(#tx3)"></g>
<path d="M344.54,233.74C345.35,233.91 346.74,234.67 347.33,235.62C347.91,236.58 348.2,238.19 348.07,239.49C347.95,240.8 347.24,242.7 346.58,243.48C345.92,244.25 344.9,244.44 344.12,244.14C343.33,243.85 342.31,242.85 341.87,241.71C341.42,240.56 341.33,238.46 341.44,237.28C341.55,236.1 341.99,235.22 342.51,234.63C343.03,234.04 343.74,233.58 344.54,233.74Z" fill="#f6d8c4"/><ellipse cx="344.44" cy="238.94" rx="2.8" ry="2.4" fill="#6a2c14"/>
<circle cx="298.39" cy="234.67" r="0.5" fill="#b090c8"/><circle cx="297.95" cy="230.62" r="0.5" fill="#b090c8"/><circle cx="303.9" cy="232.5" r="0.5" fill="#b090c8"/><circle cx="301.88" cy="232.81" r="0.5" fill="#b090c8"/><circle cx="299.09" cy="235.78" r="0.5" fill="#b090c8"/><circle cx="297.99" cy="230.51" r="0.5" fill="#b090c8"/><circle cx="301.4" cy="236.42" r="0.5" fill="#b090c8"/><circle cx="301.09" cy="229.44" r="0.5" fill="#b090c8"/><circle cx="297.71" cy="233.92" r="0.5" fill="#b090c8"/><circle cx="301.07" cy="234.28" r="0.5" fill="#b090c8"/>
<circle cx="331.04" cy="253.03" r="0.6" fill="#98c898"/><circle cx="328.11" cy="253.89" r="0.6" fill="#98c898"/><circle cx="331.62" cy="254.65" r="0.6" fill="#98c898"/><circle cx="328.33" cy="253.07" r="0.6" fill="#98c898"/>
<path d="M340.05,327.71C344.69,328.04 343.52,328.55 344.59,329.66C345.66,330.76 346.16,331.39 346.47,334.35C346.78,337.3 346.78,344.44 346.47,347.4C346.16,350.36 345.66,350.98 344.59,352.09C343.52,353.2 344.69,353.71 340.05,354.03C335.41,354.36 321.37,354.36 316.72,354.03C312.08,353.71 313.25,353.2 312.18,352.09C311.11,350.98 310.62,350.36 310.3,347.4C309.99,344.44 309.99,337.3 310.3,334.35C310.62,331.39 311.11,330.76 312.18,329.66C313.25,328.55 312.08,328.04 316.72,327.71C321.37,327.39 335.41,327.39 340.05,327.71Z" fill="none" stroke="#cdc6cc" stroke-width="0.9" opacity="1.0"/><path d="M295.43,346.74C295.97,345.08 298.11,343.79 299.71,343.42C301.32,343.05 303.46,343.69 305.06,344.52C306.67,345.35 308.18,347.01 309.34,348.39C310.5,349.78 311.66,351.44 312.02,352.82C312.37,354.2 312.28,355.86 311.48,356.69C310.68,357.52 308.9,357.89 307.2,357.8C305.51,357.7 303.1,356.87 301.32,356.14C299.53,355.4 297.48,354.94 296.5,353.37C295.52,351.8 294.9,348.39 295.43,346.74Z" fill="none" stroke="#d8c4d6" stroke-width="0.9" opacity="1.0"/><path d="M301.32,358.9C302.3,358.02 304.88,358.02 306.67,358.02C308.45,358.02 310.77,358.11 312.02,358.9C313.26,359.69 313.98,361.39 314.16,362.77C314.33,364.15 314.16,366.18 313.09,367.2C312.02,368.21 309.43,368.86 307.74,368.86C306.04,368.86 304.08,368.12 302.92,367.2C301.76,366.27 301.05,364.71 300.78,363.32C300.51,361.94 300.34,359.79 301.32,358.9Z" fill="none" stroke="#e4c4ca" stroke-width="0.9" opacity="1.0"/><path d="M314.69,354.03C316.12,353.19 320.49,353.37 322.72,353.81C324.95,354.26 326.19,355.29 328.07,356.69C329.94,358.09 332.79,360.56 333.95,362.22C335.11,363.88 335.29,365.21 335.02,366.64C334.75,368.08 334.22,370.07 332.35,370.85C330.47,371.62 326.46,371.34 323.79,371.29C321.11,371.23 317.9,371.47 316.3,370.51C314.69,369.56 314.51,367.47 314.16,365.54C313.8,363.6 314.07,360.82 314.16,358.9C314.25,356.98 313.26,354.88 314.69,354.03Z" fill="none" stroke="#e0c0bc" stroke-width="0.9" opacity="1.0"/><path d="M344.65,352.26C345.67,352.26 347.09,353 347.86,353.92C348.63,354.85 349.25,356.41 349.25,357.8C349.25,359.18 348.63,361.26 347.86,362.22C347.09,363.18 345.67,363.64 344.65,363.55C343.63,363.45 342.42,362.62 341.76,361.67C341.1,360.71 340.69,359.09 340.69,357.8C340.69,356.5 341.1,354.85 341.76,353.92C342.42,353 343.63,352.26 344.65,352.26Z" fill="none" stroke="#d8b8a8" stroke-width="0.9" opacity="1.0"/><path d="M340.91,362.22C341.62,362.13 343.58,362.22 343.05,363.88C342.51,365.54 339.3,369.78 337.7,372.17C336.09,374.57 334.75,377.33 333.42,378.26C332.08,379.18 330.38,378.53 329.67,377.7C328.96,376.87 328.51,374.57 329.14,373.28C329.76,371.99 331.81,371.44 333.42,369.96C335.02,368.49 337.52,365.72 338.77,364.43C340.01,363.14 340.19,362.31 340.91,362.22Z" fill="none" stroke="#cce4cc" stroke-width="0.9" opacity="1.0"/>
<g filter="url(#tx3)"></g>
<path d="M344.54,352.04C345.35,352.21 346.74,352.97 347.33,353.92C347.91,354.88 348.2,356.49 348.07,357.8C347.95,359.1 347.24,361 346.58,361.78C345.92,362.55 344.9,362.74 344.12,362.44C343.33,362.15 342.31,361.15 341.87,360.01C341.42,358.86 341.33,356.76 341.44,355.58C341.55,354.4 341.99,353.52 342.51,352.93C343.03,352.34 343.74,351.88 344.54,352.04Z" fill="#f6d8c4"/><ellipse cx="344.44" cy="357.24" rx="2.8" ry="2.4" fill="#6a2c14"/>
<circle cx="303.02" cy="352.8" r="0.5" fill="#a890c4"/><circle cx="307.57" cy="354.25" r="0.5" fill="#a890c4"/><circle cx="302.23" cy="348.77" r="0.5" fill="#a890c4"/><circle cx="301.82" cy="348.73" r="0.5" fill="#a890c4"/><circle cx="308.1" cy="347.89" r="0.5" fill="#a890c4"/><circle cx="305.93" cy="348.63" r="0.5" fill="#a890c4"/>
<circle cx="313.77" cy="344.76" r="0.5" fill="#98b0d8"/><circle cx="317.27" cy="346.34" r="0.5" fill="#98b0d8"/><circle cx="314.83" cy="341.8" r="0.5" fill="#98b0d8"/>
<rect x="381.6" y="260.83" width="9.2" height="4.17" fill="#9a56b6"/><rect x="381.6" y="258.44" width="9.2" height="2.38" fill="#f2a3b3"/><rect x="381.6" y="257.85" width="9.2" height="0.6" fill="#6d1d0b"/><rect x="381.6" y="247.12" width="9.2" height="10.73" fill="#e13c2a"/><rect x="381.6" y="245.33" width="9.2" height="1.79" fill="#82c184"/><rect x="381.6" y="205.4" width="9.2" height="39.93" fill="#3b70c2"/><rect x="381.6" y="260.53" width="9.2" height="0.6" fill="#fff" opacity="0.8"/><rect x="381.6" y="258.14" width="9.2" height="0.6" fill="#fff" opacity="0.8"/><rect x="381.6" y="257.55" width="9.2" height="0.6" fill="#fff" opacity="0.8"/><rect x="381.6" y="246.82" width="9.2" height="0.6" fill="#fff" opacity="0.8"/><rect x="381.6" y="245.03" width="9.2" height="0.6" fill="#fff" opacity="0.8"/>
<rect x="391.9" y="261.42" width="9.2" height="3.58" fill="#9a56b6"/><rect x="391.9" y="259.04" width="9.2" height="2.38" fill="#f2a3b3"/><rect x="391.9" y="258.44" width="9.2" height="0.6" fill="#6d1d0b"/><rect x="391.9" y="247.12" width="9.2" height="11.32" fill="#e13c2a"/><rect x="391.9" y="245.33" width="9.2" height="1.79" fill="#82c184"/><rect x="391.9" y="205.4" width="9.2" height="39.93" fill="#3b70c2"/><rect x="391.9" y="261.12" width="9.2" height="0.6" fill="#fff" opacity="0.8"/><rect x="391.9" y="258.74" width="9.2" height="0.6" fill="#fff" opacity="0.8"/><rect x="391.9" y="258.14" width="9.2" height="0.6" fill="#fff" opacity="0.8"/><rect x="391.9" y="246.82" width="9.2" height="0.6" fill="#fff" opacity="0.8"/><rect x="391.9" y="245.03" width="9.2" height="0.6" fill="#fff" opacity="0.8"/>
<rect x="402.2" y="254.27" width="9.2" height="10.73" fill="#9a56b6"/><rect x="402.2" y="248.91" width="9.2" height="5.36" fill="#f2a3b3"/><rect x="402.2" y="244.14" width="9.2" height="4.77" fill="#6d1d0b"/><rect x="402.2" y="239.37" width="9.2" height="4.77" fill="#e13c2a"/><rect x="402.2" y="235.8" width="9.2" height="3.58" fill="#82c184"/><rect x="402.2" y="205.4" width="9.2" height="30.4" fill="#3b70c2"/><rect x="402.2" y="253.97" width="9.2" height="0.6" fill="#fff" opacity="0.8"/><rect x="402.2" y="248.61" width="9.2" height="0.6" fill="#fff" opacity="0.8"/><rect x="402.2" y="243.84" width="9.2" height="0.6" fill="#fff" opacity="0.8"/><rect x="402.2" y="239.07" width="9.2" height="0.6" fill="#fff" opacity="0.8"/><rect x="402.2" y="235.5" width="9.2" height="0.6" fill="#fff" opacity="0.8"/>
<rect x="412.5" y="238.78" width="9.2" height="26.22" fill="#9a56b6"/><rect x="412.5" y="234.01" width="9.2" height="4.77" fill="#f2a3b3"/><rect x="412.5" y="218.51" width="9.2" height="15.5" fill="#6d1d0b"/><rect x="412.5" y="208.38" width="9.2" height="10.13" fill="#82c184"/><rect x="412.5" y="205.4" width="9.2" height="2.98" fill="#3b70c2"/><rect x="412.5" y="238.48" width="9.2" height="0.6" fill="#fff" opacity="0.8"/><rect x="412.5" y="233.71" width="9.2" height="0.6" fill="#fff" opacity="0.8"/><rect x="412.5" y="218.21" width="9.2" height="0.6" fill="#fff" opacity="0.8"/><rect x="412.5" y="208.08" width="9.2" height="0.6" fill="#fff" opacity="0.8"/>
<rect x="422.8" y="251.89" width="9.2" height="13.11" fill="#9a56b6"/><rect x="422.8" y="248.31" width="9.2" height="3.58" fill="#f2a3b3"/><rect x="422.8" y="218.51" width="9.2" height="29.8" fill="#6d1d0b"/><rect x="422.8" y="205.4" width="9.2" height="13.11" fill="#82c184"/><rect x="422.8" y="251.59" width="9.2" height="0.6" fill="#fff" opacity="0.8"/><rect x="422.8" y="248.01" width="9.2" height="0.6" fill="#fff" opacity="0.8"/><rect x="422.8" y="218.21" width="9.2" height="0.6" fill="#fff" opacity="0.8"/>
<line x1="376.3" y1="205.4" x2="376.3" y2="265" stroke="#111" stroke-width="1.4"/>
<line x1="373.8" y1="205.4" x2="376.3" y2="205.4" stroke="#111" stroke-width="1"/>
<text x="371.3" y="207.7" font-size="6.4" text-anchor="end" fill="#333" stroke="#333" stroke-width="0.12">1.00</text>
<line x1="373.8" y1="220.3" x2="376.3" y2="220.3" stroke="#111" stroke-width="1"/>
<text x="371.3" y="222.6" font-size="6.4" text-anchor="end" fill="#333" stroke="#333" stroke-width="0.12">0.75</text>
<line x1="373.8" y1="235.2" x2="376.3" y2="235.2" stroke="#111" stroke-width="1"/>
<text x="371.3" y="237.5" font-size="6.4" text-anchor="end" fill="#333" stroke="#333" stroke-width="0.12">0.50</text>
<line x1="373.8" y1="250.1" x2="376.3" y2="250.1" stroke="#111" stroke-width="1"/>
<text x="371.3" y="252.4" font-size="6.4" text-anchor="end" fill="#333" stroke="#333" stroke-width="0.12">0.25</text>
<line x1="373.8" y1="265" x2="376.3" y2="265" stroke="#111" stroke-width="1"/>
<text x="371.3" y="267.3" font-size="6.4" text-anchor="end" fill="#333" stroke="#333" stroke-width="0.12">0.00</text>
<line x1="376.3" y1="265" x2="432.8" y2="265" stroke="#111" stroke-width="1.4"/>
<line x1="386.2" y1="265" x2="386.2" y2="267.5" stroke="#111" stroke-width="1"/>
<text x="389.2" y="273.3" font-size="6.2" text-anchor="end" fill="#333" stroke="#333" stroke-width="0.12" transform="rotate(-45 389.2 273.3)">0</text>
<line x1="396.5" y1="265" x2="396.5" y2="267.5" stroke="#111" stroke-width="1"/>
<text x="399.5" y="273.3" font-size="6.2" text-anchor="end" fill="#333" stroke="#333" stroke-width="0.12" transform="rotate(-45 399.5 273.3)">0.0625</text>
<line x1="406.8" y1="265" x2="406.8" y2="267.5" stroke="#111" stroke-width="1"/>
<text x="409.8" y="273.3" font-size="6.2" text-anchor="end" fill="#333" stroke="#333" stroke-width="0.12" transform="rotate(-45 409.8 273.3)">0.25</text>
<line x1="417.1" y1="265" x2="417.1" y2="267.5" stroke="#111" stroke-width="1"/>
<text x="420.1" y="273.3" font-size="6.2" text-anchor="end" fill="#333" stroke="#333" stroke-width="0.12" transform="rotate(-45 420.1 273.3)">1</text>
<line x1="427.4" y1="265" x2="427.4" y2="267.5" stroke="#111" stroke-width="1"/>
<text x="430.4" y="273.3" font-size="6.2" text-anchor="end" fill="#333" stroke="#333" stroke-width="0.12" transform="rotate(-45 430.4 273.3)">4</text>
<text x="404.5" y="202.6" font-size="6.6" text-anchor="middle" fill="#222" stroke="#222" stroke-width="0.12" textLength="29" lengthAdjust="spacingAndGlyphs">Frequency</text>
<rect x="463.6" y="263.47" width="8.8" height="1.53" fill="#9a56b6"/><rect x="463.6" y="260.92" width="8.8" height="2.55" fill="#f2a3b3"/><rect x="463.6" y="260.31" width="8.8" height="0.61" fill="#6d1d0b"/><rect x="463.6" y="252.76" width="8.8" height="7.55" fill="#e13c2a"/><rect x="463.6" y="252.15" width="8.8" height="0.61" fill="#82c184"/><rect x="463.6" y="227.77" width="8.8" height="24.38" fill="#3b70c2"/><rect x="463.6" y="263.17" width="8.8" height="0.6" fill="#fff" opacity="0.8"/><rect x="463.6" y="260.62" width="8.8" height="0.6" fill="#fff" opacity="0.8"/><rect x="463.6" y="260.01" width="8.8" height="0.6" fill="#fff" opacity="0.8"/><rect x="463.6" y="252.46" width="8.8" height="0.6" fill="#fff" opacity="0.8"/><rect x="463.6" y="251.85" width="8.8" height="0.6" fill="#fff" opacity="0.8"/>
<rect x="473.9" y="262.45" width="8.8" height="2.55" fill="#9a56b6"/><rect x="473.9" y="259.9" width="8.8" height="2.55" fill="#f2a3b3"/><rect x="473.9" y="258.37" width="8.8" height="1.53" fill="#6d1d0b"/><rect x="473.9" y="247.15" width="8.8" height="11.22" fill="#e13c2a"/><rect x="473.9" y="246.33" width="8.8" height="0.82" fill="#82c184"/><rect x="473.9" y="207.37" width="8.8" height="38.96" fill="#3b70c2"/><rect x="473.9" y="262.15" width="8.8" height="0.6" fill="#fff" opacity="0.8"/><rect x="473.9" y="259.6" width="8.8" height="0.6" fill="#fff" opacity="0.8"/><rect x="473.9" y="258.07" width="8.8" height="0.6" fill="#fff" opacity="0.8"/><rect x="473.9" y="246.85" width="8.8" height="0.6" fill="#fff" opacity="0.8"/><rect x="473.9" y="246.03" width="8.8" height="0.6" fill="#fff" opacity="0.8"/>
<rect x="484.2" y="261.94" width="8.8" height="3.06" fill="#9a56b6"/><rect x="484.2" y="259.9" width="8.8" height="2.04" fill="#f2a3b3"/><rect x="484.2" y="257.35" width="8.8" height="2.55" fill="#6d1d0b"/><rect x="484.2" y="254.8" width="8.8" height="2.55" fill="#e13c2a"/><rect x="484.2" y="253.98" width="8.8" height="0.82" fill="#82c184"/><rect x="484.2" y="247.15" width="8.8" height="6.83" fill="#3b70c2"/><rect x="484.2" y="261.64" width="8.8" height="0.6" fill="#fff" opacity="0.8"/><rect x="484.2" y="259.6" width="8.8" height="0.6" fill="#fff" opacity="0.8"/><rect x="484.2" y="257.05" width="8.8" height="0.6" fill="#fff" opacity="0.8"/><rect x="484.2" y="254.5" width="8.8" height="0.6" fill="#fff" opacity="0.8"/><rect x="484.2" y="253.68" width="8.8" height="0.6" fill="#fff" opacity="0.8"/>
<rect x="494.5" y="262.45" width="8.8" height="2.55" fill="#9a56b6"/><rect x="494.5" y="260.92" width="8.8" height="1.53" fill="#f2a3b3"/><rect x="494.5" y="260.41" width="8.8" height="0.51" fill="#6d1d0b"/><rect x="494.5" y="262.15" width="8.8" height="0.6" fill="#fff" opacity="0.8"/><rect x="494.5" y="260.62" width="8.8" height="0.6" fill="#fff" opacity="0.8"/>
<rect x="504.8" y="264.49" width="8.8" height="0.51" fill="#9a56b6"/><rect x="504.8" y="262.96" width="8.8" height="1.53" fill="#6d1d0b"/><rect x="504.8" y="264.19" width="8.8" height="0.6" fill="#fff" opacity="0.8"/>
<line x1="458.7" y1="207" x2="458.7" y2="265" stroke="#111" stroke-width="1.4"/>
<line x1="456.2" y1="214" x2="458.7" y2="214" stroke="#111" stroke-width="1"/>
<text x="453.7" y="216.3" font-size="6.4" text-anchor="end" fill="#333" stroke="#333" stroke-width="0.12">5000</text>
<line x1="456.2" y1="224.2" x2="458.7" y2="224.2" stroke="#111" stroke-width="1"/>
<text x="453.7" y="226.5" font-size="6.4" text-anchor="end" fill="#333" stroke="#333" stroke-width="0.12">4000</text>
<line x1="456.2" y1="234.4" x2="458.7" y2="234.4" stroke="#111" stroke-width="1"/>
<text x="453.7" y="236.7" font-size="6.4" text-anchor="end" fill="#333" stroke="#333" stroke-width="0.12">3000</text>
<line x1="456.2" y1="244.6" x2="458.7" y2="244.6" stroke="#111" stroke-width="1"/>
<text x="453.7" y="246.9" font-size="6.4" text-anchor="end" fill="#333" stroke="#333" stroke-width="0.12">2000</text>
<line x1="456.2" y1="254.8" x2="458.7" y2="254.8" stroke="#111" stroke-width="1"/>
<text x="453.7" y="257.1" font-size="6.4" text-anchor="end" fill="#333" stroke="#333" stroke-width="0.12">1000</text>
<line x1="456.2" y1="265" x2="458.7" y2="265" stroke="#111" stroke-width="1"/>
<text x="453.7" y="267.3" font-size="6.4" text-anchor="end" fill="#333" stroke="#333" stroke-width="0.12">0</text>
<line x1="458.7" y1="265" x2="514" y2="265" stroke="#111" stroke-width="1.4"/>
<line x1="468" y1="265" x2="468" y2="267.5" stroke="#111" stroke-width="1"/>
<text x="471" y="273.3" font-size="6.2" text-anchor="end" fill="#333" stroke="#333" stroke-width="0.12" transform="rotate(-45 471 273.3)">0</text>
<line x1="478.3" y1="265" x2="478.3" y2="267.5" stroke="#111" stroke-width="1"/>
<text x="481.3" y="273.3" font-size="6.2" text-anchor="end" fill="#333" stroke="#333" stroke-width="0.12" transform="rotate(-45 481.3 273.3)">0.0625</text>
<line x1="488.6" y1="265" x2="488.6" y2="267.5" stroke="#111" stroke-width="1"/>
<text x="491.6" y="273.3" font-size="6.2" text-anchor="end" fill="#333" stroke="#333" stroke-width="0.12" transform="rotate(-45 491.6 273.3)">0.25</text>
<line x1="498.9" y1="265" x2="498.9" y2="267.5" stroke="#111" stroke-width="1"/>
<text x="501.9" y="273.3" font-size="6.2" text-anchor="end" fill="#333" stroke="#333" stroke-width="0.12" transform="rotate(-45 501.9 273.3)">1</text>
<line x1="509.2" y1="265" x2="509.2" y2="267.5" stroke="#111" stroke-width="1"/>
<text x="512.2" y="273.3" font-size="6.2" text-anchor="end" fill="#333" stroke="#333" stroke-width="0.12" transform="rotate(-45 512.2 273.3)">4</text>
<text x="485.5" y="203.4" font-size="6.6" text-anchor="middle" fill="#222" stroke="#222" stroke-width="0.12" textLength="19" lengthAdjust="spacingAndGlyphs">Counts</text>
<text x="368.5" y="193.8" font-size="12.5" text-anchor="start" fill="#000" font-weight="bold">C</text>
<text x="446.5" y="193.8" font-size="12.5" text-anchor="start" fill="#000" font-weight="bold">D</text>
<text x="444.5" y="295.8" font-size="9" text-anchor="middle" fill="#222" font-weight="bold" textLength="46" lengthAdjust="spacingAndGlyphs">Romidepsin (nM)</text>
<rect x="381.6" y="378.89" width="9.2" height="4.11" fill="#9a56b6"/><rect x="381.6" y="376.54" width="9.2" height="2.35" fill="#f2a3b3"/><rect x="381.6" y="375.96" width="9.2" height="0.59" fill="#6d1d0b"/><rect x="381.6" y="365.39" width="9.2" height="10.57" fill="#e13c2a"/><rect x="381.6" y="363.63" width="9.2" height="1.76" fill="#82c184"/><rect x="381.6" y="324.3" width="9.2" height="39.33" fill="#3b70c2"/><rect x="381.6" y="378.59" width="9.2" height="0.6" fill="#fff" opacity="0.8"/><rect x="381.6" y="376.24" width="9.2" height="0.6" fill="#fff" opacity="0.8"/><rect x="381.6" y="375.66" width="9.2" height="0.6" fill="#fff" opacity="0.8"/><rect x="381.6" y="365.09" width="9.2" height="0.6" fill="#fff" opacity="0.8"/><rect x="381.6" y="363.33" width="9.2" height="0.6" fill="#fff" opacity="0.8"/>
<rect x="391.9" y="378.89" width="9.2" height="4.11" fill="#9a56b6"/><rect x="391.9" y="376.54" width="9.2" height="2.35" fill="#f2a3b3"/><rect x="391.9" y="375.96" width="9.2" height="0.59" fill="#6d1d0b"/><rect x="391.9" y="365.39" width="9.2" height="10.57" fill="#e13c2a"/><rect x="391.9" y="363.63" width="9.2" height="1.76" fill="#82c184"/><rect x="391.9" y="324.3" width="9.2" height="39.33" fill="#3b70c2"/><rect x="391.9" y="378.59" width="9.2" height="0.6" fill="#fff" opacity="0.8"/><rect x="391.9" y="376.24" width="9.2" height="0.6" fill="#fff" opacity="0.8"/><rect x="391.9" y="375.66" width="9.2" height="0.6" fill="#fff" opacity="0.8"/><rect x="391.9" y="365.09" width="9.2" height="0.6" fill="#fff" opacity="0.8"/><rect x="391.9" y="363.33" width="9.2" height="0.6" fill="#fff" opacity="0.8"/>
<rect x="402.2" y="378.3" width="9.2" height="4.7" fill="#dde4f4"/><rect x="402.2" y="373.02" width="9.2" height="5.28" fill="#9a56b6"/><rect x="402.2" y="371.85" width="9.2" height="1.17" fill="#f2a3b3"/><rect x="402.2" y="370.67" width="9.2" height="1.17" fill="#6d1d0b"/><rect x="402.2" y="360.69" width="9.2" height="9.98" fill="#e13c2a"/><rect x="402.2" y="359.52" width="9.2" height="1.17" fill="#82c184"/><rect x="402.2" y="324.3" width="9.2" height="35.22" fill="#3b70c2"/><rect x="402.2" y="378" width="9.2" height="0.6" fill="#fff" opacity="0.8"/><rect x="402.2" y="372.72" width="9.2" height="0.6" fill="#fff" opacity="0.8"/><rect x="402.2" y="371.55" width="9.2" height="0.6" fill="#fff" opacity="0.8"/><rect x="402.2" y="370.37" width="9.2" height="0.6" fill="#fff" opacity="0.8"/><rect x="402.2" y="360.39" width="9.2" height="0.6" fill="#fff" opacity="0.8"/><rect x="402.2" y="359.22" width="9.2" height="0.6" fill="#fff" opacity="0.8"/>
<rect x="412.5" y="360.69" width="9.2" height="22.31" fill="#9a56b6"/><rect x="412.5" y="353.65" width="9.2" height="7.04" fill="#f2a3b3"/><rect x="412.5" y="348.95" width="9.2" height="4.7" fill="#6d1d0b"/><rect x="412.5" y="346.02" width="9.2" height="2.93" fill="#e13c2a"/><rect x="412.5" y="340.74" width="9.2" height="5.28" fill="#82c184"/><rect x="412.5" y="324.3" width="9.2" height="16.44" fill="#3b70c2"/><rect x="412.5" y="360.39" width="9.2" height="0.6" fill="#fff" opacity="0.8"/><rect x="412.5" y="353.35" width="9.2" height="0.6" fill="#fff" opacity="0.8"/><rect x="412.5" y="348.65" width="9.2" height="0.6" fill="#fff" opacity="0.8"/><rect x="412.5" y="345.72" width="9.2" height="0.6" fill="#fff" opacity="0.8"/><rect x="412.5" y="340.44" width="9.2" height="0.6" fill="#fff" opacity="0.8"/>
<rect x="422.8" y="375.96" width="9.2" height="7.04" fill="#9a56b6"/><rect x="422.8" y="338.98" width="9.2" height="36.98" fill="#6d1d0b"/><rect x="422.8" y="327.24" width="9.2" height="11.74" fill="#82c184"/><rect x="422.8" y="324.3" width="9.2" height="2.93" fill="#3b70c2"/><rect x="422.8" y="375.66" width="9.2" height="0.6" fill="#fff" opacity="0.8"/><rect x="422.8" y="338.68" width="9.2" height="0.6" fill="#fff" opacity="0.8"/><rect x="422.8" y="326.94" width="9.2" height="0.6" fill="#fff" opacity="0.8"/>
<line x1="376.3" y1="324.3" x2="376.3" y2="383" stroke="#111" stroke-width="1.4"/>
<line x1="373.8" y1="324.3" x2="376.3" y2="324.3" stroke="#111" stroke-width="1"/>
<text x="371.3" y="326.6" font-size="6.4" text-anchor="end" fill="#333" stroke="#333" stroke-width="0.12">1.00</text>
<line x1="373.8" y1="338.98" x2="376.3" y2="338.98" stroke="#111" stroke-width="1"/>
<text x="371.3" y="341.28" font-size="6.4" text-anchor="end" fill="#333" stroke="#333" stroke-width="0.12">0.75</text>
<line x1="373.8" y1="353.65" x2="376.3" y2="353.65" stroke="#111" stroke-width="1"/>
<text x="371.3" y="355.95" font-size="6.4" text-anchor="end" fill="#333" stroke="#333" stroke-width="0.12">0.50</text>
<line x1="373.8" y1="368.32" x2="376.3" y2="368.32" stroke="#111" stroke-width="1"/>
<text x="371.3" y="370.62" font-size="6.4" text-anchor="end" fill="#333" stroke="#333" stroke-width="0.12">0.25</text>
<line x1="373.8" y1="383" x2="376.3" y2="383" stroke="#111" stroke-width="1"/>
<text x="371.3" y="385.3" font-size="6.4" text-anchor="end" fill="#333" stroke="#333" stroke-width="0.12">0.00</text>
<line x1="376.3" y1="383" x2="432.8" y2="383" stroke="#111" stroke-width="1.4"/>
<line x1="386.2" y1="383" x2="386.2" y2="385.5" stroke="#111" stroke-width="1"/>
<text x="389.2" y="391.3" font-size="6.2" text-anchor="end" fill="#333" stroke="#333" stroke-width="0.12" transform="rotate(-45 389.2 391.3)">0</text>
<line x1="396.5" y1="383" x2="396.5" y2="385.5" stroke="#111" stroke-width="1"/>
<text x="399.5" y="391.3" font-size="6.2" text-anchor="end" fill="#333" stroke="#333" stroke-width="0.12" transform="rotate(-45 399.5 391.3)">0.0625</text>
<line x1="406.8" y1="383" x2="406.8" y2="385.5" stroke="#111" stroke-width="1"/>
<text x="409.8" y="391.3" font-size="6.2" text-anchor="end" fill="#333" stroke="#333" stroke-width="0.12" transform="rotate(-45 409.8 391.3)">0.25</text>
<line x1="417.1" y1="383" x2="417.1" y2="385.5" stroke="#111" stroke-width="1"/>
<text x="420.1" y="391.3" font-size="6.2" text-anchor="end" fill="#333" stroke="#333" stroke-width="0.12" transform="rotate(-45 420.1 391.3)">1</text>
<line x1="427.4" y1="383" x2="427.4" y2="385.5" stroke="#111" stroke-width="1"/>
<text x="430.4" y="391.3" font-size="6.2" text-anchor="end" fill="#333" stroke="#333" stroke-width="0.12" transform="rotate(-45 430.4 391.3)">4</text>
<text x="404.5" y="321.5" font-size="6.6" text-anchor="middle" fill="#222" stroke="#222" stroke-width="0.12" textLength="29" lengthAdjust="spacingAndGlyphs">Frequency</text>
<rect x="463.6" y="380.51" width="8.8" height="2.49" fill="#9a56b6"/><rect x="463.6" y="379.52" width="8.8" height="0.99" fill="#f2a3b3"/><rect x="463.6" y="379.22" width="8.8" height="0.3" fill="#6d1d0b"/><rect x="463.6" y="372.25" width="8.8" height="6.96" fill="#e13c2a"/><rect x="463.6" y="371.56" width="8.8" height="0.7" fill="#82c184"/><rect x="463.6" y="347.18" width="8.8" height="24.38" fill="#3b70c2"/><rect x="463.6" y="380.21" width="8.8" height="0.6" fill="#fff" opacity="0.8"/><rect x="463.6" y="379.22" width="8.8" height="0.6" fill="#fff" opacity="0.8"/><rect x="463.6" y="378.92" width="8.8" height="0.6" fill="#fff" opacity="0.8"/><rect x="463.6" y="371.95" width="8.8" height="0.6" fill="#fff" opacity="0.8"/><rect x="463.6" y="371.26" width="8.8" height="0.6" fill="#fff" opacity="0.8"/>
<rect x="473.9" y="379.52" width="8.8" height="3.48" fill="#9a56b6"/><rect x="473.9" y="377.53" width="8.8" height="1.99" fill="#f2a3b3"/><rect x="473.9" y="375.54" width="8.8" height="1.99" fill="#6d1d0b"/><rect x="473.9" y="365.09" width="8.8" height="10.45" fill="#e13c2a"/><rect x="473.9" y="364.09" width="8.8" height="0.99" fill="#82c184"/><rect x="473.9" y="325.29" width="8.8" height="38.8" fill="#3b70c2"/><rect x="473.9" y="379.22" width="8.8" height="0.6" fill="#fff" opacity="0.8"/><rect x="473.9" y="377.23" width="8.8" height="0.6" fill="#fff" opacity="0.8"/><rect x="473.9" y="375.24" width="8.8" height="0.6" fill="#fff" opacity="0.8"/><rect x="473.9" y="364.79" width="8.8" height="0.6" fill="#fff" opacity="0.8"/><rect x="473.9" y="363.79" width="8.8" height="0.6" fill="#fff" opacity="0.8"/>
<rect x="484.2" y="380.01" width="8.8" height="2.98" fill="#dde4f4"/><rect x="484.2" y="375.54" width="8.8" height="4.48" fill="#9a56b6"/><rect x="484.2" y="374.04" width="8.8" height="1.49" fill="#f2a3b3"/><rect x="484.2" y="372.55" width="8.8" height="1.49" fill="#6d1d0b"/><rect x="484.2" y="363.1" width="8.8" height="9.45" fill="#e13c2a"/><rect x="484.2" y="362.3" width="8.8" height="0.8" fill="#82c184"/><rect x="484.2" y="330.26" width="8.8" height="32.04" fill="#3b70c2"/><rect x="484.2" y="379.71" width="8.8" height="0.6" fill="#fff" opacity="0.8"/><rect x="484.2" y="375.24" width="8.8" height="0.6" fill="#fff" opacity="0.8"/><rect x="484.2" y="373.74" width="8.8" height="0.6" fill="#fff" opacity="0.8"/><rect x="484.2" y="372.25" width="8.8" height="0.6" fill="#fff" opacity="0.8"/><rect x="484.2" y="362.8" width="8.8" height="0.6" fill="#fff" opacity="0.8"/><rect x="484.2" y="362" width="8.8" height="0.6" fill="#fff" opacity="0.8"/>
<rect x="494.5" y="380.01" width="8.8" height="2.98" fill="#9a56b6"/><rect x="494.5" y="379.02" width="8.8" height="0.99" fill="#f2a3b3"/><rect x="494.5" y="378.02" width="8.8" height="0.99" fill="#e13c2a"/><rect x="494.5" y="376.03" width="8.8" height="1.99" fill="#3b70c2"/><rect x="494.5" y="379.71" width="8.8" height="0.6" fill="#fff" opacity="0.8"/><rect x="494.5" y="378.72" width="8.8" height="0.6" fill="#fff" opacity="0.8"/><rect x="494.5" y="377.72" width="8.8" height="0.6" fill="#fff" opacity="0.8"/>
<rect x="504.8" y="382.4" width="8.8" height="0.6" fill="#6d1d0b"/>
<line x1="458.7" y1="325" x2="458.7" y2="383" stroke="#111" stroke-width="1.4"/>
<line x1="456.2" y1="333.25" x2="458.7" y2="333.25" stroke="#111" stroke-width="1"/>
<text x="453.7" y="335.55" font-size="6.4" text-anchor="end" fill="#333" stroke="#333" stroke-width="0.12">5000</text>
<line x1="456.2" y1="343.2" x2="458.7" y2="343.2" stroke="#111" stroke-width="1"/>
<text x="453.7" y="345.5" font-size="6.4" text-anchor="end" fill="#333" stroke="#333" stroke-width="0.12">4000</text>
<line x1="456.2" y1="353.15" x2="458.7" y2="353.15" stroke="#111" stroke-width="1"/>
<text x="453.7" y="355.45" font-size="6.4" text-anchor="end" fill="#333" stroke="#333" stroke-width="0.12">3000</text>
<line x1="456.2" y1="363.1" x2="458.7" y2="363.1" stroke="#111" stroke-width="1"/>
<text x="453.7" y="365.4" font-size="6.4" text-anchor="end" fill="#333" stroke="#333" stroke-width="0.12">2000</text>
<line x1="456.2" y1="373.05" x2="458.7" y2="373.05" stroke="#111" stroke-width="1"/>
<text x="453.7" y="375.35" font-size="6.4" text-anchor="end" fill="#333" stroke="#333" stroke-width="0.12">1000</text>
<line x1="456.2" y1="383" x2="458.7" y2="383" stroke="#111" stroke-width="1"/>
<text x="453.7" y="385.3" font-size="6.4" text-anchor="end" fill="#333" stroke="#333" stroke-width="0.12">0</text>
<line x1="458.7" y1="383" x2="514" y2="383" stroke="#111" stroke-width="1.4"/>
<line x1="468" y1="383" x2="468" y2="385.5" stroke="#111" stroke-width="1"/>
<text x="471" y="391.3" font-size="6.2" text-anchor="end" fill="#333" stroke="#333" stroke-width="0.12" transform="rotate(-45 471 391.3)">0</text>
<line x1="478.3" y1="383" x2="478.3" y2="385.5" stroke="#111" stroke-width="1"/>
<text x="481.3" y="391.3" font-size="6.2" text-anchor="end" fill="#333" stroke="#333" stroke-width="0.12" transform="rotate(-45 481.3 391.3)">0.0625</text>
<line x1="488.6" y1="383" x2="488.6" y2="385.5" stroke="#111" stroke-width="1"/>
<text x="491.6" y="391.3" font-size="6.2" text-anchor="end" fill="#333" stroke="#333" stroke-width="0.12" transform="rotate(-45 491.6 391.3)">0.25</text>
<line x1="498.9" y1="383" x2="498.9" y2="385.5" stroke="#111" stroke-width="1"/>
<text x="501.9" y="391.3" font-size="6.2" text-anchor="end" fill="#333" stroke="#333" stroke-width="0.12" transform="rotate(-45 501.9 391.3)">1</text>
<line x1="509.2" y1="383" x2="509.2" y2="385.5" stroke="#111" stroke-width="1"/>
<text x="512.2" y="391.3" font-size="6.2" text-anchor="end" fill="#333" stroke="#333" stroke-width="0.12" transform="rotate(-45 512.2 391.3)">4</text>
<text x="485.5" y="322.3" font-size="6.6" text-anchor="middle" fill="#222" stroke="#222" stroke-width="0.12" textLength="19" lengthAdjust="spacingAndGlyphs">Counts</text>
<text x="368.5" y="315.8" font-size="12.5" text-anchor="start" fill="#000" font-weight="bold">F</text>
<text x="446.5" y="315.8" font-size="12.5" text-anchor="start" fill="#000" font-weight="bold">G</text>
<text x="444.5" y="413.8" font-size="9" text-anchor="middle" fill="#222" font-weight="bold" textLength="34" lengthAdjust="spacingAndGlyphs">SAHA (μM)</text>
<text x="6.2" y="428.8" font-size="12.5" text-anchor="start" fill="#000" font-weight="bold">H</text>
<text x="256" y="427.5" font-size="8.4" text-anchor="middle" fill="#222" stroke="#222" stroke-width="0.12">Romidepsin (nM)</text>
<rect x="12.2" y="456" width="3.8" height="52.8" fill="#5b86c0"/><rect x="12.2" y="510.4" width="3.8" height="1.8" fill="#86c38a"/><rect x="12.2" y="514" width="3.8" height="13.6" fill="#e0574a"/><rect x="12.2" y="528.8" width="3.8" height="1.3" fill="#6a2a16"/><rect x="12.2" y="531.4" width="3.8" height="3" fill="#f2b0b4"/><rect x="12.2" y="535.8" width="3.8" height="5.8" fill="#9a64b0"/><path fill="#2929e9" d="M19.9 514h6.1v1.56h-6.1zM19.9 523.07h6.1v1.56h-6.1z"/><path fill="#3433ea" d="M19.9 510.4h6.1v1.85h-6.1zM19.9 520.04h6.1v1.56h-6.1z"/><path fill="#3e3eeb" d="M19.9 515.51h6.1v1.56h-6.1zM19.9 524.58h6.1v1.56h-6.1zM19.9 526.09h6.1v1.56h-6.1z"/><path fill="#5453ec" d="M19.9 518.53h6.1v1.56h-6.1zM19.9 521.56h6.1v1.56h-6.1z"/><path fill="#5e5ded" d="M44.1 459.2h6.1v1.65h-6.1zM19.9 517.02h6.1v1.56h-6.1zM19.9 531.4h6.1v1.55h-6.1z"/><path fill="#6967ee" d="M44.1 483.2h6.1v1.65h-6.1zM44.1 488h6.1v1.65h-6.1z"/><path fill="#7472ef" d="M44.1 475.2h6.1v1.65h-6.1zM44.1 505.6h6.1v1.65h-6.1zM19.9 532.9h6.1v1.55h-6.1zM50.15 538.7h6.1v1.5h-6.1z"/><path fill="#7e7cef" d="M44.1 492.8h6.1v1.65h-6.1zM44.1 500.8h6.1v1.65h-6.1z"/><path fill="#8986f0" d="M44.1 464h6.1v1.65h-6.1zM44.1 467.2h6.1v1.65h-6.1zM44.1 468.8h6.1v1.65h-6.1zM44.1 472h6.1v1.65h-6.1zM44.1 499.2h6.1v1.65h-6.1zM44.1 504h6.1v1.65h-6.1zM68.3 505.6h6.1v1.65h-6.1zM44.1 507.2h6.1v1.65h-6.1zM50.15 540.15h6.1v1.5h-6.1z"/><path fill="#9391f1" d="M44.1 456h6.1v1.65h-6.1zM44.1 457.6h6.1v1.65h-6.1zM44.1 465.6h6.1v1.65h-6.1zM44.1 470.4h6.1v1.65h-6.1zM44.1 473.6h6.1v1.65h-6.1zM44.1 491.2h6.1v1.65h-6.1zM44.1 494.4h6.1v1.65h-6.1zM62.25 505.6h6.1v1.65h-6.1zM44.1 524.58h6.1v1.56h-6.1z"/><path fill="#9d9bf2" d="M44.1 460.8h6.1v1.65h-6.1zM74.35 462.4h6.1v1.65h-6.1zM44.1 476.8h6.1v1.65h-6.1zM68.3 481.6h6.1v1.65h-6.1zM44.1 484.8h6.1v1.65h-6.1zM74.35 484.8h6.1v1.65h-6.1zM44.1 486.4h6.1v1.65h-6.1zM62.25 486.4h6.1v1.65h-6.1zM62.25 491.2h6.1v1.65h-6.1zM68.3 491.2h6.1v1.65h-6.1zM68.3 494.4h6.1v1.65h-6.1zM44.1 496h6.1v1.65h-6.1zM74.35 497.6h6.1v1.65h-6.1zM44.1 502.4h6.1v1.65h-6.1zM74.35 504h6.1v1.65h-6.1zM44.1 510.4h6.1v1.85h-6.1zM68.3 510.4h6.1v1.85h-6.1zM44.1 518.53h6.1v1.56h-6.1zM68.3 523.07h6.1v1.56h-6.1zM50.15 535.8h6.1v1.5h-6.1zM50.15 537.25h6.1v1.5h-6.1zM32 538.7h6.1v1.5h-6.1zM62.25 540.15h6.1v1.5h-6.1z"/><path fill="#a8a5f3" d="M62.25 457.6h6.1v1.65h-6.1zM68.3 457.6h6.1v1.65h-6.1zM74.35 459.2h6.1v1.65h-6.1zM68.3 460.8h6.1v1.65h-6.1zM74.35 465.6h6.1v1.65h-6.1zM74.35 468.8h6.1v1.65h-6.1zM62.25 470.4h6.1v1.65h-6.1zM68.3 476.8h6.1v1.65h-6.1zM68.3 478.4h6.1v1.65h-6.1zM74.35 481.6h6.1v1.65h-6.1zM68.3 488h6.1v1.65h-6.1zM74.35 489.6h6.1v1.65h-6.1zM62.25 492.8h6.1v1.65h-6.1zM68.3 500.8h6.1v1.65h-6.1zM74.35 505.6h6.1v1.65h-6.1zM74.35 507.2h6.1v1.65h-6.1zM62.25 510.4h6.1v1.85h-6.1zM44.1 515.51h6.1v1.56h-6.1zM68.3 515.51h6.1v1.56h-6.1zM62.25 518.53h6.1v1.56h-6.1zM44.1 521.56h6.1v1.56h-6.1zM44.1 528.8h6.1v1.35h-6.1zM32 537.25h6.1v1.5h-6.1z"/><path fill="#b2aff3" d="M68.3 456h6.1v1.65h-6.1zM44.1 462.4h6.1v1.65h-6.1zM68.3 464h6.1v1.65h-6.1zM68.3 465.6h6.1v1.65h-6.1zM68.3 468.8h6.1v1.65h-6.1zM68.3 472h6.1v1.65h-6.1zM44.1 481.6h6.1v1.65h-6.1zM68.3 483.2h6.1v1.65h-6.1zM44.1 489.6h6.1v1.65h-6.1zM74.35 492.8h6.1v1.65h-6.1zM68.3 497.6h6.1v1.65h-6.1zM62.25 500.8h6.1v1.65h-6.1zM68.3 502.4h6.1v1.65h-6.1zM68.3 504h6.1v1.65h-6.1zM68.3 507.2h6.1v1.65h-6.1zM44.1 514h6.1v1.56h-6.1zM74.35 514h6.1v1.56h-6.1zM68.3 517.02h6.1v1.56h-6.1zM50.15 518.53h6.1v1.56h-6.1zM62.25 520.04h6.1v1.56h-6.1zM74.35 520.04h6.1v1.56h-6.1zM32 523.07h6.1v1.56h-6.1zM50.15 523.07h6.1v1.56h-6.1zM32 524.58h6.1v1.56h-6.1zM68.3 524.58h6.1v1.56h-6.1zM68.3 526.09h6.1v1.56h-6.1zM62.25 537.25h6.1v1.5h-6.1zM32 540.15h6.1v1.5h-6.1zM56.2 540.15h6.1v1.5h-6.1zM74.35 540.15h6.1v1.5h-6.1z"/><path fill="#bcb9f4" d="M74.35 456h6.1v1.65h-6.1zM68.3 459.2h6.1v1.65h-6.1zM62.25 460.8h6.1v1.65h-6.1zM62.25 462.4h6.1v1.65h-6.1zM62.25 464h6.1v1.65h-6.1zM68.3 467.2h6.1v1.65h-6.1zM62.25 468.8h6.1v1.65h-6.1zM62.25 472h6.1v1.65h-6.1zM68.3 473.6h6.1v1.65h-6.1zM62.25 475.2h6.1v1.65h-6.1zM44.1 478.4h6.1v1.65h-6.1zM62.25 478.4h6.1v1.65h-6.1zM74.35 478.4h6.1v1.65h-6.1zM62.25 480h6.1v1.65h-6.1zM68.3 480h6.1v1.65h-6.1zM32 481.6h6.1v1.65h-6.1zM68.3 486.4h6.1v1.65h-6.1zM62.25 488h6.1v1.65h-6.1zM62.25 489.6h6.1v1.65h-6.1zM68.3 489.6h6.1v1.65h-6.1zM68.3 492.8h6.1v1.65h-6.1zM68.3 496h6.1v1.65h-6.1zM44.1 497.6h6.1v1.65h-6.1zM62.25 497.6h6.1v1.65h-6.1zM68.3 499.2h6.1v1.65h-6.1zM74.35 500.8h6.1v1.65h-6.1zM62.25 502.4h6.1v1.65h-6.1zM74.35 502.4h6.1v1.65h-6.1zM32 510.4h6.1v1.85h-6.1zM68.3 518.53h6.1v1.56h-6.1zM32 520.04h6.1v1.56h-6.1zM44.1 520.04h6.1v1.56h-6.1zM50.15 521.56h6.1v1.56h-6.1zM68.3 521.56h6.1v1.56h-6.1zM74.35 523.07h6.1v1.56h-6.1zM44.1 526.09h6.1v1.56h-6.1zM32 528.8h6.1v1.35h-6.1zM68.3 528.8h6.1v1.35h-6.1zM50.15 531.4h6.1v1.55h-6.1zM68.3 531.4h6.1v1.55h-6.1zM50.15 532.9h6.1v1.55h-6.1zM74.35 535.8h6.1v1.5h-6.1zM74.35 537.25h6.1v1.5h-6.1zM74.35 538.7h6.1v1.5h-6.1z"/><path fill="#c6c3f5" d="M62.25 456h6.1v1.65h-6.1zM74.35 457.6h6.1v1.65h-6.1zM74.35 460.8h6.1v1.65h-6.1zM68.3 462.4h6.1v1.65h-6.1zM74.35 464h6.1v1.65h-6.1zM74.35 467.2h6.1v1.65h-6.1zM68.3 470.4h6.1v1.65h-6.1zM74.35 470.4h6.1v1.65h-6.1zM74.35 472h6.1v1.65h-6.1zM68.3 475.2h6.1v1.65h-6.1zM74.35 475.2h6.1v1.65h-6.1zM74.35 476.8h6.1v1.65h-6.1zM74.35 480h6.1v1.65h-6.1zM74.35 486.4h6.1v1.65h-6.1zM74.35 488h6.1v1.65h-6.1zM74.35 491.2h6.1v1.65h-6.1zM62.25 494.4h6.1v1.65h-6.1zM62.25 496h6.1v1.65h-6.1zM74.35 496h6.1v1.65h-6.1zM74.35 499.2h6.1v1.65h-6.1zM62.25 504h6.1v1.65h-6.1zM32 515.51h6.1v1.56h-6.1zM62.25 515.51h6.1v1.56h-6.1zM44.1 517.02h6.1v1.56h-6.1zM74.35 517.02h6.1v1.56h-6.1zM68.3 520.04h6.1v1.56h-6.1zM32 521.56h6.1v1.56h-6.1zM74.35 521.56h6.1v1.56h-6.1zM44.1 523.07h6.1v1.56h-6.1zM32 531.4h6.1v1.55h-6.1zM32 532.9h6.1v1.55h-6.1zM62.25 532.9h6.1v1.55h-6.1zM32 535.8h6.1v1.5h-6.1zM56.2 535.8h6.1v1.5h-6.1zM56.2 537.25h6.1v1.5h-6.1zM56.2 538.7h6.1v1.5h-6.1zM86.45 540.15h6.1v1.5h-6.1z"/><path fill="#d0ccf6" d="M62.25 473.6h6.1v1.65h-6.1zM92.5 478.4h6.1v1.65h-6.1zM32 480h6.1v1.65h-6.1zM44.1 480h6.1v1.65h-6.1zM62.25 481.6h6.1v1.65h-6.1zM32 483.2h6.1v1.65h-6.1zM74.35 483.2h6.1v1.65h-6.1zM68.3 484.8h6.1v1.65h-6.1zM62.25 499.2h6.1v1.65h-6.1zM92.5 510.4h6.1v1.85h-6.1zM50.15 514h6.1v1.56h-6.1zM62.25 514h6.1v1.56h-6.1zM68.3 514h6.1v1.56h-6.1zM32 517.02h6.1v1.56h-6.1zM62.25 517.02h6.1v1.56h-6.1zM62.25 521.56h6.1v1.56h-6.1zM74.35 524.58h6.1v1.56h-6.1zM32 526.09h6.1v1.56h-6.1zM74.35 526.09h6.1v1.56h-6.1zM62.25 531.4h6.1v1.55h-6.1zM74.35 531.4h6.1v1.55h-6.1zM92.5 531.4h6.1v1.55h-6.1zM68.3 532.9h6.1v1.55h-6.1zM62.25 535.8h6.1v1.5h-6.1zM92.5 537.25h6.1v1.5h-6.1zM62.25 538.7h6.1v1.5h-6.1z"/><path fill="#dad6f7" d="M62.25 459.2h6.1v1.65h-6.1zM92.5 464h6.1v1.65h-6.1zM62.25 465.6h6.1v1.65h-6.1zM32 473.6h6.1v1.65h-6.1zM32 476.8h6.1v1.65h-6.1zM62.25 476.8h6.1v1.65h-6.1zM92.5 476.8h6.1v1.65h-6.1zM92.5 480h6.1v1.65h-6.1zM32 488h6.1v1.65h-6.1zM32 494.4h6.1v1.65h-6.1zM74.35 494.4h6.1v1.65h-6.1zM32 502.4h6.1v1.65h-6.1zM32 514h6.1v1.56h-6.1zM74.35 515.51h6.1v1.56h-6.1zM50.15 517.02h6.1v1.56h-6.1zM86.45 517.02h6.1v1.56h-6.1zM32 518.53h6.1v1.56h-6.1zM74.35 518.53h6.1v1.56h-6.1zM62.25 523.07h6.1v1.56h-6.1zM50.15 524.58h6.1v1.56h-6.1zM62.25 524.58h6.1v1.56h-6.1zM62.25 526.09h6.1v1.56h-6.1zM25.95 528.8h6.1v1.35h-6.1zM50.15 528.8h6.1v1.35h-6.1zM92.5 528.8h6.1v1.35h-6.1zM56.2 531.4h6.1v1.55h-6.1zM56.2 532.9h6.1v1.55h-6.1zM74.35 532.9h6.1v1.55h-6.1zM38.05 535.8h6.1v1.5h-6.1zM86.45 535.8h6.1v1.5h-6.1zM38.05 538.7h6.1v1.5h-6.1zM92.5 540.15h6.1v1.5h-6.1z"/><path fill="#e3dff7" d="M32 456h6.1v1.65h-6.1zM50.15 456h6.1v1.65h-6.1zM32 457.6h6.1v1.65h-6.1zM86.45 459.2h6.1v1.65h-6.1zM62.25 467.2h6.1v1.65h-6.1zM86.45 468.8h6.1v1.65h-6.1zM32 472h6.1v1.65h-6.1zM92.5 472h6.1v1.65h-6.1zM74.35 473.6h6.1v1.65h-6.1zM62.25 483.2h6.1v1.65h-6.1zM32 486.4h6.1v1.65h-6.1zM32 489.6h6.1v1.65h-6.1zM86.45 496h6.1v1.65h-6.1zM92.5 496h6.1v1.65h-6.1zM32 497.6h6.1v1.65h-6.1zM32 499.2h6.1v1.65h-6.1zM50.15 502.4h6.1v1.65h-6.1zM32 505.6h6.1v1.65h-6.1zM86.45 505.6h6.1v1.65h-6.1zM62.25 507.2h6.1v1.65h-6.1zM56.2 514h6.1v1.56h-6.1zM92.5 514h6.1v1.56h-6.1zM50.15 515.51h6.1v1.56h-6.1zM92.5 515.51h6.1v1.56h-6.1zM56.2 518.53h6.1v1.56h-6.1zM50.15 520.04h6.1v1.56h-6.1zM86.45 523.07h6.1v1.56h-6.1zM92.5 524.58h6.1v1.56h-6.1zM56.2 526.09h6.1v1.56h-6.1zM62.25 528.8h6.1v1.35h-6.1zM74.35 528.8h6.1v1.35h-6.1zM86.45 528.8h6.1v1.35h-6.1zM38.05 537.25h6.1v1.5h-6.1z"/><path fill="#f6e6ea" d="M32 459.2h6.1v1.65h-6.1zM32 460.8h6.1v1.65h-6.1zM92.5 460.8h6.1v1.65h-6.1zM32 462.4h6.1v1.65h-6.1zM92.5 462.4h6.1v1.65h-6.1zM32 464h6.1v1.65h-6.1zM86.45 464h6.1v1.65h-6.1zM50.15 467.2h6.1v1.65h-6.1zM86.45 473.6h6.1v1.65h-6.1zM50.15 480h6.1v1.65h-6.1zM86.45 483.2h6.1v1.65h-6.1zM92.5 483.2h6.1v1.65h-6.1zM62.25 484.8h6.1v1.65h-6.1zM92.5 488h6.1v1.65h-6.1zM92.5 489.6h6.1v1.65h-6.1zM32 491.2h6.1v1.65h-6.1zM86.45 492.8h6.1v1.65h-6.1zM92.5 494.4h6.1v1.65h-6.1zM32 496h6.1v1.65h-6.1zM92.5 497.6h6.1v1.65h-6.1zM86.45 499.2h6.1v1.65h-6.1zM32 500.8h6.1v1.65h-6.1zM32 504h6.1v1.65h-6.1zM86.45 507.2h6.1v1.65h-6.1zM56.2 510.4h6.1v1.85h-6.1zM56.2 515.51h6.1v1.56h-6.1zM92.5 520.04h6.1v1.56h-6.1zM86.45 524.58h6.1v1.56h-6.1zM50.15 526.09h6.1v1.56h-6.1zM38.05 528.8h6.1v1.35h-6.1zM86.45 532.9h6.1v1.55h-6.1zM92.5 532.9h6.1v1.55h-6.1zM86.45 537.25h6.1v1.5h-6.1z"/><path fill="#f6dfe1" d="M86.45 457.6h6.1v1.65h-6.1zM50.15 459.2h6.1v1.65h-6.1zM92.5 459.2h6.1v1.65h-6.1zM86.45 462.4h6.1v1.65h-6.1zM50.15 464h6.1v1.65h-6.1zM32 465.6h6.1v1.65h-6.1zM32 470.4h6.1v1.65h-6.1zM92.5 470.4h6.1v1.65h-6.1zM86.45 472h6.1v1.65h-6.1zM92.5 473.6h6.1v1.65h-6.1zM32 475.2h6.1v1.65h-6.1zM92.5 475.2h6.1v1.65h-6.1zM50.15 476.8h6.1v1.65h-6.1zM50.15 478.4h6.1v1.65h-6.1zM86.45 478.4h6.1v1.65h-6.1zM86.45 480h6.1v1.65h-6.1zM50.15 483.2h6.1v1.65h-6.1zM25.95 486.4h6.1v1.65h-6.1zM50.15 486.4h6.1v1.65h-6.1zM92.5 486.4h6.1v1.65h-6.1zM86.45 488h6.1v1.65h-6.1zM25.95 491.2h6.1v1.65h-6.1zM25.95 492.8h6.1v1.65h-6.1zM50.15 494.4h6.1v1.65h-6.1zM86.45 494.4h6.1v1.65h-6.1zM92.5 500.8h6.1v1.65h-6.1zM92.5 502.4h6.1v1.65h-6.1zM92.5 505.6h6.1v1.65h-6.1zM32 507.2h6.1v1.65h-6.1zM74.35 510.4h6.1v1.85h-6.1zM86.45 510.4h6.1v1.85h-6.1zM86.45 515.51h6.1v1.56h-6.1zM56.2 517.02h6.1v1.56h-6.1zM92.5 517.02h6.1v1.56h-6.1zM86.45 518.53h6.1v1.56h-6.1zM56.2 520.04h6.1v1.56h-6.1zM86.45 520.04h6.1v1.56h-6.1zM92.5 521.56h6.1v1.56h-6.1zM92.5 523.07h6.1v1.56h-6.1zM56.2 524.58h6.1v1.56h-6.1zM86.45 526.09h6.1v1.56h-6.1zM56.2 528.8h6.1v1.35h-6.1zM38.05 531.4h6.1v1.55h-6.1zM86.45 531.4h6.1v1.55h-6.1zM86.45 538.7h6.1v1.5h-6.1z"/><path fill="#f5d7d8" d="M92.5 456h6.1v1.65h-6.1zM25.95 457.6h6.1v1.65h-6.1zM50.15 457.6h6.1v1.65h-6.1zM92.5 457.6h6.1v1.65h-6.1zM25.95 459.2h6.1v1.65h-6.1zM50.15 462.4h6.1v1.65h-6.1zM56.2 462.4h6.1v1.65h-6.1zM50.15 465.6h6.1v1.65h-6.1zM86.45 465.6h6.1v1.65h-6.1zM32 467.2h6.1v1.65h-6.1zM86.45 467.2h6.1v1.65h-6.1zM92.5 467.2h6.1v1.65h-6.1zM32 468.8h6.1v1.65h-6.1zM86.45 470.4h6.1v1.65h-6.1zM56.2 472h6.1v1.65h-6.1zM86.45 475.2h6.1v1.65h-6.1zM32 478.4h6.1v1.65h-6.1zM56.2 480h6.1v1.65h-6.1zM86.45 481.6h6.1v1.65h-6.1zM92.5 481.6h6.1v1.65h-6.1zM86.45 484.8h6.1v1.65h-6.1zM92.5 484.8h6.1v1.65h-6.1zM86.45 486.4h6.1v1.65h-6.1zM50.15 488h6.1v1.65h-6.1zM25.95 489.6h6.1v1.65h-6.1zM86.45 489.6h6.1v1.65h-6.1zM32 492.8h6.1v1.65h-6.1zM50.15 496h6.1v1.65h-6.1zM50.15 497.6h6.1v1.65h-6.1zM56.2 497.6h6.1v1.65h-6.1zM86.45 497.6h6.1v1.65h-6.1zM86.45 500.8h6.1v1.65h-6.1zM50.15 504h6.1v1.65h-6.1zM86.45 504h6.1v1.65h-6.1zM56.2 505.6h6.1v1.65h-6.1zM25.95 507.2h6.1v1.65h-6.1zM50.15 507.2h6.1v1.65h-6.1zM92.5 507.2h6.1v1.65h-6.1zM86.45 514h6.1v1.56h-6.1zM80.4 528.8h6.1v1.35h-6.1zM92.5 535.8h6.1v1.5h-6.1zM92.5 538.7h6.1v1.5h-6.1z"/><path fill="#f5cfcf" d="M86.45 456h6.1v1.65h-6.1zM56.2 459.2h6.1v1.65h-6.1zM50.15 460.8h6.1v1.65h-6.1zM92.5 465.6h6.1v1.65h-6.1zM25.95 467.2h6.1v1.65h-6.1zM92.5 468.8h6.1v1.65h-6.1zM50.15 470.4h6.1v1.65h-6.1zM50.15 472h6.1v1.65h-6.1zM50.15 473.6h6.1v1.65h-6.1zM50.15 475.2h6.1v1.65h-6.1zM25.95 483.2h6.1v1.65h-6.1zM50.15 484.8h6.1v1.65h-6.1zM56.2 486.4h6.1v1.65h-6.1zM25.95 488h6.1v1.65h-6.1zM50.15 491.2h6.1v1.65h-6.1zM92.5 492.8h6.1v1.65h-6.1zM92.5 499.2h6.1v1.65h-6.1zM50.15 500.8h6.1v1.65h-6.1zM86.45 502.4h6.1v1.65h-6.1zM92.5 504h6.1v1.65h-6.1zM50.15 505.6h6.1v1.65h-6.1zM50.15 510.4h6.1v1.85h-6.1zM92.5 518.53h6.1v1.56h-6.1zM56.2 521.56h6.1v1.56h-6.1zM92.5 526.09h6.1v1.56h-6.1zM19.9 528.8h6.1v1.35h-6.1zM38.05 532.9h6.1v1.55h-6.1zM38.05 540.15h6.1v1.5h-6.1z"/><path fill="#f5c6c5" d="M25.95 456h6.1v1.65h-6.1zM56.2 460.8h6.1v1.65h-6.1zM25.95 468.8h6.1v1.65h-6.1zM50.15 468.8h6.1v1.65h-6.1zM56.2 468.8h6.1v1.65h-6.1zM25.95 472h6.1v1.65h-6.1zM25.95 476.8h6.1v1.65h-6.1zM25.95 478.4h6.1v1.65h-6.1zM50.15 489.6h6.1v1.65h-6.1zM86.45 491.2h6.1v1.65h-6.1zM92.5 491.2h6.1v1.65h-6.1zM25.95 496h6.1v1.65h-6.1zM50.15 499.2h6.1v1.65h-6.1zM56.2 499.2h6.1v1.65h-6.1zM56.2 500.8h6.1v1.65h-6.1zM56.2 502.4h6.1v1.65h-6.1zM25.95 505.6h6.1v1.65h-6.1zM38.05 520.04h6.1v1.56h-6.1z"/><path fill="#f4bebb" d="M25.95 460.8h6.1v1.65h-6.1zM86.45 460.8h6.1v1.65h-6.1zM25.95 465.6h6.1v1.65h-6.1zM56.2 467.2h6.1v1.65h-6.1zM25.95 470.4h6.1v1.65h-6.1zM25.95 473.6h6.1v1.65h-6.1zM25.95 475.2h6.1v1.65h-6.1zM56.2 475.2h6.1v1.65h-6.1zM86.45 476.8h6.1v1.65h-6.1zM25.95 481.6h6.1v1.65h-6.1zM25.95 484.8h6.1v1.65h-6.1zM32 484.8h6.1v1.65h-6.1zM56.2 484.8h6.1v1.65h-6.1zM56.2 488h6.1v1.65h-6.1zM25.95 502.4h6.1v1.65h-6.1zM25.95 504h6.1v1.65h-6.1zM56.2 504h6.1v1.65h-6.1zM56.2 507.2h6.1v1.65h-6.1zM80.4 510.4h6.1v1.85h-6.1zM38.05 514h6.1v1.56h-6.1zM86.45 521.56h6.1v1.56h-6.1zM56.2 523.07h6.1v1.56h-6.1zM98.55 523.07h6.1v1.56h-6.1zM68.3 538.7h6.1v1.5h-6.1zM19.9 540.15h6.1v1.5h-6.1z"/><path fill="#f4b5b2" d="M56.2 456h6.1v1.65h-6.1zM56.2 457.6h6.1v1.65h-6.1zM38.05 459.2h6.1v1.65h-6.1zM56.2 476.8h6.1v1.65h-6.1zM56.2 478.4h6.1v1.65h-6.1zM50.15 481.6h6.1v1.65h-6.1zM56.2 481.6h6.1v1.65h-6.1zM56.2 483.2h6.1v1.65h-6.1zM56.2 491.2h6.1v1.65h-6.1zM98.55 491.2h6.1v1.65h-6.1zM50.15 492.8h6.1v1.65h-6.1zM56.2 492.8h6.1v1.65h-6.1zM56.2 494.4h6.1v1.65h-6.1zM56.2 496h6.1v1.65h-6.1zM25.95 497.6h6.1v1.65h-6.1zM25.95 500.8h6.1v1.65h-6.1zM38.05 510.4h6.1v1.85h-6.1zM38.05 521.56h6.1v1.56h-6.1zM38.05 526.09h6.1v1.56h-6.1zM98.55 528.8h6.1v1.35h-6.1zM68.3 537.25h6.1v1.5h-6.1z"/><path fill="#f3ada8" d="M25.95 462.4h6.1v1.65h-6.1zM56.2 464h6.1v1.65h-6.1zM56.2 465.6h6.1v1.65h-6.1zM38.05 468.8h6.1v1.65h-6.1zM38.05 470.4h6.1v1.65h-6.1zM56.2 473.6h6.1v1.65h-6.1zM98.55 475.2h6.1v1.65h-6.1zM25.95 480h6.1v1.65h-6.1zM56.2 489.6h6.1v1.65h-6.1zM98.55 492.8h6.1v1.65h-6.1zM25.95 494.4h6.1v1.65h-6.1zM25.95 499.2h6.1v1.65h-6.1zM38.05 507.2h6.1v1.65h-6.1zM80.4 514h6.1v1.56h-6.1zM38.05 515.51h6.1v1.56h-6.1zM38.05 518.53h6.1v1.56h-6.1zM38.05 523.07h6.1v1.56h-6.1zM38.05 524.58h6.1v1.56h-6.1zM19.9 535.8h6.1v1.5h-6.1zM19.9 537.25h6.1v1.5h-6.1zM68.3 540.15h6.1v1.5h-6.1z"/><path fill="#f3a49e" d="M98.55 460.8h6.1v1.65h-6.1zM25.95 464h6.1v1.65h-6.1zM38.05 464h6.1v1.65h-6.1zM98.55 464h6.1v1.65h-6.1zM56.2 470.4h6.1v1.65h-6.1zM38.05 475.2h6.1v1.65h-6.1zM98.55 484.8h6.1v1.65h-6.1zM38.05 488h6.1v1.65h-6.1zM38.05 491.2h6.1v1.65h-6.1zM38.05 499.2h6.1v1.65h-6.1zM38.05 502.4h6.1v1.65h-6.1zM98.55 505.6h6.1v1.65h-6.1zM98.55 521.56h6.1v1.56h-6.1zM25.95 531.4h6.1v1.55h-6.1zM44.1 535.8h6.1v1.5h-6.1zM68.3 535.8h6.1v1.5h-6.1zM19.9 538.7h6.1v1.5h-6.1z"/><path fill="#f39c94" d="M98.55 459.2h6.1v1.65h-6.1zM38.05 465.6h6.1v1.65h-6.1zM38.05 467.2h6.1v1.65h-6.1zM98.55 467.2h6.1v1.65h-6.1zM98.55 470.4h6.1v1.65h-6.1zM38.05 478.4h6.1v1.65h-6.1zM98.55 480h6.1v1.65h-6.1zM38.05 481.6h6.1v1.65h-6.1zM98.55 481.6h6.1v1.65h-6.1zM38.05 484.8h6.1v1.65h-6.1zM38.05 486.4h6.1v1.65h-6.1zM98.55 488h6.1v1.65h-6.1zM38.05 489.6h6.1v1.65h-6.1zM38.05 492.8h6.1v1.65h-6.1zM38.05 494.4h6.1v1.65h-6.1zM98.55 494.4h6.1v1.65h-6.1zM38.05 496h6.1v1.65h-6.1zM98.55 496h6.1v1.65h-6.1zM98.55 497.6h6.1v1.65h-6.1zM98.55 499.2h6.1v1.65h-6.1zM38.05 500.8h6.1v1.65h-6.1zM98.55 500.8h6.1v1.65h-6.1zM98.55 502.4h6.1v1.65h-6.1zM98.55 514h6.1v1.56h-6.1zM38.05 517.02h6.1v1.56h-6.1zM80.4 523.07h6.1v1.56h-6.1zM98.55 532.9h6.1v1.55h-6.1zM44.1 540.15h6.1v1.5h-6.1z"/><path fill="#f29389" d="M38.05 456h6.1v1.65h-6.1zM98.55 456h6.1v1.65h-6.1zM98.55 457.6h6.1v1.65h-6.1zM38.05 460.8h6.1v1.65h-6.1zM98.55 465.6h6.1v1.65h-6.1zM98.55 468.8h6.1v1.65h-6.1zM38.05 476.8h6.1v1.65h-6.1zM38.05 480h6.1v1.65h-6.1zM38.05 483.2h6.1v1.65h-6.1zM80.4 515.51h6.1v1.56h-6.1zM80.4 517.02h6.1v1.56h-6.1zM80.4 520.04h6.1v1.56h-6.1zM44.1 531.4h6.1v1.55h-6.1zM98.55 531.4h6.1v1.55h-6.1zM25.95 532.9h6.1v1.55h-6.1zM44.1 532.9h6.1v1.55h-6.1zM25.95 535.8h6.1v1.5h-6.1zM80.4 537.25h6.1v1.5h-6.1zM44.1 538.7h6.1v1.5h-6.1zM80.4 540.15h6.1v1.5h-6.1z"/><path fill="#f28a7f" d="M38.05 457.6h6.1v1.65h-6.1zM38.05 462.4h6.1v1.65h-6.1zM98.55 462.4h6.1v1.65h-6.1zM80.4 467.2h6.1v1.65h-6.1zM98.55 472h6.1v1.65h-6.1zM38.05 473.6h6.1v1.65h-6.1zM98.55 476.8h6.1v1.65h-6.1zM19.9 486.4h6.1v1.65h-6.1zM80.4 500.8h6.1v1.65h-6.1zM98.55 507.2h6.1v1.65h-6.1zM98.55 515.51h6.1v1.56h-6.1zM98.55 517.02h6.1v1.56h-6.1zM80.4 518.53h6.1v1.56h-6.1zM80.4 524.58h6.1v1.56h-6.1zM98.55 524.58h6.1v1.56h-6.1zM98.55 526.09h6.1v1.56h-6.1zM44.1 537.25h6.1v1.5h-6.1zM98.55 538.7h6.1v1.5h-6.1zM25.95 540.15h6.1v1.5h-6.1z"/><path fill="#f18175" d="M98.55 486.4h6.1v1.65h-6.1zM38.05 497.6h6.1v1.65h-6.1zM38.05 504h6.1v1.65h-6.1zM38.05 505.6h6.1v1.65h-6.1zM98.55 510.4h6.1v1.85h-6.1zM98.55 518.53h6.1v1.56h-6.1zM80.4 531.4h6.1v1.55h-6.1zM98.55 535.8h6.1v1.5h-6.1zM25.95 537.25h6.1v1.5h-6.1zM98.55 537.25h6.1v1.5h-6.1zM25.95 538.7h6.1v1.5h-6.1zM80.4 538.7h6.1v1.5h-6.1zM98.55 540.15h6.1v1.5h-6.1z"/><path fill="#f1796b" d="M19.9 472h6.1v1.65h-6.1zM38.05 472h6.1v1.65h-6.1zM98.55 473.6h6.1v1.65h-6.1zM80.4 475.2h6.1v1.65h-6.1zM19.9 483.2h6.1v1.65h-6.1zM98.55 483.2h6.1v1.65h-6.1zM19.9 497.6h6.1v1.65h-6.1zM19.9 504h6.1v1.65h-6.1zM98.55 520.04h6.1v1.56h-6.1zM80.4 535.8h6.1v1.5h-6.1z"/><path fill="#f07060" d="M19.9 457.6h6.1v1.65h-6.1zM80.4 464h6.1v1.65h-6.1zM19.9 465.6h6.1v1.65h-6.1zM19.9 468.8h6.1v1.65h-6.1zM19.9 478.4h6.1v1.65h-6.1zM80.4 478.4h6.1v1.65h-6.1zM98.55 478.4h6.1v1.65h-6.1zM80.4 483.2h6.1v1.65h-6.1zM80.4 484.8h6.1v1.65h-6.1zM98.55 489.6h6.1v1.65h-6.1zM19.9 499.2h6.1v1.65h-6.1zM19.9 500.8h6.1v1.65h-6.1zM98.55 504h6.1v1.65h-6.1zM19.9 505.6h6.1v1.65h-6.1zM80.4 507.2h6.1v1.65h-6.1zM25.95 510.4h6.1v1.85h-6.1zM25.95 514h6.1v1.56h-6.1zM80.4 521.56h6.1v1.56h-6.1zM80.4 526.09h6.1v1.56h-6.1zM80.4 532.9h6.1v1.55h-6.1z"/><path fill="#f06756" d="M19.9 456h6.1v1.65h-6.1zM80.4 456h6.1v1.65h-6.1zM19.9 460.8h6.1v1.65h-6.1zM80.4 460.8h6.1v1.65h-6.1zM80.4 462.4h6.1v1.65h-6.1zM80.4 468.8h6.1v1.65h-6.1zM80.4 473.6h6.1v1.65h-6.1zM19.9 475.2h6.1v1.65h-6.1zM80.4 476.8h6.1v1.65h-6.1zM19.9 480h6.1v1.65h-6.1zM80.4 481.6h6.1v1.65h-6.1zM19.9 488h6.1v1.65h-6.1zM19.9 489.6h6.1v1.65h-6.1zM80.4 492.8h6.1v1.65h-6.1zM80.4 496h6.1v1.65h-6.1zM80.4 497.6h6.1v1.65h-6.1zM80.4 502.4h6.1v1.65h-6.1zM25.95 517.02h6.1v1.56h-6.1zM25.95 518.53h6.1v1.56h-6.1zM25.95 520.04h6.1v1.56h-6.1zM25.95 521.56h6.1v1.56h-6.1zM25.95 526.09h6.1v1.56h-6.1z"/><path fill="#f05e4c" d="M19.9 459.2h6.1v1.65h-6.1zM19.9 462.4h6.1v1.65h-6.1zM19.9 464h6.1v1.65h-6.1zM19.9 473.6h6.1v1.65h-6.1zM19.9 476.8h6.1v1.65h-6.1zM80.4 489.6h6.1v1.65h-6.1zM19.9 491.2h6.1v1.65h-6.1zM19.9 492.8h6.1v1.65h-6.1zM19.9 494.4h6.1v1.65h-6.1zM80.4 494.4h6.1v1.65h-6.1zM80.4 504h6.1v1.65h-6.1zM19.9 507.2h6.1v1.65h-6.1zM25.95 515.51h6.1v1.56h-6.1zM25.95 523.07h6.1v1.56h-6.1z"/><path fill="#ef5541" d="M80.4 457.6h6.1v1.65h-6.1zM80.4 459.2h6.1v1.65h-6.1zM80.4 465.6h6.1v1.65h-6.1zM80.4 480h6.1v1.65h-6.1zM19.9 481.6h6.1v1.65h-6.1zM19.9 484.8h6.1v1.65h-6.1zM80.4 486.4h6.1v1.65h-6.1zM80.4 491.2h6.1v1.65h-6.1zM19.9 496h6.1v1.65h-6.1zM19.9 502.4h6.1v1.65h-6.1zM80.4 505.6h6.1v1.65h-6.1z"/><path fill="#ef4c37" d="M80.4 470.4h6.1v1.65h-6.1zM80.4 472h6.1v1.65h-6.1zM80.4 488h6.1v1.65h-6.1zM80.4 499.2h6.1v1.65h-6.1zM25.95 524.58h6.1v1.56h-6.1z"/><path fill="#ee432c" d="M19.9 467.2h6.1v1.65h-6.1zM19.9 470.4h6.1v1.65h-6.1z"/>
<text x="62.25" y="439.2" font-size="6.7" text-anchor="middle" fill="#222" stroke="#222" stroke-width="0.12">0.00</text>
<line x1="22.92" y1="442.5" x2="22.92" y2="453.5" stroke="#6a1f2a" stroke-width="0.8"/><path d="M22.92,444L24.12,446L22.92,448L21.72,446Z" fill="#6a1f2a" stroke="#6a1f2a" stroke-width="0.7"/><line x1="28.97" y1="442.5" x2="28.97" y2="453.5" stroke="#6a1f2a" stroke-width="0.8"/><path d="M28.97,445L30.17,447L28.97,449L27.77,447Z" fill="#6a1f2a" stroke="#6a1f2a" stroke-width="0.7"/><line x1="35.02" y1="442.5" x2="35.02" y2="453.5" stroke="#6a1f2a" stroke-width="0.8"/><path d="M35.02,446L36.22,448L35.02,450L33.82,448Z" fill="#6a1f2a" stroke="#6a1f2a" stroke-width="0.7"/><line x1="41.07" y1="442.5" x2="41.07" y2="453.5" stroke="#6a1f2a" stroke-width="0.8"/><path d="M41.07,445L42.27,447L41.07,449L39.87,447Z" fill="#6a1f2a" stroke="#6a1f2a" stroke-width="0.7"/><line x1="47.12" y1="442.5" x2="47.12" y2="453.5" stroke="#6a1f2a" stroke-width="0.8"/><path d="M47.12,445L48.32,447L47.12,449L45.92,447Z" fill="#6a1f2a" stroke="#6a1f2a" stroke-width="0.7"/><line x1="53.17" y1="442.5" x2="53.17" y2="453.5" stroke="#555566" stroke-width="0.8"/><path d="M53.17,447L54.37,449L53.17,451L51.97,449Z" fill="none" stroke="#555566" stroke-width="0.7"/><line x1="59.22" y1="442.5" x2="59.22" y2="453.5" stroke="#555566" stroke-width="0.8"/><path d="M59.22,448L60.42,450L59.22,452L58.02,450Z" fill="none" stroke="#555566" stroke-width="0.7"/><line x1="65.27" y1="442.5" x2="65.27" y2="453.5" stroke="#555566" stroke-width="0.8"/><path d="M65.27,448L66.47,450L65.27,452L64.07,450Z" fill="none" stroke="#555566" stroke-width="0.7"/><line x1="71.32" y1="442.5" x2="71.32" y2="453.5" stroke="#555566" stroke-width="0.8"/><path d="M71.32,447L72.52,449L71.32,451L70.12,449Z" fill="none" stroke="#555566" stroke-width="0.7"/><line x1="77.37" y1="442.5" x2="77.37" y2="453.5" stroke="#555566" stroke-width="0.8"/><path d="M77.37,446L78.57,448L77.37,450L76.17,448Z" fill="none" stroke="#555566" stroke-width="0.7"/><line x1="83.42" y1="442.5" x2="83.42" y2="453.5" stroke="#555566" stroke-width="0.8"/><path d="M83.42,444L84.62,446L83.42,448L82.22,446Z" fill="none" stroke="#555566" stroke-width="0.7"/><line x1="89.47" y1="442.5" x2="89.47" y2="453.5" stroke="#555566" stroke-width="0.8"/><path d="M89.47,445L90.67,447L89.47,449L88.27,447Z" fill="none" stroke="#555566" stroke-width="0.7"/><line x1="95.52" y1="442.5" x2="95.52" y2="453.5" stroke="#555566" stroke-width="0.8"/><path d="M95.52,446L96.72,448L95.52,450L94.32,448Z" fill="none" stroke="#555566" stroke-width="0.7"/><line x1="101.57" y1="447" x2="101.57" y2="449" stroke="#2a2a7a" stroke-width="0.8"/><path d="M101.57,447L103.17,448L101.57,449L99.97,448Z" fill="#2a2a7a" stroke="#2a2a7a" stroke-width="0.7"/>
<text x="25.52" y="545.2" font-size="6.9" text-anchor="end" fill="#333" stroke="#333" stroke-width="0.12" transform="rotate(-90 25.52 545.2)">CD197</text>
<text x="31.57" y="545.2" font-size="6.9" text-anchor="end" fill="#333" stroke="#333" stroke-width="0.12" transform="rotate(-90 31.57 545.2)">CD43</text>
<text x="37.62" y="545.2" font-size="6.9" text-anchor="end" fill="#333" stroke="#333" stroke-width="0.12" transform="rotate(-90 37.62 545.2)">CD49b</text>
<text x="43.67" y="545.2" font-size="6.9" text-anchor="end" fill="#333" stroke="#333" stroke-width="0.12" transform="rotate(-90 43.67 545.2)">CD39</text>
<text x="49.72" y="545.2" font-size="6.9" text-anchor="end" fill="#333" stroke="#333" stroke-width="0.12" transform="rotate(-90 49.72 545.2)">CD26</text>
<text x="55.77" y="545.2" font-size="6.9" text-anchor="end" fill="#333" stroke="#333" stroke-width="0.12" transform="rotate(-90 55.77 545.2)">FSCA</text>
<text x="61.82" y="545.2" font-size="6.9" text-anchor="end" fill="#333" stroke="#333" stroke-width="0.12" transform="rotate(-90 61.82 545.2)">CD279</text>
<text x="67.87" y="545.2" font-size="6.9" text-anchor="end" fill="#333" stroke="#333" stroke-width="0.12" transform="rotate(-90 67.87 545.2)">CD70</text>
<text x="73.92" y="545.2" font-size="6.9" text-anchor="end" fill="#333" stroke="#333" stroke-width="0.12" transform="rotate(-90 73.92 545.2)">CD45RA</text>
<text x="79.97" y="545.2" font-size="6.9" text-anchor="end" fill="#333" stroke="#333" stroke-width="0.12" transform="rotate(-90 79.97 545.2)">CLA</text>
<text x="86.02" y="545.2" font-size="6.9" text-anchor="end" fill="#333" stroke="#333" stroke-width="0.12" transform="rotate(-90 86.02 545.2)">CD62L</text>
<text x="92.07" y="545.2" font-size="6.9" text-anchor="end" fill="#333" stroke="#333" stroke-width="0.12" transform="rotate(-90 92.07 545.2)">CD7</text>
<text x="98.12" y="545.2" font-size="6.9" text-anchor="end" fill="#333" stroke="#333" stroke-width="0.12" transform="rotate(-90 98.12 545.2)">CD164</text>
<text x="104.17" y="545.2" font-size="6.9" text-anchor="end" fill="#333" stroke="#333" stroke-width="0.12" transform="rotate(-90 104.17 545.2)">CD3</text>
<rect x="111.2" y="456" width="3.8" height="52.4" fill="#5b86c0"/><rect x="111.2" y="510" width="3.8" height="1.4" fill="#86c38a"/><rect x="111.2" y="512.8" width="3.8" height="15.4" fill="#e0574a"/><rect x="111.2" y="530" width="3.8" height="1.4" fill="#6a2a16"/><rect x="111.2" y="533" width="3.8" height="2.8" fill="#f2b0b4"/><rect x="111.2" y="537" width="3.8" height="4.6" fill="#9a64b0"/><path fill="#1e1ee8" d="M118.8 518.96h6.09v1.59h-6.09z"/><path fill="#2929e9" d="M118.8 510h6.09v1.45h-6.09z"/><path fill="#3433ea" d="M118.8 515.88h6.09v1.59h-6.09zM118.8 525.12h6.09v1.59h-6.09z"/><path fill="#3e3eeb" d="M118.8 514.34h6.09v1.59h-6.09zM118.8 522.04h6.09v1.59h-6.09zM118.8 523.58h6.09v1.59h-6.09z"/><path fill="#4948eb" d="M118.8 512.8h6.09v1.59h-6.09zM118.8 517.42h6.09v1.59h-6.09zM118.8 526.66h6.09v1.59h-6.09z"/><path fill="#5453ec" d="M142.94 467.12h6.09v1.64h-6.09z"/><path fill="#5e5ded" d="M118.8 520.5h6.09v1.59h-6.09zM118.8 533h6.09v1.45h-6.09z"/><path fill="#6967ee" d="M118.8 534.4h6.09v1.45h-6.09z"/><path fill="#7472ef" d="M142.94 497.28h6.09v1.64h-6.09z"/><path fill="#7e7cef" d="M142.94 465.53h6.09v1.64h-6.09zM167.09 489.35h6.09v1.64h-6.09z"/><path fill="#8986f0" d="M142.94 457.59h6.09v1.64h-6.09zM167.09 462.35h6.09v1.64h-6.09zM142.94 463.94h6.09v1.64h-6.09zM142.94 479.82h6.09v1.64h-6.09zM142.94 487.76h6.09v1.64h-6.09zM142.94 498.87h6.09v1.64h-6.09zM142.94 502.05h6.09v1.64h-6.09zM142.94 506.81h6.09v1.64h-6.09zM142.94 510h6.09v1.45h-6.09z"/><path fill="#9391f1" d="M142.94 462.35h6.09v1.64h-6.09zM142.94 468.7h6.09v1.64h-6.09zM173.12 473.47h6.09v1.64h-6.09zM142.94 475.05h6.09v1.64h-6.09zM142.94 481.41h6.09v1.64h-6.09zM142.94 486.17h6.09v1.64h-6.09zM142.94 490.93h6.09v1.64h-6.09zM142.94 494.11h6.09v1.64h-6.09zM142.94 503.64h6.09v1.64h-6.09zM142.94 505.22h6.09v1.64h-6.09zM148.98 537h6.09v1.58h-6.09z"/><path fill="#9d9bf2" d="M142.94 456h6.09v1.64h-6.09zM142.94 459.18h6.09v1.64h-6.09zM142.94 460.76h6.09v1.64h-6.09zM167.09 460.76h6.09v1.64h-6.09zM167.09 467.12h6.09v1.64h-6.09zM142.94 470.29h6.09v1.64h-6.09zM173.12 471.88h6.09v1.64h-6.09zM142.94 476.64h6.09v1.64h-6.09zM173.12 479.82h6.09v1.64h-6.09zM142.94 482.99h6.09v1.64h-6.09zM161.05 486.17h6.09v1.64h-6.09zM142.94 495.7h6.09v1.64h-6.09zM167.09 498.87h6.09v1.64h-6.09zM142.94 500.46h6.09v1.64h-6.09zM142.94 520.5h6.09v1.59h-6.09zM142.94 522.04h6.09v1.59h-6.09zM148.98 540.07h6.09v1.58h-6.09z"/><path fill="#a8a5f3" d="M173.12 457.59h6.09v1.64h-6.09zM167.09 459.18h6.09v1.64h-6.09zM167.09 463.94h6.09v1.64h-6.09zM173.12 465.53h6.09v1.64h-6.09zM161.05 468.7h6.09v1.64h-6.09zM173.12 468.7h6.09v1.64h-6.09zM173.12 470.29h6.09v1.64h-6.09zM142.94 471.88h6.09v1.64h-6.09zM167.09 471.88h6.09v1.64h-6.09zM142.94 473.47h6.09v1.64h-6.09zM167.09 473.47h6.09v1.64h-6.09zM167.09 476.64h6.09v1.64h-6.09zM142.94 478.23h6.09v1.64h-6.09zM167.09 479.82h6.09v1.64h-6.09zM142.94 484.58h6.09v1.64h-6.09zM167.09 484.58h6.09v1.64h-6.09zM173.12 484.58h6.09v1.64h-6.09zM167.09 486.17h6.09v1.64h-6.09zM173.12 494.11h6.09v1.64h-6.09zM167.09 495.7h6.09v1.64h-6.09zM173.12 495.7h6.09v1.64h-6.09zM167.09 497.28h6.09v1.64h-6.09zM167.09 505.22h6.09v1.64h-6.09zM167.09 506.81h6.09v1.64h-6.09zM142.94 514.34h6.09v1.59h-6.09zM161.05 514.34h6.09v1.59h-6.09zM142.94 517.42h6.09v1.59h-6.09zM161.05 517.42h6.09v1.59h-6.09zM167.09 523.58h6.09v1.59h-6.09zM142.94 526.66h6.09v1.59h-6.09zM148.98 533h6.09v1.45h-6.09z"/><path fill="#b2aff3" d="M161.05 456h6.09v1.64h-6.09zM167.09 456h6.09v1.64h-6.09zM173.12 462.35h6.09v1.64h-6.09zM167.09 470.29h6.09v1.64h-6.09zM161.05 475.05h6.09v1.64h-6.09zM167.09 475.05h6.09v1.64h-6.09zM173.12 476.64h6.09v1.64h-6.09zM167.09 478.23h6.09v1.64h-6.09zM161.05 479.82h6.09v1.64h-6.09zM167.09 481.41h6.09v1.64h-6.09zM167.09 487.76h6.09v1.64h-6.09zM173.12 487.76h6.09v1.64h-6.09zM142.94 489.35h6.09v1.64h-6.09zM173.12 489.35h6.09v1.64h-6.09zM167.09 492.52h6.09v1.64h-6.09zM161.05 494.11h6.09v1.64h-6.09zM167.09 494.11h6.09v1.64h-6.09zM173.12 497.28h6.09v1.64h-6.09zM167.09 500.46h6.09v1.64h-6.09zM167.09 503.64h6.09v1.64h-6.09zM161.05 506.81h6.09v1.64h-6.09zM161.05 510h6.09v1.45h-6.09zM167.09 510h6.09v1.45h-6.09zM148.98 512.8h6.09v1.59h-6.09zM167.09 512.8h6.09v1.59h-6.09zM130.87 517.42h6.09v1.59h-6.09zM167.09 517.42h6.09v1.59h-6.09zM161.05 520.5h6.09v1.59h-6.09zM167.09 522.04h6.09v1.59h-6.09zM148.98 523.58h6.09v1.59h-6.09zM130.87 533h6.09v1.45h-6.09zM148.98 534.4h6.09v1.45h-6.09zM173.12 540.07h6.09v1.58h-6.09z"/><path fill="#bcb9f4" d="M167.09 457.59h6.09v1.64h-6.09zM161.05 459.18h6.09v1.64h-6.09zM173.12 459.18h6.09v1.64h-6.09zM161.05 462.35h6.09v1.64h-6.09zM173.12 463.94h6.09v1.64h-6.09zM161.05 465.53h6.09v1.64h-6.09zM173.12 467.12h6.09v1.64h-6.09zM167.09 468.7h6.09v1.64h-6.09zM161.05 473.47h6.09v1.64h-6.09zM167.09 482.99h6.09v1.64h-6.09zM173.12 482.99h6.09v1.64h-6.09zM130.87 486.17h6.09v1.64h-6.09zM161.05 487.76h6.09v1.64h-6.09zM161.05 490.93h6.09v1.64h-6.09zM142.94 492.52h6.09v1.64h-6.09zM161.05 500.46h6.09v1.64h-6.09zM161.05 502.05h6.09v1.64h-6.09zM161.05 503.64h6.09v1.64h-6.09zM161.05 505.22h6.09v1.64h-6.09zM130.87 512.8h6.09v1.59h-6.09zM167.09 514.34h6.09v1.59h-6.09zM130.87 515.88h6.09v1.59h-6.09zM142.94 515.88h6.09v1.59h-6.09zM167.09 515.88h6.09v1.59h-6.09zM173.12 517.42h6.09v1.59h-6.09zM130.87 518.96h6.09v1.59h-6.09zM161.05 522.04h6.09v1.59h-6.09zM130.87 523.58h6.09v1.59h-6.09zM142.94 523.58h6.09v1.59h-6.09zM161.05 523.58h6.09v1.59h-6.09zM167.09 525.12h6.09v1.59h-6.09zM130.87 526.66h6.09v1.59h-6.09zM167.09 526.66h6.09v1.59h-6.09zM148.98 530h6.09v1.45h-6.09zM161.05 537h6.09v1.58h-6.09zM173.12 537h6.09v1.58h-6.09zM173.12 538.53h6.09v1.58h-6.09z"/><path fill="#c6c3f5" d="M173.12 456h6.09v1.64h-6.09zM130.87 459.18h6.09v1.64h-6.09zM161.05 460.76h6.09v1.64h-6.09zM161.05 463.94h6.09v1.64h-6.09zM161.05 467.12h6.09v1.64h-6.09zM130.87 470.29h6.09v1.64h-6.09zM161.05 470.29h6.09v1.64h-6.09zM191.23 470.29h6.09v1.64h-6.09zM130.87 475.05h6.09v1.64h-6.09zM161.05 478.23h6.09v1.64h-6.09zM173.12 481.41h6.09v1.64h-6.09zM167.09 490.93h6.09v1.64h-6.09zM173.12 492.52h6.09v1.64h-6.09zM161.05 495.7h6.09v1.64h-6.09zM161.05 497.28h6.09v1.64h-6.09zM161.05 498.87h6.09v1.64h-6.09zM173.12 498.87h6.09v1.64h-6.09zM173.12 500.46h6.09v1.64h-6.09zM173.12 503.64h6.09v1.64h-6.09zM173.12 505.22h6.09v1.64h-6.09zM173.12 506.81h6.09v1.64h-6.09zM130.87 510h6.09v1.45h-6.09zM142.94 512.8h6.09v1.59h-6.09zM130.87 514.34h6.09v1.59h-6.09zM161.05 515.88h6.09v1.59h-6.09zM148.98 517.42h6.09v1.59h-6.09zM142.94 518.96h6.09v1.59h-6.09zM161.05 518.96h6.09v1.59h-6.09zM167.09 518.96h6.09v1.59h-6.09zM167.09 520.5h6.09v1.59h-6.09zM148.98 525.12h6.09v1.59h-6.09zM148.98 526.66h6.09v1.59h-6.09zM161.05 526.66h6.09v1.59h-6.09zM167.09 530h6.09v1.45h-6.09zM173.12 533h6.09v1.45h-6.09zM155.01 534.4h6.09v1.45h-6.09zM155.01 537h6.09v1.58h-6.09zM130.87 538.53h6.09v1.58h-6.09zM155.01 538.53h6.09v1.58h-6.09zM161.05 538.53h6.09v1.58h-6.09zM130.87 540.07h6.09v1.58h-6.09z"/><path fill="#d0ccf6" d="M167.09 465.53h6.09v1.64h-6.09zM191.23 465.53h6.09v1.64h-6.09zM130.87 471.88h6.09v1.64h-6.09zM161.05 471.88h6.09v1.64h-6.09zM130.87 478.23h6.09v1.64h-6.09zM173.12 478.23h6.09v1.64h-6.09zM130.87 481.41h6.09v1.64h-6.09zM191.23 481.41h6.09v1.64h-6.09zM161.05 482.99h6.09v1.64h-6.09zM130.87 484.58h6.09v1.64h-6.09zM161.05 484.58h6.09v1.64h-6.09zM185.19 484.58h6.09v1.64h-6.09zM173.12 486.17h6.09v1.64h-6.09zM173.12 490.93h6.09v1.64h-6.09zM161.05 492.52h6.09v1.64h-6.09zM130.87 495.7h6.09v1.64h-6.09zM130.87 497.28h6.09v1.64h-6.09zM167.09 502.05h6.09v1.64h-6.09zM173.12 502.05h6.09v1.64h-6.09zM161.05 512.8h6.09v1.59h-6.09zM173.12 515.88h6.09v1.59h-6.09zM148.98 520.5h6.09v1.59h-6.09zM173.12 520.5h6.09v1.59h-6.09zM173.12 523.58h6.09v1.59h-6.09zM130.87 525.12h6.09v1.59h-6.09zM142.94 525.12h6.09v1.59h-6.09zM161.05 525.12h6.09v1.59h-6.09zM173.12 525.12h6.09v1.59h-6.09zM155.01 533h6.09v1.45h-6.09zM161.05 533h6.09v1.45h-6.09zM161.05 534.4h6.09v1.45h-6.09zM173.12 534.4h6.09v1.45h-6.09zM130.87 537h6.09v1.58h-6.09zM185.19 538.53h6.09v1.58h-6.09zM155.01 540.07h6.09v1.58h-6.09zM161.05 540.07h6.09v1.58h-6.09z"/><path fill="#dad6f7" d="M185.19 456h6.09v1.64h-6.09zM161.05 457.59h6.09v1.64h-6.09zM130.87 460.76h6.09v1.64h-6.09zM130.87 468.7h6.09v1.64h-6.09zM185.19 468.7h6.09v1.64h-6.09zM161.05 476.64h6.09v1.64h-6.09zM185.19 478.23h6.09v1.64h-6.09zM130.87 479.82h6.09v1.64h-6.09zM185.19 479.82h6.09v1.64h-6.09zM191.23 479.82h6.09v1.64h-6.09zM130.87 489.35h6.09v1.64h-6.09zM161.05 489.35h6.09v1.64h-6.09zM130.87 490.93h6.09v1.64h-6.09zM185.19 497.28h6.09v1.64h-6.09zM130.87 498.87h6.09v1.64h-6.09zM130.87 502.05h6.09v1.64h-6.09zM191.23 502.05h6.09v1.64h-6.09zM130.87 505.22h6.09v1.64h-6.09zM173.12 512.8h6.09v1.59h-6.09zM155.01 514.34h6.09v1.59h-6.09zM173.12 514.34h6.09v1.59h-6.09zM185.19 515.88h6.09v1.59h-6.09zM148.98 518.96h6.09v1.59h-6.09zM130.87 520.5h6.09v1.59h-6.09zM155.01 520.5h6.09v1.59h-6.09zM185.19 523.58h6.09v1.59h-6.09zM130.87 530h6.09v1.45h-6.09zM142.94 530h6.09v1.45h-6.09zM161.05 530h6.09v1.45h-6.09zM167.09 533h6.09v1.45h-6.09zM148.98 538.53h6.09v1.58h-6.09zM185.19 540.07h6.09v1.58h-6.09z"/><path fill="#e3dff7" d="M130.87 456h6.09v1.64h-6.09zM185.19 457.59h6.09v1.64h-6.09zM191.23 459.18h6.09v1.64h-6.09zM173.12 460.76h6.09v1.64h-6.09zM148.98 462.35h6.09v1.64h-6.09zM185.19 463.94h6.09v1.64h-6.09zM130.87 467.12h6.09v1.64h-6.09zM148.98 467.12h6.09v1.64h-6.09zM191.23 467.12h6.09v1.64h-6.09zM148.98 471.88h6.09v1.64h-6.09zM130.87 473.47h6.09v1.64h-6.09zM173.12 475.05h6.09v1.64h-6.09zM161.05 481.41h6.09v1.64h-6.09zM148.98 482.99h6.09v1.64h-6.09zM148.98 487.76h6.09v1.64h-6.09zM191.23 487.76h6.09v1.64h-6.09zM130.87 494.11h6.09v1.64h-6.09zM191.23 497.28h6.09v1.64h-6.09zM124.84 502.05h6.09v1.64h-6.09zM185.19 512.8h6.09v1.59h-6.09zM191.23 512.8h6.09v1.59h-6.09zM191.23 514.34h6.09v1.59h-6.09zM148.98 515.88h6.09v1.59h-6.09zM191.23 517.42h6.09v1.59h-6.09zM173.12 518.96h6.09v1.59h-6.09zM185.19 520.5h6.09v1.59h-6.09zM130.87 522.04h6.09v1.59h-6.09zM148.98 522.04h6.09v1.59h-6.09zM155.01 525.12h6.09v1.59h-6.09zM173.12 526.66h6.09v1.59h-6.09zM173.12 530h6.09v1.45h-6.09zM185.19 534.4h6.09v1.45h-6.09z"/><path fill="#f6e6ea" d="M191.23 457.59h6.09v1.64h-6.09zM148.98 460.76h6.09v1.64h-6.09zM130.87 462.35h6.09v1.64h-6.09zM130.87 463.94h6.09v1.64h-6.09zM130.87 465.53h6.09v1.64h-6.09zM185.19 467.12h6.09v1.64h-6.09zM185.19 470.29h6.09v1.64h-6.09zM185.19 481.41h6.09v1.64h-6.09zM130.87 482.99h6.09v1.64h-6.09zM185.19 482.99h6.09v1.64h-6.09zM191.23 482.99h6.09v1.64h-6.09zM191.23 486.17h6.09v1.64h-6.09zM130.87 487.76h6.09v1.64h-6.09zM148.98 494.11h6.09v1.64h-6.09zM124.84 495.7h6.09v1.64h-6.09zM148.98 500.46h6.09v1.64h-6.09zM124.84 503.64h6.09v1.64h-6.09zM130.87 503.64h6.09v1.64h-6.09zM185.19 503.64h6.09v1.64h-6.09zM130.87 506.81h6.09v1.64h-6.09zM185.19 506.81h6.09v1.64h-6.09zM191.23 506.81h6.09v1.64h-6.09zM148.98 514.34h6.09v1.59h-6.09zM185.19 514.34h6.09v1.59h-6.09zM191.23 520.5h6.09v1.59h-6.09zM155.01 522.04h6.09v1.59h-6.09zM173.12 522.04h6.09v1.59h-6.09zM155.01 526.66h6.09v1.59h-6.09zM185.19 526.66h6.09v1.59h-6.09zM124.84 530h6.09v1.45h-6.09zM185.19 533h6.09v1.45h-6.09zM136.91 534.4h6.09v1.45h-6.09zM191.23 534.4h6.09v1.45h-6.09zM191.23 537h6.09v1.58h-6.09z"/><path fill="#f6dfe1" d="M124.84 456h6.09v1.64h-6.09zM130.87 457.59h6.09v1.64h-6.09zM148.98 459.18h6.09v1.64h-6.09zM191.23 463.94h6.09v1.64h-6.09zM148.98 465.53h6.09v1.64h-6.09zM148.98 468.7h6.09v1.64h-6.09zM148.98 470.29h6.09v1.64h-6.09zM185.19 471.88h6.09v1.64h-6.09zM124.84 473.47h6.09v1.64h-6.09zM191.23 473.47h6.09v1.64h-6.09zM191.23 475.05h6.09v1.64h-6.09zM130.87 476.64h6.09v1.64h-6.09zM148.98 479.82h6.09v1.64h-6.09zM148.98 481.41h6.09v1.64h-6.09zM185.19 487.76h6.09v1.64h-6.09zM148.98 489.35h6.09v1.64h-6.09zM191.23 489.35h6.09v1.64h-6.09zM191.23 490.93h6.09v1.64h-6.09zM130.87 492.52h6.09v1.64h-6.09zM185.19 492.52h6.09v1.64h-6.09zM185.19 495.7h6.09v1.64h-6.09zM130.87 500.46h6.09v1.64h-6.09zM191.23 500.46h6.09v1.64h-6.09zM148.98 502.05h6.09v1.64h-6.09zM191.23 503.64h6.09v1.64h-6.09zM191.23 505.22h6.09v1.64h-6.09zM148.98 506.81h6.09v1.64h-6.09zM148.98 510h6.09v1.45h-6.09zM173.12 510h6.09v1.45h-6.09zM155.01 517.42h6.09v1.59h-6.09zM155.01 518.96h6.09v1.59h-6.09zM191.23 526.66h6.09v1.59h-6.09zM185.19 530h6.09v1.45h-6.09zM191.23 533h6.09v1.45h-6.09zM130.87 534.4h6.09v1.45h-6.09zM167.09 534.4h6.09v1.45h-6.09zM136.91 538.53h6.09v1.58h-6.09zM191.23 538.53h6.09v1.58h-6.09zM191.23 540.07h6.09v1.58h-6.09z"/><path fill="#f5d7d8" d="M185.19 459.18h6.09v1.64h-6.09zM185.19 460.76h6.09v1.64h-6.09zM185.19 462.35h6.09v1.64h-6.09zM148.98 463.94h6.09v1.64h-6.09zM185.19 473.47h6.09v1.64h-6.09zM191.23 476.64h6.09v1.64h-6.09zM148.98 478.23h6.09v1.64h-6.09zM148.98 484.58h6.09v1.64h-6.09zM155.01 484.58h6.09v1.64h-6.09zM191.23 484.58h6.09v1.64h-6.09zM185.19 489.35h6.09v1.64h-6.09zM124.84 490.93h6.09v1.64h-6.09zM148.98 490.93h6.09v1.64h-6.09zM185.19 490.93h6.09v1.64h-6.09zM148.98 492.52h6.09v1.64h-6.09zM185.19 494.11h6.09v1.64h-6.09zM191.23 494.11h6.09v1.64h-6.09zM148.98 495.7h6.09v1.64h-6.09zM185.19 498.87h6.09v1.64h-6.09zM191.23 498.87h6.09v1.64h-6.09zM148.98 503.64h6.09v1.64h-6.09zM124.84 505.22h6.09v1.64h-6.09zM148.98 505.22h6.09v1.64h-6.09zM155.01 510h6.09v1.45h-6.09zM185.19 510h6.09v1.45h-6.09zM191.23 515.88h6.09v1.59h-6.09zM185.19 517.42h6.09v1.59h-6.09zM185.19 522.04h6.09v1.59h-6.09zM191.23 522.04h6.09v1.59h-6.09zM155.01 523.58h6.09v1.59h-6.09zM191.23 525.12h6.09v1.59h-6.09zM155.01 530h6.09v1.45h-6.09zM191.23 530h6.09v1.45h-6.09zM136.91 537h6.09v1.58h-6.09zM185.19 537h6.09v1.58h-6.09zM136.91 540.07h6.09v1.58h-6.09z"/><path fill="#f5cfcf" d="M148.98 456h6.09v1.64h-6.09zM191.23 456h6.09v1.64h-6.09zM148.98 457.59h6.09v1.64h-6.09zM155.01 459.18h6.09v1.64h-6.09zM155.01 460.76h6.09v1.64h-6.09zM124.84 463.94h6.09v1.64h-6.09zM191.23 468.7h6.09v1.64h-6.09zM155.01 470.29h6.09v1.64h-6.09zM191.23 471.88h6.09v1.64h-6.09zM148.98 473.47h6.09v1.64h-6.09zM148.98 475.05h6.09v1.64h-6.09zM185.19 475.05h6.09v1.64h-6.09zM191.23 478.23h6.09v1.64h-6.09zM155.01 479.82h6.09v1.64h-6.09zM124.84 481.41h6.09v1.64h-6.09zM124.84 482.99h6.09v1.64h-6.09zM124.84 484.58h6.09v1.64h-6.09zM148.98 486.17h6.09v1.64h-6.09zM124.84 492.52h6.09v1.64h-6.09zM155.01 495.7h6.09v1.64h-6.09zM191.23 495.7h6.09v1.64h-6.09zM155.01 497.28h6.09v1.64h-6.09zM124.84 498.87h6.09v1.64h-6.09zM124.84 500.46h6.09v1.64h-6.09zM155.01 500.46h6.09v1.64h-6.09zM185.19 500.46h6.09v1.64h-6.09zM185.19 502.05h6.09v1.64h-6.09zM185.19 505.22h6.09v1.64h-6.09zM191.23 510h6.09v1.45h-6.09zM155.01 515.88h6.09v1.59h-6.09zM185.19 518.96h6.09v1.59h-6.09zM185.19 525.12h6.09v1.59h-6.09zM179.16 530h6.09v1.45h-6.09zM197.26 530h6.09v1.45h-6.09zM136.91 533h6.09v1.45h-6.09z"/><path fill="#f5c6c5" d="M124.84 457.59h6.09v1.64h-6.09zM191.23 460.76h6.09v1.64h-6.09zM124.84 462.35h6.09v1.64h-6.09zM191.23 462.35h6.09v1.64h-6.09zM185.19 465.53h6.09v1.64h-6.09zM124.84 467.12h6.09v1.64h-6.09zM155.01 467.12h6.09v1.64h-6.09zM124.84 470.29h6.09v1.64h-6.09zM155.01 471.88h6.09v1.64h-6.09zM124.84 476.64h6.09v1.64h-6.09zM148.98 476.64h6.09v1.64h-6.09zM155.01 476.64h6.09v1.64h-6.09zM185.19 476.64h6.09v1.64h-6.09zM124.84 478.23h6.09v1.64h-6.09zM124.84 479.82h6.09v1.64h-6.09zM155.01 481.41h6.09v1.64h-6.09zM185.19 486.17h6.09v1.64h-6.09zM124.84 489.35h6.09v1.64h-6.09zM191.23 492.52h6.09v1.64h-6.09zM148.98 498.87h6.09v1.64h-6.09zM155.01 498.87h6.09v1.64h-6.09zM155.01 502.05h6.09v1.64h-6.09zM124.84 506.81h6.09v1.64h-6.09zM155.01 506.81h6.09v1.64h-6.09zM155.01 512.8h6.09v1.59h-6.09zM191.23 518.96h6.09v1.59h-6.09zM191.23 523.58h6.09v1.59h-6.09zM136.91 530h6.09v1.45h-6.09z"/><path fill="#f4bebb" d="M155.01 456h6.09v1.64h-6.09zM124.84 459.18h6.09v1.64h-6.09zM155.01 462.35h6.09v1.64h-6.09zM155.01 468.7h6.09v1.64h-6.09zM155.01 482.99h6.09v1.64h-6.09zM197.26 482.99h6.09v1.64h-6.09zM124.84 486.17h6.09v1.64h-6.09zM155.01 490.93h6.09v1.64h-6.09zM155.01 494.11h6.09v1.64h-6.09zM124.84 497.28h6.09v1.64h-6.09zM155.01 505.22h6.09v1.64h-6.09zM136.91 512.8h6.09v1.59h-6.09zM136.91 517.42h6.09v1.59h-6.09zM136.91 520.5h6.09v1.59h-6.09zM136.91 526.66h6.09v1.59h-6.09z"/><path fill="#f4b5b2" d="M124.84 460.76h6.09v1.64h-6.09zM124.84 471.88h6.09v1.64h-6.09zM136.91 471.88h6.09v1.64h-6.09zM155.01 473.47h6.09v1.64h-6.09zM124.84 475.05h6.09v1.64h-6.09zM124.84 487.76h6.09v1.64h-6.09zM155.01 492.52h6.09v1.64h-6.09zM124.84 494.11h6.09v1.64h-6.09zM197.26 500.46h6.09v1.64h-6.09zM136.91 510h6.09v1.45h-6.09zM179.16 510h6.09v1.45h-6.09zM179.16 517.42h6.09v1.59h-6.09zM136.91 518.96h6.09v1.59h-6.09zM118.8 538.53h6.09v1.58h-6.09z"/><path fill="#f3ada8" d="M197.26 459.18h6.09v1.64h-6.09zM124.84 465.53h6.09v1.64h-6.09zM155.01 465.53h6.09v1.64h-6.09zM124.84 468.7h6.09v1.64h-6.09zM136.91 470.29h6.09v1.64h-6.09zM136.91 473.47h6.09v1.64h-6.09zM155.01 475.05h6.09v1.64h-6.09zM136.91 476.64h6.09v1.64h-6.09zM197.26 479.82h6.09v1.64h-6.09zM136.91 482.99h6.09v1.64h-6.09zM136.91 486.17h6.09v1.64h-6.09zM155.01 486.17h6.09v1.64h-6.09zM155.01 487.76h6.09v1.64h-6.09zM155.01 489.35h6.09v1.64h-6.09zM136.91 490.93h6.09v1.64h-6.09zM136.91 497.28h6.09v1.64h-6.09zM148.98 497.28h6.09v1.64h-6.09zM197.26 497.28h6.09v1.64h-6.09zM136.91 503.64h6.09v1.64h-6.09zM136.91 514.34h6.09v1.59h-6.09zM167.09 537h6.09v1.58h-6.09zM118.8 540.07h6.09v1.58h-6.09zM167.09 540.07h6.09v1.58h-6.09z"/><path fill="#f3a49e" d="M136.91 456h6.09v1.64h-6.09zM197.26 463.94h6.09v1.64h-6.09zM136.91 468.7h6.09v1.64h-6.09zM136.91 475.05h6.09v1.64h-6.09zM136.91 478.23h6.09v1.64h-6.09zM155.01 478.23h6.09v1.64h-6.09zM136.91 502.05h6.09v1.64h-6.09zM155.01 503.64h6.09v1.64h-6.09zM197.26 505.22h6.09v1.64h-6.09zM136.91 515.88h6.09v1.59h-6.09zM179.16 522.04h6.09v1.59h-6.09zM197.26 523.58h6.09v1.59h-6.09zM136.91 525.12h6.09v1.59h-6.09zM179.16 525.12h6.09v1.59h-6.09zM197.26 525.12h6.09v1.59h-6.09zM197.26 533h6.09v1.45h-6.09zM118.8 537h6.09v1.58h-6.09zM179.16 537h6.09v1.58h-6.09z"/><path fill="#f39c94" d="M197.26 456h6.09v1.64h-6.09zM136.91 457.59h6.09v1.64h-6.09zM155.01 457.59h6.09v1.64h-6.09zM197.26 457.59h6.09v1.64h-6.09zM136.91 459.18h6.09v1.64h-6.09zM155.01 463.94h6.09v1.64h-6.09zM136.91 465.53h6.09v1.64h-6.09zM197.26 481.41h6.09v1.64h-6.09zM136.91 495.7h6.09v1.64h-6.09zM136.91 498.87h6.09v1.64h-6.09zM197.26 502.05h6.09v1.64h-6.09zM197.26 512.8h6.09v1.59h-6.09zM197.26 514.34h6.09v1.59h-6.09zM197.26 515.88h6.09v1.59h-6.09zM197.26 517.42h6.09v1.59h-6.09zM179.16 518.96h6.09v1.59h-6.09zM136.91 522.04h6.09v1.59h-6.09zM136.91 523.58h6.09v1.59h-6.09zM118.8 530h6.09v1.45h-6.09zM124.84 533h6.09v1.45h-6.09zM142.94 533h6.09v1.45h-6.09zM124.84 534.4h6.09v1.45h-6.09zM142.94 534.4h6.09v1.45h-6.09zM167.09 538.53h6.09v1.58h-6.09z"/><path fill="#f29389" d="M197.26 460.76h6.09v1.64h-6.09zM136.91 467.12h6.09v1.64h-6.09zM197.26 467.12h6.09v1.64h-6.09zM197.26 468.7h6.09v1.64h-6.09zM136.91 481.41h6.09v1.64h-6.09zM179.16 481.41h6.09v1.64h-6.09zM136.91 487.76h6.09v1.64h-6.09zM197.26 487.76h6.09v1.64h-6.09zM136.91 489.35h6.09v1.64h-6.09zM197.26 492.52h6.09v1.64h-6.09zM136.91 494.11h6.09v1.64h-6.09zM197.26 494.11h6.09v1.64h-6.09zM197.26 498.87h6.09v1.64h-6.09zM197.26 503.64h6.09v1.64h-6.09zM136.91 505.22h6.09v1.64h-6.09zM124.84 510h6.09v1.45h-6.09zM197.26 510h6.09v1.45h-6.09zM179.16 515.88h6.09v1.59h-6.09zM179.16 523.58h6.09v1.59h-6.09zM179.16 533h6.09v1.45h-6.09zM124.84 537h6.09v1.58h-6.09zM179.16 538.53h6.09v1.58h-6.09zM124.84 540.07h6.09v1.58h-6.09zM142.94 540.07h6.09v1.58h-6.09z"/><path fill="#f28a7f" d="M136.91 462.35h6.09v1.64h-6.09zM136.91 463.94h6.09v1.64h-6.09zM197.26 470.29h6.09v1.64h-6.09zM197.26 471.88h6.09v1.64h-6.09zM197.26 475.05h6.09v1.64h-6.09zM197.26 478.23h6.09v1.64h-6.09zM118.8 479.82h6.09v1.64h-6.09zM136.91 484.58h6.09v1.64h-6.09zM197.26 484.58h6.09v1.64h-6.09zM197.26 489.35h6.09v1.64h-6.09zM197.26 490.93h6.09v1.64h-6.09zM197.26 495.7h6.09v1.64h-6.09zM136.91 500.46h6.09v1.64h-6.09zM136.91 506.81h6.09v1.64h-6.09zM197.26 506.81h6.09v1.64h-6.09zM179.16 514.34h6.09v1.59h-6.09zM197.26 518.96h6.09v1.59h-6.09zM179.16 520.5h6.09v1.59h-6.09zM197.26 522.04h6.09v1.59h-6.09zM197.26 526.66h6.09v1.59h-6.09zM142.94 537h6.09v1.58h-6.09zM142.94 538.53h6.09v1.58h-6.09z"/><path fill="#f18175" d="M179.16 462.35h6.09v1.64h-6.09zM197.26 465.53h6.09v1.64h-6.09zM118.8 467.12h6.09v1.64h-6.09zM197.26 473.47h6.09v1.64h-6.09zM197.26 476.64h6.09v1.64h-6.09zM136.91 479.82h6.09v1.64h-6.09zM197.26 486.17h6.09v1.64h-6.09zM136.91 492.52h6.09v1.64h-6.09zM124.84 518.96h6.09v1.59h-6.09zM197.26 520.5h6.09v1.59h-6.09zM124.84 526.66h6.09v1.59h-6.09zM179.16 526.66h6.09v1.59h-6.09zM179.16 534.4h6.09v1.45h-6.09zM124.84 538.53h6.09v1.58h-6.09zM197.26 538.53h6.09v1.58h-6.09zM179.16 540.07h6.09v1.58h-6.09zM197.26 540.07h6.09v1.58h-6.09z"/><path fill="#f1796b" d="M118.8 456h6.09v1.64h-6.09zM136.91 460.76h6.09v1.64h-6.09zM179.16 460.76h6.09v1.64h-6.09zM118.8 462.35h6.09v1.64h-6.09zM197.26 462.35h6.09v1.64h-6.09zM179.16 467.12h6.09v1.64h-6.09zM179.16 468.7h6.09v1.64h-6.09zM179.16 479.82h6.09v1.64h-6.09zM179.16 500.46h6.09v1.64h-6.09zM179.16 502.05h6.09v1.64h-6.09zM179.16 505.22h6.09v1.64h-6.09zM179.16 512.8h6.09v1.59h-6.09zM124.84 514.34h6.09v1.59h-6.09zM197.26 534.4h6.09v1.45h-6.09zM197.26 537h6.09v1.58h-6.09z"/><path fill="#f07060" d="M179.16 456h6.09v1.64h-6.09zM118.8 457.59h6.09v1.64h-6.09zM179.16 459.18h6.09v1.64h-6.09zM118.8 460.76h6.09v1.64h-6.09zM118.8 463.94h6.09v1.64h-6.09zM118.8 465.53h6.09v1.64h-6.09zM179.16 465.53h6.09v1.64h-6.09zM179.16 470.29h6.09v1.64h-6.09zM118.8 471.88h6.09v1.64h-6.09zM118.8 478.23h6.09v1.64h-6.09zM179.16 478.23h6.09v1.64h-6.09zM118.8 481.41h6.09v1.64h-6.09zM179.16 487.76h6.09v1.64h-6.09zM179.16 489.35h6.09v1.64h-6.09zM179.16 497.28h6.09v1.64h-6.09zM179.16 498.87h6.09v1.64h-6.09zM118.8 502.05h6.09v1.64h-6.09z"/><path fill="#f06756" d="M179.16 471.88h6.09v1.64h-6.09zM179.16 476.64h6.09v1.64h-6.09zM118.8 489.35h6.09v1.64h-6.09zM179.16 492.52h6.09v1.64h-6.09zM118.8 494.11h6.09v1.64h-6.09zM118.8 498.87h6.09v1.64h-6.09zM118.8 500.46h6.09v1.64h-6.09zM179.16 503.64h6.09v1.64h-6.09zM179.16 506.81h6.09v1.64h-6.09z"/><path fill="#f05e4c" d="M179.16 463.94h6.09v1.64h-6.09zM118.8 468.7h6.09v1.64h-6.09zM118.8 475.05h6.09v1.64h-6.09zM179.16 475.05h6.09v1.64h-6.09zM118.8 482.99h6.09v1.64h-6.09zM118.8 490.93h6.09v1.64h-6.09zM118.8 492.52h6.09v1.64h-6.09zM118.8 495.7h6.09v1.64h-6.09zM179.16 495.7h6.09v1.64h-6.09zM118.8 497.28h6.09v1.64h-6.09zM118.8 506.81h6.09v1.64h-6.09zM124.84 515.88h6.09v1.59h-6.09zM124.84 517.42h6.09v1.59h-6.09zM124.84 522.04h6.09v1.59h-6.09z"/><path fill="#ef5541" d="M118.8 470.29h6.09v1.64h-6.09zM179.16 484.58h6.09v1.64h-6.09zM179.16 494.11h6.09v1.64h-6.09zM118.8 505.22h6.09v1.64h-6.09zM124.84 512.8h6.09v1.59h-6.09zM124.84 520.5h6.09v1.59h-6.09zM124.84 523.58h6.09v1.59h-6.09zM124.84 525.12h6.09v1.59h-6.09z"/><path fill="#ef4c37" d="M118.8 459.18h6.09v1.64h-6.09zM179.16 473.47h6.09v1.64h-6.09zM118.8 476.64h6.09v1.64h-6.09zM179.16 482.99h6.09v1.64h-6.09zM118.8 484.58h6.09v1.64h-6.09zM179.16 486.17h6.09v1.64h-6.09zM118.8 487.76h6.09v1.64h-6.09zM179.16 490.93h6.09v1.64h-6.09zM118.8 503.64h6.09v1.64h-6.09z"/><path fill="#ee432c" d="M118.8 486.17h6.09v1.64h-6.09z"/><path fill="#ee3a22" d="M179.16 457.59h6.09v1.64h-6.09zM118.8 473.47h6.09v1.64h-6.09z"/>
<text x="161.05" y="439.2" font-size="6.7" text-anchor="middle" fill="#222" stroke="#222" stroke-width="0.12">0.06</text>
<line x1="121.82" y1="442.5" x2="121.82" y2="453.5" stroke="#6a1f2a" stroke-width="0.8"/><path d="M121.82,444L123.02,446L121.82,448L120.62,446Z" fill="#6a1f2a" stroke="#6a1f2a" stroke-width="0.7"/><line x1="127.85" y1="442.5" x2="127.85" y2="453.5" stroke="#6a1f2a" stroke-width="0.8"/><path d="M127.85,445L129.05,447L127.85,449L126.65,447Z" fill="#6a1f2a" stroke="#6a1f2a" stroke-width="0.7"/><line x1="133.89" y1="442.5" x2="133.89" y2="453.5" stroke="#6a1f2a" stroke-width="0.8"/><path d="M133.89,446L135.09,448L133.89,450L132.69,448Z" fill="#6a1f2a" stroke="#6a1f2a" stroke-width="0.7"/><line x1="139.93" y1="442.5" x2="139.93" y2="453.5" stroke="#6a1f2a" stroke-width="0.8"/><path d="M139.93,445L141.12,447L139.93,449L138.73,447Z" fill="#6a1f2a" stroke="#6a1f2a" stroke-width="0.7"/><line x1="145.96" y1="442.5" x2="145.96" y2="453.5" stroke="#6a1f2a" stroke-width="0.8"/><path d="M145.96,445L147.16,447L145.96,449L144.76,447Z" fill="#6a1f2a" stroke="#6a1f2a" stroke-width="0.7"/><line x1="152" y1="442.5" x2="152" y2="453.5" stroke="#555566" stroke-width="0.8"/><path d="M152,447L153.2,449L152,451L150.8,449Z" fill="none" stroke="#555566" stroke-width="0.7"/><line x1="158.03" y1="442.5" x2="158.03" y2="453.5" stroke="#555566" stroke-width="0.8"/><path d="M158.03,448L159.23,450L158.03,452L156.83,450Z" fill="none" stroke="#555566" stroke-width="0.7"/><line x1="164.07" y1="442.5" x2="164.07" y2="453.5" stroke="#555566" stroke-width="0.8"/><path d="M164.07,448L165.27,450L164.07,452L162.87,450Z" fill="none" stroke="#555566" stroke-width="0.7"/><line x1="170.1" y1="442.5" x2="170.1" y2="453.5" stroke="#555566" stroke-width="0.8"/><path d="M170.1,447L171.3,449L170.1,451L168.9,449Z" fill="none" stroke="#555566" stroke-width="0.7"/><line x1="176.14" y1="442.5" x2="176.14" y2="453.5" stroke="#555566" stroke-width="0.8"/><path d="M176.14,446L177.34,448L176.14,450L174.94,448Z" fill="none" stroke="#555566" stroke-width="0.7"/><line x1="182.18" y1="442.5" x2="182.18" y2="453.5" stroke="#555566" stroke-width="0.8"/><path d="M182.18,444L183.38,446L182.18,448L180.98,446Z" fill="none" stroke="#555566" stroke-width="0.7"/><line x1="188.21" y1="442.5" x2="188.21" y2="453.5" stroke="#555566" stroke-width="0.8"/><path d="M188.21,445L189.41,447L188.21,449L187.01,447Z" fill="none" stroke="#555566" stroke-width="0.7"/><line x1="194.25" y1="442.5" x2="194.25" y2="453.5" stroke="#555566" stroke-width="0.8"/><path d="M194.25,446L195.45,448L194.25,450L193.05,448Z" fill="none" stroke="#555566" stroke-width="0.7"/><line x1="200.28" y1="447" x2="200.28" y2="449" stroke="#2a2a7a" stroke-width="0.8"/><path d="M200.28,447L201.88,448L200.28,449L198.68,448Z" fill="#2a2a7a" stroke="#2a2a7a" stroke-width="0.7"/>
<text x="124.42" y="545.2" font-size="6.9" text-anchor="end" fill="#333" stroke="#333" stroke-width="0.12" transform="rotate(-90 124.42 545.2)">CD197</text>
<text x="130.45" y="545.2" font-size="6.9" text-anchor="end" fill="#333" stroke="#333" stroke-width="0.12" transform="rotate(-90 130.45 545.2)">CD43</text>
<text x="136.49" y="545.2" font-size="6.9" text-anchor="end" fill="#333" stroke="#333" stroke-width="0.12" transform="rotate(-90 136.49 545.2)">CD49b</text>
<text x="142.53" y="545.2" font-size="6.9" text-anchor="end" fill="#333" stroke="#333" stroke-width="0.12" transform="rotate(-90 142.53 545.2)">CD39</text>
<text x="148.56" y="545.2" font-size="6.9" text-anchor="end" fill="#333" stroke="#333" stroke-width="0.12" transform="rotate(-90 148.56 545.2)">CD26</text>
<text x="154.6" y="545.2" font-size="6.9" text-anchor="end" fill="#333" stroke="#333" stroke-width="0.12" transform="rotate(-90 154.6 545.2)">FSCA</text>
<text x="160.63" y="545.2" font-size="6.9" text-anchor="end" fill="#333" stroke="#333" stroke-width="0.12" transform="rotate(-90 160.63 545.2)">CD279</text>
<text x="166.67" y="545.2" font-size="6.9" text-anchor="end" fill="#333" stroke="#333" stroke-width="0.12" transform="rotate(-90 166.67 545.2)">CD70</text>
<text x="172.7" y="545.2" font-size="6.9" text-anchor="end" fill="#333" stroke="#333" stroke-width="0.12" transform="rotate(-90 172.7 545.2)">CD45RA</text>
<text x="178.74" y="545.2" font-size="6.9" text-anchor="end" fill="#333" stroke="#333" stroke-width="0.12" transform="rotate(-90 178.74 545.2)">CLA</text>
<text x="184.78" y="545.2" font-size="6.9" text-anchor="end" fill="#333" stroke="#333" stroke-width="0.12" transform="rotate(-90 184.78 545.2)">CD62L</text>
<text x="190.81" y="545.2" font-size="6.9" text-anchor="end" fill="#333" stroke="#333" stroke-width="0.12" transform="rotate(-90 190.81 545.2)">CD7</text>
<text x="196.85" y="545.2" font-size="6.9" text-anchor="end" fill="#333" stroke="#333" stroke-width="0.12" transform="rotate(-90 196.85 545.2)">CD164</text>
<text x="202.88" y="545.2" font-size="6.9" text-anchor="end" fill="#333" stroke="#333" stroke-width="0.12" transform="rotate(-90 202.88 545.2)">CD3</text>
<rect x="210.1" y="456" width="3.8" height="39.6" fill="#5b86c0"/><rect x="210.1" y="498" width="3.8" height="4.4" fill="#86c38a"/><rect x="210.1" y="504.7" width="3.8" height="5.3" fill="#e0574a"/><rect x="210.1" y="511.8" width="3.8" height="5.7" fill="#6a2a16"/><rect x="210.1" y="519.4" width="3.8" height="7.9" fill="#f2b0b4"/><rect x="210.1" y="529.2" width="3.8" height="13.5" fill="#9a64b0"/><path fill="#1e1ee8" d="M217.7 504.7h6.08v1.82h-6.08zM217.7 508.23h6.08v1.82h-6.08zM217.7 520.98h6.08v1.63h-6.08z"/><path fill="#2929e9" d="M217.7 498h6.08v1.52h-6.08zM217.7 500.93h6.08v1.52h-6.08z"/><path fill="#3433ea" d="M217.7 499.47h6.08v1.52h-6.08zM217.7 506.47h6.08v1.82h-6.08z"/><path fill="#3e3eeb" d="M247.84 534.26h6.08v1.74h-6.08z"/><path fill="#4948eb" d="M217.7 519.4h6.08v1.63h-6.08zM247.84 529.2h6.08v1.74h-6.08z"/><path fill="#5453ec" d="M247.84 459.17h6.08v1.63h-6.08zM217.7 522.56h6.08v1.63h-6.08zM217.7 524.14h6.08v1.63h-6.08zM217.7 525.72h6.08v1.63h-6.08zM247.84 537.64h6.08v1.74h-6.08z"/><path fill="#5e5ded" d="M247.84 530.89h6.08v1.74h-6.08z"/><path fill="#6967ee" d="M247.84 468.67h6.08v1.63h-6.08zM247.84 471.84h6.08v1.63h-6.08zM247.84 487.68h6.08v1.63h-6.08zM247.84 492.43h6.08v1.63h-6.08zM247.84 535.95h6.08v1.74h-6.08z"/><path fill="#7472ef" d="M247.84 456h6.08v1.63h-6.08zM247.84 457.58h6.08v1.63h-6.08zM247.84 463.92h6.08v1.63h-6.08zM247.84 465.5h6.08v1.63h-6.08zM247.84 478.18h6.08v1.63h-6.08zM247.84 484.51h6.08v1.63h-6.08zM247.84 489.26h6.08v1.63h-6.08zM229.76 539.33h6.08v1.74h-6.08zM247.84 541.01h6.08v1.74h-6.08z"/><path fill="#7e7cef" d="M247.84 460.75h6.08v1.63h-6.08zM241.81 471.84h6.08v1.63h-6.08zM247.84 475.01h6.08v1.63h-6.08zM247.84 479.76h6.08v1.63h-6.08zM247.84 482.93h6.08v1.63h-6.08zM247.84 532.58h6.08v1.74h-6.08zM229.76 541.01h6.08v1.74h-6.08z"/><path fill="#8986f0" d="M247.84 462.34h6.08v1.63h-6.08zM241.81 463.92h6.08v1.63h-6.08zM265.93 463.92h6.08v1.63h-6.08zM247.84 467.09h6.08v1.63h-6.08zM247.84 473.42h6.08v1.63h-6.08zM241.81 475.01h6.08v1.63h-6.08zM265.93 478.18h6.08v1.63h-6.08zM247.84 481.34h6.08v1.63h-6.08zM271.96 481.34h6.08v1.63h-6.08zM241.81 486.1h6.08v1.63h-6.08zM247.84 486.1h6.08v1.63h-6.08zM241.81 492.43h6.08v1.63h-6.08zM247.84 494.02h6.08v1.63h-6.08zM229.76 506.47h6.08v1.82h-6.08zM229.76 535.95h6.08v1.74h-6.08zM229.76 537.64h6.08v1.74h-6.08zM247.84 539.33h6.08v1.74h-6.08z"/><path fill="#9391f1" d="M241.81 462.34h6.08v1.63h-6.08zM241.81 468.67h6.08v1.63h-6.08zM241.81 473.42h6.08v1.63h-6.08zM271.96 475.01h6.08v1.63h-6.08zM247.84 476.59h6.08v1.63h-6.08zM241.81 479.76h6.08v1.63h-6.08zM241.81 489.26h6.08v1.63h-6.08zM247.84 490.85h6.08v1.63h-6.08zM265.93 492.43h6.08v1.63h-6.08zM271.96 498h6.08v1.52h-6.08zM265.93 504.7h6.08v1.82h-6.08zM253.87 529.2h6.08v1.74h-6.08z"/><path fill="#9d9bf2" d="M241.81 456h6.08v1.63h-6.08zM290.04 460.75h6.08v1.63h-6.08zM271.96 463.92h6.08v1.63h-6.08zM241.81 470.26h6.08v1.63h-6.08zM247.84 470.26h6.08v1.63h-6.08zM271.96 470.26h6.08v1.63h-6.08zM241.81 476.59h6.08v1.63h-6.08zM271.96 476.59h6.08v1.63h-6.08zM271.96 478.18h6.08v1.63h-6.08zM265.93 479.76h6.08v1.63h-6.08zM265.93 486.1h6.08v1.63h-6.08zM271.96 487.68h6.08v1.63h-6.08zM265.93 489.26h6.08v1.63h-6.08zM241.81 490.85h6.08v1.63h-6.08zM271.96 492.43h6.08v1.63h-6.08zM271.96 494.02h6.08v1.63h-6.08zM229.76 498h6.08v1.52h-6.08zM277.99 498h6.08v1.52h-6.08zM271.96 500.93h6.08v1.52h-6.08zM247.84 504.7h6.08v1.82h-6.08zM241.81 506.47h6.08v1.82h-6.08zM265.93 511.8h6.08v1.47h-6.08zM241.81 516.08h6.08v1.47h-6.08zM253.87 519.4h6.08v1.63h-6.08zM253.87 520.98h6.08v1.63h-6.08zM229.76 530.89h6.08v1.74h-6.08zM259.9 532.58h6.08v1.74h-6.08zM271.96 535.95h6.08v1.74h-6.08z"/><path fill="#a8a5f3" d="M241.81 459.17h6.08v1.63h-6.08zM265.93 459.17h6.08v1.63h-6.08zM241.81 465.5h6.08v1.63h-6.08zM265.93 468.67h6.08v1.63h-6.08zM271.96 471.84h6.08v1.63h-6.08zM265.93 475.01h6.08v1.63h-6.08zM290.04 475.01h6.08v1.63h-6.08zM265.93 481.34h6.08v1.63h-6.08zM265.93 482.93h6.08v1.63h-6.08zM241.81 484.51h6.08v1.63h-6.08zM290.04 484.51h6.08v1.63h-6.08zM241.81 487.68h6.08v1.63h-6.08zM265.93 487.68h6.08v1.63h-6.08zM265.93 499.47h6.08v1.52h-6.08zM247.84 500.93h6.08v1.52h-6.08zM277.99 500.93h6.08v1.52h-6.08zM229.76 508.23h6.08v1.82h-6.08zM247.84 508.23h6.08v1.82h-6.08zM229.76 513.23h6.08v1.47h-6.08zM241.81 514.65h6.08v1.47h-6.08zM253.87 525.72h6.08v1.63h-6.08zM259.9 525.72h6.08v1.63h-6.08zM229.76 529.2h6.08v1.74h-6.08zM259.9 529.2h6.08v1.74h-6.08zM253.87 534.26h6.08v1.74h-6.08zM259.9 534.26h6.08v1.74h-6.08zM253.87 535.95h6.08v1.74h-6.08zM259.9 537.64h6.08v1.74h-6.08zM253.87 541.01h6.08v1.74h-6.08z"/><path fill="#b2aff3" d="M271.96 456h6.08v1.63h-6.08zM241.81 457.58h6.08v1.63h-6.08zM271.96 457.58h6.08v1.63h-6.08zM290.04 457.58h6.08v1.63h-6.08zM271.96 459.17h6.08v1.63h-6.08zM265.93 460.75h6.08v1.63h-6.08zM271.96 460.75h6.08v1.63h-6.08zM265.93 462.34h6.08v1.63h-6.08zM265.93 465.5h6.08v1.63h-6.08zM271.96 465.5h6.08v1.63h-6.08zM265.93 470.26h6.08v1.63h-6.08zM265.93 473.42h6.08v1.63h-6.08zM290.04 473.42h6.08v1.63h-6.08zM241.81 478.18h6.08v1.63h-6.08zM241.81 481.34h6.08v1.63h-6.08zM241.81 482.93h6.08v1.63h-6.08zM265.93 484.51h6.08v1.63h-6.08zM271.96 484.51h6.08v1.63h-6.08zM271.96 490.85h6.08v1.63h-6.08zM284.01 490.85h6.08v1.63h-6.08zM253.87 498h6.08v1.52h-6.08zM265.93 498h6.08v1.52h-6.08zM265.93 500.93h6.08v1.52h-6.08zM229.76 504.7h6.08v1.82h-6.08zM241.81 504.7h6.08v1.82h-6.08zM265.93 513.23h6.08v1.47h-6.08zM229.76 514.65h6.08v1.47h-6.08zM265.93 514.65h6.08v1.47h-6.08zM265.93 516.08h6.08v1.47h-6.08zM229.76 519.4h6.08v1.63h-6.08zM253.87 524.14h6.08v1.63h-6.08zM253.87 530.89h6.08v1.74h-6.08zM259.9 530.89h6.08v1.74h-6.08zM271.96 530.89h6.08v1.74h-6.08zM229.76 532.58h6.08v1.74h-6.08zM253.87 532.58h6.08v1.74h-6.08zM271.96 532.58h6.08v1.74h-6.08zM253.87 537.64h6.08v1.74h-6.08zM259.9 539.33h6.08v1.74h-6.08z"/><path fill="#bcb9f4" d="M265.93 456h6.08v1.63h-6.08zM290.04 456h6.08v1.63h-6.08zM265.93 457.58h6.08v1.63h-6.08zM271.96 462.34h6.08v1.63h-6.08zM284.01 462.34h6.08v1.63h-6.08zM241.81 467.09h6.08v1.63h-6.08zM271.96 467.09h6.08v1.63h-6.08zM290.04 467.09h6.08v1.63h-6.08zM271.96 468.67h6.08v1.63h-6.08zM284.01 468.67h6.08v1.63h-6.08zM290.04 468.67h6.08v1.63h-6.08zM265.93 471.84h6.08v1.63h-6.08zM284.01 471.84h6.08v1.63h-6.08zM271.96 473.42h6.08v1.63h-6.08zM290.04 481.34h6.08v1.63h-6.08zM271.96 486.1h6.08v1.63h-6.08zM265.93 490.85h6.08v1.63h-6.08zM241.81 494.02h6.08v1.63h-6.08zM229.76 499.47h6.08v1.52h-6.08zM247.84 499.47h6.08v1.52h-6.08zM253.87 500.93h6.08v1.52h-6.08zM259.9 506.47h6.08v1.82h-6.08zM265.93 506.47h6.08v1.82h-6.08zM259.9 508.23h6.08v1.82h-6.08zM241.81 513.23h6.08v1.47h-6.08zM247.84 514.65h6.08v1.47h-6.08zM229.76 516.08h6.08v1.47h-6.08zM247.84 516.08h6.08v1.47h-6.08zM259.9 519.4h6.08v1.63h-6.08zM259.9 520.98h6.08v1.63h-6.08zM229.76 522.56h6.08v1.63h-6.08zM259.9 524.14h6.08v1.63h-6.08zM265.93 524.14h6.08v1.63h-6.08zM284.01 524.14h6.08v1.63h-6.08zM259.9 541.01h6.08v1.74h-6.08z"/><path fill="#c6c3f5" d="M284.01 459.17h6.08v1.63h-6.08zM241.81 460.75h6.08v1.63h-6.08zM284.01 465.5h6.08v1.63h-6.08zM265.93 467.09h6.08v1.63h-6.08zM284.01 470.26h6.08v1.63h-6.08zM265.93 476.59h6.08v1.63h-6.08zM290.04 476.59h6.08v1.63h-6.08zM284.01 478.18h6.08v1.63h-6.08zM290.04 479.76h6.08v1.63h-6.08zM290.04 482.93h6.08v1.63h-6.08zM284.01 486.1h6.08v1.63h-6.08zM290.04 486.1h6.08v1.63h-6.08zM284.01 487.68h6.08v1.63h-6.08zM271.96 489.26h6.08v1.63h-6.08zM284.01 492.43h6.08v1.63h-6.08zM265.93 494.02h6.08v1.63h-6.08zM284.01 494.02h6.08v1.63h-6.08zM259.9 498h6.08v1.52h-6.08zM253.87 499.47h6.08v1.52h-6.08zM271.96 499.47h6.08v1.52h-6.08zM259.9 500.93h6.08v1.52h-6.08zM247.84 506.47h6.08v1.82h-6.08zM229.76 511.8h6.08v1.47h-6.08zM271.96 514.65h6.08v1.47h-6.08zM229.76 520.98h6.08v1.63h-6.08zM247.84 522.56h6.08v1.63h-6.08zM253.87 522.56h6.08v1.63h-6.08zM259.9 522.56h6.08v1.63h-6.08zM271.96 522.56h6.08v1.63h-6.08zM247.84 524.14h6.08v1.63h-6.08zM235.79 530.89h6.08v1.74h-6.08zM229.76 534.26h6.08v1.74h-6.08zM271.96 534.26h6.08v1.74h-6.08zM271.96 539.33h6.08v1.74h-6.08zM271.96 541.01h6.08v1.74h-6.08zM290.04 541.01h6.08v1.74h-6.08z"/><path fill="#d0ccf6" d="M284.01 463.92h6.08v1.63h-6.08zM229.76 470.26h6.08v1.63h-6.08zM284.01 473.42h6.08v1.63h-6.08zM284.01 479.76h6.08v1.63h-6.08zM284.01 481.34h6.08v1.63h-6.08zM284.01 484.51h6.08v1.63h-6.08zM290.04 489.26h6.08v1.63h-6.08zM290.04 490.85h6.08v1.63h-6.08zM290.04 492.43h6.08v1.63h-6.08zM284.01 498h6.08v1.52h-6.08zM277.99 499.47h6.08v1.52h-6.08zM229.76 500.93h6.08v1.52h-6.08zM241.81 508.23h6.08v1.82h-6.08zM271.96 508.23h6.08v1.82h-6.08zM247.84 511.8h6.08v1.47h-6.08zM247.84 513.23h6.08v1.47h-6.08zM284.01 513.23h6.08v1.47h-6.08zM277.99 514.65h6.08v1.47h-6.08zM247.84 519.4h6.08v1.63h-6.08zM265.93 519.4h6.08v1.63h-6.08zM247.84 520.98h6.08v1.63h-6.08zM229.76 525.72h6.08v1.63h-6.08zM235.79 525.72h6.08v1.63h-6.08zM265.93 525.72h6.08v1.63h-6.08zM290.04 525.72h6.08v1.63h-6.08zM259.9 535.95h6.08v1.74h-6.08zM235.79 537.64h6.08v1.74h-6.08z"/><path fill="#dad6f7" d="M284.01 456h6.08v1.63h-6.08zM284.01 457.58h6.08v1.63h-6.08zM259.9 459.17h6.08v1.63h-6.08zM290.04 459.17h6.08v1.63h-6.08zM284.01 460.75h6.08v1.63h-6.08zM290.04 462.34h6.08v1.63h-6.08zM284.01 467.09h6.08v1.63h-6.08zM290.04 471.84h6.08v1.63h-6.08zM290.04 478.18h6.08v1.63h-6.08zM271.96 479.76h6.08v1.63h-6.08zM271.96 482.93h6.08v1.63h-6.08zM284.01 482.93h6.08v1.63h-6.08zM259.9 486.1h6.08v1.63h-6.08zM290.04 487.68h6.08v1.63h-6.08zM290.04 494.02h6.08v1.63h-6.08zM247.84 498h6.08v1.52h-6.08zM290.04 498h6.08v1.52h-6.08zM259.9 499.47h6.08v1.52h-6.08zM284.01 499.47h6.08v1.52h-6.08zM290.04 500.93h6.08v1.52h-6.08zM241.81 511.8h6.08v1.47h-6.08zM259.9 513.23h6.08v1.47h-6.08zM259.9 516.08h6.08v1.47h-6.08zM235.79 519.4h6.08v1.63h-6.08zM271.96 519.4h6.08v1.63h-6.08zM235.79 522.56h6.08v1.63h-6.08zM247.84 525.72h6.08v1.63h-6.08zM271.96 525.72h6.08v1.63h-6.08zM271.96 529.2h6.08v1.74h-6.08zM290.04 530.89h6.08v1.74h-6.08zM284.01 535.95h6.08v1.74h-6.08zM290.04 535.95h6.08v1.74h-6.08zM284.01 537.64h6.08v1.74h-6.08zM253.87 539.33h6.08v1.74h-6.08z"/><path fill="#e3dff7" d="M229.76 463.92h6.08v1.63h-6.08zM290.04 463.92h6.08v1.63h-6.08zM290.04 465.5h6.08v1.63h-6.08zM290.04 470.26h6.08v1.63h-6.08zM259.9 471.84h6.08v1.63h-6.08zM259.9 478.18h6.08v1.63h-6.08zM253.87 479.76h6.08v1.63h-6.08zM253.87 494.02h6.08v1.63h-6.08zM290.04 499.47h6.08v1.52h-6.08zM284.01 500.93h6.08v1.52h-6.08zM259.9 504.7h6.08v1.82h-6.08zM265.93 508.23h6.08v1.82h-6.08zM223.73 511.8h6.08v1.47h-6.08zM271.96 511.8h6.08v1.47h-6.08zM284.01 511.8h6.08v1.47h-6.08zM290.04 511.8h6.08v1.47h-6.08zM271.96 513.23h6.08v1.47h-6.08zM277.99 516.08h6.08v1.47h-6.08zM284.01 516.08h6.08v1.47h-6.08zM290.04 516.08h6.08v1.47h-6.08zM265.93 520.98h6.08v1.63h-6.08zM265.93 522.56h6.08v1.63h-6.08zM229.76 524.14h6.08v1.63h-6.08zM290.04 524.14h6.08v1.63h-6.08zM290.04 529.2h6.08v1.74h-6.08zM284.01 534.26h6.08v1.74h-6.08zM290.04 534.26h6.08v1.74h-6.08zM271.96 537.64h6.08v1.74h-6.08zM290.04 539.33h6.08v1.74h-6.08zM235.79 541.01h6.08v1.74h-6.08z"/><path fill="#f6e6ea" d="M229.76 456h6.08v1.63h-6.08zM259.9 456h6.08v1.63h-6.08zM253.87 457.58h6.08v1.63h-6.08zM259.9 462.34h6.08v1.63h-6.08zM259.9 463.92h6.08v1.63h-6.08zM259.9 465.5h6.08v1.63h-6.08zM253.87 468.67h6.08v1.63h-6.08zM253.87 473.42h6.08v1.63h-6.08zM259.9 473.42h6.08v1.63h-6.08zM253.87 475.01h6.08v1.63h-6.08zM253.87 476.59h6.08v1.63h-6.08zM284.01 476.59h6.08v1.63h-6.08zM253.87 478.18h6.08v1.63h-6.08zM253.87 482.93h6.08v1.63h-6.08zM259.9 484.51h6.08v1.63h-6.08zM229.76 486.1h6.08v1.63h-6.08zM253.87 489.26h6.08v1.63h-6.08zM259.9 489.26h6.08v1.63h-6.08zM229.76 490.85h6.08v1.63h-6.08zM253.87 490.85h6.08v1.63h-6.08zM259.9 492.43h6.08v1.63h-6.08zM235.79 498h6.08v1.52h-6.08zM235.79 500.93h6.08v1.52h-6.08zM253.87 504.7h6.08v1.82h-6.08zM271.96 504.7h6.08v1.82h-6.08zM290.04 504.7h6.08v1.82h-6.08zM235.79 508.23h6.08v1.82h-6.08zM253.87 511.8h6.08v1.47h-6.08zM277.99 513.23h6.08v1.47h-6.08zM223.73 516.08h6.08v1.47h-6.08zM271.96 520.98h6.08v1.63h-6.08zM284.01 520.98h6.08v1.63h-6.08zM290.04 522.56h6.08v1.63h-6.08zM235.79 529.2h6.08v1.74h-6.08zM290.04 537.64h6.08v1.74h-6.08zM235.79 539.33h6.08v1.74h-6.08zM284.01 539.33h6.08v1.74h-6.08z"/><path fill="#f6dfe1" d="M259.9 457.58h6.08v1.63h-6.08zM229.76 460.75h6.08v1.63h-6.08zM253.87 460.75h6.08v1.63h-6.08zM259.9 460.75h6.08v1.63h-6.08zM229.76 465.5h6.08v1.63h-6.08zM229.76 467.09h6.08v1.63h-6.08zM259.9 467.09h6.08v1.63h-6.08zM229.76 468.67h6.08v1.63h-6.08zM253.87 470.26h6.08v1.63h-6.08zM259.9 470.26h6.08v1.63h-6.08zM284.01 475.01h6.08v1.63h-6.08zM229.76 479.76h6.08v1.63h-6.08zM259.9 479.76h6.08v1.63h-6.08zM229.76 481.34h6.08v1.63h-6.08zM253.87 481.34h6.08v1.63h-6.08zM229.76 484.51h6.08v1.63h-6.08zM259.9 487.68h6.08v1.63h-6.08zM253.87 492.43h6.08v1.63h-6.08zM284.01 504.7h6.08v1.82h-6.08zM253.87 506.47h6.08v1.82h-6.08zM290.04 506.47h6.08v1.82h-6.08zM253.87 508.23h6.08v1.82h-6.08zM284.01 508.23h6.08v1.82h-6.08zM277.99 511.8h6.08v1.47h-6.08zM290.04 513.23h6.08v1.47h-6.08zM253.87 514.65h6.08v1.47h-6.08zM259.9 514.65h6.08v1.47h-6.08zM271.96 516.08h6.08v1.47h-6.08zM290.04 519.4h6.08v1.63h-6.08zM235.79 520.98h6.08v1.63h-6.08zM290.04 520.98h6.08v1.63h-6.08zM271.96 524.14h6.08v1.63h-6.08zM284.01 530.89h6.08v1.74h-6.08zM235.79 532.58h6.08v1.74h-6.08zM284.01 532.58h6.08v1.74h-6.08zM290.04 532.58h6.08v1.74h-6.08zM265.93 534.26h6.08v1.74h-6.08z"/><path fill="#f5d7d8" d="M253.87 459.17h6.08v1.63h-6.08zM253.87 463.92h6.08v1.63h-6.08zM235.79 467.09h6.08v1.63h-6.08zM253.87 467.09h6.08v1.63h-6.08zM223.73 468.67h6.08v1.63h-6.08zM229.76 478.18h6.08v1.63h-6.08zM253.87 486.1h6.08v1.63h-6.08zM229.76 487.68h6.08v1.63h-6.08zM284.01 489.26h6.08v1.63h-6.08zM284.01 506.47h6.08v1.82h-6.08zM223.73 513.23h6.08v1.47h-6.08zM253.87 513.23h6.08v1.47h-6.08zM223.73 514.65h6.08v1.47h-6.08zM284.01 522.56h6.08v1.63h-6.08zM235.79 524.14h6.08v1.63h-6.08zM284.01 525.72h6.08v1.63h-6.08zM235.79 534.26h6.08v1.74h-6.08zM235.79 535.95h6.08v1.74h-6.08z"/><path fill="#f5cfcf" d="M229.76 457.58h6.08v1.63h-6.08zM229.76 459.17h6.08v1.63h-6.08zM229.76 462.34h6.08v1.63h-6.08zM253.87 462.34h6.08v1.63h-6.08zM253.87 465.5h6.08v1.63h-6.08zM259.9 468.67h6.08v1.63h-6.08zM229.76 471.84h6.08v1.63h-6.08zM229.76 482.93h6.08v1.63h-6.08zM259.9 482.93h6.08v1.63h-6.08zM259.9 490.85h6.08v1.63h-6.08zM235.79 492.43h6.08v1.63h-6.08zM259.9 494.02h6.08v1.63h-6.08zM235.79 504.7h6.08v1.82h-6.08zM235.79 506.47h6.08v1.82h-6.08zM235.79 511.8h6.08v1.47h-6.08zM235.79 513.23h6.08v1.47h-6.08zM284.01 514.65h6.08v1.47h-6.08zM290.04 514.65h6.08v1.47h-6.08zM253.87 516.08h6.08v1.47h-6.08zM284.01 519.4h6.08v1.63h-6.08zM284.01 541.01h6.08v1.74h-6.08z"/><path fill="#f5c6c5" d="M253.87 456h6.08v1.63h-6.08zM296.07 457.58h6.08v1.63h-6.08zM235.79 459.17h6.08v1.63h-6.08zM235.79 460.75h6.08v1.63h-6.08zM253.87 471.84h6.08v1.63h-6.08zM259.9 475.01h6.08v1.63h-6.08zM229.76 476.59h6.08v1.63h-6.08zM223.73 479.76h6.08v1.63h-6.08zM235.79 479.76h6.08v1.63h-6.08zM259.9 481.34h6.08v1.63h-6.08zM223.73 484.51h6.08v1.63h-6.08zM253.87 484.51h6.08v1.63h-6.08zM223.73 486.1h6.08v1.63h-6.08zM253.87 487.68h6.08v1.63h-6.08zM229.76 489.26h6.08v1.63h-6.08zM229.76 492.43h6.08v1.63h-6.08zM271.96 506.47h6.08v1.82h-6.08zM290.04 508.23h6.08v1.82h-6.08zM235.79 514.65h6.08v1.47h-6.08zM235.79 516.08h6.08v1.47h-6.08zM284.01 529.2h6.08v1.74h-6.08zM265.93 530.89h6.08v1.74h-6.08zM265.93 532.58h6.08v1.74h-6.08zM265.93 541.01h6.08v1.74h-6.08z"/><path fill="#f4bebb" d="M235.79 457.58h6.08v1.63h-6.08zM235.79 462.34h6.08v1.63h-6.08zM223.73 471.84h6.08v1.63h-6.08zM229.76 473.42h6.08v1.63h-6.08zM223.73 475.01h6.08v1.63h-6.08zM259.9 476.59h6.08v1.63h-6.08zM235.79 486.1h6.08v1.63h-6.08zM235.79 490.85h6.08v1.63h-6.08zM229.76 494.02h6.08v1.63h-6.08zM235.79 499.47h6.08v1.52h-6.08zM259.9 511.8h6.08v1.47h-6.08zM296.07 513.23h6.08v1.47h-6.08zM217.7 535.95h6.08v1.74h-6.08z"/><path fill="#f4b5b2" d="M223.73 459.17h6.08v1.63h-6.08zM223.73 462.34h6.08v1.63h-6.08zM223.73 463.92h6.08v1.63h-6.08zM235.79 463.92h6.08v1.63h-6.08zM235.79 473.42h6.08v1.63h-6.08zM229.76 475.01h6.08v1.63h-6.08zM235.79 475.01h6.08v1.63h-6.08zM223.73 476.59h6.08v1.63h-6.08zM235.79 478.18h6.08v1.63h-6.08zM223.73 481.34h6.08v1.63h-6.08zM235.79 484.51h6.08v1.63h-6.08zM223.73 487.68h6.08v1.63h-6.08zM223.73 489.26h6.08v1.63h-6.08zM296.07 489.26h6.08v1.63h-6.08zM223.73 494.02h6.08v1.63h-6.08zM235.79 494.02h6.08v1.63h-6.08zM296.07 516.08h6.08v1.47h-6.08zM217.7 529.2h6.08v1.74h-6.08zM265.93 529.2h6.08v1.74h-6.08zM217.7 534.26h6.08v1.74h-6.08zM217.7 537.64h6.08v1.74h-6.08zM265.93 537.64h6.08v1.74h-6.08zM217.7 539.33h6.08v1.74h-6.08z"/><path fill="#f3ada8" d="M223.73 456h6.08v1.63h-6.08zM223.73 460.75h6.08v1.63h-6.08zM296.07 460.75h6.08v1.63h-6.08zM296.07 462.34h6.08v1.63h-6.08zM235.79 465.5h6.08v1.63h-6.08zM296.07 467.09h6.08v1.63h-6.08zM223.73 470.26h6.08v1.63h-6.08zM235.79 471.84h6.08v1.63h-6.08zM235.79 476.59h6.08v1.63h-6.08zM296.07 479.76h6.08v1.63h-6.08zM235.79 481.34h6.08v1.63h-6.08zM235.79 482.93h6.08v1.63h-6.08zM296.07 482.93h6.08v1.63h-6.08zM235.79 489.26h6.08v1.63h-6.08zM223.73 492.43h6.08v1.63h-6.08zM296.07 511.8h6.08v1.47h-6.08zM296.07 514.65h6.08v1.47h-6.08zM217.7 530.89h6.08v1.74h-6.08zM217.7 532.58h6.08v1.74h-6.08zM265.93 535.95h6.08v1.74h-6.08zM265.93 539.33h6.08v1.74h-6.08zM217.7 541.01h6.08v1.74h-6.08z"/><path fill="#f3a49e" d="M235.79 456h6.08v1.63h-6.08zM223.73 457.58h6.08v1.63h-6.08zM223.73 465.5h6.08v1.63h-6.08zM223.73 467.09h6.08v1.63h-6.08zM235.79 468.67h6.08v1.63h-6.08zM235.79 470.26h6.08v1.63h-6.08zM223.73 473.42h6.08v1.63h-6.08zM296.07 473.42h6.08v1.63h-6.08zM296.07 476.59h6.08v1.63h-6.08zM223.73 478.18h6.08v1.63h-6.08zM296.07 478.18h6.08v1.63h-6.08zM223.73 482.93h6.08v1.63h-6.08zM296.07 484.51h6.08v1.63h-6.08zM296.07 486.1h6.08v1.63h-6.08zM296.07 490.85h6.08v1.63h-6.08zM296.07 492.43h6.08v1.63h-6.08zM241.81 499.47h6.08v1.52h-6.08zM296.07 508.23h6.08v1.82h-6.08z"/><path fill="#f39c94" d="M296.07 456h6.08v1.63h-6.08zM296.07 463.92h6.08v1.63h-6.08zM296.07 465.5h6.08v1.63h-6.08zM296.07 470.26h6.08v1.63h-6.08zM296.07 471.84h6.08v1.63h-6.08zM223.73 490.85h6.08v1.63h-6.08zM217.7 492.43h6.08v1.63h-6.08zM296.07 494.02h6.08v1.63h-6.08zM296.07 498h6.08v1.52h-6.08zM296.07 504.7h6.08v1.82h-6.08zM296.07 522.56h6.08v1.63h-6.08zM296.07 534.26h6.08v1.74h-6.08z"/><path fill="#f29389" d="M296.07 468.67h6.08v1.63h-6.08zM296.07 475.01h6.08v1.63h-6.08zM296.07 481.34h6.08v1.63h-6.08zM296.07 487.68h6.08v1.63h-6.08zM241.81 498h6.08v1.52h-6.08zM296.07 500.93h6.08v1.52h-6.08zM296.07 506.47h6.08v1.82h-6.08zM277.99 508.23h6.08v1.82h-6.08zM217.7 516.08h6.08v1.47h-6.08zM296.07 519.4h6.08v1.63h-6.08zM296.07 524.14h6.08v1.63h-6.08zM296.07 525.72h6.08v1.63h-6.08zM296.07 529.2h6.08v1.74h-6.08z"/><path fill="#f28a7f" d="M296.07 459.17h6.08v1.63h-6.08zM217.7 460.75h6.08v1.63h-6.08zM217.7 487.68h6.08v1.63h-6.08zM235.79 487.68h6.08v1.63h-6.08zM296.07 499.47h6.08v1.52h-6.08zM223.73 500.93h6.08v1.52h-6.08zM241.81 500.93h6.08v1.52h-6.08zM277.99 506.47h6.08v1.82h-6.08zM217.7 513.23h6.08v1.47h-6.08zM241.81 519.4h6.08v1.63h-6.08zM241.81 522.56h6.08v1.63h-6.08zM277.99 522.56h6.08v1.63h-6.08zM241.81 525.72h6.08v1.63h-6.08zM241.81 535.95h6.08v1.74h-6.08zM277.99 535.95h6.08v1.74h-6.08zM296.07 535.95h6.08v1.74h-6.08z"/><path fill="#f18175" d="M277.99 459.17h6.08v1.63h-6.08zM217.7 467.09h6.08v1.63h-6.08zM217.7 468.67h6.08v1.63h-6.08zM277.99 478.18h6.08v1.63h-6.08zM277.99 479.76h6.08v1.63h-6.08zM217.7 490.85h6.08v1.63h-6.08zM217.7 514.65h6.08v1.47h-6.08zM223.73 530.89h6.08v1.74h-6.08zM296.07 530.89h6.08v1.74h-6.08zM277.99 537.64h6.08v1.74h-6.08zM223.73 539.33h6.08v1.74h-6.08zM241.81 539.33h6.08v1.74h-6.08zM241.81 541.01h6.08v1.74h-6.08zM296.07 541.01h6.08v1.74h-6.08z"/><path fill="#f1796b" d="M277.99 457.58h6.08v1.63h-6.08zM217.7 462.34h6.08v1.63h-6.08zM277.99 463.92h6.08v1.63h-6.08zM217.7 465.5h6.08v1.63h-6.08zM217.7 478.18h6.08v1.63h-6.08zM217.7 479.76h6.08v1.63h-6.08zM217.7 482.93h6.08v1.63h-6.08zM217.7 486.1h6.08v1.63h-6.08zM217.7 489.26h6.08v1.63h-6.08zM223.73 504.7h6.08v1.82h-6.08zM223.73 508.23h6.08v1.82h-6.08zM217.7 511.8h6.08v1.47h-6.08zM277.99 520.98h6.08v1.63h-6.08zM296.07 520.98h6.08v1.63h-6.08zM241.81 529.2h6.08v1.74h-6.08zM241.81 532.58h6.08v1.74h-6.08zM296.07 532.58h6.08v1.74h-6.08zM296.07 539.33h6.08v1.74h-6.08z"/><path fill="#f07060" d="M217.7 456h6.08v1.63h-6.08zM217.7 457.58h6.08v1.63h-6.08zM217.7 459.17h6.08v1.63h-6.08zM277.99 467.09h6.08v1.63h-6.08zM217.7 470.26h6.08v1.63h-6.08zM217.7 475.01h6.08v1.63h-6.08zM217.7 484.51h6.08v1.63h-6.08zM277.99 486.1h6.08v1.63h-6.08zM277.99 504.7h6.08v1.82h-6.08zM223.73 506.47h6.08v1.82h-6.08zM277.99 519.4h6.08v1.63h-6.08zM223.73 524.14h6.08v1.63h-6.08zM241.81 524.14h6.08v1.63h-6.08zM277.99 524.14h6.08v1.63h-6.08zM223.73 525.72h6.08v1.63h-6.08zM223.73 529.2h6.08v1.74h-6.08zM277.99 529.2h6.08v1.74h-6.08zM277.99 532.58h6.08v1.74h-6.08zM241.81 537.64h6.08v1.74h-6.08zM296.07 537.64h6.08v1.74h-6.08z"/><path fill="#f06756" d="M277.99 456h6.08v1.63h-6.08zM277.99 468.67h6.08v1.63h-6.08zM217.7 471.84h6.08v1.63h-6.08zM217.7 476.59h6.08v1.63h-6.08zM277.99 476.59h6.08v1.63h-6.08zM217.7 481.34h6.08v1.63h-6.08zM277.99 484.51h6.08v1.63h-6.08zM217.7 494.02h6.08v1.63h-6.08zM277.99 494.02h6.08v1.63h-6.08zM223.73 498h6.08v1.52h-6.08zM223.73 499.47h6.08v1.52h-6.08zM223.73 519.4h6.08v1.63h-6.08zM223.73 520.98h6.08v1.63h-6.08zM241.81 520.98h6.08v1.63h-6.08zM223.73 522.56h6.08v1.63h-6.08zM277.99 525.72h6.08v1.63h-6.08zM241.81 530.89h6.08v1.74h-6.08zM223.73 534.26h6.08v1.74h-6.08zM223.73 535.95h6.08v1.74h-6.08zM223.73 537.64h6.08v1.74h-6.08z"/><path fill="#f05e4c" d="M217.7 463.92h6.08v1.63h-6.08zM277.99 471.84h6.08v1.63h-6.08zM217.7 473.42h6.08v1.63h-6.08zM277.99 481.34h6.08v1.63h-6.08zM277.99 482.93h6.08v1.63h-6.08zM277.99 490.85h6.08v1.63h-6.08zM277.99 492.43h6.08v1.63h-6.08z"/><path fill="#ef5541" d="M277.99 462.34h6.08v1.63h-6.08zM277.99 470.26h6.08v1.63h-6.08zM277.99 475.01h6.08v1.63h-6.08zM241.81 534.26h6.08v1.74h-6.08zM277.99 539.33h6.08v1.74h-6.08z"/><path fill="#ef4c37" d="M277.99 473.42h6.08v1.63h-6.08zM277.99 487.68h6.08v1.63h-6.08zM277.99 489.26h6.08v1.63h-6.08zM277.99 530.89h6.08v1.74h-6.08zM223.73 532.58h6.08v1.74h-6.08zM277.99 534.26h6.08v1.74h-6.08zM223.73 541.01h6.08v1.74h-6.08z"/><path fill="#ee432c" d="M277.99 460.75h6.08v1.63h-6.08zM277.99 465.5h6.08v1.63h-6.08zM277.99 541.01h6.08v1.74h-6.08z"/>
<text x="259.9" y="439.2" font-size="6.7" text-anchor="middle" fill="#222" stroke="#222" stroke-width="0.12">0.25</text>
<line x1="220.71" y1="442.5" x2="220.71" y2="453" stroke="#444455" stroke-width="0.8"/><path d="M220.71,444.8L221.51,447L220.71,449.2L219.91,447Z" fill="#444455" stroke="#444455" stroke-width="0.7"/><line x1="226.74" y1="442.5" x2="226.74" y2="453" stroke="#444455" stroke-width="0.8"/><path d="M226.74,443.8L227.54,446L226.74,448.2L225.94,446Z" fill="#444455" stroke="#444455" stroke-width="0.7"/><line x1="232.77" y1="442.5" x2="232.77" y2="453" stroke="#444455" stroke-width="0.8"/><path d="M232.77,444.8L233.57,447L232.77,449.2L231.97,447Z" fill="#444455" stroke="#444455" stroke-width="0.7"/><line x1="238.8" y1="442.5" x2="238.8" y2="453" stroke="#444455" stroke-width="0.8"/><path d="M238.8,444.8L239.6,447L238.8,449.2L238,447Z" fill="#444455" stroke="#444455" stroke-width="0.7"/><line x1="244.83" y1="442.5" x2="244.83" y2="453" stroke="#444455" stroke-width="0.8"/><path d="M244.83,444.8L245.63,447L244.83,449.2L244.03,447Z" fill="#444455" stroke="#444455" stroke-width="0.7"/><line x1="250.86" y1="442.5" x2="250.86" y2="453" stroke="#444455" stroke-width="0.8"/><path d="M250.86,445.8L251.66,448L250.86,450.2L250.06,448Z" fill="#444455" stroke="#444455" stroke-width="0.7"/><line x1="256.89" y1="442.5" x2="256.89" y2="453" stroke="#444455" stroke-width="0.8"/><path d="M256.89,445.8L257.69,448L256.89,450.2L256.09,448Z" fill="#444455" stroke="#444455" stroke-width="0.7"/><line x1="262.91" y1="442.5" x2="262.91" y2="453" stroke="#444455" stroke-width="0.8"/><path d="M262.91,445.8L263.71,448L262.91,450.2L262.11,448Z" fill="#444455" stroke="#444455" stroke-width="0.7"/><line x1="268.94" y1="442.5" x2="268.94" y2="453" stroke="#444455" stroke-width="0.8"/><path d="M268.94,445.8L269.74,448L268.94,450.2L268.14,448Z" fill="#444455" stroke="#444455" stroke-width="0.7"/><line x1="274.97" y1="442.5" x2="274.97" y2="453" stroke="#444455" stroke-width="0.8"/><path d="M274.97,446.8L275.77,449L274.97,451.2L274.17,449Z" fill="#444455" stroke="#444455" stroke-width="0.7"/><line x1="281" y1="442.5" x2="281" y2="453" stroke="#444455" stroke-width="0.8"/><path d="M281,444.8L281.8,447L281,449.2L280.2,447Z" fill="#444455" stroke="#444455" stroke-width="0.7"/><line x1="287.03" y1="442.5" x2="287.03" y2="453" stroke="#2a2a7a" stroke-width="0.8"/><path d="M287.03,448L288.33,449L287.03,450L285.73,449Z" fill="#2a2a7a" stroke="#2a2a7a" stroke-width="0.7"/><line x1="293.06" y1="442.5" x2="293.06" y2="453" stroke="#2a2a7a" stroke-width="0.8"/><path d="M293.06,447L294.36,448L293.06,449L291.76,448Z" fill="#2a2a7a" stroke="#2a2a7a" stroke-width="0.7"/><line x1="299.09" y1="442.5" x2="299.09" y2="453" stroke="#2a2a7a" stroke-width="0.8"/><path d="M299.09,446L300.39,447L299.09,448L297.79,447Z" fill="#2a2a7a" stroke="#2a2a7a" stroke-width="0.7"/>
<text x="223.31" y="545.2" font-size="6.9" text-anchor="end" fill="#333" stroke="#333" stroke-width="0.12" transform="rotate(-90 223.31 545.2)">CD197</text>
<text x="229.34" y="545.2" font-size="6.9" text-anchor="end" fill="#333" stroke="#333" stroke-width="0.12" transform="rotate(-90 229.34 545.2)">CD43</text>
<text x="235.37" y="545.2" font-size="6.9" text-anchor="end" fill="#333" stroke="#333" stroke-width="0.12" transform="rotate(-90 235.37 545.2)">CD49b</text>
<text x="241.4" y="545.2" font-size="6.9" text-anchor="end" fill="#333" stroke="#333" stroke-width="0.12" transform="rotate(-90 241.4 545.2)">CD39</text>
<text x="247.43" y="545.2" font-size="6.9" text-anchor="end" fill="#333" stroke="#333" stroke-width="0.12" transform="rotate(-90 247.43 545.2)">CD26</text>
<text x="253.46" y="545.2" font-size="6.9" text-anchor="end" fill="#333" stroke="#333" stroke-width="0.12" transform="rotate(-90 253.46 545.2)">FSCA</text>
<text x="259.49" y="545.2" font-size="6.9" text-anchor="end" fill="#333" stroke="#333" stroke-width="0.12" transform="rotate(-90 259.49 545.2)">CD279</text>
<text x="265.51" y="545.2" font-size="6.9" text-anchor="end" fill="#333" stroke="#333" stroke-width="0.12" transform="rotate(-90 265.51 545.2)">CD70</text>
<text x="271.54" y="545.2" font-size="6.9" text-anchor="end" fill="#333" stroke="#333" stroke-width="0.12" transform="rotate(-90 271.54 545.2)">CD45RA</text>
<text x="277.57" y="545.2" font-size="6.9" text-anchor="end" fill="#333" stroke="#333" stroke-width="0.12" transform="rotate(-90 277.57 545.2)">CLA</text>
<text x="283.6" y="545.2" font-size="6.9" text-anchor="end" fill="#333" stroke="#333" stroke-width="0.12" transform="rotate(-90 283.6 545.2)">CD62L</text>
<text x="289.63" y="545.2" font-size="6.9" text-anchor="end" fill="#333" stroke="#333" stroke-width="0.12" transform="rotate(-90 289.63 545.2)">CD7</text>
<text x="295.66" y="545.2" font-size="6.9" text-anchor="end" fill="#333" stroke="#333" stroke-width="0.12" transform="rotate(-90 295.66 545.2)">CD164</text>
<text x="301.69" y="545.2" font-size="6.9" text-anchor="end" fill="#333" stroke="#333" stroke-width="0.12" transform="rotate(-90 301.69 545.2)">CD3</text>
<rect x="309.1" y="455.7" width="3.8" height="3.7" fill="#5b86c0"/><rect x="309.1" y="461" width="3.8" height="13.1" fill="#86c38a"/><rect x="309.1" y="477.3" width="3.8" height="21.7" fill="#6a2a16"/><rect x="309.1" y="500.5" width="3.8" height="5.7" fill="#f2b0b4"/><rect x="309.1" y="508" width="3.8" height="34.7" fill="#9a64b0"/><path fill="#1e1ee8" d="M316.7 461h6.11v1.69h-6.11zM316.7 462.64h6.11v1.69h-6.11zM316.7 467.55h6.11v1.69h-6.11zM316.7 470.83h6.11v1.69h-6.11z"/><path fill="#2929e9" d="M316.7 464.27h6.11v1.69h-6.11zM316.7 501.93h6.11v1.47h-6.11z"/><path fill="#3433ea" d="M316.7 503.35h6.11v1.47h-6.11z"/><path fill="#3e3eeb" d="M316.7 465.91h6.11v1.69h-6.11zM316.7 500.5h6.11v1.47h-6.11zM316.7 504.77h6.11v1.47h-6.11zM346.99 522.2h6.11v1.63h-6.11z"/><path fill="#4948eb" d="M316.7 469.19h6.11v1.69h-6.11zM316.7 472.46h6.11v1.69h-6.11zM346.99 515.89h6.11v1.63h-6.11zM346.99 523.77h6.11v1.63h-6.11z"/><path fill="#5453ec" d="M346.99 461h6.11v1.69h-6.11zM346.99 511.15h6.11v1.63h-6.11zM346.99 517.46h6.11v1.63h-6.11zM346.99 528.5h6.11v1.63h-6.11zM346.99 530.08h6.11v1.63h-6.11zM346.99 534.81h6.11v1.63h-6.11z"/><path fill="#5e5ded" d="M346.99 457.55h6.11v1.9h-6.11zM346.99 465.91h6.11v1.69h-6.11zM346.99 512.73h6.11v1.63h-6.11zM346.99 514.31h6.11v1.63h-6.11zM346.99 526.93h6.11v1.63h-6.11zM346.99 531.66h6.11v1.63h-6.11zM346.99 533.24h6.11v1.63h-6.11zM346.99 537.97h6.11v1.63h-6.11zM346.99 539.55h6.11v1.63h-6.11zM346.99 541.12h6.11v1.63h-6.11z"/><path fill="#6967ee" d="M346.99 525.35h6.11v1.63h-6.11zM346.99 536.39h6.11v1.63h-6.11z"/><path fill="#7472ef" d="M346.99 477.3h6.11v1.6h-6.11zM340.93 485.05h6.11v1.6h-6.11zM340.93 488.15h6.11v1.6h-6.11zM328.81 494.35h6.11v1.6h-6.11zM346.99 497.45h6.11v1.6h-6.11zM346.99 520.62h6.11v1.63h-6.11z"/><path fill="#7e7cef" d="M346.99 462.64h6.11v1.69h-6.11zM377.27 470.83h6.11v1.69h-6.11zM340.93 477.3h6.11v1.6h-6.11zM340.93 480.4h6.11v1.6h-6.11zM365.16 481.95h6.11v1.6h-6.11zM346.99 485.05h6.11v1.6h-6.11zM340.93 486.6h6.11v1.6h-6.11zM346.99 486.6h6.11v1.6h-6.11zM328.81 488.15h6.11v1.6h-6.11zM365.16 489.7h6.11v1.6h-6.11zM328.81 492.8h6.11v1.6h-6.11zM340.93 492.8h6.11v1.6h-6.11zM346.99 508h6.11v1.63h-6.11zM346.99 509.58h6.11v1.63h-6.11zM346.99 519.04h6.11v1.63h-6.11z"/><path fill="#8986f0" d="M365.16 455.7h6.11v1.9h-6.11zM389.39 457.55h6.11v1.9h-6.11zM346.99 464.27h6.11v1.69h-6.11zM328.81 467.55h6.11v1.69h-6.11zM346.99 467.55h6.11v1.69h-6.11zM371.21 467.55h6.11v1.69h-6.11zM353.04 469.19h6.11v1.69h-6.11zM328.81 478.85h6.11v1.6h-6.11zM346.99 478.85h6.11v1.6h-6.11zM365.16 478.85h6.11v1.6h-6.11zM328.81 483.5h6.11v1.6h-6.11zM340.93 483.5h6.11v1.6h-6.11zM365.16 483.5h6.11v1.6h-6.11zM328.81 486.6h6.11v1.6h-6.11zM328.81 489.7h6.11v1.6h-6.11zM346.99 489.7h6.11v1.6h-6.11zM328.81 491.25h6.11v1.6h-6.11zM346.99 491.25h6.11v1.6h-6.11zM340.93 494.35h6.11v1.6h-6.11zM346.99 495.9h6.11v1.6h-6.11zM365.16 495.9h6.11v1.6h-6.11zM365.16 497.45h6.11v1.6h-6.11zM359.1 501.93h6.11v1.47h-6.11zM359.1 511.15h6.11v1.63h-6.11zM328.81 523.77h6.11v1.63h-6.11zM359.1 523.77h6.11v1.63h-6.11zM328.81 536.39h6.11v1.63h-6.11z"/><path fill="#9391f1" d="M346.99 455.7h6.11v1.9h-6.11zM353.04 461h6.11v1.69h-6.11zM359.1 461h6.11v1.69h-6.11zM365.16 461h6.11v1.69h-6.11zM377.27 462.64h6.11v1.69h-6.11zM377.27 464.27h6.11v1.69h-6.11zM377.27 467.55h6.11v1.69h-6.11zM371.21 469.19h6.11v1.69h-6.11zM353.04 472.46h6.11v1.69h-6.11zM377.27 472.46h6.11v1.69h-6.11zM365.16 477.3h6.11v1.6h-6.11zM328.81 480.4h6.11v1.6h-6.11zM346.99 480.4h6.11v1.6h-6.11zM328.81 481.95h6.11v1.6h-6.11zM340.93 481.95h6.11v1.6h-6.11zM346.99 481.95h6.11v1.6h-6.11zM346.99 483.5h6.11v1.6h-6.11zM365.16 486.6h6.11v1.6h-6.11zM340.93 491.25h6.11v1.6h-6.11zM346.99 492.8h6.11v1.6h-6.11zM365.16 494.35h6.11v1.6h-6.11zM340.93 495.9h6.11v1.6h-6.11zM328.81 497.45h6.11v1.6h-6.11zM340.93 497.45h6.11v1.6h-6.11zM371.21 503.35h6.11v1.47h-6.11zM371.21 504.77h6.11v1.47h-6.11zM353.04 517.46h6.11v1.63h-6.11zM328.81 519.04h6.11v1.63h-6.11zM371.21 519.04h6.11v1.63h-6.11zM328.81 520.62h6.11v1.63h-6.11zM328.81 530.08h6.11v1.63h-6.11zM328.81 534.81h6.11v1.63h-6.11zM328.81 541.12h6.11v1.63h-6.11z"/><path fill="#9d9bf2" d="M389.39 455.7h6.11v1.9h-6.11zM377.27 461h6.11v1.69h-6.11zM328.81 462.64h6.11v1.69h-6.11zM371.21 464.27h6.11v1.69h-6.11zM328.81 465.91h6.11v1.69h-6.11zM365.16 465.91h6.11v1.69h-6.11zM377.27 465.91h6.11v1.69h-6.11zM359.1 469.19h6.11v1.69h-6.11zM328.81 470.83h6.11v1.69h-6.11zM359.1 470.83h6.11v1.69h-6.11zM371.21 472.46h6.11v1.69h-6.11zM340.93 478.85h6.11v1.6h-6.11zM377.27 480.4h6.11v1.6h-6.11zM377.27 483.5h6.11v1.6h-6.11zM340.93 489.7h6.11v1.6h-6.11zM377.27 489.7h6.11v1.6h-6.11zM346.99 494.35h6.11v1.6h-6.11zM328.81 495.9h6.11v1.6h-6.11zM328.81 500.5h6.11v1.47h-6.11zM371.21 500.5h6.11v1.47h-6.11zM365.16 501.93h6.11v1.47h-6.11zM346.99 504.77h6.11v1.47h-6.11zM359.1 508h6.11v1.63h-6.11zM328.81 509.58h6.11v1.63h-6.11zM371.21 509.58h6.11v1.63h-6.11zM359.1 512.73h6.11v1.63h-6.11zM328.81 514.31h6.11v1.63h-6.11zM359.1 520.62h6.11v1.63h-6.11zM353.04 525.35h6.11v1.63h-6.11zM359.1 525.35h6.11v1.63h-6.11zM328.81 526.93h6.11v1.63h-6.11zM359.1 531.66h6.11v1.63h-6.11zM353.04 533.24h6.11v1.63h-6.11zM353.04 534.81h6.11v1.63h-6.11zM328.81 539.55h6.11v1.63h-6.11z"/><path fill="#a8a5f3" d="M371.21 455.7h6.11v1.9h-6.11zM328.81 461h6.11v1.69h-6.11zM371.21 462.64h6.11v1.69h-6.11zM353.04 465.91h6.11v1.69h-6.11zM359.1 465.91h6.11v1.69h-6.11zM346.99 469.19h6.11v1.69h-6.11zM377.27 469.19h6.11v1.69h-6.11zM346.99 470.83h6.11v1.69h-6.11zM353.04 470.83h6.11v1.69h-6.11zM371.21 470.83h6.11v1.69h-6.11zM328.81 472.46h6.11v1.69h-6.11zM328.81 477.3h6.11v1.6h-6.11zM377.27 477.3h6.11v1.6h-6.11zM365.16 480.4h6.11v1.6h-6.11zM377.27 481.95h6.11v1.6h-6.11zM365.16 485.05h6.11v1.6h-6.11zM377.27 485.05h6.11v1.6h-6.11zM346.99 488.15h6.11v1.6h-6.11zM377.27 488.15h6.11v1.6h-6.11zM365.16 492.8h6.11v1.6h-6.11zM377.27 494.35h6.11v1.6h-6.11zM365.16 500.5h6.11v1.47h-6.11zM353.04 508h6.11v1.63h-6.11zM328.81 511.15h6.11v1.63h-6.11zM353.04 511.15h6.11v1.63h-6.11zM371.21 511.15h6.11v1.63h-6.11zM328.81 512.73h6.11v1.63h-6.11zM353.04 514.31h6.11v1.63h-6.11zM328.81 515.89h6.11v1.63h-6.11zM328.81 517.46h6.11v1.63h-6.11zM359.1 519.04h6.11v1.63h-6.11zM328.81 522.2h6.11v1.63h-6.11zM359.1 522.2h6.11v1.63h-6.11zM353.04 523.77h6.11v1.63h-6.11zM353.04 528.5h6.11v1.63h-6.11zM359.1 533.24h6.11v1.63h-6.11zM359.1 534.81h6.11v1.63h-6.11zM353.04 536.39h6.11v1.63h-6.11zM328.81 537.97h6.11v1.63h-6.11zM371.21 539.55h6.11v1.63h-6.11zM359.1 541.12h6.11v1.63h-6.11z"/><path fill="#b2aff3" d="M340.93 455.7h6.11v1.9h-6.11zM365.16 457.55h6.11v1.9h-6.11zM359.1 462.64h6.11v1.69h-6.11zM328.81 464.27h6.11v1.69h-6.11zM353.04 464.27h6.11v1.69h-6.11zM353.04 467.55h6.11v1.69h-6.11zM359.1 467.55h6.11v1.69h-6.11zM365.16 469.19h6.11v1.69h-6.11zM359.1 472.46h6.11v1.69h-6.11zM377.27 478.85h6.11v1.6h-6.11zM328.81 485.05h6.11v1.6h-6.11zM365.16 488.15h6.11v1.6h-6.11zM365.16 491.25h6.11v1.6h-6.11zM377.27 492.8h6.11v1.6h-6.11zM377.27 495.9h6.11v1.6h-6.11zM346.99 501.93h6.11v1.47h-6.11zM371.21 501.93h6.11v1.47h-6.11zM328.81 503.35h6.11v1.47h-6.11zM365.16 503.35h6.11v1.47h-6.11zM328.81 504.77h6.11v1.47h-6.11zM359.1 504.77h6.11v1.47h-6.11zM371.21 508h6.11v1.63h-6.11zM353.04 509.58h6.11v1.63h-6.11zM359.1 509.58h6.11v1.63h-6.11zM359.1 514.31h6.11v1.63h-6.11zM353.04 520.62h6.11v1.63h-6.11zM371.21 522.2h6.11v1.63h-6.11zM328.81 525.35h6.11v1.63h-6.11zM359.1 526.93h6.11v1.63h-6.11zM328.81 528.5h6.11v1.63h-6.11zM359.1 530.08h6.11v1.63h-6.11zM328.81 531.66h6.11v1.63h-6.11zM353.04 531.66h6.11v1.63h-6.11zM353.04 539.55h6.11v1.63h-6.11z"/><path fill="#bcb9f4" d="M371.21 461h6.11v1.69h-6.11zM353.04 462.64h6.11v1.69h-6.11zM365.16 464.27h6.11v1.69h-6.11zM371.21 465.91h6.11v1.69h-6.11zM365.16 470.83h6.11v1.69h-6.11zM346.99 472.46h6.11v1.69h-6.11zM377.27 491.25h6.11v1.6h-6.11zM377.27 497.45h6.11v1.6h-6.11zM346.99 500.5h6.11v1.47h-6.11zM353.04 500.5h6.11v1.47h-6.11zM353.04 503.35h6.11v1.47h-6.11zM353.04 504.77h6.11v1.47h-6.11zM365.16 504.77h6.11v1.47h-6.11zM328.81 508h6.11v1.63h-6.11zM353.04 522.2h6.11v1.63h-6.11zM371.21 523.77h6.11v1.63h-6.11zM371.21 525.35h6.11v1.63h-6.11zM353.04 526.93h6.11v1.63h-6.11zM359.1 528.5h6.11v1.63h-6.11zM328.81 533.24h6.11v1.63h-6.11zM359.1 536.39h6.11v1.63h-6.11zM371.21 536.39h6.11v1.63h-6.11zM383.33 536.39h6.11v1.63h-6.11zM353.04 537.97h6.11v1.63h-6.11zM359.1 537.97h6.11v1.63h-6.11zM359.1 539.55h6.11v1.63h-6.11z"/><path fill="#c6c3f5" d="M340.93 457.55h6.11v1.9h-6.11zM365.16 462.64h6.11v1.69h-6.11zM359.1 464.27h6.11v1.69h-6.11zM365.16 472.46h6.11v1.69h-6.11zM377.27 486.6h6.11v1.6h-6.11zM359.1 500.5h6.11v1.47h-6.11zM328.81 501.93h6.11v1.47h-6.11zM353.04 501.93h6.11v1.47h-6.11zM346.99 503.35h6.11v1.47h-6.11zM359.1 503.35h6.11v1.47h-6.11zM353.04 512.73h6.11v1.63h-6.11zM371.21 512.73h6.11v1.63h-6.11zM359.1 515.89h6.11v1.63h-6.11zM371.21 515.89h6.11v1.63h-6.11zM359.1 517.46h6.11v1.63h-6.11zM371.21 520.62h6.11v1.63h-6.11zM334.87 526.93h6.11v1.63h-6.11zM371.21 526.93h6.11v1.63h-6.11zM353.04 530.08h6.11v1.63h-6.11zM371.21 533.24h6.11v1.63h-6.11zM389.39 537.97h6.11v1.63h-6.11z"/><path fill="#d0ccf6" d="M371.21 457.55h6.11v1.9h-6.11zM389.39 464.27h6.11v1.69h-6.11zM365.16 467.55h6.11v1.69h-6.11zM328.81 469.19h6.11v1.69h-6.11zM389.39 470.83h6.11v1.69h-6.11zM383.33 472.46h6.11v1.69h-6.11zM322.76 477.3h6.11v1.6h-6.11zM322.76 480.4h6.11v1.6h-6.11zM322.76 486.6h6.11v1.6h-6.11zM389.39 514.31h6.11v1.63h-6.11zM353.04 515.89h6.11v1.63h-6.11zM353.04 519.04h6.11v1.63h-6.11zM389.39 528.5h6.11v1.63h-6.11zM334.87 530.08h6.11v1.63h-6.11zM371.21 530.08h6.11v1.63h-6.11zM389.39 539.55h6.11v1.63h-6.11zM353.04 541.12h6.11v1.63h-6.11z"/><path fill="#dad6f7" d="M328.81 455.7h6.11v1.9h-6.11zM359.1 457.55h6.11v1.9h-6.11zM334.87 465.91h6.11v1.69h-6.11zM371.21 481.95h6.11v1.6h-6.11zM322.76 485.05h6.11v1.6h-6.11zM322.76 491.25h6.11v1.6h-6.11zM353.04 491.25h6.11v1.6h-6.11zM371.21 492.8h6.11v1.6h-6.11zM389.39 495.9h6.11v1.6h-6.11zM383.33 501.93h6.11v1.47h-6.11zM389.39 504.77h6.11v1.47h-6.11zM371.21 517.46h6.11v1.63h-6.11zM389.39 520.62h6.11v1.63h-6.11zM383.33 526.93h6.11v1.63h-6.11zM389.39 526.93h6.11v1.63h-6.11zM371.21 531.66h6.11v1.63h-6.11zM383.33 534.81h6.11v1.63h-6.11zM371.21 537.97h6.11v1.63h-6.11zM371.21 541.12h6.11v1.63h-6.11zM389.39 541.12h6.11v1.63h-6.11z"/><path fill="#e3dff7" d="M383.33 455.7h6.11v1.9h-6.11zM328.81 457.55h6.11v1.9h-6.11zM353.04 457.55h6.11v1.9h-6.11zM334.87 462.64h6.11v1.69h-6.11zM383.33 465.91h6.11v1.69h-6.11zM383.33 467.55h6.11v1.69h-6.11zM383.33 469.19h6.11v1.69h-6.11zM389.39 469.19h6.11v1.69h-6.11zM371.21 485.05h6.11v1.6h-6.11zM383.33 485.05h6.11v1.6h-6.11zM371.21 486.6h6.11v1.6h-6.11zM389.39 486.6h6.11v1.6h-6.11zM322.76 488.15h6.11v1.6h-6.11zM389.39 489.7h6.11v1.6h-6.11zM322.76 495.9h6.11v1.6h-6.11zM334.87 495.9h6.11v1.6h-6.11zM322.76 497.45h6.11v1.6h-6.11zM389.39 500.5h6.11v1.47h-6.11zM334.87 503.35h6.11v1.47h-6.11zM389.39 508h6.11v1.63h-6.11zM383.33 509.58h6.11v1.63h-6.11zM334.87 511.15h6.11v1.63h-6.11zM389.39 511.15h6.11v1.63h-6.11zM334.87 512.73h6.11v1.63h-6.11zM389.39 512.73h6.11v1.63h-6.11zM371.21 514.31h6.11v1.63h-6.11zM389.39 515.89h6.11v1.63h-6.11zM334.87 517.46h6.11v1.63h-6.11zM389.39 517.46h6.11v1.63h-6.11zM389.39 522.2h6.11v1.63h-6.11zM334.87 523.77h6.11v1.63h-6.11zM389.39 523.77h6.11v1.63h-6.11zM334.87 525.35h6.11v1.63h-6.11zM371.21 528.5h6.11v1.63h-6.11zM389.39 530.08h6.11v1.63h-6.11zM389.39 531.66h6.11v1.63h-6.11zM371.21 534.81h6.11v1.63h-6.11zM334.87 537.97h6.11v1.63h-6.11zM334.87 539.55h6.11v1.63h-6.11zM383.33 541.12h6.11v1.63h-6.11z"/><path fill="#f6e6ea" d="M353.04 455.7h6.11v1.9h-6.11zM383.33 464.27h6.11v1.69h-6.11zM389.39 465.91h6.11v1.69h-6.11zM334.87 467.55h6.11v1.69h-6.11zM383.33 470.83h6.11v1.69h-6.11zM371.21 477.3h6.11v1.6h-6.11zM322.76 483.5h6.11v1.6h-6.11zM389.39 485.05h6.11v1.6h-6.11zM353.04 486.6h6.11v1.6h-6.11zM353.04 488.15h6.11v1.6h-6.11zM383.33 488.15h6.11v1.6h-6.11zM322.76 489.7h6.11v1.6h-6.11zM371.21 489.7h6.11v1.6h-6.11zM383.33 489.7h6.11v1.6h-6.11zM389.39 491.25h6.11v1.6h-6.11zM322.76 492.8h6.11v1.6h-6.11zM383.33 492.8h6.11v1.6h-6.11zM334.87 494.35h6.11v1.6h-6.11zM371.21 494.35h6.11v1.6h-6.11zM383.33 494.35h6.11v1.6h-6.11zM389.39 494.35h6.11v1.6h-6.11zM334.87 500.5h6.11v1.47h-6.11zM383.33 500.5h6.11v1.47h-6.11zM383.33 503.35h6.11v1.47h-6.11zM334.87 504.77h6.11v1.47h-6.11zM334.87 508h6.11v1.63h-6.11zM383.33 511.15h6.11v1.63h-6.11zM383.33 512.73h6.11v1.63h-6.11zM334.87 515.89h6.11v1.63h-6.11zM383.33 515.89h6.11v1.63h-6.11zM334.87 519.04h6.11v1.63h-6.11zM383.33 519.04h6.11v1.63h-6.11zM383.33 520.62h6.11v1.63h-6.11zM383.33 523.77h6.11v1.63h-6.11zM383.33 525.35h6.11v1.63h-6.11zM389.39 525.35h6.11v1.63h-6.11zM383.33 528.5h6.11v1.63h-6.11zM334.87 534.81h6.11v1.63h-6.11zM389.39 536.39h6.11v1.63h-6.11zM383.33 539.55h6.11v1.63h-6.11zM334.87 541.12h6.11v1.63h-6.11z"/><path fill="#f6dfe1" d="M322.76 455.7h6.11v1.9h-6.11zM334.87 457.55h6.11v1.9h-6.11zM383.33 457.55h6.11v1.9h-6.11zM334.87 461h6.11v1.69h-6.11zM389.39 461h6.11v1.69h-6.11zM334.87 464.27h6.11v1.69h-6.11zM334.87 472.46h6.11v1.69h-6.11zM389.39 472.46h6.11v1.69h-6.11zM389.39 477.3h6.11v1.6h-6.11zM334.87 478.85h6.11v1.6h-6.11zM353.04 480.4h6.11v1.6h-6.11zM371.21 480.4h6.11v1.6h-6.11zM334.87 481.95h6.11v1.6h-6.11zM383.33 483.5h6.11v1.6h-6.11zM389.39 483.5h6.11v1.6h-6.11zM353.04 485.05h6.11v1.6h-6.11zM383.33 486.6h6.11v1.6h-6.11zM334.87 488.15h6.11v1.6h-6.11zM389.39 488.15h6.11v1.6h-6.11zM322.76 494.35h6.11v1.6h-6.11zM334.87 497.45h6.11v1.6h-6.11zM359.1 497.45h6.11v1.6h-6.11zM383.33 497.45h6.11v1.6h-6.11zM334.87 501.93h6.11v1.47h-6.11zM389.39 501.93h6.11v1.47h-6.11zM383.33 508h6.11v1.63h-6.11zM334.87 514.31h6.11v1.63h-6.11zM389.39 519.04h6.11v1.63h-6.11zM334.87 528.5h6.11v1.63h-6.11zM334.87 533.24h6.11v1.63h-6.11zM383.33 533.24h6.11v1.63h-6.11zM389.39 533.24h6.11v1.63h-6.11zM334.87 536.39h6.11v1.63h-6.11zM383.33 537.97h6.11v1.63h-6.11z"/><path fill="#f5d7d8" d="M322.76 457.55h6.11v1.9h-6.11zM383.33 461h6.11v1.69h-6.11zM389.39 462.64h6.11v1.69h-6.11zM334.87 469.19h6.11v1.69h-6.11zM353.04 477.3h6.11v1.6h-6.11zM359.1 477.3h6.11v1.6h-6.11zM322.76 478.85h6.11v1.6h-6.11zM371.21 478.85h6.11v1.6h-6.11zM334.87 480.4h6.11v1.6h-6.11zM383.33 480.4h6.11v1.6h-6.11zM389.39 480.4h6.11v1.6h-6.11zM383.33 481.95h6.11v1.6h-6.11zM389.39 481.95h6.11v1.6h-6.11zM359.1 485.05h6.11v1.6h-6.11zM359.1 486.6h6.11v1.6h-6.11zM371.21 488.15h6.11v1.6h-6.11zM334.87 491.25h6.11v1.6h-6.11zM383.33 491.25h6.11v1.6h-6.11zM353.04 492.8h6.11v1.6h-6.11zM389.39 492.8h6.11v1.6h-6.11zM371.21 495.9h6.11v1.6h-6.11zM371.21 497.45h6.11v1.6h-6.11zM389.39 497.45h6.11v1.6h-6.11zM389.39 503.35h6.11v1.47h-6.11zM334.87 509.58h6.11v1.63h-6.11zM389.39 509.58h6.11v1.63h-6.11zM383.33 514.31h6.11v1.63h-6.11zM334.87 522.2h6.11v1.63h-6.11zM389.39 534.81h6.11v1.63h-6.11z"/><path fill="#f5cfcf" d="M334.87 455.7h6.11v1.9h-6.11zM389.39 467.55h6.11v1.69h-6.11zM334.87 477.3h6.11v1.6h-6.11zM383.33 477.3h6.11v1.6h-6.11zM383.33 478.85h6.11v1.6h-6.11zM322.76 481.95h6.11v1.6h-6.11zM359.1 481.95h6.11v1.6h-6.11zM395.44 481.95h6.11v1.6h-6.11zM359.1 483.5h6.11v1.6h-6.11zM371.21 483.5h6.11v1.6h-6.11zM334.87 486.6h6.11v1.6h-6.11zM359.1 488.15h6.11v1.6h-6.11zM353.04 489.7h6.11v1.6h-6.11zM371.21 491.25h6.11v1.6h-6.11zM334.87 492.8h6.11v1.6h-6.11zM359.1 492.8h6.11v1.6h-6.11zM353.04 494.35h6.11v1.6h-6.11zM353.04 495.9h6.11v1.6h-6.11zM359.1 495.9h6.11v1.6h-6.11zM353.04 497.45h6.11v1.6h-6.11zM383.33 517.46h6.11v1.63h-6.11zM334.87 520.62h6.11v1.63h-6.11zM383.33 522.2h6.11v1.63h-6.11zM383.33 530.08h6.11v1.63h-6.11z"/><path fill="#f5c6c5" d="M359.1 455.7h6.11v1.9h-6.11zM395.44 457.55h6.11v1.9h-6.11zM383.33 462.64h6.11v1.69h-6.11zM334.87 470.83h6.11v1.69h-6.11zM353.04 478.85h6.11v1.6h-6.11zM389.39 478.85h6.11v1.6h-6.11zM353.04 481.95h6.11v1.6h-6.11zM334.87 485.05h6.11v1.6h-6.11zM334.87 489.7h6.11v1.6h-6.11zM359.1 489.7h6.11v1.6h-6.11zM316.7 514.31h6.11v1.63h-6.11zM365.16 530.08h6.11v1.63h-6.11zM334.87 531.66h6.11v1.63h-6.11zM383.33 531.66h6.11v1.63h-6.11zM365.16 533.24h6.11v1.63h-6.11z"/><path fill="#f4bebb" d="M359.1 478.85h6.11v1.6h-6.11zM395.44 494.35h6.11v1.6h-6.11zM383.33 495.9h6.11v1.6h-6.11zM365.16 508h6.11v1.63h-6.11zM316.7 512.73h6.11v1.63h-6.11zM316.7 515.89h6.11v1.63h-6.11zM365.16 523.77h6.11v1.63h-6.11zM316.7 526.93h6.11v1.63h-6.11zM316.7 528.5h6.11v1.63h-6.11zM365.16 537.97h6.11v1.63h-6.11z"/><path fill="#f4b5b2" d="M395.44 455.7h6.11v1.9h-6.11zM359.1 480.4h6.11v1.6h-6.11zM334.87 483.5h6.11v1.6h-6.11zM395.44 488.15h6.11v1.6h-6.11zM359.1 491.25h6.11v1.6h-6.11zM395.44 491.25h6.11v1.6h-6.11zM395.44 492.8h6.11v1.6h-6.11zM359.1 494.35h6.11v1.6h-6.11zM395.44 495.9h6.11v1.6h-6.11zM365.16 511.15h6.11v1.63h-6.11zM365.16 514.31h6.11v1.63h-6.11zM365.16 515.89h6.11v1.63h-6.11zM316.7 517.46h6.11v1.63h-6.11zM365.16 522.2h6.11v1.63h-6.11zM316.7 531.66h6.11v1.63h-6.11zM316.7 536.39h6.11v1.63h-6.11zM316.7 537.97h6.11v1.63h-6.11z"/><path fill="#f3ada8" d="M395.44 477.3h6.11v1.6h-6.11zM395.44 480.4h6.11v1.6h-6.11zM353.04 483.5h6.11v1.6h-6.11zM395.44 486.6h6.11v1.6h-6.11zM395.44 489.7h6.11v1.6h-6.11zM316.7 492.8h6.11v1.6h-6.11zM316.7 497.45h6.11v1.6h-6.11zM395.44 497.45h6.11v1.6h-6.11zM383.33 504.77h6.11v1.47h-6.11zM365.16 517.46h6.11v1.63h-6.11zM316.7 519.04h6.11v1.63h-6.11zM316.7 520.62h6.11v1.63h-6.11zM365.16 520.62h6.11v1.63h-6.11zM316.7 522.2h6.11v1.63h-6.11zM316.7 523.77h6.11v1.63h-6.11zM365.16 526.93h6.11v1.63h-6.11zM365.16 528.5h6.11v1.63h-6.11zM316.7 530.08h6.11v1.63h-6.11zM316.7 534.81h6.11v1.63h-6.11zM365.16 536.39h6.11v1.63h-6.11zM316.7 541.12h6.11v1.63h-6.11z"/><path fill="#f3a49e" d="M395.44 478.85h6.11v1.6h-6.11zM395.44 483.5h6.11v1.6h-6.11zM316.7 508h6.11v1.63h-6.11zM365.16 512.73h6.11v1.63h-6.11zM365.16 519.04h6.11v1.63h-6.11zM365.16 531.66h6.11v1.63h-6.11zM316.7 533.24h6.11v1.63h-6.11zM365.16 534.81h6.11v1.63h-6.11zM316.7 539.55h6.11v1.63h-6.11zM365.16 539.55h6.11v1.63h-6.11z"/><path fill="#f39c94" d="M316.7 457.55h6.11v1.9h-6.11zM340.93 462.64h6.11v1.69h-6.11zM340.93 465.91h6.11v1.69h-6.11zM340.93 469.19h6.11v1.69h-6.11zM316.7 481.95h6.11v1.6h-6.11zM395.44 485.05h6.11v1.6h-6.11zM316.7 491.25h6.11v1.6h-6.11zM316.7 494.35h6.11v1.6h-6.11zM316.7 495.9h6.11v1.6h-6.11zM316.7 509.58h6.11v1.63h-6.11zM365.16 509.58h6.11v1.63h-6.11zM395.44 512.73h6.11v1.63h-6.11zM395.44 528.5h6.11v1.63h-6.11zM395.44 539.55h6.11v1.63h-6.11zM365.16 541.12h6.11v1.63h-6.11z"/><path fill="#f29389" d="M340.93 472.46h6.11v1.69h-6.11zM316.7 477.3h6.11v1.6h-6.11zM316.7 478.85h6.11v1.6h-6.11zM316.7 483.5h6.11v1.6h-6.11zM316.7 485.05h6.11v1.6h-6.11zM316.7 486.6h6.11v1.6h-6.11zM395.44 501.93h6.11v1.47h-6.11zM395.44 520.62h6.11v1.63h-6.11zM395.44 523.77h6.11v1.63h-6.11zM395.44 525.35h6.11v1.63h-6.11zM395.44 526.93h6.11v1.63h-6.11zM395.44 534.81h6.11v1.63h-6.11zM395.44 541.12h6.11v1.63h-6.11z"/><path fill="#f28a7f" d="M377.27 455.7h6.11v1.9h-6.11zM377.27 457.55h6.11v1.9h-6.11zM322.76 464.27h6.11v1.69h-6.11zM316.7 488.15h6.11v1.6h-6.11zM395.44 509.58h6.11v1.63h-6.11zM395.44 514.31h6.11v1.63h-6.11zM395.44 515.89h6.11v1.63h-6.11zM316.7 525.35h6.11v1.63h-6.11zM365.16 525.35h6.11v1.63h-6.11zM395.44 530.08h6.11v1.63h-6.11z"/><path fill="#f18175" d="M395.44 461h6.11v1.69h-6.11zM395.44 462.64h6.11v1.69h-6.11zM340.93 464.27h6.11v1.69h-6.11zM316.7 489.7h6.11v1.6h-6.11zM395.44 500.5h6.11v1.47h-6.11zM316.7 511.15h6.11v1.63h-6.11zM322.76 511.15h6.11v1.63h-6.11zM377.27 522.2h6.11v1.63h-6.11zM322.76 531.66h6.11v1.63h-6.11zM340.93 531.66h6.11v1.63h-6.11zM395.44 531.66h6.11v1.63h-6.11zM395.44 536.39h6.11v1.63h-6.11zM395.44 537.97h6.11v1.63h-6.11z"/><path fill="#f1796b" d="M316.7 455.7h6.11v1.9h-6.11zM322.76 461h6.11v1.69h-6.11zM340.93 461h6.11v1.69h-6.11zM395.44 464.27h6.11v1.69h-6.11zM340.93 467.55h6.11v1.69h-6.11zM322.76 469.19h6.11v1.69h-6.11zM322.76 472.46h6.11v1.69h-6.11zM395.44 472.46h6.11v1.69h-6.11zM316.7 480.4h6.11v1.6h-6.11zM322.76 504.77h6.11v1.47h-6.11zM377.27 504.77h6.11v1.47h-6.11zM395.44 504.77h6.11v1.47h-6.11zM322.76 508h6.11v1.63h-6.11zM395.44 508h6.11v1.63h-6.11zM377.27 511.15h6.11v1.63h-6.11zM395.44 519.04h6.11v1.63h-6.11zM322.76 522.2h6.11v1.63h-6.11zM395.44 522.2h6.11v1.63h-6.11zM340.93 523.77h6.11v1.63h-6.11zM377.27 523.77h6.11v1.63h-6.11zM377.27 528.5h6.11v1.63h-6.11zM395.44 533.24h6.11v1.63h-6.11zM377.27 537.97h6.11v1.63h-6.11z"/><path fill="#f07060" d="M322.76 465.91h6.11v1.69h-6.11zM395.44 465.91h6.11v1.69h-6.11zM395.44 467.55h6.11v1.69h-6.11zM340.93 470.83h6.11v1.69h-6.11zM377.27 501.93h6.11v1.47h-6.11zM340.93 503.35h6.11v1.47h-6.11zM377.27 503.35h6.11v1.47h-6.11zM395.44 503.35h6.11v1.47h-6.11zM340.93 504.77h6.11v1.47h-6.11zM340.93 509.58h6.11v1.63h-6.11zM395.44 511.15h6.11v1.63h-6.11zM340.93 512.73h6.11v1.63h-6.11zM340.93 514.31h6.11v1.63h-6.11zM377.27 514.31h6.11v1.63h-6.11zM322.76 517.46h6.11v1.63h-6.11zM340.93 517.46h6.11v1.63h-6.11zM377.27 517.46h6.11v1.63h-6.11zM377.27 519.04h6.11v1.63h-6.11zM322.76 520.62h6.11v1.63h-6.11zM340.93 522.2h6.11v1.63h-6.11zM340.93 528.5h6.11v1.63h-6.11zM322.76 530.08h6.11v1.63h-6.11zM377.27 530.08h6.11v1.63h-6.11zM322.76 533.24h6.11v1.63h-6.11zM340.93 533.24h6.11v1.63h-6.11zM377.27 533.24h6.11v1.63h-6.11zM322.76 534.81h6.11v1.63h-6.11zM322.76 541.12h6.11v1.63h-6.11zM340.93 541.12h6.11v1.63h-6.11z"/><path fill="#f06756" d="M322.76 467.55h6.11v1.69h-6.11zM395.44 469.19h6.11v1.69h-6.11zM395.44 470.83h6.11v1.69h-6.11zM340.93 500.5h6.11v1.47h-6.11zM340.93 501.93h6.11v1.47h-6.11zM322.76 503.35h6.11v1.47h-6.11zM340.93 508h6.11v1.63h-6.11zM377.27 508h6.11v1.63h-6.11zM377.27 509.58h6.11v1.63h-6.11zM340.93 515.89h6.11v1.63h-6.11zM395.44 517.46h6.11v1.63h-6.11zM322.76 519.04h6.11v1.63h-6.11zM340.93 519.04h6.11v1.63h-6.11zM377.27 520.62h6.11v1.63h-6.11zM340.93 526.93h6.11v1.63h-6.11zM340.93 530.08h6.11v1.63h-6.11zM377.27 531.66h6.11v1.63h-6.11zM340.93 536.39h6.11v1.63h-6.11zM322.76 537.97h6.11v1.63h-6.11zM340.93 537.97h6.11v1.63h-6.11zM377.27 539.55h6.11v1.63h-6.11z"/><path fill="#f05e4c" d="M322.76 462.64h6.11v1.69h-6.11zM322.76 470.83h6.11v1.69h-6.11zM322.76 509.58h6.11v1.63h-6.11zM340.93 511.15h6.11v1.63h-6.11zM322.76 512.73h6.11v1.63h-6.11zM322.76 514.31h6.11v1.63h-6.11zM377.27 515.89h6.11v1.63h-6.11zM322.76 523.77h6.11v1.63h-6.11zM322.76 525.35h6.11v1.63h-6.11zM377.27 525.35h6.11v1.63h-6.11zM377.27 526.93h6.11v1.63h-6.11zM322.76 528.5h6.11v1.63h-6.11zM340.93 534.81h6.11v1.63h-6.11zM377.27 534.81h6.11v1.63h-6.11zM322.76 536.39h6.11v1.63h-6.11z"/><path fill="#ef5541" d="M377.27 500.5h6.11v1.47h-6.11zM322.76 501.93h6.11v1.47h-6.11zM322.76 515.89h6.11v1.63h-6.11zM340.93 520.62h6.11v1.63h-6.11zM340.93 525.35h6.11v1.63h-6.11zM322.76 526.93h6.11v1.63h-6.11zM377.27 536.39h6.11v1.63h-6.11zM340.93 539.55h6.11v1.63h-6.11zM377.27 541.12h6.11v1.63h-6.11z"/><path fill="#ef4c37" d="M322.76 500.5h6.11v1.47h-6.11zM377.27 512.73h6.11v1.63h-6.11z"/><path fill="#ee432c" d="M322.76 539.55h6.11v1.63h-6.11z"/>
<text x="359.1" y="439.2" font-size="6.7" text-anchor="middle" fill="#222" stroke="#222" stroke-width="0.12">1.00</text>
<line x1="319.73" y1="442.5" x2="319.73" y2="452.5" stroke="#666677" stroke-width="0.8"/><path d="M319.73,444.5L321.23,446L319.73,447.5L318.23,446Z" fill="none" stroke="#666677" stroke-width="0.7"/><line x1="325.79" y1="442.5" x2="325.79" y2="452.5" stroke="#666677" stroke-width="0.8"/><path d="M325.79,444.5L327.29,446L325.79,447.5L324.29,446Z" fill="none" stroke="#666677" stroke-width="0.7"/><line x1="331.84" y1="446" x2="331.84" y2="451.5" stroke="#3a3a7a" stroke-width="0.8"/><path d="M331.84,447.5L333.34,449L331.84,450.5L330.34,449Z" fill="#3a3a7a" stroke="#3a3a7a" stroke-width="0.7"/><line x1="337.9" y1="446" x2="337.9" y2="451.5" stroke="#3a3a7a" stroke-width="0.8"/><path d="M337.9,447.5L339.4,449L337.9,450.5L336.4,449Z" fill="#3a3a7a" stroke="#3a3a7a" stroke-width="0.7"/><line x1="343.96" y1="442.5" x2="343.96" y2="452.5" stroke="#3a3a7a" stroke-width="0.8"/><path d="M343.96,445.5L345.46,447L343.96,448.5L342.46,447Z" fill="#3a3a7a" stroke="#3a3a7a" stroke-width="0.7"/><line x1="350.01" y1="446" x2="350.01" y2="451.5" stroke="#3a3a7a" stroke-width="0.8"/><path d="M350.01,447.5L351.51,449L350.01,450.5L348.51,449Z" fill="#3a3a7a" stroke="#3a3a7a" stroke-width="0.7"/><line x1="356.07" y1="446" x2="356.07" y2="451.5" stroke="#3a3a7a" stroke-width="0.8"/><path d="M356.07,447.5L357.57,449L356.07,450.5L354.57,449Z" fill="#3a3a7a" stroke="#3a3a7a" stroke-width="0.7"/><line x1="362.13" y1="446" x2="362.13" y2="451.5" stroke="#3a3a7a" stroke-width="0.8"/><path d="M362.13,446.5L363.63,448L362.13,449.5L360.63,448Z" fill="#3a3a7a" stroke="#3a3a7a" stroke-width="0.7"/><line x1="368.19" y1="446" x2="368.19" y2="451.5" stroke="#3a3a7a" stroke-width="0.8"/><path d="M368.19,446.5L369.69,448L368.19,449.5L366.69,448Z" fill="#3a3a7a" stroke="#3a3a7a" stroke-width="0.7"/><line x1="374.24" y1="446" x2="374.24" y2="451.5" stroke="#3a3a7a" stroke-width="0.8"/><path d="M374.24,447.5L375.74,449L374.24,450.5L372.74,449Z" fill="#3a3a7a" stroke="#3a3a7a" stroke-width="0.7"/><line x1="380.3" y1="442.5" x2="380.3" y2="452.5" stroke="#3a3a7a" stroke-width="0.8"/><path d="M380.3,446.5L381.8,448L380.3,449.5L378.8,448Z" fill="#3a3a7a" stroke="#3a3a7a" stroke-width="0.7"/><line x1="386.36" y1="446" x2="386.36" y2="451.5" stroke="#3a3a7a" stroke-width="0.8"/><path d="M386.36,447.5L387.86,449L386.36,450.5L384.86,449Z" fill="#3a3a7a" stroke="#3a3a7a" stroke-width="0.7"/><line x1="392.41" y1="446" x2="392.41" y2="451.5" stroke="#3a3a7a" stroke-width="0.8"/><path d="M392.41,447.5L393.91,449L392.41,450.5L390.91,449Z" fill="#3a3a7a" stroke="#3a3a7a" stroke-width="0.7"/><line x1="398.47" y1="446" x2="398.47" y2="451.5" stroke="#3a3a7a" stroke-width="0.8"/><path d="M398.47,446.5L399.97,448L398.47,449.5L396.97,448Z" fill="#3a3a7a" stroke="#3a3a7a" stroke-width="0.7"/>
<text x="322.33" y="545.2" font-size="6.9" text-anchor="end" fill="#333" stroke="#333" stroke-width="0.12" transform="rotate(-90 322.33 545.2)">CD197</text>
<text x="328.39" y="545.2" font-size="6.9" text-anchor="end" fill="#333" stroke="#333" stroke-width="0.12" transform="rotate(-90 328.39 545.2)">CD43</text>
<text x="334.44" y="545.2" font-size="6.9" text-anchor="end" fill="#333" stroke="#333" stroke-width="0.12" transform="rotate(-90 334.44 545.2)">CD49b</text>
<text x="340.5" y="545.2" font-size="6.9" text-anchor="end" fill="#333" stroke="#333" stroke-width="0.12" transform="rotate(-90 340.5 545.2)">CD39</text>
<text x="346.56" y="545.2" font-size="6.9" text-anchor="end" fill="#333" stroke="#333" stroke-width="0.12" transform="rotate(-90 346.56 545.2)">CD26</text>
<text x="352.61" y="545.2" font-size="6.9" text-anchor="end" fill="#333" stroke="#333" stroke-width="0.12" transform="rotate(-90 352.61 545.2)">FSCA</text>
<text x="358.67" y="545.2" font-size="6.9" text-anchor="end" fill="#333" stroke="#333" stroke-width="0.12" transform="rotate(-90 358.67 545.2)">CD279</text>
<text x="364.73" y="545.2" font-size="6.9" text-anchor="end" fill="#333" stroke="#333" stroke-width="0.12" transform="rotate(-90 364.73 545.2)">CD70</text>
<text x="370.79" y="545.2" font-size="6.9" text-anchor="end" fill="#333" stroke="#333" stroke-width="0.12" transform="rotate(-90 370.79 545.2)">CD45RA</text>
<text x="376.84" y="545.2" font-size="6.9" text-anchor="end" fill="#333" stroke="#333" stroke-width="0.12" transform="rotate(-90 376.84 545.2)">CLA</text>
<text x="382.9" y="545.2" font-size="6.9" text-anchor="end" fill="#333" stroke="#333" stroke-width="0.12" transform="rotate(-90 382.9 545.2)">CD62L</text>
<text x="388.96" y="545.2" font-size="6.9" text-anchor="end" fill="#333" stroke="#333" stroke-width="0.12" transform="rotate(-90 388.96 545.2)">CD7</text>
<text x="395.01" y="545.2" font-size="6.9" text-anchor="end" fill="#333" stroke="#333" stroke-width="0.12" transform="rotate(-90 395.01 545.2)">CD164</text>
<text x="401.07" y="545.2" font-size="6.9" text-anchor="end" fill="#333" stroke="#333" stroke-width="0.12" transform="rotate(-90 401.07 545.2)">CD3</text>
<rect x="407.9" y="455.3" width="3.7" height="1.1" fill="#5b86c0"/><rect x="407.9" y="457.3" width="3.7" height="16.8" fill="#86c38a"/><rect x="407.9" y="476" width="3.7" height="41.5" fill="#6a2a16"/><rect x="407.9" y="519.4" width="3.7" height="3.7" fill="#f2b0b4"/><rect x="407.9" y="525" width="3.7" height="17.7" fill="#9a64b0"/><path fill="#1e1ee8" d="M415.7 458.83h6.11v1.58h-6.11zM415.7 460.35h6.11v1.58h-6.11zM415.7 471.05h6.11v1.58h-6.11zM415.7 521.25h6.11v1.9h-6.11z"/><path fill="#2929e9" d="M415.7 457.3h6.11v1.58h-6.11zM415.7 464.94h6.11v1.58h-6.11zM415.7 467.99h6.11v1.58h-6.11zM415.7 472.57h6.11v1.58h-6.11z"/><path fill="#3433ea" d="M415.7 463.41h6.11v1.58h-6.11zM415.7 466.46h6.11v1.58h-6.11zM445.99 467.99h6.11v1.58h-6.11zM415.7 469.52h6.11v1.58h-6.11z"/><path fill="#3e3eeb" d="M415.7 461.88h6.11v1.58h-6.11zM445.99 539.48h6.11v1.66h-6.11z"/><path fill="#4948eb" d="M415.7 519.4h6.11v1.9h-6.11zM445.99 525h6.11v1.66h-6.11zM445.99 541.09h6.11v1.66h-6.11z"/><path fill="#5453ec" d="M439.93 479.19h6.11v1.65h-6.11zM445.99 485.58h6.11v1.65h-6.11zM445.99 491.96h6.11v1.65h-6.11zM445.99 501.54h6.11v1.65h-6.11zM439.93 515.9h6.11v1.65h-6.11zM445.99 537.87h6.11v1.66h-6.11z"/><path fill="#5e5ded" d="M445.99 458.83h6.11v1.58h-6.11zM445.99 469.52h6.11v1.58h-6.11zM445.99 479.19h6.11v1.65h-6.11zM445.99 482.38h6.11v1.65h-6.11zM439.93 490.37h6.11v1.65h-6.11zM445.99 493.56h6.11v1.65h-6.11zM439.93 512.71h6.11v1.65h-6.11zM445.99 528.22h6.11v1.66h-6.11zM445.99 529.83h6.11v1.66h-6.11zM445.99 533.05h6.11v1.66h-6.11zM445.99 534.65h6.11v1.66h-6.11z"/><path fill="#6967ee" d="M445.99 461.88h6.11v1.58h-6.11zM445.99 490.37h6.11v1.65h-6.11zM464.16 490.37h6.11v1.65h-6.11zM427.81 493.56h6.11v1.65h-6.11zM439.93 493.56h6.11v1.65h-6.11zM439.93 495.15h6.11v1.65h-6.11zM439.93 496.75h6.11v1.65h-6.11zM439.93 499.94h6.11v1.65h-6.11zM439.93 514.31h6.11v1.65h-6.11zM445.99 531.44h6.11v1.66h-6.11z"/><path fill="#7472ef" d="M445.99 471.05h6.11v1.58h-6.11zM445.99 472.57h6.11v1.58h-6.11zM439.93 477.6h6.11v1.65h-6.11zM445.99 483.98h6.11v1.65h-6.11zM439.93 485.58h6.11v1.65h-6.11zM445.99 487.17h6.11v1.65h-6.11zM439.93 488.77h6.11v1.65h-6.11zM445.99 495.15h6.11v1.65h-6.11zM464.16 495.15h6.11v1.65h-6.11zM445.99 498.35h6.11v1.65h-6.11zM445.99 503.13h6.11v1.65h-6.11zM445.99 506.33h6.11v1.65h-6.11zM439.93 507.92h6.11v1.65h-6.11zM445.99 511.12h6.11v1.65h-6.11zM445.99 512.71h6.11v1.65h-6.11zM445.99 515.9h6.11v1.65h-6.11zM445.99 536.26h6.11v1.66h-6.11z"/><path fill="#7e7cef" d="M445.99 455.3h6.11v1.15h-6.11zM464.16 460.35h6.11v1.58h-6.11zM452.04 466.46h6.11v1.58h-6.11zM470.21 469.52h6.11v1.58h-6.11zM445.99 476h6.11v1.65h-6.11zM476.27 477.6h6.11v1.65h-6.11zM439.93 480.79h6.11v1.65h-6.11zM445.99 480.79h6.11v1.65h-6.11zM439.93 487.17h6.11v1.65h-6.11zM445.99 488.77h6.11v1.65h-6.11zM476.27 490.37h6.11v1.65h-6.11zM427.81 491.96h6.11v1.65h-6.11zM445.99 496.75h6.11v1.65h-6.11zM439.93 498.35h6.11v1.65h-6.11zM445.99 499.94h6.11v1.65h-6.11zM439.93 503.13h6.11v1.65h-6.11zM464.16 504.73h6.11v1.65h-6.11zM439.93 506.33h6.11v1.65h-6.11zM464.16 506.33h6.11v1.65h-6.11zM445.99 507.92h6.11v1.65h-6.11zM439.93 509.52h6.11v1.65h-6.11zM445.99 526.61h6.11v1.66h-6.11z"/><path fill="#8986f0" d="M476.27 457.3h6.11v1.58h-6.11zM445.99 460.35h6.11v1.58h-6.11zM464.16 466.46h6.11v1.58h-6.11zM470.21 472.57h6.11v1.58h-6.11zM439.93 476h6.11v1.65h-6.11zM439.93 483.98h6.11v1.65h-6.11zM476.27 485.58h6.11v1.65h-6.11zM439.93 491.96h6.11v1.65h-6.11zM427.81 503.13h6.11v1.65h-6.11zM439.93 504.73h6.11v1.65h-6.11zM445.99 504.73h6.11v1.65h-6.11zM439.93 511.12h6.11v1.65h-6.11zM445.99 514.31h6.11v1.65h-6.11zM464.16 514.31h6.11v1.65h-6.11zM427.81 529.83h6.11v1.66h-6.11zM458.1 536.26h6.11v1.66h-6.11z"/><path fill="#9391f1" d="M470.21 458.83h6.11v1.58h-6.11zM427.81 461.88h6.11v1.58h-6.11zM445.99 463.41h6.11v1.58h-6.11zM445.99 464.94h6.11v1.58h-6.11zM445.99 466.46h6.11v1.58h-6.11zM464.16 467.99h6.11v1.58h-6.11zM470.21 467.99h6.11v1.58h-6.11zM445.99 477.6h6.11v1.65h-6.11zM464.16 479.19h6.11v1.65h-6.11zM439.93 482.38h6.11v1.65h-6.11zM464.16 483.98h6.11v1.65h-6.11zM464.16 485.58h6.11v1.65h-6.11zM464.16 488.77h6.11v1.65h-6.11zM464.16 491.96h6.11v1.65h-6.11zM464.16 496.75h6.11v1.65h-6.11zM476.27 496.75h6.11v1.65h-6.11zM464.16 498.35h6.11v1.65h-6.11zM439.93 501.54h6.11v1.65h-6.11zM427.81 509.52h6.11v1.65h-6.11zM445.99 509.52h6.11v1.65h-6.11zM464.16 512.71h6.11v1.65h-6.11zM427.81 525h6.11v1.66h-6.11zM458.1 529.83h6.11v1.66h-6.11zM458.1 533.05h6.11v1.66h-6.11zM427.81 536.26h6.11v1.66h-6.11zM452.04 536.26h6.11v1.66h-6.11z"/><path fill="#9d9bf2" d="M445.99 457.3h6.11v1.58h-6.11zM452.04 457.3h6.11v1.58h-6.11zM476.27 460.35h6.11v1.58h-6.11zM470.21 461.88h6.11v1.58h-6.11zM458.1 463.41h6.11v1.58h-6.11zM427.81 464.94h6.11v1.58h-6.11zM452.04 464.94h6.11v1.58h-6.11zM464.16 464.94h6.11v1.58h-6.11zM470.21 466.46h6.11v1.58h-6.11zM476.27 469.52h6.11v1.58h-6.11zM452.04 471.05h6.11v1.58h-6.11zM476.27 471.05h6.11v1.58h-6.11zM427.81 472.57h6.11v1.58h-6.11zM427.81 477.6h6.11v1.65h-6.11zM427.81 480.79h6.11v1.65h-6.11zM476.27 480.79h6.11v1.65h-6.11zM427.81 487.17h6.11v1.65h-6.11zM476.27 487.17h6.11v1.65h-6.11zM464.16 493.56h6.11v1.65h-6.11zM476.27 493.56h6.11v1.65h-6.11zM427.81 496.75h6.11v1.65h-6.11zM464.16 499.94h6.11v1.65h-6.11zM427.81 501.54h6.11v1.65h-6.11zM476.27 503.13h6.11v1.65h-6.11zM476.27 506.33h6.11v1.65h-6.11zM427.81 507.92h6.11v1.65h-6.11zM464.16 507.92h6.11v1.65h-6.11zM476.27 507.92h6.11v1.65h-6.11zM476.27 511.12h6.11v1.65h-6.11zM476.27 514.31h6.11v1.65h-6.11zM445.99 519.4h6.11v1.9h-6.11zM458.1 528.22h6.11v1.66h-6.11zM427.81 531.44h6.11v1.66h-6.11zM458.1 537.87h6.11v1.66h-6.11zM427.81 539.48h6.11v1.66h-6.11zM427.81 541.09h6.11v1.66h-6.11zM458.1 541.09h6.11v1.66h-6.11z"/><path fill="#a8a5f3" d="M464.16 455.3h6.11v1.15h-6.11zM427.81 457.3h6.11v1.58h-6.11zM458.1 457.3h6.11v1.58h-6.11zM464.16 457.3h6.11v1.58h-6.11zM452.04 458.83h6.11v1.58h-6.11zM464.16 458.83h6.11v1.58h-6.11zM476.27 458.83h6.11v1.58h-6.11zM427.81 460.35h6.11v1.58h-6.11zM452.04 460.35h6.11v1.58h-6.11zM458.1 460.35h6.11v1.58h-6.11zM470.21 460.35h6.11v1.58h-6.11zM452.04 461.88h6.11v1.58h-6.11zM464.16 461.88h6.11v1.58h-6.11zM470.21 463.41h6.11v1.58h-6.11zM476.27 463.41h6.11v1.58h-6.11zM470.21 464.94h6.11v1.58h-6.11zM476.27 464.94h6.11v1.58h-6.11zM476.27 466.46h6.11v1.58h-6.11zM427.81 469.52h6.11v1.58h-6.11zM464.16 469.52h6.11v1.58h-6.11zM464.16 471.05h6.11v1.58h-6.11zM470.21 471.05h6.11v1.58h-6.11zM464.16 480.79h6.11v1.65h-6.11zM476.27 482.38h6.11v1.65h-6.11zM427.81 483.98h6.11v1.65h-6.11zM427.81 498.35h6.11v1.65h-6.11zM476.27 498.35h6.11v1.65h-6.11zM476.27 499.94h6.11v1.65h-6.11zM464.16 501.54h6.11v1.65h-6.11zM476.27 501.54h6.11v1.65h-6.11zM464.16 503.13h6.11v1.65h-6.11zM427.81 504.73h6.11v1.65h-6.11zM476.27 504.73h6.11v1.65h-6.11zM464.16 509.52h6.11v1.65h-6.11zM427.81 511.12h6.11v1.65h-6.11zM427.81 514.31h6.11v1.65h-6.11zM427.81 519.4h6.11v1.9h-6.11zM452.04 519.4h6.11v1.9h-6.11zM458.1 519.4h6.11v1.9h-6.11zM445.99 521.25h6.11v1.9h-6.11zM452.04 526.61h6.11v1.66h-6.11zM427.81 528.22h6.11v1.66h-6.11zM452.04 529.83h6.11v1.66h-6.11zM427.81 533.05h6.11v1.66h-6.11zM458.1 534.65h6.11v1.66h-6.11zM427.81 537.87h6.11v1.66h-6.11zM458.1 539.48h6.11v1.66h-6.11zM452.04 541.09h6.11v1.66h-6.11z"/><path fill="#b2aff3" d="M439.93 455.3h6.11v1.15h-6.11zM470.21 455.3h6.11v1.15h-6.11zM470.21 457.3h6.11v1.58h-6.11zM427.81 458.83h6.11v1.58h-6.11zM458.1 458.83h6.11v1.58h-6.11zM476.27 461.88h6.11v1.58h-6.11zM452.04 463.41h6.11v1.58h-6.11zM458.1 464.94h6.11v1.58h-6.11zM458.1 466.46h6.11v1.58h-6.11zM452.04 467.99h6.11v1.58h-6.11zM458.1 467.99h6.11v1.58h-6.11zM476.27 467.99h6.11v1.58h-6.11zM452.04 469.52h6.11v1.58h-6.11zM458.1 472.57h6.11v1.58h-6.11zM476.27 472.57h6.11v1.58h-6.11zM427.81 476h6.11v1.65h-6.11zM464.16 476h6.11v1.65h-6.11zM427.81 479.19h6.11v1.65h-6.11zM464.16 482.38h6.11v1.65h-6.11zM476.27 483.98h6.11v1.65h-6.11zM427.81 485.58h6.11v1.65h-6.11zM464.16 487.17h6.11v1.65h-6.11zM427.81 488.77h6.11v1.65h-6.11zM427.81 495.15h6.11v1.65h-6.11zM427.81 499.94h6.11v1.65h-6.11zM464.16 511.12h6.11v1.65h-6.11zM476.27 512.71h6.11v1.65h-6.11zM464.16 515.9h6.11v1.65h-6.11zM476.27 515.9h6.11v1.65h-6.11zM464.16 519.4h6.11v1.9h-6.11zM470.21 519.4h6.11v1.9h-6.11zM458.1 521.25h6.11v1.9h-6.11zM470.21 521.25h6.11v1.9h-6.11zM458.1 525h6.11v1.66h-6.11zM458.1 526.61h6.11v1.66h-6.11zM452.04 531.44h6.11v1.66h-6.11zM458.1 531.44h6.11v1.66h-6.11zM427.81 534.65h6.11v1.66h-6.11zM452.04 534.65h6.11v1.66h-6.11zM452.04 537.87h6.11v1.66h-6.11z"/><path fill="#bcb9f4" d="M488.39 455.3h6.11v1.15h-6.11zM427.81 463.41h6.11v1.58h-6.11zM464.16 463.41h6.11v1.58h-6.11zM427.81 467.99h6.11v1.58h-6.11zM482.33 467.99h6.11v1.58h-6.11zM427.81 471.05h6.11v1.58h-6.11zM452.04 472.57h6.11v1.58h-6.11zM464.16 472.57h6.11v1.58h-6.11zM476.27 476h6.11v1.65h-6.11zM464.16 477.6h6.11v1.65h-6.11zM476.27 479.19h6.11v1.65h-6.11zM427.81 482.38h6.11v1.65h-6.11zM427.81 490.37h6.11v1.65h-6.11zM427.81 506.33h6.11v1.65h-6.11zM427.81 512.71h6.11v1.65h-6.11zM464.16 521.25h6.11v1.9h-6.11zM452.04 525h6.11v1.66h-6.11zM470.21 525h6.11v1.66h-6.11zM470.21 526.61h6.11v1.66h-6.11zM452.04 528.22h6.11v1.66h-6.11zM470.21 533.05h6.11v1.66h-6.11zM452.04 539.48h6.11v1.66h-6.11z"/><path fill="#c6c3f5" d="M488.39 464.94h6.11v1.58h-6.11zM427.81 466.46h6.11v1.58h-6.11zM458.1 469.52h6.11v1.58h-6.11zM458.1 471.05h6.11v1.58h-6.11zM482.33 472.57h6.11v1.58h-6.11zM482.33 480.79h6.11v1.65h-6.11zM476.27 488.77h6.11v1.65h-6.11zM476.27 509.52h6.11v1.65h-6.11zM427.81 515.9h6.11v1.65h-6.11zM427.81 521.25h6.11v1.9h-6.11zM452.04 521.25h6.11v1.9h-6.11zM433.87 526.61h6.11v1.66h-6.11zM470.21 528.22h6.11v1.66h-6.11zM470.21 537.87h6.11v1.66h-6.11zM470.21 539.48h6.11v1.66h-6.11zM470.21 541.09h6.11v1.66h-6.11z"/><path fill="#d0ccf6" d="M458.1 461.88h6.11v1.58h-6.11zM433.87 472.57h6.11v1.58h-6.11zM421.76 480.79h6.11v1.65h-6.11zM476.27 495.15h6.11v1.65h-6.11zM470.21 499.94h6.11v1.65h-6.11zM482.33 499.94h6.11v1.65h-6.11zM470.21 501.54h6.11v1.65h-6.11zM421.76 504.73h6.11v1.65h-6.11zM488.39 514.31h6.11v1.65h-6.11zM427.81 526.61h6.11v1.66h-6.11zM452.04 533.05h6.11v1.66h-6.11z"/><path fill="#dad6f7" d="M452.04 455.3h6.11v1.15h-6.11zM488.39 458.83h6.11v1.58h-6.11zM482.33 461.88h6.11v1.58h-6.11zM488.39 469.52h6.11v1.58h-6.11zM421.76 479.19h6.11v1.65h-6.11zM488.39 487.17h6.11v1.65h-6.11zM421.76 491.96h6.11v1.65h-6.11zM476.27 491.96h6.11v1.65h-6.11zM470.21 495.15h6.11v1.65h-6.11zM433.87 498.35h6.11v1.65h-6.11zM470.21 504.73h6.11v1.65h-6.11zM421.76 511.12h6.11v1.65h-6.11zM421.76 515.9h6.11v1.65h-6.11zM488.39 525h6.11v1.66h-6.11zM488.39 529.83h6.11v1.66h-6.11zM470.21 531.44h6.11v1.66h-6.11zM470.21 536.26h6.11v1.66h-6.11zM433.87 537.87h6.11v1.66h-6.11zM433.87 541.09h6.11v1.66h-6.11z"/><path fill="#e3dff7" d="M458.1 455.3h6.11v1.15h-6.11zM482.33 460.35h6.11v1.58h-6.11zM433.87 469.52h6.11v1.58h-6.11zM482.33 469.52h6.11v1.58h-6.11zM421.76 476h6.11v1.65h-6.11zM470.21 476h6.11v1.65h-6.11zM421.76 477.6h6.11v1.65h-6.11zM470.21 477.6h6.11v1.65h-6.11zM482.33 485.58h6.11v1.65h-6.11zM470.21 490.37h6.11v1.65h-6.11zM470.21 491.96h6.11v1.65h-6.11zM482.33 495.15h6.11v1.65h-6.11zM482.33 496.75h6.11v1.65h-6.11zM433.87 507.92h6.11v1.65h-6.11zM452.04 507.92h6.11v1.65h-6.11zM470.21 507.92h6.11v1.65h-6.11zM482.33 507.92h6.11v1.65h-6.11zM433.87 509.52h6.11v1.65h-6.11zM482.33 509.52h6.11v1.65h-6.11zM433.87 511.12h6.11v1.65h-6.11zM421.76 512.71h6.11v1.65h-6.11zM488.39 515.9h6.11v1.65h-6.11zM488.39 521.25h6.11v1.9h-6.11zM433.87 525h6.11v1.66h-6.11zM482.33 525h6.11v1.66h-6.11zM488.39 526.61h6.11v1.66h-6.11zM488.39 528.22h6.11v1.66h-6.11zM470.21 529.83h6.11v1.66h-6.11zM482.33 529.83h6.11v1.66h-6.11zM433.87 531.44h6.11v1.66h-6.11zM488.39 531.44h6.11v1.66h-6.11zM433.87 533.05h6.11v1.66h-6.11zM488.39 533.05h6.11v1.66h-6.11zM470.21 534.65h6.11v1.66h-6.11zM433.87 536.26h6.11v1.66h-6.11zM488.39 539.48h6.11v1.66h-6.11zM488.39 541.09h6.11v1.66h-6.11z"/><path fill="#f6e6ea" d="M482.33 455.3h6.11v1.15h-6.11zM482.33 457.3h6.11v1.58h-6.11zM488.39 457.3h6.11v1.58h-6.11zM482.33 458.83h6.11v1.58h-6.11zM482.33 463.41h6.11v1.58h-6.11zM488.39 463.41h6.11v1.58h-6.11zM433.87 464.94h6.11v1.58h-6.11zM482.33 466.46h6.11v1.58h-6.11zM488.39 466.46h6.11v1.58h-6.11zM488.39 476h6.11v1.65h-6.11zM470.21 480.79h6.11v1.65h-6.11zM433.87 483.98h6.11v1.65h-6.11zM452.04 483.98h6.11v1.65h-6.11zM470.21 483.98h6.11v1.65h-6.11zM433.87 487.17h6.11v1.65h-6.11zM488.39 490.37h6.11v1.65h-6.11zM470.21 493.56h6.11v1.65h-6.11zM488.39 493.56h6.11v1.65h-6.11zM433.87 495.15h6.11v1.65h-6.11zM488.39 495.15h6.11v1.65h-6.11zM482.33 498.35h6.11v1.65h-6.11zM421.76 499.94h6.11v1.65h-6.11zM452.04 503.13h6.11v1.65h-6.11zM482.33 503.13h6.11v1.65h-6.11zM421.76 506.33h6.11v1.65h-6.11zM482.33 506.33h6.11v1.65h-6.11zM488.39 506.33h6.11v1.65h-6.11zM452.04 511.12h6.11v1.65h-6.11zM482.33 511.12h6.11v1.65h-6.11zM482.33 521.25h6.11v1.9h-6.11zM482.33 528.22h6.11v1.66h-6.11zM433.87 534.65h6.11v1.66h-6.11zM488.39 536.26h6.11v1.66h-6.11zM488.39 537.87h6.11v1.66h-6.11zM433.87 539.48h6.11v1.66h-6.11zM482.33 539.48h6.11v1.66h-6.11z"/><path fill="#f6dfe1" d="M427.81 455.3h6.11v1.15h-6.11zM494.44 455.3h6.11v1.15h-6.11zM433.87 460.35h6.11v1.58h-6.11zM488.39 460.35h6.11v1.58h-6.11zM433.87 466.46h6.11v1.58h-6.11zM433.87 467.99h6.11v1.58h-6.11zM482.33 471.05h6.11v1.58h-6.11zM488.39 472.57h6.11v1.58h-6.11zM433.87 477.6h6.11v1.65h-6.11zM488.39 477.6h6.11v1.65h-6.11zM482.33 483.98h6.11v1.65h-6.11zM421.76 485.58h6.11v1.65h-6.11zM470.21 485.58h6.11v1.65h-6.11zM421.76 487.17h6.11v1.65h-6.11zM421.76 488.77h6.11v1.65h-6.11zM470.21 488.77h6.11v1.65h-6.11zM488.39 488.77h6.11v1.65h-6.11zM452.04 491.96h6.11v1.65h-6.11zM482.33 491.96h6.11v1.65h-6.11zM488.39 491.96h6.11v1.65h-6.11zM421.76 495.15h6.11v1.65h-6.11zM452.04 495.15h6.11v1.65h-6.11zM470.21 496.75h6.11v1.65h-6.11zM421.76 498.35h6.11v1.65h-6.11zM433.87 499.94h6.11v1.65h-6.11zM421.76 501.54h6.11v1.65h-6.11zM433.87 506.33h6.11v1.65h-6.11zM488.39 507.92h6.11v1.65h-6.11zM470.21 511.12h6.11v1.65h-6.11zM488.39 511.12h6.11v1.65h-6.11zM433.87 512.71h6.11v1.65h-6.11zM458.1 512.71h6.11v1.65h-6.11zM470.21 512.71h6.11v1.65h-6.11zM452.04 514.31h6.11v1.65h-6.11zM470.21 514.31h6.11v1.65h-6.11zM452.04 515.9h6.11v1.65h-6.11zM470.21 515.9h6.11v1.65h-6.11zM488.39 519.4h6.11v1.9h-6.11zM433.87 521.25h6.11v1.9h-6.11zM482.33 526.61h6.11v1.66h-6.11zM482.33 533.05h6.11v1.66h-6.11zM482.33 537.87h6.11v1.66h-6.11zM482.33 541.09h6.11v1.66h-6.11z"/><path fill="#f5d7d8" d="M421.76 455.3h6.11v1.15h-6.11zM433.87 457.3h6.11v1.58h-6.11zM433.87 458.83h6.11v1.58h-6.11zM488.39 461.88h6.11v1.58h-6.11zM433.87 463.41h6.11v1.58h-6.11zM433.87 479.19h6.11v1.65h-6.11zM433.87 480.79h6.11v1.65h-6.11zM452.04 480.79h6.11v1.65h-6.11zM421.76 482.38h6.11v1.65h-6.11zM452.04 482.38h6.11v1.65h-6.11zM470.21 482.38h6.11v1.65h-6.11zM488.39 482.38h6.11v1.65h-6.11zM421.76 483.98h6.11v1.65h-6.11zM488.39 483.98h6.11v1.65h-6.11zM452.04 485.58h6.11v1.65h-6.11zM488.39 485.58h6.11v1.65h-6.11zM470.21 487.17h6.11v1.65h-6.11zM452.04 488.77h6.11v1.65h-6.11zM482.33 488.77h6.11v1.65h-6.11zM421.76 490.37h6.11v1.65h-6.11zM433.87 490.37h6.11v1.65h-6.11zM458.1 490.37h6.11v1.65h-6.11zM482.33 490.37h6.11v1.65h-6.11zM433.87 491.96h6.11v1.65h-6.11zM421.76 493.56h6.11v1.65h-6.11zM452.04 493.56h6.11v1.65h-6.11zM482.33 493.56h6.11v1.65h-6.11zM421.76 496.75h6.11v1.65h-6.11zM452.04 496.75h6.11v1.65h-6.11zM470.21 498.35h6.11v1.65h-6.11zM488.39 498.35h6.11v1.65h-6.11zM452.04 499.94h6.11v1.65h-6.11zM488.39 499.94h6.11v1.65h-6.11zM433.87 501.54h6.11v1.65h-6.11zM433.87 503.13h6.11v1.65h-6.11zM452.04 506.33h6.11v1.65h-6.11zM421.76 507.92h6.11v1.65h-6.11zM421.76 509.52h6.11v1.65h-6.11zM470.21 509.52h6.11v1.65h-6.11zM488.39 509.52h6.11v1.65h-6.11zM482.33 512.71h6.11v1.65h-6.11zM488.39 512.71h6.11v1.65h-6.11zM421.76 514.31h6.11v1.65h-6.11zM482.33 515.9h6.11v1.65h-6.11zM433.87 528.22h6.11v1.66h-6.11zM433.87 529.83h6.11v1.66h-6.11zM488.39 534.65h6.11v1.66h-6.11zM482.33 536.26h6.11v1.66h-6.11z"/><path fill="#f5cfcf" d="M433.87 455.3h6.11v1.15h-6.11zM433.87 461.88h6.11v1.58h-6.11zM482.33 464.94h6.11v1.58h-6.11zM488.39 471.05h6.11v1.58h-6.11zM433.87 476h6.11v1.65h-6.11zM458.1 476h6.11v1.65h-6.11zM494.44 476h6.11v1.65h-6.11zM488.39 479.19h6.11v1.65h-6.11zM488.39 480.79h6.11v1.65h-6.11zM433.87 482.38h6.11v1.65h-6.11zM458.1 482.38h6.11v1.65h-6.11zM482.33 482.38h6.11v1.65h-6.11zM458.1 483.98h6.11v1.65h-6.11zM452.04 487.17h6.11v1.65h-6.11zM482.33 487.17h6.11v1.65h-6.11zM452.04 490.37h6.11v1.65h-6.11zM458.1 491.96h6.11v1.65h-6.11zM452.04 498.35h6.11v1.65h-6.11zM458.1 498.35h6.11v1.65h-6.11zM452.04 501.54h6.11v1.65h-6.11zM482.33 501.54h6.11v1.65h-6.11zM488.39 501.54h6.11v1.65h-6.11zM421.76 503.13h6.11v1.65h-6.11zM470.21 503.13h6.11v1.65h-6.11zM488.39 503.13h6.11v1.65h-6.11zM458.1 504.73h6.11v1.65h-6.11zM482.33 504.73h6.11v1.65h-6.11zM452.04 509.52h6.11v1.65h-6.11zM458.1 509.52h6.11v1.65h-6.11zM433.87 514.31h6.11v1.65h-6.11zM433.87 519.4h6.11v1.9h-6.11zM482.33 519.4h6.11v1.9h-6.11zM482.33 531.44h6.11v1.66h-6.11zM482.33 534.65h6.11v1.66h-6.11zM464.16 541.09h6.11v1.66h-6.11z"/><path fill="#f5c6c5" d="M452.04 477.6h6.11v1.65h-6.11zM452.04 479.19h6.11v1.65h-6.11zM482.33 479.19h6.11v1.65h-6.11zM415.7 493.56h6.11v1.65h-6.11zM433.87 493.56h6.11v1.65h-6.11zM433.87 496.75h6.11v1.65h-6.11zM458.1 496.75h6.11v1.65h-6.11zM458.1 501.54h6.11v1.65h-6.11zM433.87 504.73h6.11v1.65h-6.11zM488.39 504.73h6.11v1.65h-6.11zM470.21 506.33h6.11v1.65h-6.11zM458.1 507.92h6.11v1.65h-6.11zM452.04 512.71h6.11v1.65h-6.11zM494.44 512.71h6.11v1.65h-6.11zM482.33 514.31h6.11v1.65h-6.11zM433.87 515.9h6.11v1.65h-6.11zM415.7 537.87h6.11v1.66h-6.11z"/><path fill="#f4bebb" d="M488.39 467.99h6.11v1.58h-6.11zM452.04 476h6.11v1.65h-6.11zM482.33 476h6.11v1.65h-6.11zM482.33 477.6h6.11v1.65h-6.11zM470.21 479.19h6.11v1.65h-6.11zM458.1 480.79h6.11v1.65h-6.11zM433.87 485.58h6.11v1.65h-6.11zM458.1 485.58h6.11v1.65h-6.11zM458.1 487.17h6.11v1.65h-6.11zM433.87 488.77h6.11v1.65h-6.11zM415.7 495.15h6.11v1.65h-6.11zM458.1 495.15h6.11v1.65h-6.11zM488.39 496.75h6.11v1.65h-6.11zM458.1 499.94h6.11v1.65h-6.11zM494.44 499.94h6.11v1.65h-6.11zM452.04 504.73h6.11v1.65h-6.11zM494.44 509.52h6.11v1.65h-6.11zM458.1 511.12h6.11v1.65h-6.11zM415.7 515.9h6.11v1.65h-6.11zM458.1 515.9h6.11v1.65h-6.11zM464.16 525h6.11v1.66h-6.11zM464.16 528.22h6.11v1.66h-6.11zM464.16 529.83h6.11v1.66h-6.11zM464.16 534.65h6.11v1.66h-6.11z"/><path fill="#f4b5b2" d="M433.87 471.05h6.11v1.58h-6.11zM458.1 477.6h6.11v1.65h-6.11zM415.7 479.19h6.11v1.65h-6.11zM458.1 479.19h6.11v1.65h-6.11zM494.44 480.79h6.11v1.65h-6.11zM494.44 483.98h6.11v1.65h-6.11zM458.1 488.77h6.11v1.65h-6.11zM494.44 488.77h6.11v1.65h-6.11zM494.44 491.96h6.11v1.65h-6.11zM494.44 498.35h6.11v1.65h-6.11zM494.44 501.54h6.11v1.65h-6.11zM458.1 503.13h6.11v1.65h-6.11zM494.44 511.12h6.11v1.65h-6.11zM415.7 512.71h6.11v1.65h-6.11zM415.7 526.61h6.11v1.66h-6.11zM415.7 529.83h6.11v1.66h-6.11zM464.16 531.44h6.11v1.66h-6.11zM415.7 533.05h6.11v1.66h-6.11zM464.16 533.05h6.11v1.66h-6.11zM415.7 541.09h6.11v1.66h-6.11z"/><path fill="#f3ada8" d="M494.44 477.6h6.11v1.65h-6.11zM415.7 480.79h6.11v1.65h-6.11zM415.7 482.38h6.11v1.65h-6.11zM494.44 482.38h6.11v1.65h-6.11zM494.44 487.17h6.11v1.65h-6.11zM494.44 490.37h6.11v1.65h-6.11zM494.44 495.15h6.11v1.65h-6.11zM494.44 504.73h6.11v1.65h-6.11zM458.1 506.33h6.11v1.65h-6.11zM458.1 514.31h6.11v1.65h-6.11zM415.7 528.22h6.11v1.66h-6.11zM415.7 531.44h6.11v1.66h-6.11zM415.7 534.65h6.11v1.66h-6.11zM464.16 537.87h6.11v1.66h-6.11zM464.16 539.48h6.11v1.66h-6.11z"/><path fill="#f3a49e" d="M494.44 479.19h6.11v1.65h-6.11zM494.44 485.58h6.11v1.65h-6.11zM415.7 487.17h6.11v1.65h-6.11zM415.7 490.37h6.11v1.65h-6.11zM458.1 493.56h6.11v1.65h-6.11zM494.44 493.56h6.11v1.65h-6.11zM415.7 496.75h6.11v1.65h-6.11zM494.44 496.75h6.11v1.65h-6.11zM415.7 498.35h6.11v1.65h-6.11zM415.7 503.13h6.11v1.65h-6.11zM494.44 506.33h6.11v1.65h-6.11zM494.44 507.92h6.11v1.65h-6.11zM415.7 511.12h6.11v1.65h-6.11zM494.44 514.31h6.11v1.65h-6.11zM494.44 515.9h6.11v1.65h-6.11zM415.7 525h6.11v1.66h-6.11zM415.7 539.48h6.11v1.66h-6.11z"/><path fill="#f39c94" d="M494.44 460.35h6.11v1.58h-6.11zM494.44 469.52h6.11v1.58h-6.11zM415.7 477.6h6.11v1.65h-6.11zM415.7 504.73h6.11v1.65h-6.11zM415.7 506.33h6.11v1.65h-6.11zM415.7 507.92h6.11v1.65h-6.11zM464.16 536.26h6.11v1.66h-6.11zM494.44 537.87h6.11v1.66h-6.11z"/><path fill="#f29389" d="M476.27 455.3h6.11v1.15h-6.11zM439.93 460.35h6.11v1.58h-6.11zM415.7 483.98h6.11v1.65h-6.11zM415.7 485.58h6.11v1.65h-6.11zM415.7 501.54h6.11v1.65h-6.11zM494.44 503.13h6.11v1.65h-6.11zM415.7 514.31h6.11v1.65h-6.11zM464.16 526.61h6.11v1.66h-6.11zM415.7 536.26h6.11v1.66h-6.11zM439.93 541.09h6.11v1.66h-6.11z"/><path fill="#f28a7f" d="M439.93 458.83h6.11v1.58h-6.11zM439.93 461.88h6.11v1.58h-6.11zM439.93 464.94h6.11v1.58h-6.11zM439.93 466.46h6.11v1.58h-6.11zM415.7 476h6.11v1.65h-6.11zM415.7 488.77h6.11v1.65h-6.11zM415.7 491.96h6.11v1.65h-6.11zM415.7 499.94h6.11v1.65h-6.11zM494.44 526.61h6.11v1.66h-6.11zM494.44 529.83h6.11v1.66h-6.11zM494.44 533.05h6.11v1.66h-6.11z"/><path fill="#f18175" d="M494.44 528.22h6.11v1.66h-6.11zM494.44 531.44h6.11v1.66h-6.11zM494.44 536.26h6.11v1.66h-6.11zM421.76 541.09h6.11v1.66h-6.11z"/><path fill="#f1796b" d="M415.7 455.3h6.11v1.15h-6.11zM439.93 457.3h6.11v1.58h-6.11zM494.44 457.3h6.11v1.58h-6.11zM439.93 463.41h6.11v1.58h-6.11zM494.44 464.94h6.11v1.58h-6.11zM439.93 467.99h6.11v1.58h-6.11zM494.44 471.05h6.11v1.58h-6.11zM439.93 472.57h6.11v1.58h-6.11zM494.44 472.57h6.11v1.58h-6.11zM439.93 521.25h6.11v1.9h-6.11zM439.93 526.61h6.11v1.66h-6.11zM421.76 528.22h6.11v1.66h-6.11zM421.76 529.83h6.11v1.66h-6.11zM476.27 537.87h6.11v1.66h-6.11z"/><path fill="#f07060" d="M494.44 463.41h6.11v1.58h-6.11zM421.76 466.46h6.11v1.58h-6.11zM439.93 469.52h6.11v1.58h-6.11zM439.93 471.05h6.11v1.58h-6.11zM415.7 509.52h6.11v1.65h-6.11zM421.76 519.4h6.11v1.9h-6.11zM439.93 519.4h6.11v1.9h-6.11zM439.93 525h6.11v1.66h-6.11zM421.76 526.61h6.11v1.66h-6.11zM476.27 526.61h6.11v1.66h-6.11zM439.93 529.83h6.11v1.66h-6.11zM476.27 529.83h6.11v1.66h-6.11zM421.76 531.44h6.11v1.66h-6.11zM439.93 534.65h6.11v1.66h-6.11zM476.27 534.65h6.11v1.66h-6.11zM494.44 534.65h6.11v1.66h-6.11zM439.93 536.26h6.11v1.66h-6.11zM439.93 539.48h6.11v1.66h-6.11zM494.44 539.48h6.11v1.66h-6.11zM494.44 541.09h6.11v1.66h-6.11z"/><path fill="#f06756" d="M421.76 457.3h6.11v1.58h-6.11zM494.44 458.83h6.11v1.58h-6.11zM494.44 467.99h6.11v1.58h-6.11zM476.27 519.4h6.11v1.9h-6.11zM494.44 519.4h6.11v1.9h-6.11zM421.76 521.25h6.11v1.9h-6.11zM476.27 521.25h6.11v1.9h-6.11zM494.44 521.25h6.11v1.9h-6.11zM494.44 525h6.11v1.66h-6.11zM439.93 528.22h6.11v1.66h-6.11zM421.76 533.05h6.11v1.66h-6.11zM439.93 537.87h6.11v1.66h-6.11zM476.27 539.48h6.11v1.66h-6.11z"/><path fill="#f05e4c" d="M421.76 460.35h6.11v1.58h-6.11zM494.44 461.88h6.11v1.58h-6.11zM421.76 463.41h6.11v1.58h-6.11zM421.76 467.99h6.11v1.58h-6.11zM421.76 471.05h6.11v1.58h-6.11zM476.27 525h6.11v1.66h-6.11zM439.93 531.44h6.11v1.66h-6.11zM476.27 531.44h6.11v1.66h-6.11zM421.76 534.65h6.11v1.66h-6.11zM421.76 536.26h6.11v1.66h-6.11zM476.27 536.26h6.11v1.66h-6.11z"/><path fill="#ef5541" d="M421.76 464.94h6.11v1.58h-6.11zM494.44 466.46h6.11v1.58h-6.11zM476.27 533.05h6.11v1.66h-6.11zM421.76 537.87h6.11v1.66h-6.11zM421.76 539.48h6.11v1.66h-6.11zM476.27 541.09h6.11v1.66h-6.11z"/><path fill="#ef4c37" d="M421.76 458.83h6.11v1.58h-6.11zM421.76 472.57h6.11v1.58h-6.11zM421.76 525h6.11v1.66h-6.11zM476.27 528.22h6.11v1.66h-6.11zM439.93 533.05h6.11v1.66h-6.11z"/><path fill="#ee432c" d="M421.76 461.88h6.11v1.58h-6.11z"/><path fill="#ee3a22" d="M421.76 469.52h6.11v1.58h-6.11z"/>
<text x="458.1" y="439.2" font-size="6.7" text-anchor="middle" fill="#222" stroke="#222" stroke-width="0.12">4.00</text>
<line x1="418.73" y1="442.5" x2="418.73" y2="452.5" stroke="#666677" stroke-width="0.8"/><path d="M418.73,444.5L420.23,446L418.73,447.5L417.23,446Z" fill="none" stroke="#666677" stroke-width="0.7"/><line x1="424.79" y1="442.5" x2="424.79" y2="452.5" stroke="#666677" stroke-width="0.8"/><path d="M424.79,444.5L426.29,446L424.79,447.5L423.29,446Z" fill="none" stroke="#666677" stroke-width="0.7"/><line x1="430.84" y1="446" x2="430.84" y2="451.5" stroke="#3a3a7a" stroke-width="0.8"/><path d="M430.84,447.5L432.34,449L430.84,450.5L429.34,449Z" fill="#3a3a7a" stroke="#3a3a7a" stroke-width="0.7"/><line x1="436.9" y1="446" x2="436.9" y2="451.5" stroke="#3a3a7a" stroke-width="0.8"/><path d="M436.9,447.5L438.4,449L436.9,450.5L435.4,449Z" fill="#3a3a7a" stroke="#3a3a7a" stroke-width="0.7"/><line x1="442.96" y1="442.5" x2="442.96" y2="452.5" stroke="#3a3a7a" stroke-width="0.8"/><path d="M442.96,445.5L444.46,447L442.96,448.5L441.46,447Z" fill="#3a3a7a" stroke="#3a3a7a" stroke-width="0.7"/><line x1="449.01" y1="446" x2="449.01" y2="451.5" stroke="#3a3a7a" stroke-width="0.8"/><path d="M449.01,447.5L450.51,449L449.01,450.5L447.51,449Z" fill="#3a3a7a" stroke="#3a3a7a" stroke-width="0.7"/><line x1="455.07" y1="446" x2="455.07" y2="451.5" stroke="#3a3a7a" stroke-width="0.8"/><path d="M455.07,447.5L456.57,449L455.07,450.5L453.57,449Z" fill="#3a3a7a" stroke="#3a3a7a" stroke-width="0.7"/><line x1="461.13" y1="446" x2="461.13" y2="451.5" stroke="#3a3a7a" stroke-width="0.8"/><path d="M461.13,446.5L462.63,448L461.13,449.5L459.63,448Z" fill="#3a3a7a" stroke="#3a3a7a" stroke-width="0.7"/><line x1="467.19" y1="446" x2="467.19" y2="451.5" stroke="#3a3a7a" stroke-width="0.8"/><path d="M467.19,446.5L468.69,448L467.19,449.5L465.69,448Z" fill="#3a3a7a" stroke="#3a3a7a" stroke-width="0.7"/><line x1="473.24" y1="446" x2="473.24" y2="451.5" stroke="#3a3a7a" stroke-width="0.8"/><path d="M473.24,447.5L474.74,449L473.24,450.5L471.74,449Z" fill="#3a3a7a" stroke="#3a3a7a" stroke-width="0.7"/><line x1="479.3" y1="442.5" x2="479.3" y2="452.5" stroke="#3a3a7a" stroke-width="0.8"/><path d="M479.3,446.5L480.8,448L479.3,449.5L477.8,448Z" fill="#3a3a7a" stroke="#3a3a7a" stroke-width="0.7"/><line x1="485.36" y1="446" x2="485.36" y2="451.5" stroke="#3a3a7a" stroke-width="0.8"/><path d="M485.36,447.5L486.86,449L485.36,450.5L483.86,449Z" fill="#3a3a7a" stroke="#3a3a7a" stroke-width="0.7"/><line x1="491.41" y1="446" x2="491.41" y2="451.5" stroke="#3a3a7a" stroke-width="0.8"/><path d="M491.41,447.5L492.91,449L491.41,450.5L489.91,449Z" fill="#3a3a7a" stroke="#3a3a7a" stroke-width="0.7"/><line x1="497.47" y1="446" x2="497.47" y2="451.5" stroke="#3a3a7a" stroke-width="0.8"/><path d="M497.47,446.5L498.97,448L497.47,449.5L495.97,448Z" fill="#3a3a7a" stroke="#3a3a7a" stroke-width="0.7"/>
<text x="421.33" y="545.2" font-size="6.9" text-anchor="end" fill="#333" stroke="#333" stroke-width="0.12" transform="rotate(-90 421.33 545.2)">CD197</text>
<text x="427.39" y="545.2" font-size="6.9" text-anchor="end" fill="#333" stroke="#333" stroke-width="0.12" transform="rotate(-90 427.39 545.2)">CD43</text>
<text x="433.44" y="545.2" font-size="6.9" text-anchor="end" fill="#333" stroke="#333" stroke-width="0.12" transform="rotate(-90 433.44 545.2)">CD49b</text>
<text x="439.5" y="545.2" font-size="6.9" text-anchor="end" fill="#333" stroke="#333" stroke-width="0.12" transform="rotate(-90 439.5 545.2)">CD39</text>
<text x="445.56" y="545.2" font-size="6.9" text-anchor="end" fill="#333" stroke="#333" stroke-width="0.12" transform="rotate(-90 445.56 545.2)">CD26</text>
<text x="451.61" y="545.2" font-size="6.9" text-anchor="end" fill="#333" stroke="#333" stroke-width="0.12" transform="rotate(-90 451.61 545.2)">FSCA</text>
<text x="457.67" y="545.2" font-size="6.9" text-anchor="end" fill="#333" stroke="#333" stroke-width="0.12" transform="rotate(-90 457.67 545.2)">CD279</text>
<text x="463.73" y="545.2" font-size="6.9" text-anchor="end" fill="#333" stroke="#333" stroke-width="0.12" transform="rotate(-90 463.73 545.2)">CD70</text>
<text x="469.79" y="545.2" font-size="6.9" text-anchor="end" fill="#333" stroke="#333" stroke-width="0.12" transform="rotate(-90 469.79 545.2)">CD45RA</text>
<text x="475.84" y="545.2" font-size="6.9" text-anchor="end" fill="#333" stroke="#333" stroke-width="0.12" transform="rotate(-90 475.84 545.2)">CLA</text>
<text x="481.9" y="545.2" font-size="6.9" text-anchor="end" fill="#333" stroke="#333" stroke-width="0.12" transform="rotate(-90 481.9 545.2)">CD62L</text>
<text x="487.96" y="545.2" font-size="6.9" text-anchor="end" fill="#333" stroke="#333" stroke-width="0.12" transform="rotate(-90 487.96 545.2)">CD7</text>
<text x="494.01" y="545.2" font-size="6.9" text-anchor="end" fill="#333" stroke="#333" stroke-width="0.12" transform="rotate(-90 494.01 545.2)">CD164</text>
<text x="500.07" y="545.2" font-size="6.9" text-anchor="end" fill="#333" stroke="#333" stroke-width="0.12" transform="rotate(-90 500.07 545.2)">CD3</text>
<defs><linearGradient id="lg" x1="0" x2="1" y1="0" y2="0"><stop offset="0" stop-color="#2f4ca6"/><stop offset="0.5" stop-color="#f4f0f4"/><stop offset="1" stop-color="#d2303e"/></linearGradient></defs>
<rect x="442.7" y="574.3" width="39.3" height="5.4" fill="url(#lg)"/>
<text x="439.8" y="579.3" font-size="6.6" text-anchor="end" fill="#333" stroke="#333" stroke-width="0.12">Low</text>
<text x="485.4" y="579.3" font-size="6.6" text-anchor="start" fill="#333" stroke="#333" stroke-width="0.12">High</text>
<text x="463.2" y="590.6" font-size="8.4" text-anchor="middle" fill="#222" font-weight="bold" textLength="34" lengthAdjust="spacingAndGlyphs">Fluorescence</text>
<text x="463.2" y="600.8" font-size="8.4" text-anchor="middle" fill="#222" font-weight="bold" textLength="22" lengthAdjust="spacingAndGlyphs">intensity</text>
<text x="8.5" y="586" font-size="12.5" text-anchor="start" fill="#000" font-weight="bold">I</text>
<text x="28.6" y="607.5" font-size="8.4" text-anchor="middle" fill="#222" stroke="#222" stroke-width="0.12" transform="rotate(-90 28.6 607.5)">Romidepsin (nM)</text>
<text x="28.6" y="664.7" font-size="8.4" text-anchor="middle" fill="#222" stroke="#222" stroke-width="0.12" transform="rotate(-90 28.6 664.7)">SAHA (μM)</text>
<line x1="76.2" y1="580.6" x2="76.2" y2="634" stroke="#111" stroke-width="1.4"/>
<line x1="76.2" y1="634" x2="130.6" y2="634" stroke="#111" stroke-width="1.4"/>
<line x1="73.7" y1="584.9" x2="76.2" y2="584.9" stroke="#111" stroke-width="1"/>
<text x="70.6" y="587.2" font-size="6.4" text-anchor="end" fill="#333" stroke="#333" stroke-width="0.12">1.00</text>
<line x1="73.7" y1="597.5" x2="76.2" y2="597.5" stroke="#111" stroke-width="1"/>
<text x="70.6" y="599.8" font-size="6.4" text-anchor="end" fill="#333" stroke="#333" stroke-width="0.12">0.95</text>
<line x1="73.7" y1="609.8" x2="76.2" y2="609.8" stroke="#111" stroke-width="1"/>
<text x="70.6" y="612.1" font-size="6.4" text-anchor="end" fill="#333" stroke="#333" stroke-width="0.12">0.90</text>
<line x1="73.7" y1="622.2" x2="76.2" y2="622.2" stroke="#111" stroke-width="1"/>
<text x="70.6" y="624.5" font-size="6.4" text-anchor="end" fill="#333" stroke="#333" stroke-width="0.12">0.85</text>
<path d="M84.2,584.9 L97.1,583.5 L110,601.2 L122.8,625.5" fill="none" stroke="#c03a30" stroke-width="1.3"/>
<rect x="83" y="583.7" width="2.4" height="2.4" fill="#7a2a26"/>
<rect x="95.9" y="582.3" width="2.4" height="2.4" fill="#7a2a26"/>
<path d="M110,596.2V606.2M108.7,596.2h2.6M108.7,606.2h2.6" stroke="#222" stroke-width="0.9" fill="none"/>
<rect x="108.8" y="600" width="2.4" height="2.4" fill="#7a2a26"/>
<path d="M122.8,619.5V632.3M121.5,619.5h2.6M121.5,632.3h2.6" stroke="#222" stroke-width="0.9" fill="none"/>
<rect x="121.6" y="624.3" width="2.4" height="2.4" fill="#7a2a26"/>
<line x1="76.2" y1="638" x2="76.2" y2="692" stroke="#111" stroke-width="1.4"/>
<line x1="76.2" y1="692" x2="130.6" y2="692" stroke="#111" stroke-width="1.4"/>
<line x1="73.7" y1="644.3" x2="76.2" y2="644.3" stroke="#111" stroke-width="1"/>
<text x="70.6" y="646.6" font-size="6.4" text-anchor="end" fill="#333" stroke="#333" stroke-width="0.12">1.0</text>
<line x1="73.7" y1="662.3" x2="76.2" y2="662.3" stroke="#111" stroke-width="1"/>
<text x="70.6" y="664.6" font-size="6.4" text-anchor="end" fill="#333" stroke="#333" stroke-width="0.12">0.9</text>
<line x1="73.7" y1="680.4" x2="76.2" y2="680.4" stroke="#111" stroke-width="1"/>
<text x="70.6" y="682.7" font-size="6.4" text-anchor="end" fill="#333" stroke="#333" stroke-width="0.12">0.8</text>
<path d="M84.2,644.3 L97.1,642 L110,654.5 L122.8,680.5" fill="none" stroke="#c03a30" stroke-width="1.3"/>
<rect x="83" y="643.1" width="2.4" height="2.4" fill="#7a2a26"/>
<path d="M97.1,640.7V643.3M95.8,640.7h2.6M95.8,643.3h2.6" stroke="#222" stroke-width="0.9" fill="none"/>
<rect x="95.9" y="640.8" width="2.4" height="2.4" fill="#7a2a26"/>
<path d="M110,640.5V666.5M108.7,640.5h2.6M108.7,666.5h2.6" stroke="#222" stroke-width="0.9" fill="none"/>
<rect x="108.8" y="653.3" width="2.4" height="2.4" fill="#7a2a26"/>
<path d="M122.8,673V688M121.5,673h2.6M121.5,688h2.6" stroke="#222" stroke-width="0.9" fill="none"/>
<rect x="121.6" y="679.3" width="2.4" height="2.4" fill="#7a2a26"/>
<line x1="84.2" y1="692" x2="84.2" y2="694.5" stroke="#111" stroke-width="1"/>
<text x="88.2" y="701.5" font-size="6.4" text-anchor="end" fill="#333" stroke="#333" stroke-width="0.12" transform="rotate(-45 88.2 701.5)">0.06</text>
<line x1="97.1" y1="692" x2="97.1" y2="694.5" stroke="#111" stroke-width="1"/>
<text x="101.1" y="701.5" font-size="6.4" text-anchor="end" fill="#333" stroke="#333" stroke-width="0.12" transform="rotate(-45 101.1 701.5)">0.25</text>
<line x1="110" y1="692" x2="110" y2="694.5" stroke="#111" stroke-width="1"/>
<text x="114" y="701.5" font-size="6.4" text-anchor="end" fill="#333" stroke="#333" stroke-width="0.12" transform="rotate(-45 114 701.5)">1.00</text>
<line x1="122.8" y1="692" x2="122.8" y2="694.5" stroke="#111" stroke-width="1"/>
<text x="126.8" y="701.5" font-size="6.4" text-anchor="end" fill="#333" stroke="#333" stroke-width="0.12" transform="rotate(-45 126.8 701.5)">4.00</text>
<line x1="176.5" y1="580.6" x2="176.5" y2="634" stroke="#111" stroke-width="1.4"/>
<line x1="176.5" y1="634" x2="230.6" y2="634" stroke="#111" stroke-width="1.4"/>
<line x1="174" y1="588.3" x2="176.5" y2="588.3" stroke="#111" stroke-width="1"/>
<text x="170.9" y="590.6" font-size="6.4" text-anchor="end" fill="#333" stroke="#333" stroke-width="0.12">1.0</text>
<line x1="174" y1="602.8" x2="176.5" y2="602.8" stroke="#111" stroke-width="1"/>
<text x="170.9" y="605.1" font-size="6.4" text-anchor="end" fill="#333" stroke="#333" stroke-width="0.12">0.8</text>
<line x1="174" y1="617.6" x2="176.5" y2="617.6" stroke="#111" stroke-width="1"/>
<text x="170.9" y="619.9" font-size="6.4" text-anchor="end" fill="#333" stroke="#333" stroke-width="0.12">0.6</text>
<line x1="174" y1="632.1" x2="176.5" y2="632.1" stroke="#111" stroke-width="1"/>
<text x="170.9" y="634.4" font-size="6.4" text-anchor="end" fill="#333" stroke="#333" stroke-width="0.12">0.4</text>
<path d="M184.4,588.6 L197.3,584.2 L210.2,610.4 L223,627.5" fill="none" stroke="#c03a30" stroke-width="1.3"/>
<rect x="183.2" y="587.4" width="2.4" height="2.4" fill="#7a2a26"/>
<rect x="196.1" y="583" width="2.4" height="2.4" fill="#7a2a26"/>
<path d="M210.2,604V616.5M208.9,604h2.6M208.9,616.5h2.6" stroke="#222" stroke-width="0.9" fill="none"/>
<rect x="209" y="609.2" width="2.4" height="2.4" fill="#7a2a26"/>
<path d="M223,624.8V631.5M221.7,624.8h2.6M221.7,631.5h2.6" stroke="#222" stroke-width="0.9" fill="none"/>
<rect x="221.8" y="626.3" width="2.4" height="2.4" fill="#7a2a26"/>
<line x1="176.5" y1="638" x2="176.5" y2="692" stroke="#111" stroke-width="1.4"/>
<line x1="176.5" y1="692" x2="230.6" y2="692" stroke="#111" stroke-width="1.4"/>
<line x1="174" y1="650.8" x2="176.5" y2="650.8" stroke="#111" stroke-width="1"/>
<text x="170.9" y="653.1" font-size="6.4" text-anchor="end" fill="#333" stroke="#333" stroke-width="0.12">1.00</text>
<line x1="174" y1="665.6" x2="176.5" y2="665.6" stroke="#111" stroke-width="1"/>
<text x="170.9" y="667.9" font-size="6.4" text-anchor="end" fill="#333" stroke="#333" stroke-width="0.12">0.75</text>
<line x1="174" y1="680.4" x2="176.5" y2="680.4" stroke="#111" stroke-width="1"/>
<text x="170.9" y="682.7" font-size="6.4" text-anchor="end" fill="#333" stroke="#333" stroke-width="0.12">0.50</text>
<path d="M184.4,650.8 L197.3,644.2 L210.2,657.2 L223,686" fill="none" stroke="#c03a30" stroke-width="1.3"/>
<rect x="183.2" y="649.6" width="2.4" height="2.4" fill="#7a2a26"/>
<path d="M197.3,640.6V646.5M196,640.6h2.6M196,646.5h2.6" stroke="#222" stroke-width="0.9" fill="none"/>
<rect x="196.1" y="643" width="2.4" height="2.4" fill="#7a2a26"/>
<path d="M210.2,647.3V664.6M208.9,647.3h2.6M208.9,664.6h2.6" stroke="#222" stroke-width="0.9" fill="none"/>
<rect x="209" y="656" width="2.4" height="2.4" fill="#7a2a26"/>
<path d="M223,682V690M221.7,682h2.6M221.7,690h2.6" stroke="#222" stroke-width="0.9" fill="none"/>
<rect x="221.8" y="684.8" width="2.4" height="2.4" fill="#7a2a26"/>
<line x1="184.4" y1="692" x2="184.4" y2="694.5" stroke="#111" stroke-width="1"/>
<text x="188.4" y="701.5" font-size="6.4" text-anchor="end" fill="#333" stroke="#333" stroke-width="0.12" transform="rotate(-45 188.4 701.5)">0.06</text>
<line x1="197.3" y1="692" x2="197.3" y2="694.5" stroke="#111" stroke-width="1"/>
<text x="201.3" y="701.5" font-size="6.4" text-anchor="end" fill="#333" stroke="#333" stroke-width="0.12" transform="rotate(-45 201.3 701.5)">0.25</text>
<line x1="210.2" y1="692" x2="210.2" y2="694.5" stroke="#111" stroke-width="1"/>
<text x="214.2" y="701.5" font-size="6.4" text-anchor="end" fill="#333" stroke="#333" stroke-width="0.12" transform="rotate(-45 214.2 701.5)">1.00</text>
<line x1="223" y1="692" x2="223" y2="694.5" stroke="#111" stroke-width="1"/>
<text x="227" y="701.5" font-size="6.4" text-anchor="end" fill="#333" stroke="#333" stroke-width="0.12" transform="rotate(-45 227 701.5)">4.00</text>
<line x1="272.7" y1="580.6" x2="272.7" y2="634" stroke="#111" stroke-width="1.4"/>
<line x1="272.7" y1="634" x2="326.8" y2="634" stroke="#111" stroke-width="1.4"/>
<line x1="270.2" y1="585.4" x2="272.7" y2="585.4" stroke="#111" stroke-width="1"/>
<text x="267.1" y="587.7" font-size="6.4" text-anchor="end" fill="#333" stroke="#333" stroke-width="0.12">1.0</text>
<line x1="270.2" y1="599.2" x2="272.7" y2="599.2" stroke="#111" stroke-width="1"/>
<text x="267.1" y="601.5" font-size="6.4" text-anchor="end" fill="#333" stroke="#333" stroke-width="0.12">0.9</text>
<line x1="270.2" y1="612.9" x2="272.7" y2="612.9" stroke="#111" stroke-width="1"/>
<text x="267.1" y="615.2" font-size="6.4" text-anchor="end" fill="#333" stroke="#333" stroke-width="0.12">0.8</text>
<line x1="270.2" y1="626.6" x2="272.7" y2="626.6" stroke="#111" stroke-width="1"/>
<text x="267.1" y="628.9" font-size="6.4" text-anchor="end" fill="#333" stroke="#333" stroke-width="0.12">0.7</text>
<path d="M280.6,587 L293.5,583.8 L306.4,602.3 L319.2,626.5" fill="none" stroke="#c03a30" stroke-width="1.3"/>
<rect x="279.4" y="585.8" width="2.4" height="2.4" fill="#7a2a26"/>
<rect x="292.3" y="582.6" width="2.4" height="2.4" fill="#7a2a26"/>
<path d="M306.4,597.3V607.5M305.1,597.3h2.6M305.1,607.5h2.6" stroke="#222" stroke-width="0.9" fill="none"/>
<rect x="305.2" y="601.1" width="2.4" height="2.4" fill="#7a2a26"/>
<path d="M319.2,622.3V632M317.9,622.3h2.6M317.9,632h2.6" stroke="#222" stroke-width="0.9" fill="none"/>
<rect x="318" y="625.3" width="2.4" height="2.4" fill="#7a2a26"/>
<line x1="272.7" y1="638" x2="272.7" y2="692" stroke="#111" stroke-width="1.4"/>
<line x1="272.7" y1="692" x2="326.8" y2="692" stroke="#111" stroke-width="1.4"/>
<line x1="270.2" y1="645.8" x2="272.7" y2="645.8" stroke="#111" stroke-width="1"/>
<text x="267.1" y="648.1" font-size="6.4" text-anchor="end" fill="#333" stroke="#333" stroke-width="0.12">1.0</text>
<line x1="270.2" y1="657.2" x2="272.7" y2="657.2" stroke="#111" stroke-width="1"/>
<text x="267.1" y="659.5" font-size="6.4" text-anchor="end" fill="#333" stroke="#333" stroke-width="0.12">0.9</text>
<line x1="270.2" y1="668.6" x2="272.7" y2="668.6" stroke="#111" stroke-width="1"/>
<text x="267.1" y="670.9" font-size="6.4" text-anchor="end" fill="#333" stroke="#333" stroke-width="0.12">0.8</text>
<line x1="270.2" y1="680" x2="272.7" y2="680" stroke="#111" stroke-width="1"/>
<text x="267.1" y="682.3" font-size="6.4" text-anchor="end" fill="#333" stroke="#333" stroke-width="0.12">0.7</text>
<line x1="270.2" y1="691.4" x2="272.7" y2="691.4" stroke="#111" stroke-width="1"/>
<text x="267.1" y="693.7" font-size="6.4" text-anchor="end" fill="#333" stroke="#333" stroke-width="0.12">0.6</text>
<path d="M280.6,645.8 L293.5,642.5 L306.4,652.7 L319.2,683.8" fill="none" stroke="#c03a30" stroke-width="1.3"/>
<rect x="279.4" y="644.6" width="2.4" height="2.4" fill="#7a2a26"/>
<path d="M293.5,641V644M292.2,641h2.6M292.2,644h2.6" stroke="#222" stroke-width="0.9" fill="none"/>
<rect x="292.3" y="641.3" width="2.4" height="2.4" fill="#7a2a26"/>
<path d="M306.4,643.5V662.7M305.1,643.5h2.6M305.1,662.7h2.6" stroke="#222" stroke-width="0.9" fill="none"/>
<rect x="305.2" y="651.5" width="2.4" height="2.4" fill="#7a2a26"/>
<path d="M319.2,676V690M317.9,676h2.6M317.9,690h2.6" stroke="#222" stroke-width="0.9" fill="none"/>
<rect x="318" y="682.6" width="2.4" height="2.4" fill="#7a2a26"/>
<line x1="280.6" y1="692" x2="280.6" y2="694.5" stroke="#111" stroke-width="1"/>
<text x="284.6" y="701.5" font-size="6.4" text-anchor="end" fill="#333" stroke="#333" stroke-width="0.12" transform="rotate(-45 284.6 701.5)">0.06</text>
<line x1="293.5" y1="692" x2="293.5" y2="694.5" stroke="#111" stroke-width="1"/>
<text x="297.5" y="701.5" font-size="6.4" text-anchor="end" fill="#333" stroke="#333" stroke-width="0.12" transform="rotate(-45 297.5 701.5)">0.25</text>
<line x1="306.4" y1="692" x2="306.4" y2="694.5" stroke="#111" stroke-width="1"/>
<text x="310.4" y="701.5" font-size="6.4" text-anchor="end" fill="#333" stroke="#333" stroke-width="0.12" transform="rotate(-45 310.4 701.5)">1.00</text>
<line x1="319.2" y1="692" x2="319.2" y2="694.5" stroke="#111" stroke-width="1"/>
<text x="323.2" y="701.5" font-size="6.4" text-anchor="end" fill="#333" stroke="#333" stroke-width="0.12" transform="rotate(-45 323.2 701.5)">4.00</text>
<line x1="368.9" y1="580.4" x2="368.9" y2="633.6" stroke="#111" stroke-width="1.4"/>
<line x1="368.9" y1="633.6" x2="422" y2="633.6" stroke="#111" stroke-width="1.4"/>
<line x1="366.4" y1="581" x2="368.9" y2="581" stroke="#111" stroke-width="1"/>
<text x="363.3" y="583.3" font-size="6.4" text-anchor="end" fill="#333" stroke="#333" stroke-width="0.12">1.1</text>
<line x1="366.4" y1="598.8" x2="368.9" y2="598.8" stroke="#111" stroke-width="1"/>
<text x="363.3" y="601.1" font-size="6.4" text-anchor="end" fill="#333" stroke="#333" stroke-width="0.12">1.0</text>
<line x1="366.4" y1="616.6" x2="368.9" y2="616.6" stroke="#111" stroke-width="1"/>
<text x="363.3" y="618.9" font-size="6.4" text-anchor="end" fill="#333" stroke="#333" stroke-width="0.12">0.9</text>
<path d="M377,605.8 L389.9,596.5 L402.8,589.6 L415.6,623" fill="none" stroke="#c03a30" stroke-width="1.3"/>
<path d="M377,603V608.8M375.7,603h2.6M375.7,608.8h2.6" stroke="#222" stroke-width="0.9" fill="none"/>
<rect x="375.8" y="604.6" width="2.4" height="2.4" fill="#7a2a26"/>
<path d="M389.9,593V600M388.6,593h2.6M388.6,600h2.6" stroke="#222" stroke-width="0.9" fill="none"/>
<rect x="388.7" y="595.3" width="2.4" height="2.4" fill="#7a2a26"/>
<path d="M402.8,582.7V595.8M401.5,582.7h2.6M401.5,595.8h2.6" stroke="#222" stroke-width="0.9" fill="none"/>
<rect x="401.6" y="588.4" width="2.4" height="2.4" fill="#7a2a26"/>
<path d="M415.6,617.3V631.8M414.3,617.3h2.6M414.3,631.8h2.6" stroke="#222" stroke-width="0.9" fill="none"/>
<rect x="414.4" y="621.8" width="2.4" height="2.4" fill="#7a2a26"/>
<line x1="368.9" y1="638" x2="368.9" y2="691.8" stroke="#111" stroke-width="1.4"/>
<line x1="368.9" y1="691.8" x2="422" y2="691.8" stroke="#111" stroke-width="1.4"/>
<line x1="366.4" y1="650.8" x2="368.9" y2="650.8" stroke="#111" stroke-width="1"/>
<text x="363.3" y="653.1" font-size="6.4" text-anchor="end" fill="#333" stroke="#333" stroke-width="0.12">1.0</text>
<line x1="366.4" y1="669.4" x2="368.9" y2="669.4" stroke="#111" stroke-width="1"/>
<text x="363.3" y="671.7" font-size="6.4" text-anchor="end" fill="#333" stroke="#333" stroke-width="0.12">0.9</text>
<line x1="366.4" y1="688.2" x2="368.9" y2="688.2" stroke="#111" stroke-width="1"/>
<text x="363.3" y="690.5" font-size="6.4" text-anchor="end" fill="#333" stroke="#333" stroke-width="0.12">0.8</text>
<path d="M377,653 L389.9,648.5 L402.8,646.8 L415.6,671.5" fill="none" stroke="#c03a30" stroke-width="1.3"/>
<path d="M377,650.5V655.5M375.7,650.5h2.6M375.7,655.5h2.6" stroke="#222" stroke-width="0.9" fill="none"/>
<rect x="375.8" y="651.8" width="2.4" height="2.4" fill="#7a2a26"/>
<path d="M389.9,646V651M388.6,646h2.6M388.6,651h2.6" stroke="#222" stroke-width="0.9" fill="none"/>
<rect x="388.7" y="647.3" width="2.4" height="2.4" fill="#7a2a26"/>
<path d="M402.8,639.7V653.5M401.5,639.7h2.6M401.5,653.5h2.6" stroke="#222" stroke-width="0.9" fill="none"/>
<rect x="401.6" y="645.6" width="2.4" height="2.4" fill="#7a2a26"/>
<path d="M415.6,653V690M414.3,653h2.6M414.3,690h2.6" stroke="#222" stroke-width="0.9" fill="none"/>
<rect x="414.4" y="670.3" width="2.4" height="2.4" fill="#7a2a26"/>
<line x1="377" y1="691.8" x2="377" y2="694.3" stroke="#111" stroke-width="1"/>
<text x="381" y="701.3" font-size="6.4" text-anchor="end" fill="#333" stroke="#333" stroke-width="0.12" transform="rotate(-45 381 701.3)">0.06</text>
<line x1="389.9" y1="691.8" x2="389.9" y2="694.3" stroke="#111" stroke-width="1"/>
<text x="393.9" y="701.3" font-size="6.4" text-anchor="end" fill="#333" stroke="#333" stroke-width="0.12" transform="rotate(-45 393.9 701.3)">0.25</text>
<line x1="402.8" y1="691.8" x2="402.8" y2="694.3" stroke="#111" stroke-width="1"/>
<text x="406.8" y="701.3" font-size="6.4" text-anchor="end" fill="#333" stroke="#333" stroke-width="0.12" transform="rotate(-45 406.8 701.3)">1.00</text>
<line x1="415.6" y1="691.8" x2="415.6" y2="694.3" stroke="#111" stroke-width="1"/>
<text x="419.6" y="701.3" font-size="6.4" text-anchor="end" fill="#333" stroke="#333" stroke-width="0.12" transform="rotate(-45 419.6 701.3)">4.00</text>
<text x="41.1" y="635" font-size="7.6" text-anchor="middle" fill="#222" font-weight="bold" transform="rotate(-90 41.1 635)" textLength="40" lengthAdjust="spacingAndGlyphs">Shannon index</text>
<text x="52" y="635.5" font-size="7.6" text-anchor="middle" fill="#222" font-weight="bold" transform="rotate(-90 52 635.5)" textLength="67.5" lengthAdjust="spacingAndGlyphs">(normalized to untreated)</text>
<text x="140.8" y="635" font-size="7.6" text-anchor="middle" fill="#222" font-weight="bold" transform="rotate(-90 140.8 635)" textLength="38" lengthAdjust="spacingAndGlyphs">Simpson index</text>
<text x="151.3" y="635.5" font-size="7.6" text-anchor="middle" fill="#222" font-weight="bold" transform="rotate(-90 151.3 635.5)" textLength="67.5" lengthAdjust="spacingAndGlyphs">(normalized to untreated)</text>
<text x="241.3" y="635" font-size="7.6" text-anchor="middle" fill="#222" font-weight="bold" transform="rotate(-90 241.3 635)" textLength="42.5" lengthAdjust="spacingAndGlyphs">Inverse simpson</text>
<text x="252.5" y="635.5" font-size="7.6" text-anchor="middle" fill="#222" font-weight="bold" transform="rotate(-90 252.5 635.5)" textLength="67.5" lengthAdjust="spacingAndGlyphs">(normalized to untreated)</text>
<text x="337.8" y="635" font-size="7.6" text-anchor="middle" fill="#222" font-weight="bold" transform="rotate(-90 337.8 635)" textLength="35.5" lengthAdjust="spacingAndGlyphs">Fisher's alpha</text>
<text x="348.3" y="635.5" font-size="7.6" text-anchor="middle" fill="#222" font-weight="bold" transform="rotate(-90 348.3 635.5)" textLength="67.5" lengthAdjust="spacingAndGlyphs">(normalized to untreated)</text>
<rect x="0.5" y="0.5" width="519" height="717" fill="none" stroke="#111" stroke-width="1.2"/>
</svg></body></html>
